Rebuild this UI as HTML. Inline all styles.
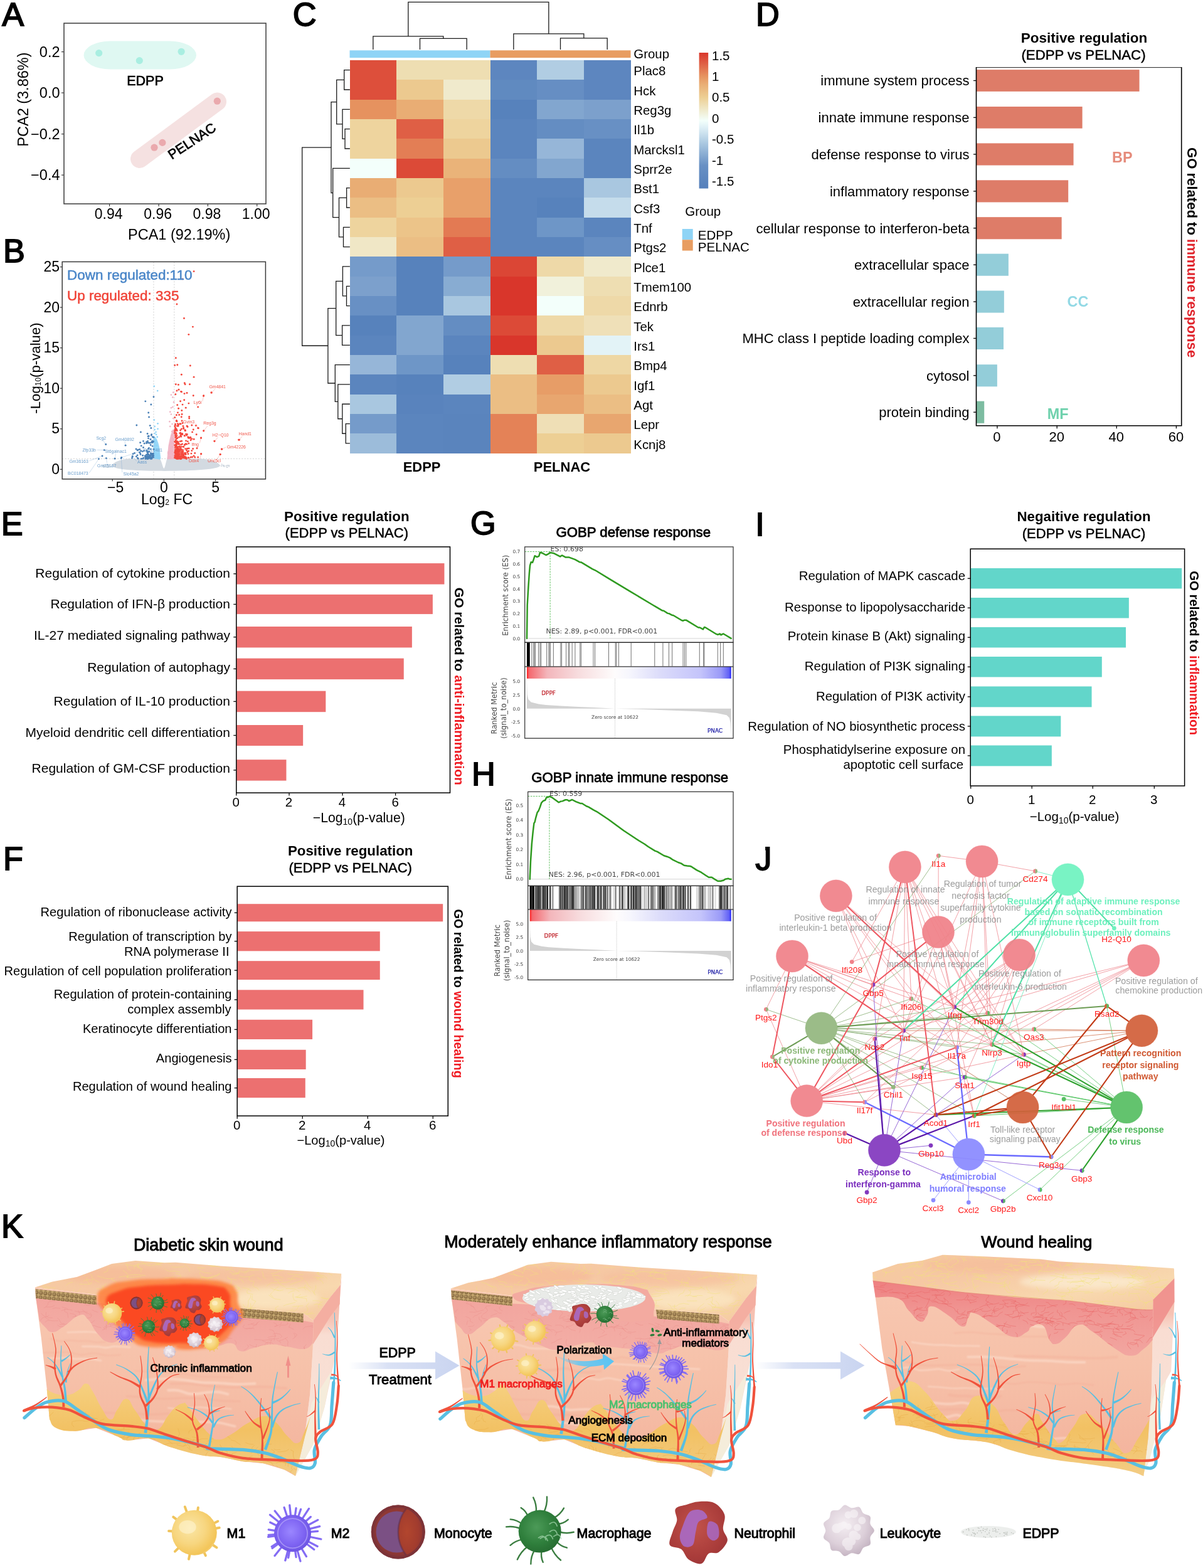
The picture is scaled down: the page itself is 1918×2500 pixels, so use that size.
<!DOCTYPE html>
<html lang="en"><head><meta charset="utf-8"><title>Figure</title>
<style>
html,body{margin:0;padding:0;background:#fff;}
body{width:1918px;height:2500px;overflow:hidden;}
svg{display:block;font-family:"Liberation Sans",Arial,Helvetica,sans-serif;}
.dj{font-family:"DejaVu Sans","Liberation Sans",sans-serif;}
</style></head><body>
<svg width="1918" height="2500" viewBox="0 0 1918 2500">
<defs>
<linearGradient id="hmleg" x1="0" y1="0" x2="0" y2="1"><stop offset="0" stop-color="#d9362b"/><stop offset="0.08" stop-color="#df5f45"/><stop offset="0.17" stop-color="#e6925f"/><stop offset="0.23" stop-color="#e9ad74"/><stop offset="0.33" stop-color="#edcf94"/><stop offset="0.43" stop-color="#f0ecd0"/><stop offset="0.5" stop-color="#f3fffb"/><stop offset="0.55" stop-color="#dff0f6"/><stop offset="0.67" stop-color="#a9c7e0"/><stop offset="0.83" stop-color="#6890c4"/><stop offset="1" stop-color="#5580bb"/></linearGradient>
<linearGradient id="gseabar" x1="0" y1="0" x2="1" y2="0"><stop offset="0" stop-color="#ff2020"/><stop offset="0.012" stop-color="#f46a70"/><stop offset="0.1" stop-color="#f3b6bb"/><stop offset="0.25" stop-color="#f7dcde"/><stop offset="0.43" stop-color="#fefcfc"/><stop offset="0.5" stop-color="#f6f6fd"/><stop offset="0.65" stop-color="#dcdcfa"/><stop offset="0.85" stop-color="#c4c4fb"/><stop offset="0.95" stop-color="#9a9af8"/><stop offset="0.99" stop-color="#6060f6"/><stop offset="1" stop-color="#2020ff"/></linearGradient>
<radialGradient id="gM1" cx="0.4" cy="0.4" r="0.7"><stop offset="0" stop-color="#fae6a6"/><stop offset="0.5" stop-color="#f7d680"/><stop offset="0.85" stop-color="#f3c558"/><stop offset="1" stop-color="#f6dc9c"/></radialGradient>
<radialGradient id="gM2" cx="0.45" cy="0.45" r="0.6"><stop offset="0" stop-color="#9a86ff"/><stop offset="0.6" stop-color="#7e64f2"/><stop offset="1" stop-color="#6a52e0"/></radialGradient>
<radialGradient id="gMono" cx="0.55" cy="0.45" r="0.62"><stop offset="0" stop-color="#a03c30"/><stop offset="0.7" stop-color="#8e3834"/><stop offset="1" stop-color="#7c3238"/></radialGradient>
<radialGradient id="gMonoIn" cx="0.35" cy="0.5" r="0.75"><stop offset="0" stop-color="#b2462e"/><stop offset="0.6" stop-color="#a23c2e"/><stop offset="1" stop-color="#863436"/></radialGradient>
<radialGradient id="gMac" cx="0.42" cy="0.4" r="0.65"><stop offset="0" stop-color="#4c9a58"/><stop offset="0.6" stop-color="#2f7f3c"/><stop offset="1" stop-color="#256a30"/></radialGradient>
<radialGradient id="gNeu" cx="0.45" cy="0.4" r="0.7"><stop offset="0" stop-color="#c2524a"/><stop offset="0.7" stop-color="#a93c3a"/><stop offset="1" stop-color="#983438"/></radialGradient>
<radialGradient id="gLeu" cx="0.42" cy="0.38" r="0.68"><stop offset="0" stop-color="#f4eef2"/><stop offset="0.6" stop-color="#ddd0da"/><stop offset="1" stop-color="#bfaebd"/></radialGradient>
<filter id="soft1" x="-20%" y="-20%" width="140%" height="140%"><feGaussianBlur stdDeviation="0.6"/></filter>
<linearGradient id="kTop" x1="0" y1="0" x2="1" y2="1"><stop offset="0" stop-color="#f6cb9e"/><stop offset="0.35" stop-color="#f6c8a4"/><stop offset="0.7" stop-color="#f8d8ae"/><stop offset="1" stop-color="#f5c9a0"/></linearGradient>
<linearGradient id="kDerm" x1="0" y1="0" x2="0" y2="1"><stop offset="0" stop-color="#f8c9b2"/><stop offset="0.5" stop-color="#f6c0a8"/><stop offset="1" stop-color="#f3b29c"/></linearGradient>
<linearGradient id="kPink" x1="0" y1="0" x2="0" y2="1"><stop offset="0" stop-color="#f2a59e"/><stop offset="1" stop-color="#f3aea6"/></linearGradient>
<linearGradient id="kPink3" x1="0" y1="0" x2="0" y2="1"><stop offset="0" stop-color="#ee7f80"/><stop offset="0.4" stop-color="#f09592"/><stop offset="1" stop-color="#f2a6a0"/></linearGradient>
<linearGradient id="kFat" x1="0" y1="0" x2="0" y2="1"><stop offset="0" stop-color="#f6d080"/><stop offset="0.5" stop-color="#f2c163"/><stop offset="1" stop-color="#f3cc84"/></linearGradient>
<linearGradient id="kSide" x1="0" y1="0" x2="0" y2="1"><stop offset="0" stop-color="#f4b2a4"/><stop offset="0.22" stop-color="#f6c3b4"/><stop offset="0.3" stop-color="#f9ddd2"/><stop offset="0.7" stop-color="#f8e1d6"/><stop offset="1" stop-color="#f5ecd9"/></linearGradient>
<radialGradient id="kWound" cx="0.5" cy="0.5" r="0.5"><stop offset="0" stop-color="#ff3c14"/><stop offset="0.6" stop-color="#ff461c"/><stop offset="0.85" stop-color="#ff6a2c" stop-opacity="0.95"/><stop offset="1" stop-color="#ff9a48" stop-opacity="0"/></radialGradient>
<linearGradient id="kArrow" x1="0" y1="0" x2="1" y2="0"><stop offset="0" stop-color="#d5def3" stop-opacity="0"/><stop offset="0.35" stop-color="#d3dcf3" stop-opacity="0.85"/><stop offset="1" stop-color="#c9d4f0"/></linearGradient>
<linearGradient id="kCyan" x1="0" y1="0" x2="1" y2="0"><stop offset="0" stop-color="#6cc8f0" stop-opacity="0"/><stop offset="0.4" stop-color="#62c6f2" stop-opacity="0.85"/><stop offset="1" stop-color="#58c4f4"/></linearGradient>
<filter id="blur2" x="-10%" y="-10%" width="120%" height="120%"><feGaussianBlur stdDeviation="2"/></filter>
<filter id="blur4" x="-20%" y="-20%" width="140%" height="140%"><feGaussianBlur stdDeviation="4"/></filter>
<filter id="blur1" x="-10%" y="-10%" width="120%" height="120%"><feGaussianBlur stdDeviation="0.9"/></filter>
<pattern id="kDots" width="7.1" height="7.2" patternUnits="userSpaceOnUse" patternTransform="rotate(6) translate(0 2.2)"><rect width="7.1" height="7.2" fill="#c6a870"/><circle cx="3.55" cy="3.6" r="3.1" fill="#8a6c42"/><circle cx="3.2" cy="3.2" r="1.8" fill="#ae9060"/></pattern><clipPath id="cf101"><path d="M74.64 2204.29L495.18 2240L485.36 2293.57L473.75 2348.04L405 2333.75L351.43 2329.29L280 2311.43L262.14 2301.61L226.43 2297.14L190.71 2290L155 2275.71L128.21 2283.75L101.43 2282.86L78.21 2268.57Z"/></clipPath><clipPath id="ct101"><path d="M55.89 2052.5L83.57 2043.57L122.86 2036.07L155 2023.93L178.21 2015L215.71 2010L262.14 2013.21L280 2012.86L351.43 2018.57L440.71 2023.93L512.14 2028.39L544.29 2030.71L542.5 2048.93L526.43 2068.57L499.64 2105.18L483.57 2093.57L380 2085.54L155 2064.11Z"/></clipPath><clipPath id="cf202"><path d="M737.54 2206.09L1158.08 2241.8L1148.26 2295.37L1136.65 2349.84L1067.9 2335.55L1014.33 2331.09L942.9 2313.23L925.04 2303.41L889.33 2298.94L853.61 2291.8L817.9 2277.51L791.11 2285.55L764.33 2284.66L741.11 2270.37Z"/></clipPath><clipPath id="ct202"><path d="M718.79 2054.3L746.47 2045.37L785.76 2037.87L817.9 2025.73L841.11 2016.8L878.61 2011.8L925.04 2015.01L942.9 2014.66L1014.33 2020.37L1103.61 2025.73L1175.04 2030.19L1207.19 2032.51L1205.4 2050.73L1189.33 2070.37L1162.54 2106.98L1146.47 2095.37L1042.9 2087.34L817.9 2065.91Z"/></clipPath>
</defs>
<rect x="0" y="0" width="1918" height="2500" fill="#ffffff"/>
<g id="panel-a">
<text transform="translate(3.2 40.5) scale(1 1)" font-size="52.3" stroke="#000" stroke-width="1.8" stroke-linejoin="miter">A</text>
<rect x="133.5" y="65.5" width="179.5" height="45" rx="42" ry="22.5" fill="#dff8f2"/>
<circle cx="157.7" cy="84.6" r="5.6" fill="#a9eee1"/>
<circle cx="222.3" cy="96.6" r="5.6" fill="#a9eee1"/>
<circle cx="289.1" cy="82.3" r="5.6" fill="#a9eee1"/>
<line x1="222.5" y1="253.5" x2="346.5" y2="162" stroke="#f5e1e1" stroke-width="29" stroke-linecap="round"/>
<circle cx="246" cy="235.2" r="5.6" fill="#eaa9ad"/>
<circle cx="258.9" cy="227.4" r="5.6" fill="#eaa9ad"/>
<circle cx="346.3" cy="161.2" r="5.6" fill="#eaa9ad"/>
<rect x="102" y="37" width="322" height="288" fill="none" stroke="#3a3a3a" stroke-width="1.5"/>
<line x1="98" y1="82.6" x2="102" y2="82.6" stroke="#3c3c3c" stroke-width="1.2"/>
<text x="95.5" y="90.9" font-size="23.5" text-anchor="end">0.2</text>
<line x1="98" y1="148" x2="102" y2="148" stroke="#3c3c3c" stroke-width="1.2"/>
<text x="95.5" y="156.3" font-size="23.5" text-anchor="end">0.0</text>
<line x1="98" y1="213.7" x2="102" y2="213.7" stroke="#3c3c3c" stroke-width="1.2"/>
<text x="95.5" y="222" font-size="23.5" text-anchor="end">−0.2</text>
<line x1="98" y1="279.1" x2="102" y2="279.1" stroke="#3c3c3c" stroke-width="1.2"/>
<text x="95.5" y="287.4" font-size="23.5" text-anchor="end">−0.4</text>
<line x1="174.6" y1="325" x2="174.6" y2="329" stroke="#3c3c3c" stroke-width="1.2"/>
<text x="173.1" y="348.5" font-size="23" text-anchor="middle">0.94</text>
<line x1="253.1" y1="325" x2="253.1" y2="329" stroke="#3c3c3c" stroke-width="1.2"/>
<text x="251.6" y="348.5" font-size="23" text-anchor="middle">0.96</text>
<line x1="331.4" y1="325" x2="331.4" y2="329" stroke="#3c3c3c" stroke-width="1.2"/>
<text x="329.9" y="348.5" font-size="23" text-anchor="middle">0.98</text>
<line x1="409.7" y1="325" x2="409.7" y2="329" stroke="#3c3c3c" stroke-width="1.2"/>
<text x="408.2" y="348.5" font-size="23" text-anchor="middle">1.00</text>
<text x="285.7" y="381.5" font-size="23.5" text-anchor="middle">PCA1 (92.19%)</text>
<text x="45.5" y="158.6" font-size="23.5" text-anchor="middle" transform="rotate(-90 45.5 158.6)">PCA2 (3.86%)</text>
<text x="231.5" y="136" font-size="21.5" text-anchor="middle" stroke="#000" stroke-width="0.7">EDPP</text>
<text x="310" y="231" font-size="21.5" text-anchor="middle" transform="rotate(-33.5 310 231)" stroke="#000" stroke-width="0.7">PELNAC</text>
</g>
<g id="panel-b">
<text transform="translate(5.1 417.7) scale(1 1)" font-size="52.3" stroke="#000" stroke-width="1.8" stroke-linejoin="miter">B</text>
<line x1="244.96" y1="417.4" x2="244.96" y2="763.8" stroke="#c9c9c9" stroke-width="0.8" stroke-dasharray="2.2 2.2"/>
<line x1="277.84" y1="417.4" x2="277.84" y2="763.8" stroke="#c9c9c9" stroke-width="0.8" stroke-dasharray="2.2 2.2"/>
<line x1="99.2" y1="731.39" x2="423.4" y2="731.39" stroke="#c9c9c9" stroke-width="0.8" stroke-dasharray="2.2 2.2"/>
<path d="M 179.2 742.49 C 180.84 736.68 190.71 732.81 205.5 731.52 L 255.15 731.52 C 258.11 736.68 259.76 746.36 261.4 747.01 C 263.04 746.36 264.36 736.68 266.33 731.52 L 320.58 731.52 C 337.02 732.81 348.53 736.68 351 742.49 C 348.53 748.3 310.72 750.88 261.4 750.88 C 212.08 750.88 180.84 748.3 179.2 742.49 Z" fill="#d3dae1"/>
<g fill="#d3dae1"><circle cx="190.72" cy="738.6" r="1.15"/><circle cx="174.48" cy="741.79" r="1.15"/><circle cx="171.49" cy="742.33" r="1.15"/><circle cx="167.24" cy="743.2" r="1.15"/><circle cx="173.94" cy="744.43" r="1.15"/><circle cx="330.75" cy="743.32" r="1.15"/><circle cx="205.71" cy="736.57" r="1.15"/><circle cx="355.78" cy="742.59" r="1.15"/><circle cx="361.7" cy="745.06" r="1.15"/><circle cx="337.3" cy="742.32" r="1.15"/><circle cx="189.35" cy="743.51" r="1.15"/><circle cx="328.53" cy="742.65" r="1.15"/><circle cx="172.48" cy="744.66" r="1.15"/><circle cx="202.14" cy="736.5" r="1.15"/><circle cx="324.02" cy="736.84" r="1.15"/><circle cx="210.04" cy="736.6" r="1.15"/><circle cx="340.75" cy="739.36" r="1.15"/><circle cx="362.51" cy="744.8" r="1.15"/><circle cx="316.31" cy="742.25" r="1.15"/><circle cx="167.59" cy="742.1" r="1.15"/><circle cx="317.85" cy="737.33" r="1.15"/><circle cx="340.82" cy="742.43" r="1.15"/><circle cx="333.47" cy="736.23" r="1.15"/><circle cx="172.04" cy="741.22" r="1.15"/><circle cx="365.19" cy="742.24" r="1.15"/><circle cx="218.42" cy="738.18" r="1.15"/><circle cx="164.15" cy="743.44" r="1.15"/><circle cx="194.28" cy="743.27" r="1.15"/><circle cx="171.68" cy="740.92" r="1.15"/><circle cx="186.26" cy="742.6" r="1.15"/><circle cx="339.98" cy="744.11" r="1.15"/><circle cx="342.46" cy="739.02" r="1.15"/><circle cx="338.44" cy="742.5" r="1.15"/><circle cx="342.63" cy="738.09" r="1.15"/><circle cx="190.73" cy="742.91" r="1.15"/><circle cx="207.52" cy="741.18" r="1.15"/><circle cx="213.9" cy="743.85" r="1.15"/><circle cx="356.9" cy="742.27" r="1.15"/><circle cx="170.66" cy="740.43" r="1.15"/><circle cx="321.04" cy="734.38" r="1.15"/><circle cx="324.75" cy="740.19" r="1.15"/><circle cx="180.92" cy="740.24" r="1.15"/><circle cx="172.37" cy="744.63" r="1.15"/><circle cx="202.72" cy="742.34" r="1.15"/><circle cx="170.36" cy="745.04" r="1.15"/><circle cx="190.81" cy="743.59" r="1.15"/><circle cx="164.75" cy="741.73" r="1.15"/><circle cx="190.24" cy="742.26" r="1.15"/><circle cx="184.92" cy="737.93" r="1.15"/><circle cx="365.19" cy="743.53" r="1.15"/><circle cx="177.26" cy="744.21" r="1.15"/><circle cx="214.31" cy="732.51" r="1.15"/><circle cx="192.91" cy="744.24" r="1.15"/><circle cx="356.46" cy="742.89" r="1.15"/><circle cx="189.84" cy="739.7" r="1.15"/><circle cx="165.07" cy="743.06" r="1.15"/><circle cx="362.16" cy="742.09" r="1.15"/><circle cx="213.56" cy="738.93" r="1.15"/><circle cx="194.07" cy="736.91" r="1.15"/><circle cx="320.85" cy="740.5" r="1.15"/><circle cx="205.67" cy="734.36" r="1.15"/><circle cx="363.49" cy="742.12" r="1.15"/><circle cx="326.45" cy="736.03" r="1.15"/><circle cx="312.73" cy="741.08" r="1.15"/><circle cx="165.48" cy="745.06" r="1.15"/><circle cx="217.35" cy="740.1" r="1.15"/><circle cx="357.61" cy="743.37" r="1.15"/><circle cx="353.57" cy="740.29" r="1.15"/><circle cx="357.29" cy="743.68" r="1.15"/><circle cx="205.14" cy="741.43" r="1.15"/><circle cx="200.22" cy="742.03" r="1.15"/><circle cx="345.97" cy="739.55" r="1.15"/><circle cx="325.11" cy="743.44" r="1.15"/><circle cx="347.93" cy="740.27" r="1.15"/><circle cx="314.86" cy="738.1" r="1.15"/><circle cx="196.45" cy="736.31" r="1.15"/><circle cx="325.36" cy="734.23" r="1.15"/><circle cx="355.6" cy="741.91" r="1.15"/><circle cx="194.69" cy="743.16" r="1.15"/><circle cx="190.78" cy="736.28" r="1.15"/><circle cx="326.53" cy="742.88" r="1.15"/><circle cx="330.68" cy="735.3" r="1.15"/><circle cx="186.6" cy="744.5" r="1.15"/><circle cx="360.59" cy="742.86" r="1.15"/><circle cx="352.87" cy="742.9" r="1.15"/><circle cx="340.05" cy="738.52" r="1.15"/><circle cx="203.19" cy="741.28" r="1.15"/><circle cx="209.3" cy="736.55" r="1.15"/><circle cx="213.2" cy="738.26" r="1.15"/><circle cx="186.62" cy="737.09" r="1.15"/><circle cx="346.79" cy="742.3" r="1.15"/><circle cx="349.57" cy="742.15" r="1.15"/></g>
<path d="M 244.96 731.52 L 256.47 731.52 L 254.5 714.73 C 251.54 700.53 247.43 695.37 244.96 695.37 Z" fill="#8fd4f7" opacity="0.9"/>
<g fill="#8fd4f7"><circle cx="249.69" cy="718.51" r="1.25"/><circle cx="246.62" cy="729.28" r="1.25"/><circle cx="245" cy="727.67" r="1.25"/><circle cx="249.24" cy="723.92" r="1.25"/><circle cx="251.52" cy="724.12" r="1.25"/><circle cx="249.65" cy="727.74" r="1.25"/><circle cx="249.98" cy="730.34" r="1.25"/><circle cx="250.03" cy="726.17" r="1.25"/><circle cx="247.21" cy="726.7" r="1.25"/><circle cx="249.55" cy="710.46" r="1.25"/><circle cx="250.04" cy="729.92" r="1.25"/><circle cx="248.97" cy="701.86" r="1.25"/><circle cx="250.5" cy="718.69" r="1.25"/><circle cx="251.22" cy="731.12" r="1.25"/><circle cx="249.05" cy="716.67" r="1.25"/><circle cx="253.47" cy="730.24" r="1.25"/><circle cx="251.28" cy="715.65" r="1.25"/><circle cx="247.31" cy="704.03" r="1.25"/><circle cx="250.02" cy="710.75" r="1.25"/><circle cx="246.2" cy="719.2" r="1.25"/><circle cx="246.06" cy="724.74" r="1.25"/><circle cx="247.14" cy="729.2" r="1.25"/><circle cx="245.62" cy="715" r="1.25"/><circle cx="253.07" cy="722.18" r="1.25"/><circle cx="246.36" cy="725.88" r="1.25"/><circle cx="246.25" cy="705.18" r="1.25"/><circle cx="252.94" cy="727.15" r="1.25"/><circle cx="253.57" cy="730.78" r="1.25"/><circle cx="248.56" cy="688.64" r="1.25"/><circle cx="252.49" cy="729.79" r="1.25"/><circle cx="246.42" cy="711.78" r="1.25"/><circle cx="248.03" cy="723.91" r="1.25"/><circle cx="246.73" cy="719.84" r="1.25"/><circle cx="245.14" cy="701.94" r="1.25"/><circle cx="249.97" cy="729.44" r="1.25"/><circle cx="247.96" cy="730.45" r="1.25"/><circle cx="250.6" cy="727.69" r="1.25"/><circle cx="253.87" cy="731.39" r="1.25"/><circle cx="252.09" cy="727.88" r="1.25"/><circle cx="247.36" cy="730.16" r="1.25"/><circle cx="245.32" cy="728.64" r="1.25"/><circle cx="246.13" cy="717.03" r="1.25"/><circle cx="248.78" cy="709.85" r="1.25"/><circle cx="247.3" cy="715.44" r="1.25"/><circle cx="246.31" cy="710.8" r="1.25"/><circle cx="251.29" cy="725.64" r="1.25"/><circle cx="245.77" cy="704.09" r="1.25"/><circle cx="248.81" cy="724.09" r="1.25"/><circle cx="245.61" cy="705.93" r="1.25"/><circle cx="252.21" cy="727.42" r="1.25"/><circle cx="245.72" cy="727.08" r="1.25"/><circle cx="252.76" cy="729.58" r="1.25"/><circle cx="249.06" cy="722.55" r="1.25"/><circle cx="253.34" cy="725.48" r="1.25"/><circle cx="247.38" cy="717.79" r="1.25"/><circle cx="247.12" cy="716.61" r="1.25"/><circle cx="245.95" cy="728.31" r="1.25"/><circle cx="246.78" cy="726.77" r="1.25"/><circle cx="247.78" cy="722.6" r="1.25"/><circle cx="247.58" cy="706.18" r="1.25"/><circle cx="249.48" cy="726.45" r="1.25"/><circle cx="245.12" cy="714.62" r="1.25"/><circle cx="247.22" cy="704.68" r="1.25"/><circle cx="249.94" cy="729.68" r="1.25"/><circle cx="246.67" cy="690.97" r="1.25"/><circle cx="245.92" cy="724.53" r="1.25"/><circle cx="252.36" cy="723.68" r="1.25"/><circle cx="252.51" cy="728.08" r="1.25"/><circle cx="248.51" cy="709.75" r="1.25"/><circle cx="253.84" cy="731.22" r="1.25"/><circle cx="245.78" cy="615.97" r="1.35"/><circle cx="251.21" cy="623.07" r="1.35"/><circle cx="245.78" cy="669.55" r="1.35"/><circle cx="251.54" cy="675.36" r="1.35"/><circle cx="246.6" cy="679.88" r="1.35"/><circle cx="251.54" cy="683.75" r="1.35"/><circle cx="246.6" cy="685.04" r="1.35"/><circle cx="249.07" cy="692.79" r="1.35"/><circle cx="250.71" cy="696.66" r="1.35"/></g>
<path d="M 277.84 731.52 L 266.33 731.52 L 268.3 712.15 C 271.26 694.08 274.55 685.04 277.84 683.75 Z" fill="#f0b6c6" opacity="0.95"/>
<g fill="#f0b6c6"><circle cx="271.36" cy="718.34" r="1.25"/><circle cx="274.25" cy="698.29" r="1.25"/><circle cx="271.97" cy="727.94" r="1.25"/><circle cx="269.26" cy="728.33" r="1.25"/><circle cx="268.67" cy="731.07" r="1.25"/><circle cx="269.59" cy="721.93" r="1.25"/><circle cx="268.81" cy="719.98" r="1.25"/><circle cx="274.59" cy="688.59" r="1.25"/><circle cx="270.76" cy="730.89" r="1.25"/><circle cx="272.51" cy="714.92" r="1.25"/><circle cx="269.53" cy="722.41" r="1.25"/><circle cx="277.46" cy="723.01" r="1.25"/><circle cx="277.57" cy="707.97" r="1.25"/><circle cx="277.5" cy="724.38" r="1.25"/><circle cx="271.03" cy="731.05" r="1.25"/><circle cx="271.74" cy="730.86" r="1.25"/><circle cx="272.66" cy="717.89" r="1.25"/><circle cx="272.95" cy="731.27" r="1.25"/><circle cx="268.02" cy="731.19" r="1.25"/><circle cx="271.92" cy="723.55" r="1.25"/><circle cx="268.39" cy="723.56" r="1.25"/><circle cx="270.27" cy="729.81" r="1.25"/><circle cx="273.75" cy="693.61" r="1.25"/><circle cx="274.46" cy="723.94" r="1.25"/><circle cx="275.04" cy="712.49" r="1.25"/><circle cx="271.19" cy="720.16" r="1.25"/><circle cx="277.69" cy="700.07" r="1.25"/><circle cx="274.32" cy="699.67" r="1.25"/><circle cx="268.41" cy="721.29" r="1.25"/><circle cx="274.16" cy="687.65" r="1.25"/><circle cx="275.21" cy="725.91" r="1.25"/><circle cx="273.14" cy="720.59" r="1.25"/><circle cx="272.95" cy="712.13" r="1.25"/><circle cx="276.13" cy="686.09" r="1.25"/><circle cx="273.74" cy="704.15" r="1.25"/><circle cx="274.81" cy="707.09" r="1.25"/><circle cx="270.24" cy="724.08" r="1.25"/><circle cx="271.53" cy="729.7" r="1.25"/><circle cx="269.01" cy="724.27" r="1.25"/><circle cx="274.17" cy="704.97" r="1.25"/><circle cx="274.15" cy="719.7" r="1.25"/><circle cx="268.01" cy="722.61" r="1.25"/><circle cx="275.84" cy="731.15" r="1.25"/><circle cx="273.26" cy="705.66" r="1.25"/><circle cx="274.48" cy="694.15" r="1.25"/><circle cx="270.46" cy="721.81" r="1.25"/><circle cx="268.71" cy="729.9" r="1.25"/><circle cx="270" cy="709.7" r="1.25"/><circle cx="275.27" cy="700.35" r="1.25"/><circle cx="271.75" cy="728.32" r="1.25"/><circle cx="272.7" cy="717.39" r="1.25"/><circle cx="274.06" cy="694.18" r="1.25"/><circle cx="274.32" cy="719.25" r="1.25"/><circle cx="270.48" cy="727.61" r="1.25"/><circle cx="275.31" cy="719.75" r="1.25"/><circle cx="268.1" cy="720.89" r="1.25"/><circle cx="268.57" cy="729.77" r="1.25"/><circle cx="274.8" cy="693.24" r="1.25"/><circle cx="274.64" cy="723.74" r="1.25"/><circle cx="272.56" cy="708.09" r="1.25"/><circle cx="276.2" cy="625.65" r="1.3"/><circle cx="272.91" cy="629.53" r="1.3"/><circle cx="275.37" cy="633.4" r="1.3"/><circle cx="277.02" cy="641.15" r="1.3"/><circle cx="272.91" cy="650.18" r="1.3"/><circle cx="275.37" cy="648.89" r="1.3"/><circle cx="271.26" cy="656.64" r="1.3"/><circle cx="272.91" cy="660.51" r="1.3"/><circle cx="276.2" cy="666.97" r="1.3"/><circle cx="270.44" cy="672.13" r="1.3"/><circle cx="274.55" cy="676" r="1.3"/><circle cx="271.26" cy="679.88" r="1.3"/></g>
<g fill="#4a80b6"><circle cx="237.69" cy="729.82" r="1.4"/><circle cx="237.22" cy="724.97" r="1.4"/><circle cx="210.57" cy="730.27" r="1.4"/><circle cx="228.66" cy="730.06" r="1.4"/><circle cx="228.45" cy="703.28" r="1.4"/><circle cx="233.84" cy="727.98" r="1.4"/><circle cx="236.05" cy="695.71" r="1.4"/><circle cx="240.19" cy="709.5" r="1.4"/><circle cx="233.62" cy="718.04" r="1.4"/><circle cx="237.41" cy="729.03" r="1.4"/><circle cx="237.43" cy="714.32" r="1.4"/><circle cx="227.48" cy="719.87" r="1.4"/><circle cx="241.27" cy="693.99" r="1.4"/><circle cx="241.65" cy="731.17" r="1.4"/><circle cx="227.75" cy="731.21" r="1.4"/><circle cx="233.01" cy="727.92" r="1.4"/><circle cx="236.35" cy="720.54" r="1.4"/><circle cx="233.53" cy="706.65" r="1.4"/><circle cx="220.3" cy="731.37" r="1.4"/><circle cx="240.99" cy="723.99" r="1.4"/><circle cx="224.04" cy="724.55" r="1.4"/><circle cx="234.99" cy="724.4" r="1.4"/><circle cx="234.69" cy="720.94" r="1.4"/><circle cx="225.22" cy="731.41" r="1.4"/><circle cx="234.94" cy="719.49" r="1.4"/><circle cx="244.23" cy="725.6" r="1.4"/><circle cx="222.43" cy="721.15" r="1.4"/><circle cx="237.27" cy="695.25" r="1.4"/><circle cx="244.91" cy="716.31" r="1.4"/><circle cx="235.38" cy="730.85" r="1.4"/><circle cx="219.07" cy="717.88" r="1.4"/><circle cx="224.75" cy="719.11" r="1.4"/><circle cx="222.69" cy="716.48" r="1.4"/><circle cx="227.56" cy="726.24" r="1.4"/><circle cx="244.06" cy="725.59" r="1.4"/><circle cx="243.17" cy="711.33" r="1.4"/><circle cx="244.6" cy="703.9" r="1.4"/><circle cx="243.9" cy="725.69" r="1.4"/><circle cx="238.04" cy="727.76" r="1.4"/><circle cx="231.59" cy="729.39" r="1.4"/><circle cx="237.79" cy="706.28" r="1.4"/><circle cx="233.6" cy="729.88" r="1.4"/><circle cx="237.99" cy="720.13" r="1.4"/><circle cx="231.09" cy="726.9" r="1.4"/><circle cx="240.6" cy="722.55" r="1.4"/><circle cx="236.54" cy="698.88" r="1.4"/><circle cx="234.53" cy="731.33" r="1.4"/><circle cx="217.33" cy="727.95" r="1.4"/><circle cx="242.45" cy="728.7" r="1.4"/><circle cx="238.93" cy="727.55" r="1.4"/><circle cx="239.54" cy="730.62" r="1.4"/><circle cx="233.55" cy="704.65" r="1.4"/><circle cx="231.86" cy="731.49" r="1.4"/><circle cx="229.69" cy="718.51" r="1.4"/><circle cx="235.67" cy="721.67" r="1.4"/><circle cx="235.57" cy="720.25" r="1.4"/><circle cx="240.43" cy="722.72" r="1.4"/><circle cx="243.41" cy="705.22" r="1.4"/><circle cx="244.52" cy="722.81" r="1.4"/><circle cx="237.13" cy="729.94" r="1.4"/><circle cx="233.87" cy="718.92" r="1.4"/><circle cx="235.49" cy="703.44" r="1.4"/><circle cx="236.75" cy="729.22" r="1.4"/><circle cx="242.73" cy="703.24" r="1.4"/><circle cx="240.28" cy="716.04" r="1.4"/><circle cx="234.75" cy="731.28" r="1.4"/><circle cx="244.81" cy="697.24" r="1.4"/><circle cx="223.64" cy="722.79" r="1.4"/><circle cx="219.08" cy="725.83" r="1.4"/><circle cx="243.02" cy="723.23" r="1.4"/><circle cx="239.54" cy="706.17" r="1.4"/><circle cx="241.82" cy="704.73" r="1.4"/><circle cx="236.45" cy="715.65" r="1.4"/><circle cx="224.84" cy="719" r="1.4"/><circle cx="233.12" cy="725.46" r="1.4"/><circle cx="235.5" cy="724.39" r="1.4"/><circle cx="240.59" cy="729.16" r="1.4"/><circle cx="234.21" cy="729.57" r="1.4"/><circle cx="240.48" cy="726.11" r="1.4"/><circle cx="234.01" cy="730.97" r="1.4"/><circle cx="239.1" cy="727" r="1.4"/><circle cx="237.42" cy="729.79" r="1.4"/><circle cx="240.04" cy="731.44" r="1.4"/><circle cx="236.35" cy="727.95" r="1.4"/><circle cx="244.45" cy="726.52" r="1.4"/><circle cx="243.53" cy="727.84" r="1.4"/><circle cx="235.52" cy="729.6" r="1.4"/><circle cx="244.47" cy="726.06" r="1.4"/><circle cx="236.42" cy="731.35" r="1.4"/><circle cx="238.77" cy="726.29" r="1.4"/><circle cx="237.81" cy="729.52" r="1.4"/><circle cx="240.86" cy="724.35" r="1.4"/><circle cx="235.43" cy="731.25" r="1.4"/><circle cx="236.8" cy="728.26" r="1.4"/><circle cx="241.05" cy="729.98" r="1.4"/><circle cx="242.46" cy="725.79" r="1.4"/><circle cx="238.86" cy="729.93" r="1.4"/><circle cx="244.59" cy="729.1" r="1.4"/><circle cx="242.74" cy="729.73" r="1.4"/><circle cx="235.36" cy="725.63" r="1.4"/><circle cx="236.27" cy="724.14" r="1.4"/><circle cx="238.74" cy="730.07" r="1.4"/><circle cx="235.38" cy="728.29" r="1.4"/><circle cx="240.83" cy="724.17" r="1.4"/><circle cx="234.43" cy="728.47" r="1.4"/><circle cx="235.26" cy="723.97" r="1.4"/><circle cx="234.38" cy="731.12" r="1.4"/><circle cx="233.37" cy="728.47" r="1.4"/><circle cx="243.7" cy="724.67" r="1.4"/><circle cx="241.66" cy="723.79" r="1.4"/><circle cx="244.12" cy="728.97" r="1.4"/><circle cx="234.92" cy="724.27" r="1.4"/><circle cx="241.83" cy="731.27" r="1.4"/><circle cx="240.82" cy="728.58" r="1.4"/><circle cx="244.96" cy="632.76" r="1.45"/><circle cx="231.81" cy="639.86" r="1.45"/><circle cx="240.85" cy="645.02" r="1.45"/><circle cx="236.74" cy="657.93" r="1.45"/><circle cx="237.56" cy="665.03" r="1.45"/><circle cx="217.83" cy="677.94" r="1.45"/><circle cx="239.21" cy="678.59" r="1.45"/><circle cx="240.85" cy="682.46" r="1.45"/><circle cx="224.41" cy="688.91" r="1.45"/><circle cx="235.1" cy="691.5" r="1.45"/><circle cx="241.67" cy="692.79" r="1.45"/><circle cx="243.32" cy="696.66" r="1.45"/><circle cx="240.03" cy="700.53" r="1.45"/><circle cx="223.59" cy="705.7" r="1.45"/><circle cx="230.16" cy="706.99" r="1.45"/><circle cx="225.23" cy="710.86" r="1.45"/><circle cx="217.01" cy="716.02" r="1.45"/><circle cx="220.3" cy="717.32" r="1.45"/><circle cx="212.08" cy="723.77" r="1.45"/><circle cx="214.55" cy="722.48" r="1.45"/><circle cx="211.26" cy="727.64" r="1.45"/><circle cx="219.48" cy="730.23" r="1.45"/><circle cx="235.92" cy="705.7" r="1.45"/><circle cx="242.49" cy="705.7" r="1.45"/><circle cx="228.52" cy="713.44" r="1.45"/></g>
<path d="M 278.17 731.52 L 295.1 731.52 L 292.64 716.02 L 278.17 714.73 Z" fill="#f4473c" opacity="0.85"/>
<g fill="#f4473c"><circle cx="282.47" cy="719.42" r="1.45"/><circle cx="282.02" cy="731.51" r="1.45"/><circle cx="284.87" cy="723.68" r="1.45"/><circle cx="296.64" cy="729.21" r="1.45"/><circle cx="303.05" cy="698.51" r="1.45"/><circle cx="281.4" cy="692.1" r="1.45"/><circle cx="289.5" cy="692.07" r="1.45"/><circle cx="281.9" cy="714.27" r="1.45"/><circle cx="279.95" cy="719.47" r="1.45"/><circle cx="285.4" cy="719.88" r="1.45"/><circle cx="282.25" cy="686.55" r="1.45"/><circle cx="290.79" cy="692.8" r="1.45"/><circle cx="280.73" cy="695.98" r="1.45"/><circle cx="281.51" cy="730.69" r="1.45"/><circle cx="279.16" cy="684.8" r="1.45"/><circle cx="279.23" cy="686.43" r="1.45"/><circle cx="298.76" cy="721.07" r="1.45"/><circle cx="282.67" cy="705.87" r="1.45"/><circle cx="309.04" cy="726.84" r="1.45"/><circle cx="280.57" cy="723.86" r="1.45"/><circle cx="288.85" cy="731.5" r="1.45"/><circle cx="279.31" cy="704.8" r="1.45"/><circle cx="305.79" cy="699.58" r="1.45"/><circle cx="287.23" cy="714.18" r="1.45"/><circle cx="279.7" cy="681.98" r="1.45"/><circle cx="290.01" cy="724.86" r="1.45"/><circle cx="281.81" cy="716.6" r="1.45"/><circle cx="306.6" cy="728.79" r="1.45"/><circle cx="279.49" cy="693.46" r="1.45"/><circle cx="279.99" cy="695.56" r="1.45"/><circle cx="301.21" cy="715.02" r="1.45"/><circle cx="283.41" cy="720" r="1.45"/><circle cx="287.89" cy="694.9" r="1.45"/><circle cx="285.52" cy="696.94" r="1.45"/><circle cx="282.23" cy="725.01" r="1.45"/><circle cx="281.31" cy="709.77" r="1.45"/><circle cx="279.61" cy="721.68" r="1.45"/><circle cx="303.7" cy="697.29" r="1.45"/><circle cx="281.5" cy="724.3" r="1.45"/><circle cx="283.13" cy="712.89" r="1.45"/><circle cx="281.13" cy="699.87" r="1.45"/><circle cx="286.84" cy="717.27" r="1.45"/><circle cx="281.28" cy="705.66" r="1.45"/><circle cx="287.73" cy="690.26" r="1.45"/><circle cx="296.52" cy="702.85" r="1.45"/><circle cx="295.45" cy="723.09" r="1.45"/><circle cx="294.64" cy="708.93" r="1.45"/><circle cx="292.42" cy="726.81" r="1.45"/><circle cx="292.79" cy="725" r="1.45"/><circle cx="278.54" cy="687.51" r="1.45"/><circle cx="285.44" cy="708.24" r="1.45"/><circle cx="284.05" cy="679.18" r="1.45"/><circle cx="289.32" cy="712.39" r="1.45"/><circle cx="280.95" cy="703.57" r="1.45"/><circle cx="300.6" cy="697.13" r="1.45"/><circle cx="289.53" cy="692.28" r="1.45"/><circle cx="286.72" cy="690.73" r="1.45"/><circle cx="281.37" cy="723.09" r="1.45"/><circle cx="280.15" cy="729.34" r="1.45"/><circle cx="290.61" cy="707.94" r="1.45"/><circle cx="309.11" cy="700.25" r="1.45"/><circle cx="295.51" cy="715.59" r="1.45"/><circle cx="296.12" cy="724.5" r="1.45"/><circle cx="283.5" cy="729.7" r="1.45"/><circle cx="307.64" cy="715.47" r="1.45"/><circle cx="284.63" cy="719.67" r="1.45"/><circle cx="284.24" cy="728.7" r="1.45"/><circle cx="281.03" cy="706.95" r="1.45"/><circle cx="287.4" cy="703.67" r="1.45"/><circle cx="278.87" cy="721.61" r="1.45"/><circle cx="280.12" cy="701.95" r="1.45"/><circle cx="282.56" cy="726.66" r="1.45"/><circle cx="288.13" cy="693.98" r="1.45"/><circle cx="282.59" cy="729.81" r="1.45"/><circle cx="279.66" cy="718.36" r="1.45"/><circle cx="295.07" cy="730.06" r="1.45"/><circle cx="283.79" cy="728.01" r="1.45"/><circle cx="282.59" cy="723.54" r="1.45"/><circle cx="290.26" cy="722.49" r="1.45"/><circle cx="288.55" cy="708.95" r="1.45"/><circle cx="281.43" cy="720.22" r="1.45"/><circle cx="299.66" cy="696.84" r="1.45"/><circle cx="290.68" cy="719.9" r="1.45"/><circle cx="284.81" cy="726.65" r="1.45"/><circle cx="297.15" cy="731.49" r="1.45"/><circle cx="288.88" cy="692.19" r="1.45"/><circle cx="285.84" cy="717.81" r="1.45"/><circle cx="288.49" cy="728.05" r="1.45"/><circle cx="287.54" cy="731.42" r="1.45"/><circle cx="295.06" cy="685.58" r="1.45"/><circle cx="283.95" cy="730.11" r="1.45"/><circle cx="286.87" cy="712.55" r="1.45"/><circle cx="286.58" cy="728.57" r="1.45"/><circle cx="281.44" cy="684.39" r="1.45"/><circle cx="292.97" cy="729.62" r="1.45"/><circle cx="300.58" cy="698.38" r="1.45"/><circle cx="279.66" cy="726.88" r="1.45"/><circle cx="298.99" cy="680.52" r="1.45"/><circle cx="299.42" cy="719.83" r="1.45"/><circle cx="304.91" cy="723.1" r="1.45"/><circle cx="287.6" cy="686.01" r="1.45"/><circle cx="295.07" cy="728.12" r="1.45"/><circle cx="294.12" cy="694.64" r="1.45"/><circle cx="280.52" cy="690.3" r="1.45"/><circle cx="290.69" cy="691.55" r="1.45"/><circle cx="281.87" cy="718.14" r="1.45"/><circle cx="286.23" cy="711.79" r="1.45"/><circle cx="283.04" cy="725.02" r="1.45"/><circle cx="282.55" cy="698.85" r="1.45"/><circle cx="281.19" cy="709.2" r="1.45"/><circle cx="280.48" cy="696.62" r="1.45"/><circle cx="301.19" cy="730.11" r="1.45"/><circle cx="283.92" cy="706.95" r="1.45"/><circle cx="294.8" cy="722.55" r="1.45"/><circle cx="283.69" cy="717.11" r="1.45"/><circle cx="289.61" cy="703.21" r="1.45"/><circle cx="284.78" cy="715.71" r="1.45"/><circle cx="280.82" cy="705.75" r="1.45"/><circle cx="279.35" cy="713.39" r="1.45"/><circle cx="280.27" cy="695.06" r="1.45"/><circle cx="299.18" cy="715.1" r="1.45"/><circle cx="284.31" cy="729.66" r="1.45"/><circle cx="290.95" cy="729.08" r="1.45"/><circle cx="283.24" cy="715.96" r="1.45"/><circle cx="280.62" cy="712.23" r="1.45"/><circle cx="295.3" cy="730.27" r="1.45"/><circle cx="282.78" cy="698.27" r="1.45"/><circle cx="280.88" cy="730.85" r="1.45"/><circle cx="292.87" cy="712.58" r="1.45"/><circle cx="300.12" cy="729.77" r="1.45"/><circle cx="299.35" cy="703.86" r="1.45"/><circle cx="298.34" cy="692.57" r="1.45"/><circle cx="278.82" cy="727" r="1.45"/><circle cx="292.59" cy="681.99" r="1.45"/><circle cx="279.98" cy="685.11" r="1.45"/><circle cx="289.38" cy="684" r="1.45"/><circle cx="297.04" cy="730.63" r="1.45"/><circle cx="290.6" cy="728.17" r="1.45"/><circle cx="295.02" cy="686.58" r="1.45"/><circle cx="281.88" cy="728.64" r="1.45"/><circle cx="300.73" cy="719.11" r="1.45"/><circle cx="285.72" cy="724.38" r="1.45"/><circle cx="282.4" cy="712.46" r="1.45"/><circle cx="279.75" cy="727.4" r="1.45"/><circle cx="281.4" cy="728.09" r="1.45"/><circle cx="295.47" cy="686.67" r="1.45"/><circle cx="285.57" cy="727.85" r="1.45"/><circle cx="279.66" cy="711.05" r="1.45"/><circle cx="284.28" cy="704.65" r="1.45"/><circle cx="294.27" cy="709.62" r="1.45"/><circle cx="297.65" cy="708.13" r="1.45"/><circle cx="282.62" cy="679.14" r="1.45"/><circle cx="282.23" cy="705.06" r="1.45"/><circle cx="295.69" cy="724.31" r="1.45"/><circle cx="291.92" cy="679.34" r="1.45"/><circle cx="288.64" cy="696.13" r="1.45"/><circle cx="283.78" cy="715.95" r="1.45"/><circle cx="287.37" cy="730.96" r="1.45"/><circle cx="296.56" cy="692.23" r="1.45"/><circle cx="278.74" cy="679.85" r="1.45"/><circle cx="295.94" cy="707.78" r="1.45"/><circle cx="283.84" cy="731.51" r="1.45"/><circle cx="287.48" cy="731.19" r="1.45"/><circle cx="288.42" cy="716.48" r="1.45"/><circle cx="292.1" cy="712.09" r="1.45"/><circle cx="283.53" cy="725.78" r="1.45"/><circle cx="282.34" cy="703.58" r="1.45"/><circle cx="279.22" cy="720.32" r="1.45"/><circle cx="278.46" cy="729.68" r="1.45"/><circle cx="283.81" cy="707.92" r="1.45"/><circle cx="285.2" cy="707.58" r="1.45"/><circle cx="283.23" cy="714.19" r="1.45"/><circle cx="294.87" cy="728.9" r="1.45"/><circle cx="286.82" cy="728.46" r="1.45"/><circle cx="281.91" cy="729.95" r="1.45"/><circle cx="294.46" cy="694.9" r="1.45"/><circle cx="297.39" cy="718.03" r="1.45"/><circle cx="278.5" cy="704.1" r="1.45"/><circle cx="280.2" cy="709.2" r="1.45"/><circle cx="288.8" cy="715.87" r="1.45"/><circle cx="292.68" cy="683.5" r="1.45"/><circle cx="279.3" cy="686.06" r="1.45"/><circle cx="287.6" cy="731.03" r="1.45"/><circle cx="290.67" cy="725.38" r="1.45"/><circle cx="280.81" cy="730.77" r="1.45"/><circle cx="278.68" cy="709.87" r="1.45"/><circle cx="280.25" cy="683.21" r="1.45"/><circle cx="283.49" cy="706.42" r="1.45"/><circle cx="284.75" cy="712.41" r="1.45"/><circle cx="292.56" cy="727.65" r="1.45"/><circle cx="295.88" cy="722.41" r="1.45"/><circle cx="279.54" cy="687.12" r="1.45"/><circle cx="282.03" cy="694.85" r="1.45"/><circle cx="278.63" cy="690.44" r="1.45"/><circle cx="279.69" cy="697.47" r="1.45"/><circle cx="298.14" cy="715.41" r="1.45"/><circle cx="282.73" cy="725.83" r="1.45"/><circle cx="285.41" cy="731.11" r="1.45"/><circle cx="283.84" cy="721.23" r="1.45"/><circle cx="278.37" cy="690.38" r="1.45"/><circle cx="291" cy="674.55" r="1.45"/><circle cx="284.61" cy="651.2" r="1.45"/><circle cx="281.25" cy="671.61" r="1.45"/><circle cx="288.05" cy="675.97" r="1.45"/><circle cx="290.06" cy="660.49" r="1.45"/><circle cx="279.58" cy="676.25" r="1.45"/><circle cx="279.32" cy="678.52" r="1.45"/><circle cx="284.35" cy="677.25" r="1.45"/><circle cx="298.1" cy="679.27" r="1.45"/><circle cx="285.64" cy="661.38" r="1.45"/><circle cx="283.35" cy="675.66" r="1.45"/><circle cx="296.23" cy="650.14" r="1.45"/><circle cx="287.58" cy="639.79" r="1.45"/><circle cx="298.02" cy="626.52" r="1.45"/><circle cx="281.33" cy="661.75" r="1.45"/><circle cx="293.69" cy="637.77" r="1.45"/><circle cx="283.41" cy="657.86" r="1.45"/><circle cx="281.35" cy="670.49" r="1.45"/><circle cx="289.48" cy="624.75" r="1.45"/><circle cx="286.82" cy="675.8" r="1.45"/><circle cx="279.85" cy="628.69" r="1.45"/><circle cx="290.08" cy="671.06" r="1.45"/><circle cx="282.1" cy="671.73" r="1.45"/><circle cx="278.76" cy="665.67" r="1.45"/><circle cx="289.24" cy="664.71" r="1.45"/><circle cx="291.03" cy="645.12" r="1.45"/><circle cx="282.74" cy="645.63" r="1.45"/><circle cx="289.81" cy="654.55" r="1.45"/><circle cx="294.02" cy="627.58" r="1.45"/><circle cx="284.99" cy="621.25" r="1.45"/><circle cx="309.08" cy="432.65" r="1.45"/><circle cx="290.99" cy="444.91" r="1.45"/><circle cx="281.95" cy="484.94" r="1.45"/><circle cx="293.46" cy="507.53" r="1.45"/><circle cx="307.43" cy="521.08" r="1.45"/><circle cx="300.86" cy="533.35" r="1.45"/><circle cx="280.31" cy="570.79" r="1.45"/><circle cx="278.66" cy="582.41" r="1.45"/><circle cx="282.77" cy="581.76" r="1.45"/><circle cx="303.32" cy="583.05" r="1.45"/><circle cx="289.35" cy="597.25" r="1.45"/><circle cx="309.08" cy="601.13" r="1.45"/><circle cx="294.28" cy="610.81" r="1.45"/><circle cx="295.1" cy="612.74" r="1.45"/><circle cx="280.31" cy="612.74" r="1.45"/><circle cx="284.42" cy="613.39" r="1.45"/><circle cx="302.5" cy="612.74" r="1.45"/><circle cx="281.95" cy="623.07" r="1.45"/><circle cx="288.53" cy="624.36" r="1.45"/><circle cx="308.25" cy="630.82" r="1.45"/><circle cx="324.69" cy="630.82" r="1.45"/><circle cx="300.86" cy="643.08" r="1.45"/><circle cx="315.65" cy="648.89" r="1.45"/><circle cx="337.02" cy="625.65" r="1.45"/><circle cx="312.36" cy="678.59" r="1.45"/><circle cx="315.65" cy="682.46" r="1.45"/><circle cx="324.69" cy="686.98" r="1.45"/><circle cx="341.96" cy="703.12" r="1.45"/><circle cx="380.59" cy="701.18" r="1.45"/><circle cx="320.58" cy="697.95" r="1.45"/><circle cx="353.46" cy="716.02" r="1.45"/><circle cx="320.58" cy="723.77" r="1.45"/><circle cx="351" cy="724.42" r="1.45"/><circle cx="301.68" cy="664.38" r="1.45"/><circle cx="301.68" cy="666.97" r="1.45"/><circle cx="305.79" cy="677.94" r="1.45"/><circle cx="308.25" cy="685.04" r="1.45"/><circle cx="313.19" cy="692.79" r="1.45"/><circle cx="314.01" cy="714.73" r="1.45"/><circle cx="310.72" cy="722.48" r="1.45"/><circle cx="305.79" cy="718.61" r="1.45"/><circle cx="300.03" cy="723.77" r="1.45"/><circle cx="304.14" cy="728.93" r="1.45"/><circle cx="310.72" cy="728.93" r="1.45"/><circle cx="315.65" cy="728.93" r="1.45"/><circle cx="300.86" cy="706.99" r="1.45"/><circle cx="304.14" cy="701.82" r="1.45"/><circle cx="297.57" cy="694.08" r="1.45"/><circle cx="306.61" cy="688.91" r="1.45"/></g>
<g stroke="#f0564a" stroke-width="0.35" opacity="0.9"><line x1="342.99" y1="620.07" x2="337.12" y2="626.35"/><line x1="322.75" y1="639.91" x2="324.57" y2="631.41"/><line x1="311.62" y1="674.72" x2="316.27" y2="682.81"/><line x1="330.84" y1="679.17" x2="324.77" y2="686.86"/><line x1="347.44" y1="697.39" x2="341.97" y2="703.46"/><line x1="386.5" y1="695.36" x2="381.44" y2="701.23"/><line x1="318.29" y1="706.49" x2="320.52" y2="698.4"/><line x1="360.19" y1="712.97" x2="353.71" y2="716.21"/><line x1="318.7" y1="731.79" x2="320.72" y2="723.7"/><line x1="346.02" y1="731.79" x2="351.28" y2="724.51"/></g>
<g fill="#f4473c"><circle cx="337.12" cy="626.35" r="1.45"/><circle cx="324.57" cy="631.41" r="1.45"/><circle cx="316.27" cy="682.81" r="1.45"/><circle cx="324.77" cy="686.86" r="1.45"/><circle cx="341.97" cy="703.46" r="1.45"/><circle cx="381.44" cy="701.23" r="1.45"/><circle cx="320.52" cy="698.4" r="1.45"/><circle cx="353.71" cy="716.21" r="1.45"/><circle cx="320.72" cy="723.7" r="1.45"/><circle cx="351.28" cy="724.51" r="1.45"/></g>
<g fill="#f0564a" font-size="6.9" text-anchor="middle"><text x="346.63" y="618.83">Gm4841</text><text x="315.06" y="643.72">Ly6i</text><text x="301.09" y="675.09">Gvin3</text><text x="334.48" y="677.32">Reg3g</text><text x="351.69" y="695.74">H2−Q10</text><text x="390.75" y="693.51">Hand1</text><text x="311.21" y="711.32">Ifng</text><text x="376.78" y="714.76">Gm42226</text><text x="308.98" y="736.62">Ddx4</text><text x="341.57" y="737.43">Unc5cl</text></g>
<g stroke="#6a9dcb" stroke-width="0.35" opacity="0.9"><line x1="164.48" y1="702.65" x2="168.73" y2="708.52"/><line x1="198.88" y1="703.86" x2="200.1" y2="710.14"/><line x1="154.76" y1="717.42" x2="166.3" y2="717.62"/><line x1="184.52" y1="723.09" x2="183.1" y2="731.18"/><line x1="227.62" y1="718.43" x2="193.62" y2="729.36"/><line x1="142.22" y1="734.83" x2="163.06" y2="726.93"/><line x1="170.55" y1="737.86" x2="169.34" y2="730.58"/><line x1="217.91" y1="735.43" x2="211.03" y2="727.74"/><line x1="142.22" y1="754.05" x2="157.4" y2="731.79"/><line x1="194.84" y1="753.24" x2="193.22" y2="730.78"/></g>
<g fill="#4a80b6"><circle cx="168.73" cy="708.52" r="1.45"/><circle cx="200.1" cy="710.14" r="1.45"/><circle cx="166.3" cy="717.62" r="1.45"/><circle cx="183.1" cy="731.18" r="1.45"/><circle cx="193.62" cy="729.36" r="1.45"/><circle cx="163.06" cy="726.93" r="1.45"/><circle cx="169.34" cy="730.58" r="1.45"/><circle cx="211.03" cy="727.74" r="1.45"/><circle cx="157.4" cy="731.79" r="1.45"/><circle cx="193.22" cy="730.78" r="1.45"/></g>
<g fill="#6a9dcb" font-size="6.9" text-anchor="middle"><text x="161.24" y="701">Scg2</text><text x="198.68" y="702.62">Gm40892</text><text x="142.22" y="719.82">Zfp33b</text><text x="184.52" y="721.64">St6galnac1</text><text x="243.82" y="720.43">Gm12481</text><text x="125.62" y="738.44">Gm36163</text><text x="170.15" y="744.51">Gm35167</text><text x="226.61" y="738.85">Aass</text><text x="124.41" y="757.47">BC018473</text><text x="209" y="757.67">Slc45a2</text></g>
<rect x="99.2" y="417.4" width="324.2" height="346.4" fill="none" stroke="#3a3a3a" stroke-width="1.5"/>
<line x1="95.7" y1="425.55" x2="99.2" y2="425.55" stroke="#3c3c3c" stroke-width="1.2"/>
<text x="95" y="432.95" font-size="23" text-anchor="end">25</text>
<line x1="95.7" y1="490.1" x2="99.2" y2="490.1" stroke="#3c3c3c" stroke-width="1.2"/>
<text x="95" y="497.5" font-size="23" text-anchor="end">20</text>
<line x1="95.7" y1="554.65" x2="99.2" y2="554.65" stroke="#3c3c3c" stroke-width="1.2"/>
<text x="95" y="562.05" font-size="23" text-anchor="end">15</text>
<line x1="95.7" y1="619.2" x2="99.2" y2="619.2" stroke="#3c3c3c" stroke-width="1.2"/>
<text x="95" y="626.6" font-size="23" text-anchor="end">10</text>
<line x1="95.7" y1="683.75" x2="99.2" y2="683.75" stroke="#3c3c3c" stroke-width="1.2"/>
<text x="95" y="691.15" font-size="23" text-anchor="end">5</text>
<line x1="95.7" y1="748.3" x2="99.2" y2="748.3" stroke="#3c3c3c" stroke-width="1.2"/>
<text x="95" y="755.7" font-size="23" text-anchor="end">0</text>
<line x1="179.2" y1="763.8" x2="179.2" y2="767.3" stroke="#3c3c3c" stroke-width="1.2"/>
<text x="184.2" y="785" font-size="23" text-anchor="middle">−5</text>
<line x1="261.4" y1="763.8" x2="261.4" y2="767.3" stroke="#3c3c3c" stroke-width="1.2"/>
<text x="261.4" y="785" font-size="23" text-anchor="middle">0</text>
<line x1="343.6" y1="763.8" x2="343.6" y2="767.3" stroke="#3c3c3c" stroke-width="1.2"/>
<text x="343.6" y="785" font-size="23" text-anchor="middle">5</text>
<text x="266" y="804" font-size="23" text-anchor="middle">Log<tspan font-size="12" dy="1">2</tspan><tspan dy="-1"> FC</tspan></text>
<text x="63.5" y="587" font-size="22.2" text-anchor="middle" transform="rotate(-90 63.5 587)">-Log<tspan font-size="12" dy="1">10</tspan><tspan dy="-1">(p-value)</tspan></text>
<text x="107" y="446.3" font-size="22.47" fill="#4a86c8" stroke="#4a86c8" stroke-width="0.5">Down regulated:110</text>
<text x="107" y="479.4" font-size="22.45" fill="#f04438" stroke="#f04438" stroke-width="0.5">Up regulated: 335</text>
</g>
<g id="panel-c">
<text transform="translate(466.7 40.7) scale(1 1)" font-size="52.3" stroke="#000" stroke-width="1.8" stroke-linejoin="miter">C</text>
<rect x="557.5" y="80.3" width="224.01" height="11.8" fill="#8fd4f6"/>
<rect x="781.51" y="80.3" width="224.01" height="11.8" fill="#e89d61"/>
<g shape-rendering="crispEdges"><rect x="557.5" y="96" width="75.07" height="31.73" fill="#dd4f3b"/><rect x="632.17" y="96" width="75.07" height="31.73" fill="#eedeb2"/><rect x="706.84" y="96" width="75.07" height="31.73" fill="#eedeb2"/><rect x="781.51" y="96" width="75.07" height="31.73" fill="#5d86bf"/><rect x="856.18" y="96" width="75.07" height="31.73" fill="#b1cde3"/><rect x="930.85" y="96" width="75.07" height="31.73" fill="#5d86bf"/><rect x="557.5" y="127.33" width="75.07" height="31.73" fill="#dd4f3b"/><rect x="632.17" y="127.33" width="75.07" height="31.73" fill="#ecc98f"/><rect x="706.84" y="127.33" width="75.07" height="31.73" fill="#f0eacc"/><rect x="781.51" y="127.33" width="75.07" height="31.73" fill="#608ac0"/><rect x="856.18" y="127.33" width="75.07" height="31.73" fill="#668ec3"/><rect x="930.85" y="127.33" width="75.07" height="31.73" fill="#5d86bf"/><rect x="557.5" y="158.66" width="75.07" height="31.73" fill="#e6925f"/><rect x="632.17" y="158.66" width="75.07" height="31.73" fill="#e9ad74"/><rect x="706.84" y="158.66" width="75.07" height="31.73" fill="#eed9a8"/><rect x="781.51" y="158.66" width="75.07" height="31.73" fill="#5782bc"/><rect x="856.18" y="158.66" width="75.07" height="31.73" fill="#82a6cf"/><rect x="930.85" y="158.66" width="75.07" height="31.73" fill="#7ca0cc"/><rect x="557.5" y="189.99" width="75.07" height="31.73" fill="#eed49e"/><rect x="632.17" y="189.99" width="75.07" height="31.73" fill="#df5f45"/><rect x="706.84" y="189.99" width="75.07" height="31.73" fill="#eed49e"/><rect x="781.51" y="189.99" width="75.07" height="31.73" fill="#5b85be"/><rect x="856.18" y="189.99" width="75.07" height="31.73" fill="#648dc2"/><rect x="930.85" y="189.99" width="75.07" height="31.73" fill="#6890c4"/><rect x="557.5" y="221.32" width="75.07" height="31.73" fill="#eed49e"/><rect x="632.17" y="221.32" width="75.07" height="31.73" fill="#e37e55"/><rect x="706.84" y="221.32" width="75.07" height="31.73" fill="#ecc98f"/><rect x="781.51" y="221.32" width="75.07" height="31.73" fill="#5b85be"/><rect x="856.18" y="221.32" width="75.07" height="31.73" fill="#96b6d8"/><rect x="930.85" y="221.32" width="75.07" height="31.73" fill="#5b85be"/><rect x="557.5" y="252.65" width="75.07" height="31.73" fill="#f3fffb"/><rect x="632.17" y="252.65" width="75.07" height="31.73" fill="#dc4a37"/><rect x="706.84" y="252.65" width="75.07" height="31.73" fill="#eab379"/><rect x="781.51" y="252.65" width="75.07" height="31.73" fill="#648dc2"/><rect x="856.18" y="252.65" width="75.07" height="31.73" fill="#82a6cf"/><rect x="930.85" y="252.65" width="75.07" height="31.73" fill="#5b85be"/><rect x="557.5" y="283.98" width="75.07" height="31.73" fill="#e9ad74"/><rect x="632.17" y="283.98" width="75.07" height="31.73" fill="#ecc98f"/><rect x="706.84" y="283.98" width="75.07" height="31.73" fill="#e8a06a"/><rect x="781.51" y="283.98" width="75.07" height="31.73" fill="#5b85be"/><rect x="856.18" y="283.98" width="75.07" height="31.73" fill="#5b85be"/><rect x="930.85" y="283.98" width="75.07" height="31.73" fill="#a9c7e0"/><rect x="557.5" y="315.31" width="75.07" height="31.73" fill="#ebbe84"/><rect x="632.17" y="315.31" width="75.07" height="31.73" fill="#edcf94"/><rect x="706.84" y="315.31" width="75.07" height="31.73" fill="#e8a06a"/><rect x="781.51" y="315.31" width="75.07" height="31.73" fill="#5b85be"/><rect x="856.18" y="315.31" width="75.07" height="31.73" fill="#5782bc"/><rect x="930.85" y="315.31" width="75.07" height="31.73" fill="#c5dceb"/><rect x="557.5" y="346.64" width="75.07" height="31.73" fill="#eed49e"/><rect x="632.17" y="346.64" width="75.07" height="31.73" fill="#ecc489"/><rect x="706.84" y="346.64" width="75.07" height="31.73" fill="#e37a53"/><rect x="781.51" y="346.64" width="75.07" height="31.73" fill="#5b85be"/><rect x="856.18" y="346.64" width="75.07" height="31.73" fill="#6e96c7"/><rect x="930.85" y="346.64" width="75.07" height="31.73" fill="#5b85be"/><rect x="557.5" y="377.97" width="75.07" height="31.73" fill="#f0e7c6"/><rect x="632.17" y="377.97" width="75.07" height="31.73" fill="#ebbe84"/><rect x="706.84" y="377.97" width="75.07" height="31.73" fill="#df5f45"/><rect x="781.51" y="377.97" width="75.07" height="31.73" fill="#5b85be"/><rect x="856.18" y="377.97" width="75.07" height="31.73" fill="#5b85be"/><rect x="930.85" y="377.97" width="75.07" height="31.73" fill="#668ec3"/><rect x="557.5" y="409.3" width="75.07" height="31.73" fill="#759bca"/><rect x="632.17" y="409.3" width="75.07" height="31.73" fill="#5782bc"/><rect x="706.84" y="409.3" width="75.07" height="31.73" fill="#759bca"/><rect x="781.51" y="409.3" width="75.07" height="31.73" fill="#db4635"/><rect x="856.18" y="409.3" width="75.07" height="31.73" fill="#eed9a8"/><rect x="930.85" y="409.3" width="75.07" height="31.73" fill="#f0eacc"/><rect x="557.5" y="440.63" width="75.07" height="31.73" fill="#7ca0cc"/><rect x="632.17" y="440.63" width="75.07" height="31.73" fill="#5782bc"/><rect x="706.84" y="440.63" width="75.07" height="31.73" fill="#88acd2"/><rect x="781.51" y="440.63" width="75.07" height="31.73" fill="#d9362b"/><rect x="856.18" y="440.63" width="75.07" height="31.73" fill="#f1f1db"/><rect x="930.85" y="440.63" width="75.07" height="31.73" fill="#eedeb2"/><rect x="557.5" y="471.96" width="75.07" height="31.73" fill="#6890c4"/><rect x="632.17" y="471.96" width="75.07" height="31.73" fill="#5782bc"/><rect x="706.84" y="471.96" width="75.07" height="31.73" fill="#a9c7e0"/><rect x="781.51" y="471.96" width="75.07" height="31.73" fill="#d9362b"/><rect x="856.18" y="471.96" width="75.07" height="31.73" fill="#f3fffb"/><rect x="930.85" y="471.96" width="75.07" height="31.73" fill="#eed9a8"/><rect x="557.5" y="503.29" width="75.07" height="31.73" fill="#5782bc"/><rect x="632.17" y="503.29" width="75.07" height="31.73" fill="#82a6cf"/><rect x="706.84" y="503.29" width="75.07" height="31.73" fill="#648dc2"/><rect x="781.51" y="503.29" width="75.07" height="31.73" fill="#dc4a37"/><rect x="856.18" y="503.29" width="75.07" height="31.73" fill="#eed9a8"/><rect x="930.85" y="503.29" width="75.07" height="31.73" fill="#efe0b8"/><rect x="557.5" y="534.62" width="75.07" height="31.73" fill="#5b85be"/><rect x="632.17" y="534.62" width="75.07" height="31.73" fill="#82a6cf"/><rect x="706.84" y="534.62" width="75.07" height="31.73" fill="#5b85be"/><rect x="781.51" y="534.62" width="75.07" height="31.73" fill="#d9362b"/><rect x="856.18" y="534.62" width="75.07" height="31.73" fill="#ecc98f"/><rect x="930.85" y="534.62" width="75.07" height="31.73" fill="#e3f3f7"/><rect x="557.5" y="565.95" width="75.07" height="31.73" fill="#96b6d8"/><rect x="632.17" y="565.95" width="75.07" height="31.73" fill="#6e96c7"/><rect x="706.84" y="565.95" width="75.07" height="31.73" fill="#5782bc"/><rect x="781.51" y="565.95" width="75.07" height="31.73" fill="#eedeb2"/><rect x="856.18" y="565.95" width="75.07" height="31.73" fill="#df5f45"/><rect x="930.85" y="565.95" width="75.07" height="31.73" fill="#eed7a4"/><rect x="557.5" y="597.28" width="75.07" height="31.73" fill="#5b85be"/><rect x="632.17" y="597.28" width="75.07" height="31.73" fill="#5782bc"/><rect x="706.84" y="597.28" width="75.07" height="31.73" fill="#b1cde3"/><rect x="781.51" y="597.28" width="75.07" height="31.73" fill="#ebbe84"/><rect x="856.18" y="597.28" width="75.07" height="31.73" fill="#e79d67"/><rect x="930.85" y="597.28" width="75.07" height="31.73" fill="#ecc98f"/><rect x="557.5" y="628.61" width="75.07" height="31.73" fill="#a9c7e0"/><rect x="632.17" y="628.61" width="75.07" height="31.73" fill="#5983bd"/><rect x="706.84" y="628.61" width="75.07" height="31.73" fill="#5b85be"/><rect x="781.51" y="628.61" width="75.07" height="31.73" fill="#ebbe84"/><rect x="856.18" y="628.61" width="75.07" height="31.73" fill="#e8a66f"/><rect x="930.85" y="628.61" width="75.07" height="31.73" fill="#ebbe84"/><rect x="557.5" y="659.94" width="75.07" height="31.73" fill="#759bca"/><rect x="632.17" y="659.94" width="75.07" height="31.73" fill="#5b85be"/><rect x="706.84" y="659.94" width="75.07" height="31.73" fill="#5a84bd"/><rect x="781.51" y="659.94" width="75.07" height="31.73" fill="#e48257"/><rect x="856.18" y="659.94" width="75.07" height="31.73" fill="#efdfb6"/><rect x="930.85" y="659.94" width="75.07" height="31.73" fill="#e8a66f"/><rect x="557.5" y="691.27" width="75.07" height="31.73" fill="#9cbcda"/><rect x="632.17" y="691.27" width="75.07" height="31.73" fill="#5b85be"/><rect x="706.84" y="691.27" width="75.07" height="31.73" fill="#5a84bd"/><rect x="781.51" y="691.27" width="75.07" height="31.73" fill="#e48257"/><rect x="856.18" y="691.27" width="75.07" height="31.73" fill="#edcf94"/><rect x="930.85" y="691.27" width="75.07" height="31.73" fill="#ecc98f"/></g>
<g font-size="20.4"><text x="1010.3" y="120.46">Plac8</text><text x="1010.3" y="151.8">Hck</text><text x="1010.3" y="183.12">Reg3g</text><text x="1010.3" y="214.46">Il1b</text><text x="1010.3" y="245.78">Marcksl1</text><text x="1010.3" y="277.12">Sprr2e</text><text x="1010.3" y="308.44">Bst1</text><text x="1010.3" y="339.78">Csf3</text><text x="1010.3" y="371.11">Tnf</text><text x="1010.3" y="402.44">Ptgs2</text><text x="1010.3" y="433.76">Plce1</text><text x="1010.3" y="465.09">Tmem100</text><text x="1010.3" y="496.43">Ednrb</text><text x="1010.3" y="527.75">Tek</text><text x="1010.3" y="559.08">Irs1</text><text x="1010.3" y="590.41">Bmp4</text><text x="1010.3" y="621.74">Igf1</text><text x="1010.3" y="653.07">Agt</text><text x="1010.3" y="684.4">Lepr</text><text x="1010.3" y="715.73">Kcnj8</text></g>
<text x="1010.3" y="93" font-size="20.4">Group</text>
<path d="M669.5 61.3H744.17 M669.5 61.3V78.3 M744.17 61.3V78.3 M594.84 57.8H706.84 M594.84 57.8V78.3 M706.84 57.8V61.3 M893.51 60.8H968.18 M893.51 60.8V78.3 M968.18 60.8V78.3 M818.85 53.9H930.85 M818.85 53.9V78.3 M930.85 53.9V60.8 M650.84 3.3H874.85 M650.84 3.3V57.8 M874.85 3.3V53.9 M548.7 111.66V143 M548.7 111.66H557.2 M548.7 143H557.2 M550 205.66V236.98 M550 205.66H557.2 M550 236.98H557.2 M546 174.32V221.32 M546 174.32H557.2 M546 221.32H550 M536.7 127.33V197.82 M536.7 127.33H548.7 M536.7 197.82H546 M552.6 299.64V330.98 M552.6 299.64H557.2 M552.6 330.98H557.2 M547.5 362.31V393.63 M547.5 362.31H557.2 M547.5 393.63H557.2 M540.5 315.31V377.97 M540.5 315.31H552.6 M540.5 377.97H547.5 M530.7 268.31V346.64 M530.7 268.31H557.2 M530.7 346.64H540.5 M528 162.58V307.48 M528 162.58H536.7 M528 307.48H530.7 M552.5 456.29V487.62 M552.5 456.29H557.2 M552.5 487.62H557.2 M546.4 424.96V471.96 M546.4 424.96H557.2 M546.4 471.96H552.5 M545.6 518.95V550.28 M545.6 518.95H557.2 M545.6 550.28H557.2 M535.7 448.46V534.62 M535.7 448.46H546.4 M535.7 534.62H545.6 M551.3 675.61V706.93 M551.3 675.61H557.2 M551.3 706.93H557.2 M545.8 644.27V691.27 M545.8 644.27H557.2 M545.8 691.27H551.3 M538.8 612.94V667.77 M538.8 612.94H557.2 M538.8 667.77H545.8 M534.3 581.62V640.36 M534.3 581.62H557.2 M534.3 640.36H538.8 M522.9 491.54V610.99 M522.9 491.54H535.7 M522.9 610.99H534.3 M481.7 235.03V551.26 M481.7 235.03H528 M481.7 551.26H522.9" fill="none" stroke="#1a1a1a" stroke-width="1.3" stroke-linecap="square"/>
<rect x="1114.6" y="84" width="14.6" height="216.5" fill="url(#hmleg)"/>
<text x="1135" y="95.5" font-size="20.5">1.5</text>
<text x="1135" y="128.9" font-size="20.5">1</text>
<text x="1135" y="162.3" font-size="20.5">0.5</text>
<text x="1135" y="195.8" font-size="20.5">0</text>
<text x="1135" y="229.3" font-size="20.5">-0.5</text>
<text x="1135" y="262.7" font-size="20.5">-1</text>
<text x="1135" y="295.6" font-size="20.5">-1.5</text>
<text x="1092.3" y="344" font-size="20.5">Group</text>
<rect x="1087.7" y="365" width="17" height="17.3" fill="#8fd4f6"/>
<rect x="1087.7" y="382.3" width="17" height="17.3" fill="#e89d61"/>
<text x="1112.8" y="382" font-size="20.5">EDPP</text>
<text x="1112.8" y="400.5" font-size="20.5">PELNAC</text>
<text x="672.6" y="752.3" font-size="22" text-anchor="middle" font-weight="bold">EDPP</text>
<text x="896" y="752.3" font-size="22" text-anchor="middle" font-weight="bold">PELNAC</text>
</g>
<g id="panel-d">
<text transform="translate(1204.9 41.1) scale(1 1)" font-size="52.3" stroke="#000" stroke-width="1.8" stroke-linejoin="miter">D</text>
<text x="1728.5" y="67.5" font-size="22.5" text-anchor="middle" font-weight="bold">Positive regulation</text>
<text x="1727.5" y="95.3" font-size="22.2" text-anchor="middle" stroke="#000" stroke-width="0.5">(EDPP vs PELNAC)</text>
<rect x="1557" y="111.14" width="259.53" height="34.7" fill="#de7c68"/>
<line x1="1552" y1="128.49" x2="1556.5" y2="128.49" stroke="#000" stroke-width="1.3"/>
<rect x="1557" y="170.01" width="168.6" height="34.7" fill="#de7c68"/>
<line x1="1552" y1="187.36" x2="1556.5" y2="187.36" stroke="#000" stroke-width="1.3"/>
<rect x="1557" y="228.43" width="154.54" height="35.14" fill="#de7c68"/>
<line x1="1552" y1="246" x2="1556.5" y2="246" stroke="#000" stroke-width="1.3"/>
<rect x="1557" y="287.3" width="146.19" height="35.14" fill="#de7c68"/>
<line x1="1552" y1="304.87" x2="1556.5" y2="304.87" stroke="#000" stroke-width="1.3"/>
<rect x="1557" y="346.16" width="135.65" height="35.14" fill="#de7c68"/>
<line x1="1552" y1="363.73" x2="1556.5" y2="363.73" stroke="#000" stroke-width="1.3"/>
<rect x="1557" y="404.6" width="50.87" height="35.14" fill="#93cdd9"/>
<line x1="1552" y1="422.17" x2="1556.5" y2="422.17" stroke="#000" stroke-width="1.3"/>
<rect x="1557" y="463.47" width="43.84" height="35.14" fill="#93cdd9"/>
<line x1="1552" y1="481.04" x2="1556.5" y2="481.04" stroke="#000" stroke-width="1.3"/>
<rect x="1557" y="521.89" width="42.96" height="35.14" fill="#93cdd9"/>
<line x1="1552" y1="539.46" x2="1556.5" y2="539.46" stroke="#000" stroke-width="1.3"/>
<rect x="1557" y="581.19" width="32.86" height="35.14" fill="#93cdd9"/>
<line x1="1552" y1="598.77" x2="1556.5" y2="598.77" stroke="#000" stroke-width="1.3"/>
<rect x="1557" y="639.62" width="12.21" height="35.14" fill="#7dbca1"/>
<line x1="1552" y1="657.19" x2="1556.5" y2="657.19" stroke="#000" stroke-width="1.3"/>
<g font-size="22" text-anchor="end"><text x="1545.5" y="136.29">immune system process</text><text x="1545.5" y="195.16">innate immune response</text><text x="1545.5" y="253.8">defense response to virus</text><text x="1545.5" y="312.67">inflammatory response</text><text x="1545.5" y="371.53">cellular response to interferon-beta</text><text x="1545.5" y="429.97">extracellular space</text><text x="1545.5" y="488.84">extracellular region</text><text x="1545.5" y="547.26">MHC class I peptide loading complex</text><text x="1545.5" y="606.57">cytosol</text><text x="1545.5" y="664.99">protein binding</text></g>
<line x1="1556.5" y1="107.6" x2="1883.7" y2="107.6" stroke="#222" stroke-width="1"/>
<path d="M1556.5 107.1V678.7H1883.7V107.1" fill="none" stroke="#000" stroke-width="1.6"/>
<line x1="1589.9" y1="678.7" x2="1589.9" y2="683.2" stroke="#000" stroke-width="1.3"/>
<text x="1589.4" y="704.3" font-size="22" text-anchor="middle">0</text>
<line x1="1685.2" y1="678.7" x2="1685.2" y2="683.2" stroke="#000" stroke-width="1.3"/>
<text x="1684.7" y="704.3" font-size="22" text-anchor="middle">20</text>
<line x1="1780.2" y1="678.7" x2="1780.2" y2="683.2" stroke="#000" stroke-width="1.3"/>
<text x="1779.7" y="704.3" font-size="22" text-anchor="middle">40</text>
<line x1="1875.4" y1="678.7" x2="1875.4" y2="683.2" stroke="#000" stroke-width="1.3"/>
<text x="1874.9" y="704.3" font-size="22" text-anchor="middle">60</text>
<text x="1773" y="259.2" font-size="23.4" font-weight="bold" fill="#e58b7b">BP</text>
<text x="1701.5" y="488.5" font-size="23.4" font-weight="bold" fill="#93d9e5">CC</text>
<text x="1669.8" y="667.8" font-size="23.4" font-weight="bold" fill="#6fd1ad">MF</text>
<text x="1892.65" y="235" font-size="22.1" font-weight="bold" transform="rotate(90 1892.65 235)" xml:space="preserve"><tspan fill="#000">GO related to </tspan><tspan fill="#e0242c">immune response</tspan></text>
</g>
<g id="panel-e">
<text transform="translate(1.7 853.3) scale(1 1)" font-size="52.3" stroke="#000" stroke-width="1.8" stroke-linejoin="miter">E</text>
<text x="552.8" y="830.5" font-size="22.3" text-anchor="middle" font-weight="bold">Positive regulation</text>
<text x="552.8" y="857" font-size="22" text-anchor="middle" stroke="#000" stroke-width="0.5">(EDPP vs PELNAC)</text>
<rect x="377.3" y="898.12" width="331.14" height="33.48" fill="#ec7070"/>
<line x1="372.3" y1="914.86" x2="376.8" y2="914.86" stroke="#000" stroke-width="1.3"/>
<rect x="377.3" y="947.88" width="312.59" height="31.21" fill="#ec7070"/>
<line x1="372.3" y1="963.49" x2="376.8" y2="963.49" stroke="#000" stroke-width="1.3"/>
<rect x="377.3" y="999" width="279.56" height="33.48" fill="#ec7070"/>
<line x1="372.3" y1="1015.74" x2="376.8" y2="1015.74" stroke="#000" stroke-width="1.3"/>
<rect x="377.3" y="1049.67" width="266.45" height="33.48" fill="#ec7070"/>
<line x1="372.3" y1="1066.41" x2="376.8" y2="1066.41" stroke="#000" stroke-width="1.3"/>
<rect x="377.3" y="1101.69" width="142.04" height="33.48" fill="#ec7070"/>
<line x1="372.3" y1="1118.43" x2="376.8" y2="1118.43" stroke="#000" stroke-width="1.3"/>
<rect x="377.3" y="1155.98" width="105.85" height="33.02" fill="#ec7070"/>
<line x1="372.3" y1="1172.49" x2="376.8" y2="1172.49" stroke="#000" stroke-width="1.3"/>
<rect x="377.3" y="1211.17" width="79.16" height="33.48" fill="#ec7070"/>
<line x1="372.3" y1="1227.91" x2="376.8" y2="1227.91" stroke="#000" stroke-width="1.3"/>
<g font-size="21" text-anchor="end"><text x="366.9" y="920.96">Regulation of cytokine production</text><text x="366.9" y="969.59">Regulation of IFN-β production</text><text x="366.9" y="1019.84">IL-27 mediated signaling pathway</text><text x="366.9" y="1070.51">Regulation of autophagy</text><text x="366.9" y="1124.53">Regulation of IL-10 production</text><text x="366.9" y="1175.19">Myeloid dendritic cell differentiation</text><text x="366.9" y="1231.51">Regulation of GM-CSF production</text></g>
<rect x="376.8" y="871.9" width="340.7" height="392.2" fill="none" stroke="#000" stroke-width="1.5"/>
<line x1="376.8" y1="1264.1" x2="376.8" y2="1268.6" stroke="#000" stroke-width="1.3"/>
<text x="376.3" y="1285.5" font-size="20.5" text-anchor="middle">0</text>
<line x1="461" y1="1264.1" x2="461" y2="1268.6" stroke="#000" stroke-width="1.3"/>
<text x="460.5" y="1285.5" font-size="20.5" text-anchor="middle">2</text>
<line x1="546" y1="1264.1" x2="546" y2="1268.6" stroke="#000" stroke-width="1.3"/>
<text x="545.5" y="1285.5" font-size="20.5" text-anchor="middle">4</text>
<line x1="630.6" y1="1264.1" x2="630.6" y2="1268.6" stroke="#000" stroke-width="1.3"/>
<text x="630.1" y="1285.5" font-size="20.5" text-anchor="middle">6</text>
<text x="572.3" y="1311.2" font-size="21.2" text-anchor="middle">−Log<tspan font-size="14" dy="3.5">10</tspan><tspan dy="-3.5">(p-value)</tspan></text>
<text x="724.51" y="936.7" font-size="21.1" font-weight="bold" transform="rotate(90 724.51 936.7)" xml:space="preserve"><tspan fill="#000">GO related to </tspan><tspan fill="#f01c24">anti-inflammation</tspan></text>
</g>
<g id="panel-f">
<text transform="translate(5.1 1387) scale(1 1)" font-size="52.3" stroke="#000" stroke-width="1.8" stroke-linejoin="miter">F</text>
<text x="558.7" y="1364.2" font-size="22.3" text-anchor="middle" font-weight="bold">Positive regulation</text>
<text x="558.7" y="1390.6" font-size="22" text-anchor="middle" stroke="#000" stroke-width="0.5">(EDPP vs PELNAC)</text>
<rect x="378.7" y="1441.24" width="327.48" height="28.05" fill="#ec7070"/>
<line x1="373.7" y1="1455.26" x2="378.2" y2="1455.26" stroke="#000" stroke-width="1.3"/>
<rect x="378.7" y="1485.12" width="227.05" height="31.21" fill="#ec7070"/>
<line x1="373.7" y1="1500.73" x2="378.2" y2="1500.73" stroke="#000" stroke-width="1.3"/>
<rect x="378.7" y="1532.17" width="227.05" height="29.86" fill="#ec7070"/>
<line x1="373.7" y1="1547.1" x2="378.2" y2="1547.1" stroke="#000" stroke-width="1.3"/>
<rect x="378.7" y="1578.31" width="200.81" height="31.21" fill="#ec7070"/>
<line x1="373.7" y1="1593.92" x2="378.2" y2="1593.92" stroke="#000" stroke-width="1.3"/>
<rect x="378.7" y="1625.81" width="119.38" height="31.21" fill="#ec7070"/>
<line x1="373.7" y1="1641.42" x2="378.2" y2="1641.42" stroke="#000" stroke-width="1.3"/>
<rect x="378.7" y="1673.77" width="108.97" height="31.21" fill="#ec7070"/>
<line x1="373.7" y1="1689.37" x2="378.2" y2="1689.37" stroke="#000" stroke-width="1.3"/>
<rect x="378.7" y="1719" width="108.07" height="31.21" fill="#ec7070"/>
<line x1="373.7" y1="1734.61" x2="378.2" y2="1734.61" stroke="#000" stroke-width="1.3"/>
<g font-size="20.1" text-anchor="end"><text x="369.5" y="1461.36">Regulation of ribonuclease activity</text><text x="369.5" y="1499.53">Regulation of transcription by</text><text x="365.5" y="1523.53">RNA polymerase II</text><text x="369.5" y="1555">Regulation of cell population proliferation</text><text x="369.5" y="1592.32">Regulation of protein-containing</text><text x="368.5" y="1616.32">complex assembly</text><text x="369.5" y="1646.62">Keratinocyte differentiation</text><text x="369.5" y="1693.67">Angiogenesis</text><text x="369.5" y="1738.51">Regulation of wound healing</text></g>
<rect x="378.2" y="1413.2" width="336.1" height="366" fill="none" stroke="#000" stroke-width="1.5"/>
<line x1="378.2" y1="1779.2" x2="378.2" y2="1783.7" stroke="#000" stroke-width="1.3"/>
<text x="377.7" y="1800.5" font-size="20.5" text-anchor="middle">0</text>
<line x1="482.2" y1="1779.2" x2="482.2" y2="1783.7" stroke="#000" stroke-width="1.3"/>
<text x="481.7" y="1800.5" font-size="20.5" text-anchor="middle">2</text>
<line x1="586.3" y1="1779.2" x2="586.3" y2="1783.7" stroke="#000" stroke-width="1.3"/>
<text x="585.8" y="1800.5" font-size="20.5" text-anchor="middle">4</text>
<line x1="690.3" y1="1779.2" x2="690.3" y2="1783.7" stroke="#000" stroke-width="1.3"/>
<text x="689.8" y="1800.5" font-size="20.5" text-anchor="middle">6</text>
<text x="543.5" y="1824.5" font-size="20.1" text-anchor="middle">−Log<tspan font-size="14" dy="3.5">10</tspan><tspan dy="-3.5">(p-value)</tspan></text>
<text x="723.97" y="1449.5" font-size="19.8" font-weight="bold" transform="rotate(90 723.97 1449.5)" xml:space="preserve"><tspan fill="#000">GO related to </tspan><tspan fill="#f01c24">wound healing</tspan></text>
</g>
<g id="panel-i">
<text transform="translate(1204.3 854.1) scale(1 1)" font-size="52.3" stroke="#000" stroke-width="1.8" stroke-linejoin="miter">I</text>
<text x="1728" y="831" font-size="22.3" text-anchor="middle" font-weight="bold">Negaitive regulation</text>
<text x="1728" y="857.5" font-size="22" text-anchor="middle" stroke="#000" stroke-width="0.5">(EDPP vs PELNAC)</text>
<rect x="1547.7" y="905.97" width="336.48" height="32.51" fill="#62d6ca"/>
<line x1="1542.7" y1="922.23" x2="1547.2" y2="922.23" stroke="#000" stroke-width="1.3"/>
<rect x="1547.7" y="952.98" width="252.14" height="32.51" fill="#62d6ca"/>
<line x1="1542.7" y1="969.23" x2="1547.2" y2="969.23" stroke="#000" stroke-width="1.3"/>
<rect x="1547.7" y="999.98" width="247.31" height="32.51" fill="#62d6ca"/>
<line x1="1542.7" y1="1016.23" x2="1547.2" y2="1016.23" stroke="#000" stroke-width="1.3"/>
<rect x="1547.7" y="1046.98" width="209.09" height="32.51" fill="#62d6ca"/>
<line x1="1542.7" y1="1063.24" x2="1547.2" y2="1063.24" stroke="#000" stroke-width="1.3"/>
<rect x="1547.7" y="1094.43" width="192.83" height="32.95" fill="#62d6ca"/>
<line x1="1542.7" y1="1110.9" x2="1547.2" y2="1110.9" stroke="#000" stroke-width="1.3"/>
<rect x="1547.7" y="1141.43" width="143.63" height="32.95" fill="#62d6ca"/>
<line x1="1542.7" y1="1157.91" x2="1547.2" y2="1157.91" stroke="#000" stroke-width="1.3"/>
<rect x="1547.7" y="1188.44" width="129.14" height="32.95" fill="#62d6ca"/>
<line x1="1542.7" y1="1204.91" x2="1547.2" y2="1204.91" stroke="#000" stroke-width="1.3"/>
<g font-size="20.4" text-anchor="end"><text x="1539" y="925.03">Regulation of MAPK cascade</text><text x="1539" y="974.83">Response to lipopolysaccharide</text><text x="1539" y="1020.53">Protein kinase B (Akt) signaling</text><text x="1539" y="1069.34">Regulation of PI3K signaling</text><text x="1539" y="1116.6">Regulation of PI3K activity</text><text x="1539" y="1164.81">Regulation of NO biosynthetic process</text><text x="1539" y="1202.31">Phosphatidylserine exposure on</text><text x="1536" y="1226.31">apoptotic cell surface</text></g>
<rect x="1547.2" y="875.2" width="341.4" height="377.8" fill="none" stroke="#000" stroke-width="1.5"/>
<line x1="1547.7" y1="1253" x2="1547.7" y2="1257.5" stroke="#000" stroke-width="1.3"/>
<text x="1547.2" y="1281.5" font-size="20.5" text-anchor="middle">0</text>
<line x1="1645.2" y1="1253" x2="1645.2" y2="1257.5" stroke="#000" stroke-width="1.3"/>
<text x="1644.7" y="1281.5" font-size="20.5" text-anchor="middle">1</text>
<line x1="1742.3" y1="1253" x2="1742.3" y2="1257.5" stroke="#000" stroke-width="1.3"/>
<text x="1741.8" y="1281.5" font-size="20.5" text-anchor="middle">2</text>
<line x1="1840.3" y1="1253" x2="1840.3" y2="1257.5" stroke="#000" stroke-width="1.3"/>
<text x="1839.8" y="1281.5" font-size="20.5" text-anchor="middle">3</text>
<text x="1713" y="1309" font-size="20.5" text-anchor="middle">−Log<tspan font-size="14" dy="3.5">10</tspan><tspan dy="-3.5">(p-value)</tspan></text>
<text x="1897.26" y="910.2" font-size="20.4" font-weight="bold" transform="rotate(90 1897.26 910.2)" xml:space="preserve"><tspan fill="#000">GO related to </tspan><tspan fill="#f01c24">inflammation</tspan></text>
</g>
<g id="panel-g">
<text transform="translate(749.9 852.1) scale(1 1)" font-size="52.3" stroke="#000" stroke-width="1.8" stroke-linejoin="miter">G</text>
<text x="1009.7" y="855.7" font-size="22.23" text-anchor="middle" stroke="#000" stroke-width="0.8">GOBP defense response</text>
<rect x="840" y="1024.7" width="4.76" height="37.8" fill="#000"/><path d="M847.86 1024.8V1062.4M850.71 1024.8V1062.4M852.14 1024.8V1062.4M853.33 1024.8V1062.4M858.57 1024.8V1062.4M860.95 1024.8V1062.4M862.62 1024.8V1062.4M871.67 1024.8V1062.4M874.76 1024.8V1062.4M882.38 1024.8V1062.4M893.81 1024.8V1062.4M895.48 1024.8V1062.4M902.62 1024.8V1062.4M906.19 1024.8V1062.4M907.86 1024.8V1062.4M912.14 1024.8V1062.4M916.9 1024.8V1062.4M924.76 1024.8V1062.4M926.43 1024.8V1062.4M945.95 1024.8V1062.4M948.57 1024.8V1062.4M970.48 1024.8V1062.4M981.19 1024.8V1062.4M982.86 1024.8V1062.4M986.43 1024.8V1062.4M1006.19 1024.8V1062.4M1043.81 1024.8V1062.4M1056.9 1024.8V1062.4M1066.43 1024.8V1062.4M1071.67 1024.8V1062.4M1089.05 1024.8V1062.4M1091.43 1024.8V1062.4M1093.81 1024.8V1062.4M1115.24 1024.8V1062.4M1121.67 1024.8V1062.4M1122.86 1024.8V1062.4M1144.29 1024.8V1062.4M1148.57 1024.8V1062.4M1153.33 1024.8V1062.4" fill="none" stroke="#444" stroke-width="0.75"/><path d="M876.9 1024.8V1062.4" fill="none" stroke="#000" stroke-width="0.9"/>
<rect x="840" y="1062.9" width="325.7" height="19" fill="url(#gseabar)"/>
<path d="M840 1129.8 L840 1087.46 L840.71 1107.34 L842.38 1115.11 L846.67 1119.43 L858.57 1122.46 L870.48 1123.92 L894.29 1125.48 L922.86 1127.04 L946.67 1128.07 L980.48 1129.8 L1018.1 1130.66 L1065.71 1132.39 L1113.33 1134.29 L1141.9 1136.71 L1158.57 1140.17 L1162.86 1144.49 L1164.52 1152.26 L1165.71 1172.14 L1165.7 1129.8Z" fill="#d2d2d2"/>
<line x1="980.48" y1="1081.9" x2="980.48" y2="1177.1" stroke="#999" stroke-width="0.6" stroke-dasharray="0.8 0.9"/>
<line x1="840" y1="1017.9" x2="1165.7" y2="1017.9" stroke="#d4d4d4" stroke-width="1"/>
<path d="M836.7 879.52H877.14V1017.9" fill="none" stroke="#3bb33b" stroke-width="0.8" stroke-dasharray="2.6 1.6"/>
<path d="M840 1017.86 L840.71 964.76 L842.38 936.19 L843.81 914.76 L845 901.67 L846.67 896.19 L849.05 896.9 L850.71 892.14 L852.62 886.19 L856.19 888.1 L859.29 886.67 L860.95 880.95 L863.81 881.43 L870.48 885 L874.05 883.33 L877.14 880.95 L882.38 881.9 L893.1 887.38 L895.95 885.48 L901.9 888.57 L907.38 888.57 L916.9 892.14 L924.05 896.19 L926.43 896.43 L944.29 907.14 L949.05 909.29 L970.48 922.38 L1006.19 943.81 L1041.9 965.24 L1044.29 966.67 L1056.19 973.57 L1058.1 973.81 L1064.52 977.86 L1066.9 978.33 L1071.67 980.95 L1073.33 980.95 L1087.14 989.29 L1089.05 989.76 L1090.71 988.81 L1094.29 988.81 L1113.33 1000.48 L1115.71 1000.48 L1120.95 1003.33 L1122.86 1000 L1124.76 1000.48 L1141.9 1010.95 L1144.29 1011.9 L1147.86 1010.48 L1149.52 1012.38 L1153.33 1010.48 L1165.71 1017.86" fill="none" stroke="#2e9a1f" stroke-width="2.5" stroke-linejoin="round" stroke-linecap="round"/>
<g fill="none" stroke="#2c2c2c" stroke-width="1.2">
<rect x="836.7" y="871.9" width="332.3" height="152.4"/>
<rect x="836.7" y="1024.3" width="332.3" height="38.6"/>
<path d="M836.7 1062.9V1177.1H1169V1062.9"/>
</g>
<g class="dj" font-size="7.4" fill="#444" text-anchor="end"><text x="829.3" y="1020.6">0.0</text><text x="829.3" y="1000.83">0.1</text><text x="829.3" y="981.06">0.2</text><text x="829.3" y="961.29">0.3</text><text x="829.3" y="941.52">0.4</text><text x="829.3" y="921.75">0.5</text><text x="829.3" y="901.98">0.6</text><text x="829.3" y="882.21">0.7</text><text x="829.3" y="1089.3">5.0</text><text x="829.3" y="1110.9">2.5</text><text x="829.3" y="1132.5">0.0</text><text x="829.3" y="1154.1">-2.5</text><text x="829.3" y="1175.7">-5.0</text></g>
<text x="877.6" y="879.3" font-size="10.95" fill="#444" class="dj">ES: 0.698</text>
<text x="870.5" y="1010.2" font-size="10.95" fill="#444" class="dj">NES: 2.89, p&lt;0.001, FDR&lt;0.001</text>
<text x="809.8" y="949.3" font-size="11.6" text-anchor="middle" fill="#444" transform="rotate(-90 809.8 949.3)" class="dj">Enrichment score (ES)</text>
<text x="791.9" y="1129" font-size="11.6" text-anchor="middle" fill="#444" transform="rotate(-90 791.9 1129)" class="dj">Ranked Metric</text>
<text x="806.7" y="1129" font-size="11.6" text-anchor="middle" fill="#444" transform="rotate(-90 806.7 1129)" class="dj">(signal_to_noise)</text>
<text x="863.3" y="1108.3" font-size="8.8" fill="#c0242c" stroke="#c0242c" stroke-width="0.25" class="dj">DPPF</text>
<text x="1128" y="1168" font-size="8.8" fill="#1c1ca6" stroke="#1c1ca6" stroke-width="0.25" class="dj">PNAC</text>
<text x="980.5" y="1145.8" font-size="7.4" text-anchor="middle" fill="#444" class="dj">Zero score at 10622</text>
</g>
<g id="panel-h">
<text transform="translate(752.1 1251.5) scale(1 1)" font-size="52.3" stroke="#000" stroke-width="1.8" stroke-linejoin="miter">H</text>
<text x="1004.2" y="1246.7" font-size="22.27" text-anchor="middle" stroke="#000" stroke-width="0.8">GOBP innate immune response</text>
<rect x="844.76" y="1412.8" width="6.67" height="36.8" fill="#000"/><path d="M848.32 1412.9V1449.5M855.55 1412.9V1449.5M856.57 1412.9V1449.5M863.01 1412.9V1449.5M863.83 1412.9V1449.5M864.24 1412.9V1449.5M870.75 1412.9V1449.5M871.68 1412.9V1449.5M876 1412.9V1449.5M892.25 1412.9V1449.5M892.94 1412.9V1449.5M898.36 1412.9V1449.5M917.39 1412.9V1449.5M932.14 1412.9V1449.5M936.56 1412.9V1449.5M938.2 1412.9V1449.5M942.97 1412.9V1449.5M949.21 1412.9V1449.5M952.61 1412.9V1449.5M969.29 1412.9V1449.5M969.88 1412.9V1449.5M971.8 1412.9V1449.5M978.4 1412.9V1449.5M982.69 1412.9V1449.5M987.46 1412.9V1449.5M989.44 1412.9V1449.5M995.88 1412.9V1449.5M996.25 1412.9V1449.5M996.78 1412.9V1449.5M999.53 1412.9V1449.5M1008.48 1412.9V1449.5M1042.46 1412.9V1449.5M1062.88 1412.9V1449.5M1066.67 1412.9V1449.5M1074.71 1412.9V1449.5M1083.09 1412.9V1449.5M1086.08 1412.9V1449.5M1090.97 1412.9V1449.5M1110.64 1412.9V1449.5M1112.71 1412.9V1449.5M1123.67 1412.9V1449.5M1131.58 1412.9V1449.5M1140.89 1412.9V1449.5M1157.6 1412.9V1449.5" fill="none" stroke="#999" stroke-width="0.6"/><path d="M847.57 1412.9V1449.5M848.55 1412.9V1449.5M851.19 1412.9V1449.5M853.44 1412.9V1449.5M857.37 1412.9V1449.5M860.02 1412.9V1449.5M860.49 1412.9V1449.5M864.92 1412.9V1449.5M867.65 1412.9V1449.5M878.81 1412.9V1449.5M895.33 1412.9V1449.5M895.97 1412.9V1449.5M897.23 1412.9V1449.5M897.86 1412.9V1449.5M900.81 1412.9V1449.5M901.77 1412.9V1449.5M903.53 1412.9V1449.5M905.82 1412.9V1449.5M909.03 1412.9V1449.5M909.39 1412.9V1449.5M912.93 1412.9V1449.5M915.48 1412.9V1449.5M916.86 1412.9V1449.5M917.96 1412.9V1449.5M919.32 1412.9V1449.5M920.86 1412.9V1449.5M922.72 1412.9V1449.5M925.25 1412.9V1449.5M927.8 1412.9V1449.5M928.22 1412.9V1449.5M933.92 1412.9V1449.5M934.5 1412.9V1449.5M936.81 1412.9V1449.5M937.62 1412.9V1449.5M938.84 1412.9V1449.5M939.22 1412.9V1449.5M941.11 1412.9V1449.5M942.1 1412.9V1449.5M946.12 1412.9V1449.5M946.83 1412.9V1449.5M948.88 1412.9V1449.5M954.11 1412.9V1449.5M954.68 1412.9V1449.5M955.72 1412.9V1449.5M956.88 1412.9V1449.5M957.23 1412.9V1449.5M958.65 1412.9V1449.5M962.25 1412.9V1449.5M962.92 1412.9V1449.5M964.92 1412.9V1449.5M972.36 1412.9V1449.5M972.65 1412.9V1449.5M973.24 1412.9V1449.5M974.15 1412.9V1449.5M980.92 1412.9V1449.5M981.21 1412.9V1449.5M981.86 1412.9V1449.5M987.12 1412.9V1449.5M992.47 1412.9V1449.5M993.76 1412.9V1449.5M1000.6 1412.9V1449.5M1001.94 1412.9V1449.5M1003.11 1412.9V1449.5M1007.09 1412.9V1449.5M1007.52 1412.9V1449.5M1009.95 1412.9V1449.5M1011.44 1412.9V1449.5M1011.86 1412.9V1449.5M1012.78 1412.9V1449.5M1013.72 1412.9V1449.5M1015.33 1412.9V1449.5M1015.83 1412.9V1449.5M1018.71 1412.9V1449.5M1023.22 1412.9V1449.5M1026.86 1412.9V1449.5M1028.7 1412.9V1449.5M1031.38 1412.9V1449.5M1033.9 1412.9V1449.5M1037.57 1412.9V1449.5M1039.12 1412.9V1449.5M1041.71 1412.9V1449.5M1043.11 1412.9V1449.5M1044.94 1412.9V1449.5M1048.67 1412.9V1449.5M1053.37 1412.9V1449.5M1054.18 1412.9V1449.5M1058.01 1412.9V1449.5M1059.93 1412.9V1449.5M1062.2 1412.9V1449.5M1068.36 1412.9V1449.5M1069.93 1412.9V1449.5M1071.1 1412.9V1449.5M1071.6 1412.9V1449.5M1076.16 1412.9V1449.5M1076.67 1412.9V1449.5M1077.93 1412.9V1449.5M1082.31 1412.9V1449.5M1083.47 1412.9V1449.5M1084.09 1412.9V1449.5M1087.09 1412.9V1449.5M1089.3 1412.9V1449.5M1091.75 1412.9V1449.5M1093.57 1412.9V1449.5M1100.48 1412.9V1449.5M1101.33 1412.9V1449.5M1101.87 1412.9V1449.5M1114.23 1412.9V1449.5M1115.73 1412.9V1449.5M1115.99 1412.9V1449.5M1118.78 1412.9V1449.5M1119.43 1412.9V1449.5M1120.56 1412.9V1449.5M1121.03 1412.9V1449.5M1122.16 1412.9V1449.5M1124.95 1412.9V1449.5M1129.22 1412.9V1449.5M1132.48 1412.9V1449.5M1137.58 1412.9V1449.5M1146.06 1412.9V1449.5M1150.83 1412.9V1449.5M1153.64 1412.9V1449.5M1155.42 1412.9V1449.5M1158.88 1412.9V1449.5M1159.76 1412.9V1449.5M1163.87 1412.9V1449.5M1164.71 1412.9V1449.5" fill="none" stroke="#555" stroke-width="0.65"/><path d="M845.2 1412.9V1449.5M845.66 1412.9V1449.5M846.3 1412.9V1449.5M846.76 1412.9V1449.5M849.12 1412.9V1449.5M849.73 1412.9V1449.5M850.73 1412.9V1449.5M851.56 1412.9V1449.5M853.94 1412.9V1449.5M854.93 1412.9V1449.5M856.2 1412.9V1449.5M857.78 1412.9V1449.5M858.69 1412.9V1449.5M859.57 1412.9V1449.5M861.25 1412.9V1449.5M862.13 1412.9V1449.5M865.42 1412.9V1449.5M866.29 1412.9V1449.5M867.08 1412.9V1449.5M868.29 1412.9V1449.5M869.45 1412.9V1449.5M871 1412.9V1449.5M872.58 1412.9V1449.5M872.89 1412.9V1449.5M873.54 1412.9V1449.5M876.74 1412.9V1449.5M877.32 1412.9V1449.5M881.48 1412.9V1449.5M891.75 1412.9V1449.5M893.56 1412.9V1449.5M894.21 1412.9V1449.5M896.74 1412.9V1449.5M899.18 1412.9V1449.5M899.91 1412.9V1449.5M900.52 1412.9V1449.5M902.23 1412.9V1449.5M902.81 1412.9V1449.5M904.64 1412.9V1449.5M905.24 1412.9V1449.5M907.54 1412.9V1449.5M910.01 1412.9V1449.5M911.26 1412.9V1449.5M912.16 1412.9V1449.5M913.32 1412.9V1449.5M913.56 1412.9V1449.5M914.74 1412.9V1449.5M927.16 1412.9V1449.5M929.8 1412.9V1449.5M930.29 1412.9V1449.5M933.25 1412.9V1449.5M935.26 1412.9V1449.5M940.27 1412.9V1449.5M942.38 1412.9V1449.5M944.25 1412.9V1449.5M944.93 1412.9V1449.5M945.73 1412.9V1449.5M947.49 1412.9V1449.5M948.16 1412.9V1449.5M952.01 1412.9V1449.5M953.16 1412.9V1449.5M953.82 1412.9V1449.5M957.78 1412.9V1449.5M959.1 1412.9V1449.5M961.93 1412.9V1449.5M963.67 1412.9V1449.5M965.27 1412.9V1449.5M966.23 1412.9V1449.5M968.57 1412.9V1449.5M988.24 1412.9V1449.5M991.41 1412.9V1449.5M992.97 1412.9V1449.5M1001.25 1412.9V1449.5M1002.52 1412.9V1449.5M1005.76 1412.9V1449.5M1006.32 1412.9V1449.5M1009.41 1412.9V1449.5M1010.56 1412.9V1449.5M1013.39 1412.9V1449.5M1014.62 1412.9V1449.5M1016.76 1412.9V1449.5M1018.22 1412.9V1449.5M1020.12 1412.9V1449.5M1020.77 1412.9V1449.5M1021.27 1412.9V1449.5M1034.34 1412.9V1449.5M1038.16 1412.9V1449.5M1040.39 1412.9V1449.5M1049.64 1412.9V1449.5M1051.53 1412.9V1449.5M1052.51 1412.9V1449.5M1052.72 1412.9V1449.5M1055.23 1412.9V1449.5M1056.1 1412.9V1449.5M1056.47 1412.9V1449.5M1057.36 1412.9V1449.5M1058.66 1412.9V1449.5M1060.12 1412.9V1449.5M1063.42 1412.9V1449.5M1065.96 1412.9V1449.5M1077.29 1412.9V1449.5M1079.22 1412.9V1449.5M1081.81 1412.9V1449.5M1084.89 1412.9V1449.5M1085.54 1412.9V1449.5M1087.99 1412.9V1449.5M1089.63 1412.9V1449.5M1090.34 1412.9V1449.5M1092.82 1412.9V1449.5M1096.5 1412.9V1449.5M1097.81 1412.9V1449.5M1100.48 1412.9V1449.5M1117.04 1412.9V1449.5M1119.89 1412.9V1449.5M1135.69 1412.9V1449.5M1147.43 1412.9V1449.5M1148.33 1412.9V1449.5M1149.42 1412.9V1449.5M1150.19 1412.9V1449.5M1151.76 1412.9V1449.5M1154.51 1412.9V1449.5M1156.92 1412.9V1449.5M1159.15 1412.9V1449.5M1160.6 1412.9V1449.5" fill="none" stroke="#080808" stroke-width="0.85"/>
<rect x="844.8" y="1450" width="320.9" height="18.8" fill="url(#gseabar)"/>
<path d="M844.8 1516 L844.76 1474.2 L845.48 1493.82 L847.14 1501.5 L851.43 1505.76 L863.33 1508.75 L875.24 1510.2 L899.05 1511.73 L927.62 1513.27 L951.43 1514.29 L983.1 1516 L1018.1 1516.85 L1065.71 1518.56 L1113.33 1520.44 L1141.9 1522.82 L1158.57 1526.24 L1162.86 1530.5 L1164.52 1538.18 L1165.71 1557.8 L1165.7 1516Z" fill="#d2d2d2"/>
<line x1="983.1" y1="1468.8" x2="983.1" y2="1562.4" stroke="#999" stroke-width="0.6" stroke-dasharray="0.8 0.9"/>
<line x1="844.8" y1="1401.7" x2="1165.7" y2="1401.7" stroke="#d4d4d4" stroke-width="1"/>
<path d="M841.7 1269.52H875.95V1401.7" fill="none" stroke="#3bb33b" stroke-width="0.8" stroke-dasharray="2.6 1.6"/>
<path d="M844.76 1401.67 L845.95 1373.81 L847.86 1345.24 L849.76 1326.19 L851.43 1312.38 L852.62 1310.71 L854.29 1303.57 L856.67 1295.24 L858.57 1292.86 L860.95 1286.9 L863.33 1279.76 L866.19 1276.9 L869.29 1275.71 L871.19 1271.43 L874.05 1270.95 L875.95 1269.76 L880 1271.43 L885.95 1275.71 L890.71 1279.29 L894.29 1277.62 L896.67 1277.38 L901.43 1275.24 L904.29 1275.24 L907.38 1277.14 L912.14 1275 L918.1 1278.1 L925.24 1280.95 L928.1 1280.95 L934.76 1285.24 L938.33 1286.67 L946.67 1291.67 L951.43 1294.05 L970.48 1306.67 L994.29 1324.29 L1018.1 1340 L1027.62 1345.71 L1033.57 1350 L1044.29 1356.67 L1047.86 1357.86 L1058.57 1364.29 L1063.33 1365.71 L1068.1 1367.62 L1072.86 1370.95 L1081.19 1375 L1085.95 1376.67 L1090.71 1379.76 L1095.48 1380.48 L1100.24 1380.95 L1101.9 1381.43 L1110.95 1387.38 L1118.1 1390.95 L1125.24 1395.71 L1130 1398.81 L1134.76 1398.81 L1139.52 1401.9 L1144.29 1404.76 L1149.05 1404.76 L1153.81 1403.57 L1156.19 1401.67 L1160.95 1400.71 L1163.33 1401.67 L1165.71 1401.67" fill="none" stroke="#2e9a1f" stroke-width="2.5" stroke-linejoin="round" stroke-linecap="round"/>
<g fill="none" stroke="#2c2c2c" stroke-width="1.2">
<rect x="841.7" y="1262.4" width="327.3" height="150"/>
<rect x="841.7" y="1412.4" width="327.3" height="37.6"/>
<path d="M841.7 1450V1562.4H1169V1450"/>
</g>
<g class="dj" font-size="7.4" fill="#444" text-anchor="end"><text x="834.3" y="1404.4">0.0</text><text x="834.3" y="1380.88">0.1</text><text x="834.3" y="1357.36">0.2</text><text x="834.3" y="1333.84">0.3</text><text x="834.3" y="1310.32">0.4</text><text x="834.3" y="1286.8">0.5</text><text x="834.3" y="1476.05">5.0</text><text x="834.3" y="1497.38">2.5</text><text x="834.3" y="1518.7">0.0</text><text x="834.3" y="1540.03">-2.5</text><text x="834.3" y="1561.35">-5.0</text></g>
<text x="876" y="1269.3" font-size="10.95" fill="#444" class="dj">ES: 0.559</text>
<text x="874.8" y="1398.2" font-size="10.95" fill="#444" class="dj">NES: 2.96, p&lt;0.001, FDR&lt;0.001</text>
<text x="814.6" y="1338" font-size="11.6" text-anchor="middle" fill="#444" transform="rotate(-90 814.6 1338)" class="dj">Enrichment score (ES)</text>
<text x="797.2" y="1515.5" font-size="11.6" text-anchor="middle" fill="#444" transform="rotate(-90 797.2 1515.5)" class="dj">Ranked Metric</text>
<text x="811.7" y="1515.5" font-size="11.6" text-anchor="middle" fill="#444" transform="rotate(-90 811.7 1515.5)" class="dj">(signal_to_noise)</text>
<text x="867.6" y="1494.7" font-size="8.8" fill="#c0242c" stroke="#c0242c" stroke-width="0.25" class="dj">DPPF</text>
<text x="1128.3" y="1553.2" font-size="8.8" fill="#1c1ca6" stroke="#1c1ca6" stroke-width="0.25" class="dj">PNAC</text>
<text x="983.1" y="1531.8" font-size="7.4" text-anchor="middle" fill="#444" class="dj">Zero score at 10622</text>
</g>
<g id="panel-j">
<text transform="translate(1204.2 1387.2) scale(1 1)" font-size="52.3" stroke="#000" stroke-width="1.8" stroke-linejoin="miter">J</text>
<rect x="1210.5" y="1347.5" width="9.6" height="8.9" fill="#fff"/>
<path d="M1430.69 1404.11L1358.2 1533.6M1444.09 1407.27L1452.9 1592.4M1451.22 1405.88L1521.7 1605.6M1455.2 1404.07L1574.5 1615.2M1442.67 1407.3L1440.5 1643.2M1453.9 1404.75L1581.6 1665.5M1456.27 1403.42L1632.3 1681.4M1449.59 1406.39L1553 1779M1438.56 1406.92L1394.6 1656.3M1540.82 1370.21L1496.2 1364.3M1590.19 1377.98L1650.6 1389M1560.95 1398.06L1521.7 1605.6M1562.25 1398.27L1525.5 1669.9M1566.97 1398.46L1581.6 1665.5M1570.89 1397.93L1632.3 1681.4M1555.08 1396.18L1440.5 1643.2M1566.52 1398.48L1574.5 1615.2M1342.51 1451.38L1391.9 1570M1344.09 1450.65L1440.5 1643.2M1348.48 1447.85L1525.5 1669.9M1350.99 1445.55L1581.6 1665.5M1351.99 1444.44L1632.3 1681.4M1347.66 1448.48L1452.9 1592.4M1472.37 1494.16L1358.2 1533.6M1501.25 1510.44L1521.7 1605.6M1508.98 1507.37L1574.5 1615.2M1487.68 1509.57L1440.5 1643.2M1506.76 1508.57L1581.6 1665.5M1510.3 1506.5L1632.3 1681.4M1500.77 1510.54L1553 1779M1496.04 1461L1496.2 1364.3M1251.99 1546.94L1221.4 1609.3M1286.57 1532.82L1391.9 1570M1286.54 1532.92L1452.9 1592.4M1286.86 1531.98L1521.7 1605.6M1284.87 1536.61L1525.5 1669.9M1285.86 1534.62L1581.6 1665.5M1605.52 1538.17L1521.7 1605.6M1604.08 1536.19L1440.5 1643.2M1611.01 1543.22L1525.5 1669.9M1617.74 1546.42L1581.6 1665.5M1606.9 1539.74L1378.6 1757.2M1603.38 1535.05L1394.6 1656.3M1608.65 1541.41L1469.4 1702.4M1614.82 1545.33L1538.1 1717.4M1799.02 1537.37L1521.7 1605.6M1799.3 1538.41L1440.5 1643.2M1800.63 1541.94L1525.5 1669.9M1801.44 1543.53L1581.6 1665.5M1801.01 1542.72L1378.6 1757.2M1802.12 1544.68L1648.5 1641M1276.05 1732.35L1221.4 1609.3M1304.67 1738.35L1394.6 1656.3M1304.09 1737.73L1452.9 1592.4M1307.3 1741.79L1521.7 1605.6M1308.69 1744.28L1574.5 1615.2M1310.12 1747.94L1581.6 1665.5M1310.65 1749.99L1632.3 1681.4M1310.22 1748.28L1469.4 1702.4M1310.92 1751.49L1538.1 1717.4M1311.05 1757.89L1492.1 1777.5M1310.89 1751.27L1424.3 1733.2" fill="none" stroke="#ee8088" stroke-width="0.75"/>
<path d="M1285.83 1631.24L1221.4 1609.3M1323.54 1618.62L1496.2 1364.3M1329.66 1624.51L1650.6 1389M1333.26 1631.53L1452.9 1592.4M1334.19 1635.38L1521.7 1605.6M1334.49 1640.04L1440.5 1643.2M1334.4 1637.04L1574.5 1615.2M1334.5 1639.43L1648.5 1641M1334.38 1641.7L1581.6 1665.5M1334.25 1642.81L1525.5 1669.9M1334.29 1642.53L1632.3 1681.4M1332.75 1648.48L1469.4 1702.4M1333.16 1647.38L1538.1 1717.4M1322.14 1660.87L1378.6 1757.2M1331.18 1651.74L1553 1779M1329.43 1654.39L1492.1 1777.5" fill="none" stroke="#86ad72" stroke-width="0.8"/>
<path d="M1795.4 1642.97L1648.5 1641M1795.4 1643.29L1440.5 1643.2M1795.51 1645.61L1581.6 1665.5M1795.9 1648.26L1632.3 1681.4" fill="none" stroke="#d5805e" stroke-width="0.85"/>
<path d="M1609.58 1751.97L1440.5 1643.2" fill="none" stroke="#c2704e" stroke-width="0.85"/>
<path d="M1771.55 1760.76L1469.4 1702.4M1771.31 1762.25L1696.1 1752.4M1776.99 1749.38L1648.5 1641M1775.41 1751.47L1574.5 1615.2M1773.86 1754.08L1632.3 1681.4M1791.3 1740.97L1764.5 1604M1777.99 1782.73L1658 1896.9M1776.18 1780.61L1599.3 1914.8M1773.78 1754.24L1452.9 1592.4" fill="none" stroke="#62c870" stroke-width="0.85"/>
<path d="M1693.28 1425.54L1553 1779M1678.28 1396.09L1650.6 1389" fill="none" stroke="#6eeabc" stroke-width="0.85"/>
<path d="M1413.95 1809.11L1440.5 1643.2M1420.99 1811.35L1521.7 1605.6M1408.29 1808.86L1391.9 1570M1428.5 1816.99L1538.1 1717.4M1430.62 1819.66L1632.3 1681.4M1434.87 1831.28L1484 1826.3M1400.41 1856.89L1382.1 1901M1432.98 1843.63L1599.3 1914.8M1434.87 1836.37L1725 1866.3" fill="none" stroke="#9060d4" stroke-width="0.95"/>
<path d="M1529.13 1860.29L1488 1913.6M1544.37 1865.5L1544.3 1917.1M1566.79 1851.62L1658 1896.9M1528.43 1821.26L1492.1 1777.5" fill="none" stroke="#9494ff" stroke-width="0.9"/>
<path d="M1709.85 1426.2L1764.5 1604" fill="none" stroke="#55e3ac" stroke-width="1.3"/>
<path d="M1771.14 1766.89L1553 1779M1771.52 1760.92L1538.1 1717.4" fill="none" stroke="#5cc86a" stroke-width="1.2"/>
<path d="M1436.34 1406.43L1391.9 1570M1445.99 1407.11L1492.1 1777.5M1351.12 1445.41L1521.7 1605.6M1476.54 1501.7L1391.9 1570M1258.17 1549.03L1231.4 1685M1283.78 1538.4L1440.5 1643.2M1270.82 1735.49L1231.4 1685M1298.59 1733.49L1391.9 1570M1306.43 1740.51L1440.5 1643.2M1309.75 1746.81L1525.5 1669.9M1311.19 1755.74L1378.6 1757.2" fill="none" stroke="#ee5660" stroke-width="2"/>
<path d="M1287.92 1651.93L1231.4 1685M1328.85 1655.13L1424.3 1733.2M1334.43 1637.37L1764.5 1604" fill="none" stroke="#6c9c54" stroke-width="2"/>
<path d="M1685.89 1420.98L1521.7 1605.6M1684.1 1419.22L1440.5 1643.2M1692.06 1425.02L1581.6 1665.5M1719.73 1420.42L1776.4 1480" fill="none" stroke="#4fe0a6" stroke-width="2"/>
<path d="M1774.5 1752.91L1521.7 1605.6M1773.44 1754.94L1581.6 1665.5M1771.12 1766.49L1492.1 1777.5M1781.69 1785.93L1725 1866.3" fill="none" stroke="#2fa12f" stroke-width="2.1"/>
<path d="M1799.95 1628.92L1764.5 1604M1797.26 1652.76L1492.1 1777.5M1798.11 1654.61L1553 1779M1805.82 1663.61L1675.9 1844.5" fill="none" stroke="#c23c18" stroke-width="2.1"/>
<path d="M1646.56 1746.25L1764.5 1604M1605.69 1767.66L1492.1 1777.5M1605.97 1769.78L1553 1779M1643.04 1787.19L1675.9 1844.5" fill="none" stroke="#c23c18" stroke-width="2.1"/>
<path d="M1522.06 1829.28L1378.6 1757.2M1541.65 1815.65L1525.5 1669.9M1569.39 1841.26L1675.9 1844.5" fill="none" stroke="#6a6aff" stroke-width="2.3"/>
<path d="M1387.04 1823.92L1346.8 1806.6M1407.84 1808.89L1394.6 1656.3M1430.62 1819.66L1492.1 1777.5M1433.34 1824.85L1553 1779" fill="none" stroke="#5a17a8" stroke-width="2.2"/>
<circle cx="1442.9" cy="1382.3" r="25.6" fill="#f08189" fill-opacity="0.93" stroke="#f08189" stroke-opacity="0.5" stroke-width="0.6"/>
<circle cx="1565.6" cy="1373.5" r="25.6" fill="#f08189" fill-opacity="0.93" stroke="#f08189" stroke-opacity="0.5" stroke-width="0.6"/>
<circle cx="1332.9" cy="1428.3" r="25.6" fill="#f08189" fill-opacity="0.93" stroke="#f08189" stroke-opacity="0.5" stroke-width="0.6"/>
<circle cx="1496" cy="1486" r="25.6" fill="#f08189" fill-opacity="0.93" stroke="#f08189" stroke-opacity="0.5" stroke-width="0.6"/>
<circle cx="1263" cy="1524.5" r="25.6" fill="#f08189" fill-opacity="0.93" stroke="#f08189" stroke-opacity="0.5" stroke-width="0.6"/>
<circle cx="1625" cy="1522.5" r="25.6" fill="#f08189" fill-opacity="0.93" stroke="#f08189" stroke-opacity="0.5" stroke-width="0.6"/>
<circle cx="1823.3" cy="1531.4" r="25.6" fill="#f08189" fill-opacity="0.93" stroke="#f08189" stroke-opacity="0.5" stroke-width="0.6"/>
<circle cx="1286.2" cy="1755.2" r="25.6" fill="#f08189" fill-opacity="0.93" stroke="#f08189" stroke-opacity="0.5" stroke-width="0.6"/>
<circle cx="1702.5" cy="1402.3" r="25.6" fill="#6ff2bf" fill-opacity="0.93" stroke="#6ff2bf" stroke-opacity="0.5" stroke-width="0.6"/>
<circle cx="1309.5" cy="1639.3" r="25.6" fill="#93b77f" fill-opacity="0.93" stroke="#93b77f" stroke-opacity="0.5" stroke-width="0.6"/>
<circle cx="1820.4" cy="1643.3" r="25.6" fill="#d2603a" fill-opacity="0.93" stroke="#d2603a" stroke-opacity="0.5" stroke-width="0.6"/>
<circle cx="1630.6" cy="1765.5" r="25.6" fill="#d2603a" fill-opacity="0.93" stroke="#d2603a" stroke-opacity="0.5" stroke-width="0.6"/>
<circle cx="1796.1" cy="1765.5" r="25.6" fill="#57be63" fill-opacity="0.93" stroke="#57be63" stroke-opacity="0.5" stroke-width="0.6"/>
<circle cx="1410" cy="1833.8" r="25.6" fill="#8238be" fill-opacity="0.93" stroke="#8238be" stroke-opacity="0.5" stroke-width="0.6"/>
<circle cx="1544.4" cy="1840.5" r="25.6" fill="#8a8aff" fill-opacity="0.93" stroke="#8a8aff" stroke-opacity="0.5" stroke-width="0.6"/>
<circle cx="1496.2" cy="1364.3" r="3.4" fill="#f08189"/>
<path d="M1496.2 1360.9A3.4 3.4 0 0 1 1496.2 1367.7Z" fill="#93b77f"/>
<circle cx="1650.6" cy="1389" r="3.4" fill="#f08189"/>
<path d="M1650.6 1385.6A3.4 3.4 0 0 1 1650.6 1392.4Z" fill="#93b77f"/>
<circle cx="1776.4" cy="1480" r="3.4" fill="#6ff2bf"/>
<circle cx="1358.2" cy="1533.6" r="3.4" fill="#f08189"/>
<circle cx="1391.9" cy="1570" r="3.4" fill="#f08189"/>
<path d="M1391.9 1566.6A3.4 3.4 0 0 1 1391.9 1573.4Z" fill="#8238be"/>
<circle cx="1452.9" cy="1592.4" r="3.4" fill="#f08189"/>
<path d="M1452.9 1589A3.4 3.4 0 0 1 1452.9 1595.8Z" fill="#93b77f"/>
<circle cx="1521.7" cy="1605.6" r="3.4" fill="#f08189"/>
<path d="M1521.7 1602.2A3.4 3.4 0 0 1 1521.7 1609Z" fill="#8238be"/>
<circle cx="1574.5" cy="1615.2" r="3.4" fill="#f08189"/>
<path d="M1574.5 1611.8A3.4 3.4 0 0 1 1574.5 1618.6Z" fill="#57be63"/>
<circle cx="1764.5" cy="1604" r="3.4" fill="#d2603a"/>
<path d="M1764.5 1600.6A3.4 3.4 0 0 1 1764.5 1607.4Z" fill="#57be63"/>
<circle cx="1221.4" cy="1609.3" r="3.4" fill="#f08189"/>
<path d="M1221.4 1605.9A3.4 3.4 0 0 1 1221.4 1612.7Z" fill="#93b77f"/>
<circle cx="1440.5" cy="1643.2" r="3.4" fill="#f08189"/>
<path d="M1440.5 1639.8A3.4 3.4 0 0 1 1440.5 1646.6Z" fill="#8238be"/>
<circle cx="1648.5" cy="1641" r="3.4" fill="#f08189"/>
<path d="M1648.5 1637.6A3.4 3.4 0 0 1 1648.5 1644.4Z" fill="#57be63"/>
<circle cx="1394.6" cy="1656.3" r="3.4" fill="#f08189"/>
<path d="M1394.6 1652.9A3.4 3.4 0 0 1 1394.6 1659.7Z" fill="#8238be"/>
<circle cx="1525.5" cy="1669.9" r="3.4" fill="#f08189"/>
<path d="M1525.5 1666.5A3.4 3.4 0 0 1 1525.5 1673.3Z" fill="#8a8aff"/>
<circle cx="1581.6" cy="1665.5" r="3.4" fill="#f08189"/>
<path d="M1581.6 1662.1A3.4 3.4 0 0 1 1581.6 1668.9Z" fill="#57be63"/>
<circle cx="1632.3" cy="1681.4" r="3.4" fill="#f08189"/>
<path d="M1632.3 1678A3.4 3.4 0 0 1 1632.3 1684.8Z" fill="#8238be"/>
<circle cx="1231.4" cy="1685" r="3.4" fill="#f08189"/>
<path d="M1231.4 1681.6A3.4 3.4 0 0 1 1231.4 1688.4Z" fill="#93b77f"/>
<circle cx="1469.4" cy="1702.4" r="3.4" fill="#f08189"/>
<path d="M1469.4 1699A3.4 3.4 0 0 1 1469.4 1705.8Z" fill="#57be63"/>
<circle cx="1538.1" cy="1717.4" r="3.4" fill="#8238be"/>
<path d="M1538.1 1714A3.4 3.4 0 0 1 1538.1 1720.8Z" fill="#57be63"/>
<circle cx="1424.3" cy="1733.2" r="3.4" fill="#93b77f"/>
<circle cx="1378.6" cy="1757.2" r="3.4" fill="#f08189"/>
<path d="M1378.6 1753.8A3.4 3.4 0 0 1 1378.6 1760.6Z" fill="#8a8aff"/>
<circle cx="1696.1" cy="1752.4" r="3.4" fill="#57be63"/>
<circle cx="1492.1" cy="1777.5" r="3.4" fill="#d2603a"/>
<path d="M1492.1 1774.1A3.4 3.4 0 0 1 1492.1 1780.9Z" fill="#8238be"/>
<circle cx="1553" cy="1779" r="3.4" fill="#d2603a"/>
<path d="M1553 1775.6A3.4 3.4 0 0 1 1553 1782.4Z" fill="#57be63"/>
<circle cx="1346.8" cy="1806.6" r="3.4" fill="#8238be"/>
<path d="M1346.8 1803.2A3.4 3.4 0 0 1 1346.8 1810Z" fill="#f08189"/>
<circle cx="1484" cy="1826.3" r="3.4" fill="#8238be"/>
<circle cx="1675.9" cy="1844.5" r="3.4" fill="#d2603a"/>
<path d="M1675.9 1841.1A3.4 3.4 0 0 1 1675.9 1847.9Z" fill="#8a8aff"/>
<circle cx="1725" cy="1866.3" r="3.4" fill="#8238be"/>
<path d="M1725 1862.9A3.4 3.4 0 0 1 1725 1869.7Z" fill="#57be63"/>
<circle cx="1658" cy="1896.9" r="3.4" fill="#8a8aff"/>
<path d="M1658 1893.5A3.4 3.4 0 0 1 1658 1900.3Z" fill="#57be63"/>
<circle cx="1382.1" cy="1901" r="3.4" fill="#8238be"/>
<circle cx="1488" cy="1913.6" r="3.4" fill="#8a8aff"/>
<circle cx="1544.3" cy="1917.1" r="3.4" fill="#8a8aff"/>
<circle cx="1599.3" cy="1914.8" r="3.4" fill="#8238be"/>
<path d="M1599.3 1911.4A3.4 3.4 0 0 1 1599.3 1918.2Z" fill="#57be63"/>
<g font-size="14.2" fill="#8c8c8c" fill-opacity="0.85" text-anchor="middle"><text x="1443.57" y="1423">Regulation of innate</text><text x="1440.94" y="1441.89">immune response</text><text x="1566.58" y="1413.78">Regulation of tumor</text><text x="1563.5" y="1432.67">necrosis factor</text><text x="1563.5" y="1451.99">superfamily cytokine</text><text x="1563.5" y="1470.88">production</text><text x="1331.99" y="1468.25">Positive regulation of</text><text x="1331.99" y="1483.62">interleukin-1 beta production</text><text x="1494.53" y="1526.23">Positive regulation of</text><text x="1491.9" y="1541.61">innate immune response</text><text x="1261.71" y="1564.89">Positive regulation of</text><text x="1260.83" y="1580.71">inflammatory response</text><text x="1625.88" y="1557.42">Positive regulation of</text><text x="1627.2" y="1577.63">interleukin-6 production</text><text x="1843.77" y="1568.85">Positive regulation of</text><text x="1847.72" y="1583.78">chemokine production</text><text x="1630.71" y="1805.62">Toll-like receptor</text><text x="1634.23" y="1820.56">signaling pathway</text></g>
<g font-size="14.1" font-weight="bold" fill="#6ef0be" text-anchor="middle"><text x="1743.61" y="1442.09">Regulation of adaptive immune response</text><text x="1743.61" y="1458.78">based on somatic recombination</text><text x="1743.61" y="1475.48">of immune receptors built from</text><text x="1739.22" y="1492.17">immunoglobulin superfamily domains</text></g>
<g font-size="14.1" font-weight="bold" fill="#8db97a" text-anchor="middle"><text x="1308.27" y="1679.75">Positive regulation</text><text x="1308.27" y="1695.56">of cytokine production</text></g>
<g font-size="14.1" font-weight="bold" fill="#d05a33" text-anchor="middle"><text x="1818.73" y="1683.7">Pattern recognition</text><text x="1818.29" y="1702.59">receptor signaling</text><text x="1818.29" y="1721.48">pathway</text></g>
<g font-size="14.1" font-weight="bold" fill="#4db85a" text-anchor="middle"><text x="1795.01" y="1805.82">Defense response</text><text x="1793.69" y="1824.71">to virus</text></g>
<g font-size="14.1" font-weight="bold" fill="#f0737d" text-anchor="middle"><text x="1284.55" y="1795.72">Positive regulation</text><text x="1281.92" y="1811.09">of defense response</text></g>
<g font-size="14.1" font-weight="bold" fill="#7b2fbe" text-anchor="middle"><text x="1409.75" y="1874.35">Response to</text><text x="1407.99" y="1893.24">interferon-gamma</text></g>
<g font-size="14.1" font-weight="bold" fill="#8080ff" text-anchor="middle"><text x="1543.73" y="1880.94">Antimicrobial</text><text x="1542.85" y="1899.83">humoral response</text></g>
<g font-size="13.6" fill="#ff1a1a" text-anchor="middle"><text x="1496.29" y="1381.99">Il1a</text><text x="1650.48" y="1406.15">Cd274</text><text x="1780.07" y="1501.91">H2-Q10</text><text x="1358.35" y="1551.11">Ifi208</text><text x="1392.18" y="1587.57">Gbp5</text><text x="1452.8" y="1609.98">Ifi206</text><text x="1522.21" y="1623.16">Ifng</text><text x="1574.92" y="1632.82">Trim30d</text><text x="1764.7" y="1621.4">Rsad2</text><text x="1221.29" y="1626.67">Ptgs2</text><text x="1441.38" y="1660.06">Tnf</text><text x="1648.28" y="1657.86">Oas3</text><text x="1394.37" y="1673.67">Nos2</text><text x="1525.28" y="1687.73">Il17a</text><text x="1581.51" y="1682.9">Nlrp3</text><text x="1632.03" y="1699.59">Igtp</text><text x="1227" y="1702.23">Ido1</text><text x="1469.93" y="1719.8">Isg15</text><text x="1538.02" y="1735.18">Stat1</text><text x="1424.25" y="1750.11">Chil1</text><text x="1378.56" y="1775.15">Il17f</text><text x="1696.17" y="1769.88">Ifit1bl1</text><text x="1491.9" y="1795.36">Acod1</text><text x="1552.96" y="1796.68">Irf1</text><text x="1346.49" y="1823.47">Ubd</text><text x="1484.43" y="1843.68">Gbp10</text><text x="1675.96" y="1862.13">Reg3g</text><text x="1724.72" y="1884.09">Gbp3</text><text x="1657.51" y="1913.97">Cxcl10</text><text x="1382.07" y="1917.92">Gbp2</text><text x="1487.5" y="1930.66">Cxcl3</text><text x="1544.17" y="1934.17">Cxcl2</text><text x="1599.08" y="1932.42">Gbp2b</text></g>
</g>
<g id="panel-k">
<text transform="translate(1.9 1973.3) scale(1 1)" font-size="52.3" stroke="#000" stroke-width="1.8" stroke-linejoin="miter">K</text>
<text x="332.3" y="1994.2" font-size="26.83" text-anchor="middle" stroke="#000" stroke-width="1">Diabetic skin wound</text>
<text x="969.4" y="1988.8" font-size="26.87" text-anchor="middle" stroke="#000" stroke-width="1">Moderately enhance inflammatory response</text>
<text x="1652.8" y="1988.8" font-size="26.6" text-anchor="middle" stroke="#000" stroke-width="1">Wound healing</text>
<path d="M556 2172.3H694V2154.6L732.5 2177.3L694 2199.5V2182.7H556Z" fill="url(#kArrow)"/>
<path d="M1204 2172H1340V2154.6L1378.5 2177L1340 2199.5V2182.4H1204Z" fill="url(#kArrow)"/>
<text x="633.7" y="2163.8" font-size="21.4" text-anchor="middle" stroke="#000" stroke-width="0.9">EDPP</text>
<text x="638" y="2206.7" font-size="22.1" text-anchor="middle" stroke="#000" stroke-width="0.9">Treatment</text>
<path d="M499.64 2105.18L526.43 2068.57L542.5 2048.93L544.64 2031.96L541.07 2082.86L537.14 2150.71L530 2184.64L517.5 2243.57L499.64 2302.5L471 2353.3L485.36 2293.57L494.29 2222.14L498.75 2150.71Z" fill="url(#kSide)"/>
<path d="M471 2353.3L485.36 2293.57L496.96 2236.43L528.21 2186.43L517.5 2243.57L499.64 2302.5Z" fill="#f4eddc" opacity="0.9"/>
<path d="M55.89 2052.5L155 2064.11L380 2085.54L483.57 2093.57L499.64 2105.18L498.75 2150.71L494.29 2222.14L485.36 2293.57L471 2353.3L453.3 2343.3L420 2333.3L386.7 2330L353.3 2323.3L320 2320L270 2306.7L236.7 2293.3L203.3 2296.7L186.7 2290L153.3 2276.7L120 2281.7L90 2277L79 2263L74.64 2213.21L65.71 2132.86L56.79 2066.79Z" fill="url(#kDerm)"/>
<clipPath id="cfr101"><path d="M55.89 2052.5L155 2064.11L380 2085.54L483.57 2093.57L499.64 2105.18L498.75 2150.71L494.29 2222.14L485.36 2293.57L471 2353.3L453.3 2343.3L420 2333.3L386.7 2330L353.3 2323.3L320 2320L270 2306.7L236.7 2293.3L203.3 2296.7L186.7 2290L153.3 2276.7L120 2281.7L90 2277L79 2263L74.64 2213.21L65.71 2132.86L56.79 2066.79Z"/></clipPath>
<g clip-path="url(#cfr101)" filter="url(#blur1)"><path d="M107.8 2124.34C113.22 2124.18 129.48 2123.18 140.32 2123.42C151.16 2123.66 162 2125.52 172.84 2125.76C183.68 2126.01 194.52 2124.8 205.36 2124.89C216.2 2124.97 227.04 2125.77 237.89 2126.29C248.73 2126.8 259.57 2127.14 270.41 2127.99C281.25 2128.84 297.51 2130.81 302.93 2131.37" fill="none" stroke="#fde3d4" stroke-width="2.53" opacity="0.5" stroke-linecap="round"/><path d="M80.92 2134.41C83.33 2135.07 90.59 2137.99 95.43 2138.42C100.26 2138.85 105.1 2137.06 109.94 2137.01C114.77 2136.97 119.61 2137.98 124.45 2138.15C129.28 2138.32 134.12 2137.69 138.96 2138.03C143.79 2138.37 148.63 2139.93 153.47 2140.2C158.3 2140.46 165.56 2139.73 167.98 2139.64" fill="none" stroke="#f0a48e" stroke-width="2.52" opacity="0.28" stroke-linecap="round"/><path d="M131.46 2146.85C133.56 2146.82 139.85 2146.62 144.05 2146.66C148.24 2146.7 152.44 2146.77 156.63 2147.11C160.83 2147.46 165.02 2148.78 169.22 2148.73C173.41 2148.68 177.61 2147.06 181.8 2146.82C186 2146.58 190.19 2147.07 194.39 2147.27C198.58 2147.47 204.88 2147.89 206.97 2148.02" fill="none" stroke="#fde3d4" stroke-width="3.01" opacity="0.5" stroke-linecap="round"/><path d="M67.12 2156.66C70.59 2156.65 81.01 2156.73 87.95 2156.59C94.89 2156.45 101.84 2155.25 108.78 2155.85C115.72 2156.44 122.67 2159.85 129.61 2160.13C136.55 2160.42 143.5 2157.36 150.44 2157.53C157.38 2157.71 164.33 2160.77 171.27 2161.18C178.21 2161.59 188.63 2160.2 192.1 2160" fill="none" stroke="#f0a48e" stroke-width="2.09" opacity="0.28" stroke-linecap="round"/><path d="M79.92 2165.09C82.17 2165.22 88.93 2165.96 93.44 2165.88C97.94 2165.8 102.45 2164.49 106.95 2164.62C111.46 2164.74 115.97 2166.35 120.47 2166.63C124.98 2166.92 129.48 2166.25 133.99 2166.31C138.5 2166.37 143 2166.47 147.51 2167C152.01 2167.52 158.77 2169.04 161.02 2169.45" fill="none" stroke="#fde3d4" stroke-width="2.78" opacity="0.5" stroke-linecap="round"/><path d="M215.04 2185.55C219.36 2185.8 232.34 2186.65 240.98 2187.03C249.63 2187.42 258.28 2187.28 266.93 2187.86C275.58 2188.44 284.23 2189.39 292.88 2190.52C301.53 2191.64 310.18 2193.81 318.83 2194.61C327.48 2195.42 336.12 2195.08 344.77 2195.35C353.42 2195.62 366.4 2196.1 370.72 2196.25" fill="none" stroke="#f0a48e" stroke-width="2.3" opacity="0.28" stroke-linecap="round"/><path d="M233.06 2200.42C237.87 2200.08 252.31 2198.48 261.94 2198.37C271.57 2198.26 281.19 2198.83 290.82 2199.78C300.45 2200.73 310.08 2203.19 319.71 2204.06C329.33 2204.93 338.96 2204.51 348.59 2205C358.22 2205.49 367.84 2206.82 377.47 2206.98C387.1 2207.15 401.54 2206.14 406.35 2205.97" fill="none" stroke="#fde3d4" stroke-width="4.22" opacity="0.5" stroke-linecap="round"/><path d="M272.52 2206.21C277.63 2206.2 292.95 2205.54 303.16 2206.15C313.37 2206.75 323.58 2208.89 333.8 2209.84C344.01 2210.79 354.22 2211.57 364.43 2211.83C374.65 2212.09 384.86 2211.52 395.07 2211.42C405.28 2211.33 415.5 2210.88 425.71 2211.25C435.92 2211.61 451.24 2213.24 456.35 2213.64" fill="none" stroke="#f0a48e" stroke-width="4.06" opacity="0.28" stroke-linecap="round"/><path d="M268.23 2216.63C270.87 2216.66 278.79 2215.96 284.06 2216.83C289.34 2217.7 294.62 2220.96 299.9 2221.84C305.17 2222.72 310.45 2222.44 315.73 2222.11C321.01 2221.78 326.29 2220.31 331.56 2219.86C336.84 2219.41 342.12 2218.91 347.4 2219.41C352.68 2219.91 360.59 2222.29 363.23 2222.86" fill="none" stroke="#fde3d4" stroke-width="4.22" opacity="0.5" stroke-linecap="round"/><path d="M202.5 2226.12C207.5 2226.42 222.49 2227.23 232.49 2227.93C242.48 2228.64 252.48 2230.22 262.48 2230.37C272.47 2230.51 282.47 2228.82 292.47 2228.8C302.46 2228.78 312.46 2229.46 322.46 2230.23C332.45 2231 342.45 2232.77 352.45 2233.43C362.44 2234.08 377.44 2234.03 382.44 2234.15" fill="none" stroke="#f0a48e" stroke-width="3.34" opacity="0.28" stroke-linecap="round"/><path d="M268.17 2244.72C270.95 2245.02 279.32 2246.5 284.89 2246.5C290.47 2246.5 296.04 2245.2 301.61 2244.73C307.19 2244.27 312.76 2243.62 318.34 2243.7C323.91 2243.79 329.49 2244.99 335.06 2245.24C340.64 2245.48 346.21 2244.99 351.79 2245.17C357.36 2245.34 365.72 2246.09 368.51 2246.28" fill="none" stroke="#fde3d4" stroke-width="2.3" opacity="0.5" stroke-linecap="round"/><path d="M145.65 2251.3C149.05 2251.45 159.27 2251.91 166.09 2252.22C172.9 2252.52 179.71 2253.1 186.52 2253.13C193.34 2253.15 200.15 2252.11 206.96 2252.37C213.78 2252.64 220.59 2254.28 227.4 2254.72C234.22 2255.16 241.03 2255.18 247.84 2255.02C254.65 2254.86 264.87 2253.97 268.28 2253.76" fill="none" stroke="#f0a48e" stroke-width="3.36" opacity="0.28" stroke-linecap="round"/><path d="M211.76 2263.45C216.28 2263.8 229.85 2265 238.9 2265.56C247.95 2266.12 257 2266.53 266.05 2266.8C275.1 2267.06 284.14 2267.11 293.19 2267.15C302.24 2267.18 311.29 2266.83 320.34 2267.01C329.38 2267.18 338.43 2267.02 347.48 2268.19C356.53 2269.37 370.1 2273.07 374.63 2274.05" fill="none" stroke="#fde3d4" stroke-width="3.85" opacity="0.5" stroke-linecap="round"/><path d="M209.76 2278.56C212.47 2278.87 220.61 2280.16 226.04 2280.44C231.46 2280.73 236.89 2280.42 242.31 2280.24C247.74 2280.06 253.17 2278.98 258.59 2279.38C264.02 2279.79 269.44 2282.05 274.87 2282.66C280.29 2283.27 285.72 2283.58 291.14 2283.04C296.57 2282.49 304.71 2280.01 307.42 2279.4" fill="none" stroke="#f0a48e" stroke-width="3.03" opacity="0.28" stroke-linecap="round"/><path d="M124.95 2284.01C129.01 2284.68 141.2 2287.11 149.33 2288.05C157.46 2288.98 165.59 2289.86 173.71 2289.63C181.84 2289.4 189.97 2286.47 198.1 2286.67C206.23 2286.87 214.35 2290.33 222.48 2290.85C230.61 2291.36 238.74 2289.44 246.87 2289.74C254.99 2290.04 267.19 2292.14 271.25 2292.62" fill="none" stroke="#fde3d4" stroke-width="3.73" opacity="0.5" stroke-linecap="round"/><path d="M238.15 2308.33C241.14 2307.97 250.09 2305.93 256.06 2306.17C262.03 2306.4 268 2309.28 273.97 2309.75C279.94 2310.23 285.91 2309.15 291.88 2309.02C297.85 2308.9 303.82 2308.91 309.79 2309.01C315.76 2309.12 321.73 2309.42 327.7 2309.63C333.67 2309.84 342.62 2310.17 345.61 2310.28" fill="none" stroke="#f0a48e" stroke-width="3.99" opacity="0.28" stroke-linecap="round"/></g>
<path d="M56.79 2066.79L153.21 2076.61L190.71 2082.86L190.71 2136.43C186.25 2137.32 181.79 2142.68 172.86 2140C163.93 2137.32 163.04 2134.64 155 2125.71C146.96 2116.79 147.86 2111.43 140.71 2104.29C133.57 2097.14 136.25 2094.46 126.43 2097.14C116.61 2099.82 112.14 2108.3 101.43 2115C90.71 2121.7 91.16 2123.93 83.57 2123.93C75.98 2123.93 76.21 2119.46 71.07 2115C65.94 2110.54 65.04 2108.3 63.04 2106.07L56.79 2066.79Z" fill="url(#kPink)"/>
<path d="M351.43 2097.14L385.36 2097.68L483.57 2105.71L499.64 2108.75L498.57 2141.79C495.27 2144.02 495.36 2149.38 485.36 2150.71C475.36 2152.05 471.96 2148.93 458.57 2147.14C445.18 2145.36 445.18 2143.12 431.79 2143.57C418.39 2144.02 417.05 2146.25 405 2148.93C392.95 2151.61 392.5 2156.07 383.57 2154.29C374.64 2152.5 379.55 2143.57 369.29 2141.79C359.02 2140 358.12 2144.91 342.5 2147.14C326.88 2149.38 322.41 2150.71 306.79 2150.71C291.16 2150.71 286.7 2148.04 280 2147.14L351.43 2097.14Z" fill="url(#kPink)"/>
<clipPath id="cpk101"><path d="M56.79 2066.79L153.21 2076.61L190.71 2082.86L190.71 2136.43C186.25 2137.32 181.79 2142.68 172.86 2140C163.93 2137.32 163.04 2134.64 155 2125.71C146.96 2116.79 147.86 2111.43 140.71 2104.29C133.57 2097.14 136.25 2094.46 126.43 2097.14C116.61 2099.82 112.14 2108.3 101.43 2115C90.71 2121.7 91.16 2123.93 83.57 2123.93C75.98 2123.93 76.21 2119.46 71.07 2115C65.94 2110.54 65.04 2108.3 63.04 2106.07L56.79 2066.79Z M351.43 2097.14L385.36 2097.68L483.57 2105.71L499.64 2108.75L498.57 2141.79C495.27 2144.02 495.36 2149.38 485.36 2150.71C475.36 2152.05 471.96 2148.93 458.57 2147.14C445.18 2145.36 445.18 2143.12 431.79 2143.57C418.39 2144.02 417.05 2146.25 405 2148.93C392.95 2151.61 392.5 2156.07 383.57 2154.29C374.64 2152.5 379.55 2143.57 369.29 2141.79C359.02 2140 358.12 2144.91 342.5 2147.14C326.88 2149.38 322.41 2150.71 306.79 2150.71C291.16 2150.71 286.7 2148.04 280 2147.14L351.43 2097.14Z"/></clipPath>
<g clip-path="url(#cpk101)"><path d="M99.26 2083.96L106.06 2085.89L108.35 2087.67M492.4 2152.1L496.74 2151.02L501.18 2153.03L502.68 2155.88L506.04 2156.91M326.99 2128.22L330.15 2125.49L333.79 2123.97L334.71 2121.58L331.52 2118.53M224.3 2123.3L232.11 2122.64L233.94 2118.97L235.33 2116.95L233.35 2113.18M447.44 2141.18L446.33 2138.79L441.27 2136.88M169.24 2119.68L169.68 2115.73L169.49 2113.33L174.1 2111.86L175.13 2109.05M485.74 2149.31L485.89 2151.36L479.81 2153.76L477.77 2157.29M378.06 2110.61L382.73 2107.97L383.11 2104.61L381.68 2100.9L380.69 2098.96M369.7 2133.99L363.26 2133.61L361.02 2131.78L358.83 2130.14M393.35 2103.37L385.96 2102.74L382.57 2104.52L375.09 2103.73L367.15 2102.86M393.97 2144.12L396.09 2145.96L395.74 2148.01L392.69 2150.76L389.06 2152.76M361.7 2105.32L363.99 2107.07L366.8 2108.8M126.86 2096.03L126.73 2092.89L124.57 2089.6M73.34 2083.39L76.58 2079.86L76.34 2077.32L79.47 2075.05L86.11 2074.34M310.19 2105.82L306.25 2107.36L302.69 2107.29L294.88 2107.67M167.65 2100.7L168.98 2096.98L173.42 2094.87M190.79 2111.39L182.9 2111.98L176.04 2111.87L170.88 2109.07L170.15 2107.22M218.09 2118.76L215.37 2121.45L217.54 2123.53L219.69 2126.69L225.45 2128.4M242.52 2107L242.95 2105.16L239.32 2103.34M87.35 2075.38L87.48 2073.1L90.42 2070L93.74 2067.3M313.67 2135.63L317.06 2138.57L317.66 2141.23L319.38 2144.33L322.33 2146.94M83.93 2086.41L88.26 2085.26L95.48 2085.99M294.85 2097.34L298.23 2096.65L303.63 2096.25M392.08 2118.42L397.09 2117.79L401.85 2117.55L405.3 2118.56M65.78 2093.8L68.1 2096.87L72.36 2099.29L73.22 2101.38L77.95 2104.09M458.29 2108.56L458.89 2110.98L455.01 2112.82L447.93 2112.92L445.55 2115.74M376.09 2143.52L376.65 2139.99L374.18 2136.85M289.4 2105.78L284.21 2104.39L279.47 2102.47M433.4 2135.85L432.52 2138.03L430.55 2140.03L431.07 2143.72L429.72 2145.75M146.85 2088.45L151.48 2090.79L155.96 2092.19M422.22 2144.46L422.81 2142.6L427.71 2139.48M322.2 2132.11L325.49 2131.02L332.16 2129.94M459.05 2145.92L458.6 2142.44L459.32 2139.66L457.3 2136.15L454.83 2134.03M251.09 2116.13L255.4 2115.58L259.03 2116.76L261.68 2119.8M73.54 2092.35L73.07 2096.47L74.14 2098.76L77.47 2100.97L83.53 2101.13M102.42 2110.39L98.1 2109.85L95.95 2107.73L94.6 2104.2L91.84 2101.8M104.87 2121.78L103.09 2118.63L100.88 2115.36L102.98 2113.51M103.57 2087.15L102.79 2090.97L107.64 2093.13L108.2 2097.25L108.62 2100.91M468.25 2125.74L470.32 2128.95L470.11 2132.25L466.82 2134.78M272.31 2093.41L278.3 2093.47L281.68 2091.38L286.97 2091.75M313.07 2127.26L316.99 2124.3L318.46 2120.33M303.85 2123.15L310.92 2122.28L315.92 2121.13L316.15 2118.46L318.4 2115.03M482.79 2119.19L486.47 2115.7L493.56 2114.68L498.69 2113.54M243.72 2103.54L238.88 2102.66L234.35 2100.11L227.76 2098.94L223.91 2099.65M200.31 2091.26L204.72 2088.2L206.22 2084.4M250.53 2131.77L254.11 2132.36L257.35 2133.83L264.1 2134.58L270.62 2136.32M131.99 2110.39L123.9 2109.44L120.1 2107.75L115.52 2107.9M325.87 2100L319.99 2101.84L318.11 2105.68L318.39 2108.69M278.74 2098.18L276.72 2095.41L274.5 2093.34L273.97 2090.77M481.09 2155.38L486.92 2153.77L494.85 2154.33M319.99 2128.99L327.27 2128.28L333.02 2127.63M428.66 2134.53L437.01 2134.83L444.47 2134.36M216.61 2111.94L218.34 2113.63L216.24 2116.13L218.22 2118.52L221.93 2121.78M327.66 2115.19L335.41 2114.41L338.7 2111.98L346.79 2111.48M139.38 2092.15L132.24 2091.12L126.07 2092.02L119.64 2090.43M436.23 2143.32L433.44 2140.9L426 2140.87L422.51 2139.35L418.38 2137.56M163.34 2120.46L166.99 2118.72L168.73 2116.04L174.87 2114.93L180.65 2112.48M400.25 2110.61L405 2112.28L408.77 2111.25L410.41 2108.28M356.64 2108.07L357.52 2105.57L357.16 2102.37L358.96 2099.9L360.82 2097.22M437.07 2124.07L435.46 2121.17L429.69 2119.76M298.23 2095.65L301.52 2099.12L299.76 2102.68L299.83 2105.17L302.51 2108.2M462.97 2111.55L461.59 2113.97L460.4 2115.97L464.21 2117.36L468.04 2119.49M138.26 2102.06L143.84 2100.69L145.64 2099.04L146.22 2096.73L144.04 2093.68M167.8 2098.81L168.96 2095L171.1 2091.42M427.25 2142.38L423.99 2144.93L415.97 2145.19L411.41 2146.77L412.43 2149.5M435.41 2127.13L440.34 2125.89L446.67 2127.3L449.59 2130.79L447.14 2133.06M160.74 2116.71L154.3 2115.27L150.68 2113.44L145.46 2114.11M437.33 2137.27L437.09 2133.51L438.87 2131.5L438.44 2127.98L437.64 2124.89M204.52 2099.74L199.88 2097.99L194.74 2096.32L193.08 2092.5M137.54 2081.17L141.96 2081.31L145.32 2078.97L153.31 2078.8L159.83 2080.4M63.45 2107.36L62.34 2104.87L61.93 2101.88M285.04 2128.88L279.21 2128.94L275.49 2131.88L271.75 2132.22M397.79 2143.77L402.89 2146.23L409.26 2148.03L415.39 2149.64M460.71 2154.33L460.55 2156.98L457.38 2159.82L453.87 2162.98M394.81 2118.76L390.2 2118.25L387.25 2115.49L389.68 2112.18M144.39 2097.01L141.72 2094.47L137.84 2093.78L135.24 2091.63L131.66 2088.03M356.95 2114.41L352.75 2115.78L345.71 2115.09L340.36 2113.21M202.79 2095.62L205.56 2092.5L206.25 2089.46L212.67 2087.34M398.89 2104.71L394.11 2103.31L389.37 2103.19L386.53 2104.67M108.2 2110.8L103.62 2111.55L95.35 2111.61M177.03 2088.06L173.97 2089.48L172.74 2091.46L171.57 2094.57M172.83 2109.09L169.06 2110.54L169.69 2113.78L165.28 2116.56L167.27 2119.53M301.34 2102.2L305.18 2103.27L311.81 2102.25M209.29 2129.61L212.43 2127.96L218.91 2125.92L225.92 2125.96L229.68 2125.69M264.52 2112.25L268.53 2114.34L273.66 2114.85L277.36 2116.46M435.76 2149.95L436.39 2154.06L438.37 2156.32M133.43 2114.5L138.42 2115.21L143.64 2115.71M139.1 2120.33L132.75 2121.93L128.17 2124.41M485.02 2150.44L484.65 2148.26L485.8 2146.38L488.2 2143.69M244.36 2132.15L238.67 2133.1L237.26 2136.18L236.83 2139.56L238.92 2142.18M469.85 2125.49L473.62 2128.05L471.26 2131.44M295.68 2091.6L292.79 2089.69L286.74 2089.76L283.06 2092.38L280.57 2094.47M247.74 2102.28L252.97 2104.23L259.41 2104.74L261.08 2108.16L263.19 2111.32M91.95 2112.78L94.59 2114.91L98.79 2115.41L102.54 2115.59M440.63 2103.74L437.16 2102.21L434.51 2098.76L431.5 2096.7L425.8 2094.62M266.61 2093.05L267.48 2096.53L273.11 2099.41L278.66 2100.78M355.2 2111.3L353.77 2115.21L351.93 2118.94L351.64 2123.06L354.16 2125.54M238.86 2088.69L243.33 2086.87L247.93 2083.84M436.45 2109L441.07 2111.55L441.81 2113.29L438.24 2114.76M413.43 2106.68L409.72 2110.12L408.85 2112.23L403.54 2114.26M412.36 2149.99L408.44 2148.43L408.33 2146.6L409.23 2143.5M98.27 2089.58L104.54 2087.63L108.12 2087.71L115 2088.89M225.75 2102.35L230.11 2100.83L234.71 2100.11M320.72 2119.04L314.31 2118.92L306.94 2117.36M164.71 2081.52L160.86 2084.2L160.18 2085.98M212.32 2086.37L207.46 2085.06L206.21 2081.38L198.84 2080.27M444.1 2144.61L447.83 2146.36L455.55 2146.44L459.81 2149.44M275.85 2090.74L277.29 2088.42L279.74 2086.95L283.13 2085.12M349.21 2119.06L343.68 2116.73L342.75 2114.08L340.51 2110.28M319.1 2136.75L315.83 2138.79L317.62 2141.52L319.72 2143.25M185.35 2116.94L181.61 2116.56L176.32 2115.09L176.13 2111.37L179.87 2108.9M251.4 2086.9L250.21 2084.12L252.03 2081.67M498.26 2153.06L490.22 2153.63L485.42 2151.23L484.76 2147.45M439.73 2130.03L432.5 2131.03L427.05 2132.37M121.03 2110L118.32 2113.5L118.17 2116.96L122.66 2118.93M458.7 2149.96L460.87 2151.86L465.22 2152.16M161.38 2086.59L159.64 2082.98L157.06 2079.41L156.27 2077.62M432.64 2137.24L428 2136.24L420.01 2136.9L412.13 2135.94L405.38 2135.78M134.68 2080.69L138.14 2078.39L144.4 2077.83M266.97 2102.58L262.56 2099.76L257.14 2098.14L253.45 2098.98M111.74 2094.23L117.06 2095.06L120.65 2096.7L120.92 2099.01L118.35 2101.54M241.15 2130.16L244.58 2129.39L251.45 2129.13L256.47 2128.28M296.92 2124.76L298.23 2121.01L302.39 2118.46M396.07 2118.22L400.95 2118.37L404.09 2116.5M70.02 2085.38L73.04 2083.83L79.19 2083.97L83.26 2083.22L86.72 2081.49M338.61 2094.31L336.46 2097.82L332.06 2099.36M194.45 2094.11L190.5 2091.96L188.2 2088.81L181.91 2088.27M445.58 2137.4L450.92 2136.14L454.31 2134.33L458.63 2131.92M310.44 2131.19L312.36 2134.41L310.63 2137.25M448.9 2144.75L454.74 2146.71L459.36 2149.84L464.44 2152.07M237.49 2087.38L234.16 2088.05L228.12 2089.17M448.8 2108.5L447.42 2111.69L443.53 2113.16L438.09 2115.05M110.24 2122.79L114.73 2119.65L122.5 2119.59M364.51 2099.24L363.5 2101.2L361.12 2104.53L357.6 2105.5M72.1 2107.92L75.51 2105.32L79.67 2105.18L84.03 2106L92.33 2105.69M185.93 2096.62L178.36 2097.02L174.46 2094.59L170.93 2093.86L164.46 2095.44M134.52 2105.89L139.49 2108.89L146.91 2108.63L150.7 2105.2M103.26 2117.3L106.5 2116.5L111.75 2115.49M322.64 2095.53L323.03 2097.52L326.91 2099.43L329.59 2101.01L334.78 2103.74M286.43 2132.12L292.15 2132.87L295.47 2131.88M497.21 2115.9L501.18 2116.21L505.63 2118.27L512.11 2120.04M185.57 2128.8L190.35 2128.39L194.66 2127.57M221.19 2122.11L220.68 2120.35L225.01 2118.37L223.71 2116.23M99.19 2118.85L100.45 2116.96L105.07 2115.84M404.94 2109.34L401.91 2110.65L395.48 2112.25M115.83 2099.91L119.82 2098.39L125.43 2098.82L128.74 2097.37M350.2 2119.78L356.2 2119.38L363.43 2119.52L368.31 2121.13M187.12 2082.74L182.76 2081.77L177.08 2082.87M78.25 2097.21L74.9 2099.23L71.18 2100L67.45 2101.42L64.96 2104.9M305.64 2097L300.67 2096.43L296.76 2096.22L293.74 2094.38L288.53 2093.04" fill="none" stroke="#e98884" stroke-width="0.6" opacity="0.55" stroke-linecap="round" stroke-linejoin="round"/></g>
<path d="M74.64 2215C78.21 2216.79 80.45 2219.91 88.93 2222.14C97.41 2224.38 99.64 2225.27 108.57 2223.93C117.5 2222.59 117.5 2221.25 124.64 2216.79C131.79 2212.32 131.34 2205.62 137.14 2206.07C142.95 2206.52 141.61 2208.75 147.86 2218.57C154.11 2228.39 155 2234.2 162.14 2245.36C169.29 2256.52 170.18 2262.77 176.43 2263.21C182.68 2263.66 180.89 2255.4 187.14 2247.14C193.39 2238.88 194.29 2229.73 201.43 2230.18C208.57 2230.62 207.68 2238.44 215.71 2248.93C223.75 2259.42 224.64 2264.55 233.57 2272.14C242.5 2279.73 242.95 2282.86 251.43 2279.29C259.91 2275.71 260.36 2266.79 267.5 2257.86C274.64 2248.93 273.75 2248.71 280 2243.57C286.25 2238.44 288.04 2238.21 292.5 2237.32C296.96 2236.43 292.05 2233.08 297.86 2240C303.66 2246.92 306.79 2253.39 315.71 2265C324.64 2276.61 325.54 2278.84 333.57 2286.43C341.61 2294.02 338.93 2295.36 347.86 2295.36C356.79 2295.36 357.23 2293.12 369.29 2286.43C381.34 2279.73 382.68 2275.71 396.07 2268.57C409.46 2261.43 411.7 2257.86 422.86 2257.86C434.02 2257.86 431.79 2260.54 440.71 2268.57C449.64 2276.61 450.09 2281.96 458.57 2290C467.05 2298.04 467.95 2302.5 474.64 2300.71C481.34 2298.93 480.22 2293.57 485.36 2282.86C490.49 2272.14 492.72 2264.11 495.18 2257.86L485.36 2293.57L471 2353.3C466.57 2350.8 466.05 2348.3 453.3 2343.3C440.55 2338.3 436.65 2336.62 420 2333.3C403.35 2329.98 403.38 2332.5 386.7 2330C370.02 2327.5 369.98 2325.8 353.3 2323.3C336.62 2320.8 340.82 2324.15 320 2320C299.18 2315.85 290.82 2313.38 270 2306.7C249.18 2300.02 253.38 2295.8 236.7 2293.3C220.02 2290.8 215.8 2297.52 203.3 2296.7C190.8 2295.88 199.2 2295 186.7 2290C174.2 2285 169.98 2278.77 153.3 2276.7C136.62 2274.62 135.82 2281.62 120 2281.7C104.17 2281.77 100.25 2281.68 90 2277C79.75 2272.32 81.75 2266.5 79 2263L74.64 2215Z" fill="url(#kFat)"/>
<clipPath id="cfx101"><path d="M74.64 2215C78.21 2216.79 80.45 2219.91 88.93 2222.14C97.41 2224.38 99.64 2225.27 108.57 2223.93C117.5 2222.59 117.5 2221.25 124.64 2216.79C131.79 2212.32 131.34 2205.62 137.14 2206.07C142.95 2206.52 141.61 2208.75 147.86 2218.57C154.11 2228.39 155 2234.2 162.14 2245.36C169.29 2256.52 170.18 2262.77 176.43 2263.21C182.68 2263.66 180.89 2255.4 187.14 2247.14C193.39 2238.88 194.29 2229.73 201.43 2230.18C208.57 2230.62 207.68 2238.44 215.71 2248.93C223.75 2259.42 224.64 2264.55 233.57 2272.14C242.5 2279.73 242.95 2282.86 251.43 2279.29C259.91 2275.71 260.36 2266.79 267.5 2257.86C274.64 2248.93 273.75 2248.71 280 2243.57C286.25 2238.44 288.04 2238.21 292.5 2237.32C296.96 2236.43 292.05 2233.08 297.86 2240C303.66 2246.92 306.79 2253.39 315.71 2265C324.64 2276.61 325.54 2278.84 333.57 2286.43C341.61 2294.02 338.93 2295.36 347.86 2295.36C356.79 2295.36 357.23 2293.12 369.29 2286.43C381.34 2279.73 382.68 2275.71 396.07 2268.57C409.46 2261.43 411.7 2257.86 422.86 2257.86C434.02 2257.86 431.79 2260.54 440.71 2268.57C449.64 2276.61 450.09 2281.96 458.57 2290C467.05 2298.04 467.95 2302.5 474.64 2300.71C481.34 2298.93 480.22 2293.57 485.36 2282.86C490.49 2272.14 492.72 2264.11 495.18 2257.86L485.36 2293.57L471 2353.3C466.57 2350.8 466.05 2348.3 453.3 2343.3C440.55 2338.3 436.65 2336.62 420 2333.3C403.35 2329.98 403.38 2332.5 386.7 2330C370.02 2327.5 369.98 2325.8 353.3 2323.3C336.62 2320.8 340.82 2324.15 320 2320C299.18 2315.85 290.82 2313.38 270 2306.7C249.18 2300.02 253.38 2295.8 236.7 2293.3C220.02 2290.8 215.8 2297.52 203.3 2296.7C190.8 2295.88 199.2 2295 186.7 2290C174.2 2285 169.98 2278.77 153.3 2276.7C136.62 2274.62 135.82 2281.62 120 2281.7C104.17 2281.77 100.25 2281.68 90 2277C79.75 2272.32 81.75 2266.5 79 2263L74.64 2215Z"/></clipPath>
<g clip-path="url(#cfx101)">
<path d="M308.66 2297.47L303.75 2295.15L299.73 2293.23L292.98 2293.15M201.63 2295.26L203.7 2291.25L208.35 2288.22L206.2 2285.5L204.29 2282.44M165.85 2273.98L158.06 2273.12L151.32 2272.1M372.2 2325.24L376.58 2326.94L383.42 2328.93L391.36 2330.06L397.43 2327.87M455.02 2336.6L455.26 2333.67L453.55 2330.55M366.87 2293.43L363.28 2290.71L358.6 2287.86M445.84 2331.27L454.51 2331.74L463.88 2331.22M154.41 2275.62L156.31 2279.85L157.72 2283.97L163.83 2285.93M181.85 2287.36L184.64 2289.01L188.19 2292.14L189.54 2294.29L187.75 2296.86M377.71 2310.64L372.9 2309.28L368.95 2306.01M337.58 2297.95L335.82 2300.37L332.46 2302.53M231.82 2293.43L228.62 2289.24L230.92 2286.28M196.87 2297.64L197.91 2300.18L200.62 2303.77L205.25 2305.72M256.07 2274.49L253.83 2271.07L257.91 2268.05L259.86 2265.49L259.84 2261.96M314.96 2305.61L320.7 2306.18L324.5 2304.76L329.99 2301.36M453.62 2330.73L459.9 2333.03L459.25 2335.51L459.37 2338.21M157.5 2271.34L156.33 2267.63L159.52 2264.92L166 2262.53M198.14 2291.67L192.63 2291.3L186.86 2291.71L181.38 2293.3M437.06 2325.13L440.38 2321.95L449.57 2321.57M417.01 2332.33L410.86 2334.45L408.88 2336.77M158.92 2284.14L155 2287.75L155.14 2292.36L155.49 2296.26M220.31 2293.39L222.57 2296.32L221.98 2298.46M465.52 2337.85L464.42 2340.96L466.57 2343.2L463.32 2346.27L462.27 2350.85M343.74 2290.01L341.5 2293.42L335.29 2294.74L331.04 2298.04M212.9 2296.9L213.18 2292.16L219.44 2289.54L224.99 2289.31L231.87 2287.09M220.33 2288.64L214.71 2289.75L206.55 2290.26L202.95 2291.93L196.16 2293.71M460.44 2310.73L456.28 2313.43L448.39 2314.67L442.7 2314.81M432.54 2310.89L436.63 2312.96L437.55 2315.7L431.92 2318.03L433.39 2320.88M269.8 2296.57L270.45 2294.08L275.7 2292.61M290.85 2298.31L285.08 2296.2L284.47 2293.83L288.84 2292.43M198.66 2286.5L199.26 2289.28L195.92 2291.51L187.43 2293.15M468.4 2341.42L472.6 2343.7L480.84 2344.77L486.17 2343.93M421.1 2306.64L419.84 2302.01L422.45 2298.98L426.17 2296.11M466.11 2335.24L458 2333.14L450.94 2331.63M140.98 2259.4L142.81 2256.35L137.3 2254.09L136.17 2251.77M116.36 2266.24L123.57 2265.07L129.91 2264.89L135 2265.91L141.33 2265.96M256.59 2302.82L262.79 2303.34L269.63 2300.95L278.01 2301.09L287.05 2301.02M422.8 2308.26L424.63 2305.7L427.94 2302.61L432.8 2302.47M440.8 2337.21L443.87 2340.04L447.02 2341.56L448.85 2345.04M203.64 2272.17L197.97 2273.96L197.39 2278.19M281.85 2303.43L290.23 2305.72L297.81 2304.33M147.02 2277.83L140.9 2279.34L135.91 2279.13L131.89 2280.57L130.14 2284.09M250.92 2300.66L247.92 2297.51L246.6 2294.46L240.16 2293.76L234.07 2294.24M463.62 2311.74L467.69 2313.77L467.41 2317.55L467.7 2322.21L469.2 2326.05M221.3 2301.93L225.65 2299.88L234.64 2299.62L242.76 2300.65L250.6 2298.37M414.33 2321.09L417.67 2317.13L419.51 2312.5M414.28 2310.64L409.34 2313.02L403.65 2313.71L400.1 2317.08M223.02 2296.22L226.83 2295.03L233.71 2294.02M423.77 2307.55L421.49 2305.63L423.36 2302.08L426.62 2299.82M391.73 2300.15L397.46 2302.42L403.65 2302.9M437.18 2310.53L440.45 2311.77L446.67 2311.32M368.64 2296.06L374.6 2297.47L377.91 2300.03L383.09 2303.29M300.97 2285.14L301.43 2281.87L305.94 2279.19M327.72 2321.32L328.24 2319.27L331.3 2314.9M181.69 2287.89L186.04 2290.32L187.94 2292.52L190.56 2294.82M223.81 2283.97L221.23 2286.7L212.95 2288.18L207.53 2290.33L203.45 2292.3M221.12 2292.58L222.22 2289.5L221.8 2285.09M369.43 2320.63L370.02 2317.53L377.04 2315.32M395.57 2325.27L398.62 2322.77L402.29 2321.5M292.51 2306.39L295.88 2302.93L293.29 2299.29M215.86 2289.77L209.8 2290.29L202.47 2289.19M361.85 2318.79L362.4 2314.22L355.47 2311.51M405.65 2304.25L402.98 2306.88L401.26 2309.01L403.88 2312.6L407.55 2315.33M412.51 2320.35L411.11 2318.36L410.77 2313.87M419.21 2331.17L427.58 2330.46L435.13 2332.4L440.65 2331.73L448.95 2330.77M307.3 2295.97L316.38 2296.14L321.81 2293.93L331.05 2293.97M441.97 2319.44L435.17 2321.81L430.95 2321.45L426.78 2318.45M423.53 2307.87L416.51 2309.29L414.67 2311.24L420.3 2313.45M309.22 2294.33L307.66 2297.71L304.61 2299.69M346.89 2310.06L342.97 2312.58L337.58 2313.26L328.5 2312.65L323.9 2309.73M117.72 2274.76L114.67 2271.35L115.1 2266.72M251.91 2306.85L251.96 2304.28L251.72 2300.5L247.83 2298.09M164.93 2294.59L166.66 2292.32L170.94 2290.06M85.03 2251.76L81.36 2254.99L79.14 2257.55L75.84 2258.76M173.99 2277.44L180.7 2279.04L184.6 2280.69L192.81 2279.5L198.46 2277.63M239.74 2282.55L237.84 2286.41L237.74 2288.44L234.42 2291.38L232.81 2295.6M238.37 2302.76L242.66 2302.63L249.45 2304.89M453.95 2330.21L447.86 2330.07L440.66 2332.66M155.35 2261.93L148.04 2261.2L140.95 2262.4L132.53 2262.13M289.51 2315.64L287.19 2312.94L282.5 2310.6M206.55 2278.84L198.24 2279.46L193.8 2280.55L189.58 2279.46L184.43 2280.02M306.42 2312.64L301.47 2310.41L298.86 2307.48M274.92 2301.98L270.62 2298.62L266.6 2296.01L264.11 2292.6L260.27 2291.03M437.21 2338.76L434.33 2334.62L432.6 2331.75L426.24 2329.51M284.31 2289.92L286.45 2286.15L285.19 2282.29L283.93 2277.89M350.69 2303.14L352.57 2306.63L355.14 2309.61L354.8 2314.28L350.03 2317.04M302.98 2309.49L301.79 2305.42L298.65 2302.71M411.25 2307.09L407.41 2311.04L405.21 2314.56M304.04 2316.55L298.68 2319.87L299.02 2324.38L296.49 2328L293.5 2332.23M317.29 2295.89L315 2293.68L311.04 2291.61L306.79 2291.08" fill="none" stroke="#e9ae48" stroke-width="0.7" opacity="0.75" stroke-linecap="round" stroke-linejoin="round"/>
</g>
<path d="M55.89 2052.5L83.57 2043.57L122.86 2036.07L155 2023.93L178.21 2015L215.71 2010L262.14 2013.21L280 2012.86L351.43 2018.57L440.71 2023.93L512.14 2028.39L544.29 2030.71L542.5 2048.93L526.43 2068.57L499.64 2105.18L483.57 2093.57L380 2085.54L155 2064.11Z" fill="url(#kTop)"/>
<g clip-path="url(#ct101)">
<ellipse cx="190.71" cy="2032.86" rx="90" ry="14" fill="#f6b694" opacity="0.55" filter="url(#blur4)"/>
<ellipse cx="405" cy="2036.43" rx="110" ry="12" fill="#f5b898" opacity="0.5" filter="url(#blur4)"/>
<ellipse cx="440.71" cy="2070.36" rx="70" ry="16" fill="#fbe7c4" opacity="0.7" filter="url(#blur4)"/>
<path d="M513.25 2080.68L505.01 2078.97L500.82 2080.34M200.72 2099.08L210.42 2100.86L218.15 2102.47M429.03 2065.17L432.73 2068.03L438.89 2071.05L447.36 2072M75.16 2024.94L66.39 2023.26L59.22 2022.81L49.54 2023.62L41.31 2024.35M399.59 2065.35L399.35 2068.87L395.87 2073.76L396.02 2077.94L395.03 2083.25M423.05 2096.38L423.36 2101.07L428.68 2104.24M248.36 2015.55L253.25 2014.98L259.56 2011.87M133.91 2013.59L143.26 2013.19L147.28 2015.43M470.37 2068.11L475.15 2066.98L479.31 2063.7M358.58 2064.9L349.83 2063.57L341.47 2061.51M216.84 2096.08L225.08 2095.35L233.95 2094.11L241.22 2091.64L245.27 2087.49M301.49 2043.16L304.82 2046.43L312.43 2048.85L317.44 2049.66L326.45 2050.38M63.11 2076.74L65.96 2080.23L65.83 2083.55L66.05 2088.03M311.96 2093.31L311.7 2096.66L306.07 2100.62L307.58 2103.49L311.75 2107.76M210.48 2057.17L209.55 2052.7L213.79 2050.54L215.95 2045.52M245.97 2056.05L242.4 2059.55L239.97 2063.41M225.35 2074.21L223.22 2071.43L216.3 2069.47M377.48 2014.99L383.61 2015.91L387.67 2018.54L394.42 2019.93M370.84 2098.7L372.34 2093.74L369.26 2089.42L368.56 2084.73M504.68 2035.29L507.37 2039.49L513.4 2042.62L515.32 2046.41M228.43 2088.34L234.22 2090.33L235.66 2093.9M362.96 2085.63L364.1 2083.16L361 2079.9L359.36 2077.53L361.07 2074.05M495.96 2017.46L499.74 2021.3L508.58 2023.36M155.35 2034.52L162.61 2036.64L167.19 2038.13L176.41 2038.78L182.84 2037.8M97.78 2081.87L100.26 2078.93L98.73 2074.45L97.63 2071.47L100.26 2066.94M341.65 2098.79L335.61 2095.24L333.3 2092.03L333.75 2087.7M453.37 2024.76L445.28 2026.48L441.1 2029.1L432.46 2030.78M90.92 2064.86L91.97 2068.02L87.85 2070.2M235.85 2075.22L239.1 2079.37L236.56 2082.35M415.19 2101.81L422.05 2101.71L430.37 2098.39L439.78 2096.16L444.55 2096.88M172.33 2022.05L171.33 2026.62L164.84 2029.21M502.46 2064.76L500.83 2061.81L497.72 2057.33M406.28 2020.38L402.89 2016.94L394.96 2015.01L390.33 2012.47M366.16 2059.26L370.03 2055.37L370.8 2051.35L375.73 2049.65M227.35 2075.19L236.78 2075.61L243.65 2073.35L247.78 2068.79L245.69 2063.75M126.67 2047.49L131.61 2047.6L138.22 2048.01L144.98 2046.8L146.19 2044.14M69.52 2046.42L73.28 2050.85L79.5 2052.88L88.22 2053.37M108.67 2081.8L113.52 2081.45L119.86 2078.6M443.69 2082.33L439.17 2085.29L439.25 2088.88M101.66 2033.13L108.07 2030.68L116.64 2031.02L123.03 2032.82M277.15 2035.19L272.58 2037.09L263.25 2037.29L260.51 2039.77M380.84 2051.53L381.04 2054.83L374.96 2058.2L368.75 2060.36L365.42 2063.37M179.48 2055.39L169.81 2054.69L163.96 2052.92L162.32 2049.59M73.09 2014.73L67.47 2012.67L69.08 2009.31L77.07 2008.34L83.67 2006.76M320.52 2047.08L320.34 2042.13L321.96 2037.53L322.42 2034.71M352.84 2097.34L354.69 2093.89L360.65 2091.71L365.5 2091.82L369.77 2096.08M504.48 2040.31L509.41 2036.94L513.91 2034.7M243.42 2096.8L239.22 2094.65L233.33 2095.87L230.11 2098.61M405.5 2043.93L403.14 2048.76L405.22 2051.89L410.35 2053.91L412.9 2057.23M462.55 2048.2L469.89 2045.53L478.01 2042.85L482.29 2038.99M336.18 2019.24L346.07 2019.03L350.93 2020.37L357.54 2022.01L364.85 2022.08M214.08 2065.86L207.76 2062.88L206.67 2059.45M452.06 2082.11L456.62 2080.04L465.63 2078.06L470.72 2076.38M513.42 2069.38L520.7 2070.88L528.76 2069.14L533.92 2070.04L536.61 2072.84M344.67 2071.84L351.24 2071.7L355.46 2074.28L360.81 2074.36L366.76 2073.16M350.77 2030.06L345.07 2033.29L340.18 2034.3L336.34 2036.12L330.65 2037.48M523.38 2102.57L515.72 2103.98L512.33 2106.12L509.04 2110.46M196.29 2025.77L201.09 2029.07L204.24 2032.95L203.03 2037.28M424.09 2038.92L419.92 2036.29L419.44 2031.15L417.73 2027.08M514.21 2075.53L509.27 2078.26L507.41 2082.36L508.69 2085.36M451.47 2056.57L446.43 2057.84L441.51 2056.94M206.16 2090.65L211.81 2090.48L215.95 2088.77L217.76 2084.19L221.92 2081.96M231.2 2058.82L230.64 2054.04L225.49 2049.94M444.08 2051.67L439.22 2054.71L435.42 2059.06M99.91 2032.78L108.32 2036.02L113.68 2037.31M154.11 2054.53L164.21 2055.76L173.85 2055.98M475.1 2054.18L481.68 2052.94L487.18 2052.63L490.82 2055.59L494.49 2059.2M249.84 2096.09L257.58 2096.26L265.87 2099.61M503.48 2031.9L506.87 2028.63L511.71 2024.59L509.71 2022.12L512.26 2018.87M147.99 2103.5L138.07 2103.52L132.26 2100.45M498.9 2073.79L508.71 2073.99L511.75 2076.18M485.83 2041.67L489.31 2045.07L491.71 2049.92L496.33 2053.45M433.79 2060.66L431.03 2063.76L435.21 2067.55M82.76 2059.2L80.89 2056.25L73.7 2055.06L70.6 2051.28L67.55 2048.43M360.9 2102.8L364.12 2099.99L367.2 2096.49M121.14 2094.07L116.31 2090.68L107.45 2088.44M104.72 2022.79L108.25 2018.64L113.64 2015.72L117.77 2011.58M203.93 2080.91L198.57 2083.82L195.77 2085.81M73.07 2072.38L77.15 2069.8L80.24 2065.76L88.94 2064.49M64.72 2059.06L57.01 2060.63L49.28 2062.35L42.42 2062.68M197.67 2087.96L191.62 2084.54L186.46 2083.15L178.59 2086.23M489.02 2075.01L488.48 2070.52L480.62 2069.23L472.55 2068.34M80.76 2043.86L76.03 2041.88L73.52 2038.56L74.08 2033.38M463.45 2041.51L466.12 2036.56L471.08 2034.65L478.06 2036.46L483 2037.81M435.17 2034.97L438.16 2038.15L441.98 2040.55L450.1 2041.16M372.96 2052.8L367.08 2050.25L358.77 2048.18L348.14 2048.39L342.39 2046.4M128.61 2054.58L125.54 2057.61L122.88 2060.78L117.89 2062.51L109.36 2063.84M329.31 2077.66L331.38 2073.35L328.28 2069.45M334.47 2053.25L342.1 2052.45L351.39 2054.68L357.8 2053M322.74 2063.93L318.67 2060.71L319.04 2055.6M377.29 2040.61L369.7 2039.48L363.41 2038.24L362.96 2035.55M369.68 2070.58L366.02 2073.06L369.69 2077.7M487.03 2048.45L484.94 2053.61L487.85 2056.73M244.6 2013.45L253.86 2014.26L261 2012.83L268.58 2012.9L272.88 2015.73M239.77 2075.24L232.22 2077.78L227.57 2077.95L220.71 2076.3M349.91 2031.47L345.67 2034.41L338.49 2036.52L329.55 2037.76M459.78 2061.73L464.29 2059.05L469.73 2057.83M105.33 2049.6L108.9 2046.26L115.66 2044.2M517.95 2103.84L512.66 2107.13L507.22 2108.91L504.03 2112.22L510.14 2115.5M227.54 2086.81L228.12 2091.06L226.22 2095.24L218.27 2097.27L212.76 2100.9M444.01 2057.89L437.7 2056.05L431.87 2053.57M370.42 2055.58L368.19 2060.16L369.6 2063.86L369.45 2066.64L374.21 2069.05M124.45 2088.41L131.11 2085.27L133.94 2083.18L135.49 2078.27L132.59 2074.3M202.35 2035.61L206.96 2033.07L212.49 2032.35L221.51 2032.54L231.2 2033.72M84.18 2037.53L80.17 2040.32L81.07 2043.06L80.31 2046.06M529.47 2033.07L525.1 2031.03L524.44 2028.66L529.36 2025.66L527.94 2023.41M57.62 2031.54L61.88 2028.46L72 2027.63L79.27 2024.31L80.82 2019.56M158.11 2044.36L151.47 2040.98L146.99 2037.71L146.46 2033.82L143.33 2030.99M141.5 2061.23L147.79 2064.85L156.62 2064.67L163.63 2067.58M318.17 2028.78L319 2032.1L322.51 2036.62L330.86 2038.32L338.76 2036.93M462.04 2042.69L456.65 2044.71L448.97 2044.69L445.6 2046.67M78.85 2075.12L87.82 2076.92L94.12 2078.91M189.75 2068.47L182.57 2070.5L180.58 2073.39L171.97 2075.15M359.9 2024.84L365.55 2024.17L371.39 2025.37L375.43 2029.21L382.24 2031.26M280.69 2030.54L287.86 2032.47L288.74 2035.83L283.55 2037.85M403.15 2063.76L394.17 2061.77L393.66 2058.35L397.46 2053.82M224.15 2084.43L224.76 2088.74L223.39 2092.84M405.09 2032.56L397.95 2035.45L396.67 2039.55L399.05 2042.27L405.13 2042.98M454.63 2051.93L449.44 2049.09L444.47 2046.16L443.28 2042.28L437.02 2040.79M330.49 2016.65L335.09 2017.3L339.42 2018.97L343.78 2017.26L346.85 2012.72M106.16 2074.7L109.81 2070.96L113.49 2068.49L119.64 2068.06M232.13 2072.93L227.5 2075.28L226.61 2079.59M362.72 2011.83L362.2 2008.51L369.02 2005.95M387.15 2053.14L395.03 2054.74L400 2058.29M202.67 2034.3L196.4 2035L189.95 2036.33M78.44 2036.34L79.64 2040.67L79.29 2043.81M413.24 2101.67L406.64 2102.77L402.73 2105.94L402.08 2110.48M458.83 2038.2L463.69 2039.1L471.92 2039.85M220.32 2094.92L225.86 2092.91L228.35 2089.67M201.17 2014.43L203.12 2018.01L203.4 2022.84L208.8 2025.8M161.07 2096.29L166.39 2095.13L171 2091.85M334.22 2075.5L330.22 2078.87L324.08 2081.41L318.74 2081.22M350.94 2092.82L341.85 2093.29L332.2 2093.39L326.14 2096.18M373.64 2082.33L364.15 2081.03L356.46 2080.45M481.91 2093.75L489.7 2091.44L490.78 2086.27L488.27 2082.56L492.13 2077.94M414.83 2103.62L423.95 2102.4L432.98 2101.59L441.32 2102.9L449.09 2103.81M336.95 2030.17L326.71 2029.21L320.4 2027.06L317.33 2023.74L314.48 2020.89M407.64 2085.34L398.72 2086.21L393.23 2087.11L389.06 2090.64M107.45 2067.26L112.3 2065.27L113.57 2062.77L116.96 2059.8L117.98 2055.82M213.96 2023L214.3 2017.92L223.28 2015.15L233.21 2014.43L242.93 2013.22M159.59 2087.38L158.4 2091.77L154.14 2093.41L150.39 2096.23L144.7 2098.09M134.93 2015.97L131.75 2018.68L132.54 2021.63L129.36 2024.92L125.81 2027.99M316.08 2020.49L321.76 2021.71L326.64 2021.17M278.55 2090.24L272.99 2091.11L263.36 2090.11L258.16 2091.86M489.42 2066.61L481.92 2067.76L473.54 2068.7M224.37 2062.21L221.15 2060.18L212.17 2058.97M220.73 2014.33L221.28 2017.28L219.05 2021.12M139.56 2035.96L136.89 2039.98L140.03 2042.9L142.42 2047.09M417.24 2103.2L423.14 2101.42L427.67 2101.4M467.3 2062.2L467.05 2067.49L468.83 2072.65L473.21 2074.51M473.24 2101.01L480.08 2098.59L483.65 2096.17L492.97 2095.3L501.26 2094M200.59 2016.29L209.45 2017.42L219.07 2019.2L221.89 2022.13L227.6 2023.65M240.98 2018.25L232.66 2016.58L230.75 2014.37L224.67 2010.88M415.92 2041.59L414.33 2039.41L410.11 2036.61M302.26 2027.39L300.95 2022.16L297.59 2019.42L294.7 2015.47M257.53 2017.22L250.36 2016.23L243.04 2017.47M515.78 2029.51L512.79 2026.36L504.7 2023.94M66.87 2037.36L69.36 2040.94L65.31 2045.02L59.68 2045.71L54.04 2046.66M511.28 2033.82L506.99 2032.27L506.2 2028.74M177.62 2065.93L185.22 2064.89L192.42 2061.97L196.47 2060.05L202.56 2055.88M511.7 2068.67L521.11 2070.78L527.06 2072.05M207.31 2043.06L200.7 2043.55L194.44 2047.01M303.82 2066.98L309.04 2068.88L315.92 2068.89L323.77 2070.22M288.76 2067.11L281.76 2067.16L275.89 2065.99L272.73 2063.63M324.3 2100.86L327.09 2103.6L333.21 2106.57L333.2 2109.49M433.82 2018.44L444.41 2018.12L451.71 2016.21M346.91 2058.67L349.2 2061.1L347.87 2064.52L351.99 2067.27M534.41 2093.13L536.7 2095.72L538.93 2099.15L536.05 2103.55M286.35 2028.06L278.45 2026.59L269.2 2026.92L262.78 2023.43M360.87 2097.56L370 2097.12L378.86 2098.8L389.29 2098.39M349.71 2018L339.59 2017.87L334.43 2017.86M177.81 2038.11L178.64 2040.71L183.91 2042.83L186.53 2046.21L187.2 2050.31M162.58 2099.94L154.86 2099.05L147.89 2102.7L140.22 2103.59M451.31 2037.47L446.78 2035.68L443.91 2033.54L434.4 2033.39M432.26 2094.47L436.1 2092.2L440.06 2090.1L440.64 2087.19M513.11 2015.35L519.95 2013.39L524.09 2008.86L524.12 2006.37L520.01 2003.04M298.06 2057.51L304.47 2055.2L307.68 2050.72L314.82 2049.77L319.29 2047.54M402.2 2065.81L401.93 2069.61L401.87 2072.36L407.77 2074.58L404.66 2078.97M92.77 2060.23L97.14 2064.67L99.75 2068.55L97.56 2073.32M387.61 2079.9L389.72 2083.78L399.1 2086.31L405.7 2088.85M68.09 2085.73L62.88 2083.45L66.2 2078.9L67.23 2076.14L71.72 2073.69M519.01 2012.46L524.18 2010.8L529.26 2010.41L536.66 2012.83L544.34 2012.9M499.85 2035.84L505.9 2037.06L516.31 2036.8M377.33 2049.62L377.7 2052.23L383.46 2056.05M323.05 2035.33L328.2 2039.49L333.03 2041.01L338.72 2044.25L340.35 2048.78M196.82 2056.51L189.2 2059.11L189 2061.75L190.69 2066.54L191.21 2071.78M495.35 2099.66L488.79 2101.04L480.14 2103.6L474.9 2104.88L469.29 2106.41M257.21 2092.85L257.89 2089.85L251.94 2087.93L241.88 2088.09L234.74 2088.06M412.81 2025.02L406.77 2025.11L398.68 2025.54L393.92 2028.25L389.55 2030.07M366.27 2028.42L371.56 2030.17L378.68 2030L385.72 2026.37M65.23 2078.76L62.74 2082.03L65.24 2086.13L66.97 2089.32L68.53 2091.84M163.98 2011.94L161.32 2009.55L156.73 2007.26L156.03 2004.49M464.98 2089.9L469.68 2090.61L473.47 2087.43L476.14 2082.55M505.77 2099.03L506.04 2103.39L502.29 2106.04M173.29 2064.71L165.58 2067.76L166.03 2070.36M107.45 2088.98L106.79 2084.37L101.84 2080.96L98.69 2077.84M235.36 2060.34L229.04 2062.61L227.67 2064.9L219.76 2067.32L211.26 2068.51M446.81 2012.76L446.23 2007.94L443.08 2005.27M411.22 2095.61L414.79 2097.59L421.7 2101.22L423.84 2105.78L419.03 2107.89M61.75 2067.87L66.86 2065.39L74.02 2063.06L80.8 2061L84.62 2057.43M329.61 2036.93L324.84 2036.26L318.94 2036.89M67.54 2050.77L69.84 2053.55L78.15 2054.4M398.13 2022.61L393.87 2026.79L385.38 2028.74M274.29 2019.51L279.76 2020.56L287.89 2019.91L293.15 2019.63M180.5 2094.05L186.93 2092.07L196.48 2091.26L199.79 2088.4M459.9 2020.83L451.06 2020.73L447.46 2018.55L442.07 2019.22L434.15 2016.44M225.02 2035.08L217.86 2035.78L210.41 2036.49L201.75 2036.22M75.18 2019.96L76.25 2016.45L76.08 2012.97L83.84 2011.23L89.73 2011M152.31 2068.46L158.6 2066.2L163.88 2066.2L169.64 2064.26M456.04 2054.55L461.28 2054.48L469.97 2055.17L476.83 2059.15M503.32 2049.64L503.66 2054.02L501.51 2057.42L500.6 2062.01M382.86 2023.38L380.74 2028.13L378.04 2031.78L369.55 2032.01M403.92 2080.56L400.38 2085.06L394.38 2088.13L389.67 2091.87M399.76 2087.3L399.87 2082.53L399.46 2078.16M58.67 2082.54L51.01 2083.69L43.96 2085.58L36.7 2087.98M132.78 2042.64L138.45 2040.62L143.02 2040.18L148.09 2040.74M120.38 2093.49L111.12 2093.96L104.46 2094.77M334.73 2072.59L344.52 2073.6L347.14 2077.3L352.48 2080.27L351.03 2085.45M498.5 2091.89L491.82 2094.1L484.44 2095.02L479.34 2092.59M162.29 2056.12L161.98 2060.92L156.36 2063.59L151.02 2064.08L145.06 2066.13M365.45 2038.14L369.61 2042.1L368.03 2047.18M382.24 2034.39L387.51 2036.11L397.35 2035.46M428.59 2099.54L424.07 2099.44L419.46 2102.79M358.96 2016.65L368.2 2017.94L369.22 2022.69M91.92 2103.92L93.56 2099.91L99.02 2096.78L102.3 2093.81L109.06 2091.2M275.09 2083.6L281.93 2084.52L289.84 2085.39M377.88 2061.18L369.38 2060.66L364.92 2063.83M160.07 2099.17L165.63 2100L170.91 2102.89L180.41 2103.36L188.22 2105.36M425.17 2050.42L429.09 2047.55L433.07 2045.17L441.18 2045.9L445.32 2044.15M367.48 2058.62L374.31 2059.97L379.93 2060.58M486.77 2022.45L481.43 2019.87L479.31 2016.61L475.68 2013.91M465.7 2016.6L470.85 2018.55L473.89 2022.08L471.98 2026.97M243.37 2072.4L249.79 2075.6L259.17 2074.89L268.47 2075.84L275.5 2073.7M210.94 2069.97L218.77 2070.68L227.94 2070.65L233.54 2071.41L241.9 2069.56M158.29 2087.06L148.31 2086.83L143.9 2083.6M313.38 2064.9L309.25 2067.79L304.29 2070.7M295.79 2074.16L303.74 2074.09L309.32 2070.81M459.55 2011.58L451.19 2010.64L442.84 2008.41L434.85 2005.68L428.91 2002.87M169.19 2046.62L165.36 2049.74L163.28 2053.9L168.52 2058.03M380.68 2038.2L386.55 2041.82L388.36 2044.86M98.9 2019.28L102.62 2017L102.07 2012.8M207.39 2090.13L205.55 2093.46L207.06 2096.1L212.67 2098.27L216.23 2101.32M215.52 2053.51L224.62 2052.36L228.6 2049.82L232.24 2046.31M123.5 2029.82L130.45 2031.91L135.81 2033.79M466.84 2083.22L473.01 2082.58L483 2081.79M219.02 2015.39L220.53 2019.76L224.59 2021.98L225.23 2025.04L224.55 2028.18M507.82 2027.81L507.88 2031.94L516.26 2033.9L519.89 2036.16L521.19 2038.85M441.77 2092.72L451.34 2091.78L461.06 2090.94L466.77 2087.23M169.98 2102.72L168.44 2106.71L170.18 2111.32M120.78 2065.95L125.35 2068.56L123.35 2071.97L118.78 2075.7L110.03 2076.32M123.86 2066.04L124.58 2068.84L128.37 2070.59L132.02 2074.28L133.93 2076.45M133.96 2103.87L130.44 2106.69L123.07 2109.28M369.05 2093.79L377.8 2094.01L381.34 2091.06M226.55 2076.01L233.07 2078.58L238.67 2079.96L244.7 2082.12M195.57 2066.73L191.68 2063.03L188.92 2060.84L181.67 2059.46L178.51 2056.14M483.42 2032.1L474.66 2032.41L464.29 2031.83L458.67 2030.46M126.48 2025.02L131.9 2026.66L137.03 2023.95L144.32 2022.39M100.39 2080.12L104.57 2078.01L107.01 2073.81M110.59 2068.99L108 2071.9L107.19 2075.37L103.32 2077.43M510.6 2028.53L508.37 2026.12L504.1 2022.32L501.17 2018.45" fill="none" stroke="#f3e27c" stroke-width="0.7" opacity="0.7" stroke-linecap="round" stroke-linejoin="round"/>
</g>
<path d="M56.43 2055.36L154.11 2065.71L154.11 2080.36L57.14 2070Z" fill="url(#kDots)"/>
<path d="M382.68 2086.07L483.57 2094.11L483.57 2108.75L385.36 2100.71Z" fill="url(#kDots)"/>
<path d="M499.64 2105.18L526.43 2068.57L542.5 2048.93L541.79 2079.29L525.54 2100.71L498.93 2143.57Z" fill="#f3ada0" opacity="0.95"/>
<path d="M155 2068.57C156.43 2058.1 156.79 2057.86 171.07 2050.71C185.36 2043.57 184.29 2044.88 208.57 2041.79C232.86 2038.69 243.1 2040.06 262.14 2039.11C281.19 2038.15 263.33 2037.98 280 2038.21C296.67 2038.45 303.21 2038.1 324.64 2040C346.07 2041.9 346.55 2040.6 360.36 2045.36C374.17 2050.12 371.19 2048.81 376.43 2057.86C381.67 2066.9 377.14 2068.81 380 2079.29C382.86 2089.76 389.05 2086.67 387.14 2097.14C385.24 2107.62 382.38 2106.67 372.86 2118.57C363.33 2130.48 366.67 2133.21 351.43 2141.79C336.19 2150.36 334.76 2148.33 315.71 2150.71C296.67 2153.1 289.52 2151.67 280 2150.71C270.48 2149.76 291.9 2148.1 280 2147.14C268.1 2146.19 254.4 2150 235.36 2147.14C216.31 2144.29 221.43 2145 208.57 2136.43C195.71 2127.86 198.57 2127.38 187.14 2115C175.71 2102.62 174.29 2102.38 165.71 2090C157.14 2077.62 153.57 2079.05 155 2068.57Z" fill="#ff7a34" opacity="0.8" filter="url(#blur2)"/>
<path d="M169.29 2072.14C171.67 2063.57 175.48 2063.57 190.71 2057.86C205.95 2052.14 202.62 2053.33 226.43 2050.71C250.24 2048.1 260.95 2048.99 280 2048.04C299.05 2047.08 281.19 2046.67 297.86 2047.14C314.52 2047.62 324.88 2046.49 342.5 2049.82C360.12 2053.15 357.26 2050.83 363.93 2059.64C370.6 2068.45 365.12 2071.9 367.5 2082.86C369.88 2093.81 375.24 2090.24 372.86 2100.71C370.48 2111.19 369.05 2112.14 358.57 2122.14C348.1 2132.14 349.76 2132.5 333.57 2138.21C317.38 2143.93 307.38 2142.62 297.86 2143.57C288.33 2144.52 312.14 2142.74 297.86 2141.79C283.57 2140.83 265.71 2143.33 244.29 2140C222.86 2136.67 229.4 2136.9 217.5 2129.29C205.6 2121.67 209.17 2121.9 199.64 2111.43C190.12 2100.95 189.88 2100.48 181.79 2090C173.69 2079.52 166.9 2080.71 169.29 2072.14Z" fill="#fb4a20" filter="url(#blur2)"/>
<path d="M107 2234.5L106.6 2230.6L106.1 2224.9L105.5 2218.7L104.7 2213L103.8 2208.3L102.8 2204.1L101.8 2199.9L100.8 2195.2L99.9 2189.8L99.1 2184.2L98.3 2178.2L97.8 2172.1L97.7 2165.1L97.9 2157.3L98.2 2150.3L98.3 2145.4L97.4 2145.3L97.1 2150.2L96.6 2157.3L96.2 2165.1L96.1 2172.2L96.4 2178.4L97 2184.4L97.7 2190.2L98.4 2195.6L99.2 2200.4L100.1 2204.7L101 2208.9L101.7 2213.4L102.2 2219L102.6 2225.2L102.8 2230.8L103 2234.8Z" fill="#58bfe2"/>
<path d="M101.1 2194.6L99.3 2191.6L96.7 2187.3L94 2182.6L91.5 2178.8L89.5 2176L87.7 2173.7L85.9 2171.8L84 2169.9L81.8 2168L79.4 2166.3L77.3 2164.8L75.8 2163.8L75.3 2164.4L76.8 2165.5L78.8 2167.1L81.1 2168.9L83.1 2170.8L84.9 2172.7L86.5 2174.7L88.1 2177L89.9 2179.8L92.1 2183.7L94.5 2188.5L96.7 2193L98.2 2196.1Z" fill="#58bfe2"/>
<path d="M98.7 2171.8L99.9 2170.8L101.6 2169.6L103.6 2168.2L105.6 2166.6L107.5 2164.9L109.4 2163L111.2 2161.2L112.4 2159.9L111.9 2159.4L110.5 2160.5L108.6 2162L106.4 2163.7L104.4 2165.1L102.4 2166.3L100.3 2167.4L98.4 2168.3L97 2169Z" fill="#58bfe2"/>
<path d="M106.5 2204.5L106.7 2201.1L107.1 2196.3L107.7 2191.1L108.4 2186.6L109.4 2182.8L110.6 2179.2L111.7 2176.2L112.5 2174.1L111.8 2173.8L110.9 2175.9L109.6 2178.9L108.2 2182.4L106.9 2186.3L105.9 2190.8L105 2196L104.2 2200.8L103.5 2204.1Z" fill="#58bfe2"/>
<path d="M234.2 2285L234.7 2280.2L235.6 2273.2L236.5 2265.4L237.3 2258.1L237.8 2251.8L238.3 2245.7L238.6 2239.1L238.7 2231.1L238.3 2221L237.5 2209.5L236.8 2197.6L236.4 2186.4L236.5 2175.3L236.9 2164L237.4 2154.1L237.7 2147.2L236.6 2147.1L236.1 2154L235.4 2164L234.7 2175.3L234.3 2186.4L234.5 2197.7L235 2209.6L235.4 2221.1L235.6 2231.1L235.3 2239L234.8 2245.4L234.2 2251.4L233.4 2257.6L232.5 2264.9L231.3 2272.6L230.2 2279.5L229.4 2284.3Z" fill="#58bfe2"/>
<path d="M237.3 2235.7L235.5 2231.5L233.1 2225.3L230.3 2218.6L227.8 2212.7L225.6 2207.7L223.5 2203.1L221.2 2198.7L218.3 2194.7L214.7 2191L210.5 2187.7L206.1 2184.8L201.8 2182.2L197.3 2179.9L192.6 2178L188.4 2176.4L185.5 2175.3L185.2 2176.2L188.1 2177.4L192.2 2179.1L196.7 2181.1L201.1 2183.5L205.2 2186.2L209.4 2189.2L213.3 2192.5L216.7 2196L219.2 2199.9L221.3 2204.1L223.1 2208.8L225.1 2213.8L227.4 2219.8L229.8 2226.5L232 2232.8L233.5 2237.1Z" fill="#58bfe2"/>
<path d="M238.9 2230L240.4 2226L242.5 2220.2L245 2213.9L247.3 2208.4L249.3 2203.9L251.3 2199.7L253.4 2195.9L255.8 2192.4L258.5 2189.3L261.4 2186.5L264.6 2183.9L267.9 2181.7L271.7 2179.6L276.1 2177.8L280.1 2176.3L282.8 2175.2L282.5 2174.4L279.7 2175.4L275.7 2176.8L271.2 2178.5L267.1 2180.5L263.7 2182.7L260.3 2185.2L257.2 2188L254.2 2191.2L251.6 2194.7L249.3 2198.6L247.1 2202.8L244.9 2207.3L242.3 2212.8L239.6 2219L237.1 2224.7L235.4 2228.6Z" fill="#58bfe2"/>
<path d="M335.4 2306.4L336 2302.5L336.8 2296.9L337.8 2290.6L338.6 2284.9L339.4 2280L340.2 2275.3L340.8 2270.4L341 2265L340.4 2259.2L339.3 2253.1L338.3 2246.8L338 2240L338.8 2231.8L340.3 2222.5L341.9 2213.9L342.9 2207.9L342.1 2207.8L340.8 2213.7L339 2222.3L337.3 2231.6L336.3 2240L336.4 2247L337.3 2253.4L338.3 2259.4L338.6 2265L338.3 2270.1L337.6 2274.8L336.6 2279.5L335.7 2284.4L334.7 2290.1L333.5 2296.3L332.5 2301.9L331.7 2305.8Z" fill="#58bfe2"/>
<path d="M340.2 2267.6L338.7 2265.7L336.5 2262.9L333.8 2259.8L330.8 2257L327.5 2254.6L323.9 2252.2L320 2250.1L316 2248.2L311.5 2246.6L306.5 2245.2L302 2244L298.9 2243.2L298.6 2243.9L301.7 2244.9L306.2 2246.2L311 2247.8L315.4 2249.6L319.2 2251.6L322.8 2253.9L326.2 2256.3L329.2 2258.7L331.9 2261.5L334.3 2264.6L336.2 2267.5L337.6 2269.5Z" fill="#58bfe2"/>
<path d="M341.2 2276.5L342.5 2274L344.2 2270.5L346.3 2266.8L348.6 2264L351.1 2262.1L354.1 2260.7L357.4 2259.5L360.5 2258.5L363.9 2257.7L367.4 2257.1L370.7 2256.7L372.9 2256.5L372.8 2255.7L370.6 2255.9L367.3 2256.1L363.7 2256.5L360.2 2257.2L356.9 2258L353.5 2259L350.2 2260.4L347.1 2262.4L344.4 2265.4L341.9 2269.1L339.9 2272.6L338.4 2274.9Z" fill="#58bfe2"/>
<path d="M337.6 2253.8L338.5 2253.3L339.7 2252.8L341.1 2252.1L342.7 2251.5L344.7 2250.9L347 2250.2L349.1 2249.7L350.6 2249.2L350.5 2248.6L348.9 2248.8L346.7 2249.2L344.4 2249.5L342.3 2249.9L340.6 2250.3L339 2250.7L337.6 2251L336.7 2251.2Z" fill="#58bfe2"/>
<path d="M425 2312.2L426.7 2307.4L429.1 2300.4L431.6 2292.5L433.5 2285L434.4 2278.1L434.8 2271.3L434.8 2264.6L435 2257.9L435.1 2251.2L435.1 2244.5L435.1 2237.8L435.5 2231.2L436.3 2224.3L437.4 2217.2L438.6 2210.4L439.7 2204.4L440.6 2199.1L441.6 2194.3L442.4 2190.3L443 2187.4L442 2187.2L441.3 2190L440.4 2194L439.3 2198.8L438.2 2204.1L437 2210.1L435.7 2216.9L434.4 2224L433.4 2231L432.9 2237.7L432.6 2244.4L432.5 2251.1L432.2 2257.8L431.9 2264.5L431.6 2271.2L431.1 2277.8L430.1 2284.3L428 2291.4L425.3 2299L422.6 2305.9L420.7 2310.6Z" fill="#58bfe2"/>
<path d="M433.3 2260.3L431.8 2258.3L429.6 2255.3L426.9 2251.8L424 2248L420.7 2243.9L416.9 2239.2L413 2234.6L409.3 2230.4L406 2226.8L402.7 2223.6L399.6 2220.7L396.5 2218L393.2 2215.6L389.8 2213.3L386.8 2211.5L384.7 2210.2L384.2 2210.9L386.3 2212.3L389.2 2214.2L392.5 2216.6L395.6 2219.1L398.6 2221.8L401.6 2224.8L404.6 2228.1L407.8 2231.7L411.3 2236L415 2240.8L418.6 2245.5L421.7 2249.8L424.4 2253.6L426.8 2257.3L428.8 2260.3L430.2 2262.5Z" fill="#58bfe2"/>
<path d="M435.2 2238.2L437.2 2237.2L440.2 2235.7L443.6 2234L446.7 2232.1L449.6 2229.9L452.4 2227.5L455 2225L457.3 2222.7L459.3 2220.5L461 2218.4L462.4 2216.6L463.4 2215.3L462.7 2214.7L461.6 2215.9L460.1 2217.6L458.3 2219.6L456.3 2221.6L453.9 2223.7L451.1 2226L448.2 2228.2L445.4 2230L442.3 2231.5L439 2232.9L435.9 2233.9L433.7 2234.7Z" fill="#58bfe2"/>
<path d="M435.4 2276.3L436.4 2272.9L438 2268L439.8 2262.8L441.9 2258.5L444 2255.4L446.4 2252.6L449.1 2250.2L452 2248L455.2 2246L458.7 2244.4L462.4 2242.9L465.9 2241.6L469.6 2240.3L473.4 2239.3L476.8 2238.4L479.2 2237.8L479 2236.9L476.6 2237.4L473.2 2238.2L469.3 2239.1L465.5 2240.2L461.9 2241.4L458.1 2242.8L454.3 2244.4L450.9 2246.3L447.7 2248.5L444.8 2250.9L442.1 2253.8L439.6 2257.2L437.2 2261.7L435 2266.9L433.1 2271.8L431.8 2275.1Z" fill="#58bfe2"/>
<path d="M531.1 2240.2L531.8 2230.5L532.9 2216.7L534.1 2201.2L534.9 2186.5L535.3 2172.8L535.4 2158.8L535.4 2145.3L535.3 2132.9L535 2120.9L534.5 2109.4L534 2099.6L533.7 2092.7L532.7 2092.7L533 2099.6L533.3 2109.4L533.6 2120.9L533.6 2132.9L533.5 2145.3L533.3 2158.8L532.9 2172.7L532.2 2186.4L531.1 2201L529.6 2216.4L528.2 2230.2L527.1 2239.8Z" fill="#58bfe2"/>
<path d="M532.8 2154.8L531.3 2155.9L529.2 2157.4L526.8 2158.8L524.5 2159.7L521.9 2159.8L518.8 2159.4L516 2158.8L514 2158.4L513.8 2159.1L515.8 2159.6L518.6 2160.5L521.8 2161.2L524.8 2161.4L527.6 2160.7L530.3 2159.4L532.7 2158.1L534.3 2157.3Z" fill="#58bfe2"/>
<path d="M534.8 2132.3L533.7 2130.3L532.1 2127.5L530.4 2124.4L528.8 2121.8L527.2 2119.8L525.5 2118L524.1 2116.7L523.1 2115.7L522.6 2116.1L523.5 2117.2L524.9 2118.7L526.3 2120.5L527.6 2122.5L529 2125.1L530.3 2128.3L531.5 2131.3L532.4 2133.4Z" fill="#58bfe2"/>
<path d="M510.3 2279.2L510 2272.1L509.5 2261.8L509.1 2250.5L508.8 2240L508.8 2230.7L509 2221.6L509.2 2212.8L509.3 2204.3L509.3 2195.6L509.4 2186.9L509.3 2179.3L509.3 2173.9L508.5 2173.9L508.4 2179.3L508.3 2186.9L508.1 2195.6L507.8 2204.3L507.5 2212.7L507.1 2221.6L506.8 2230.7L506.5 2240L506.5 2250.5L506.6 2261.9L506.8 2272.2L506.8 2279.3Z" fill="#58bfe2"/>
<path d="M509.8 2235.9L508.9 2234.5L507.8 2232.6L506.5 2230.5L505.5 2229L504.5 2228.1L503.6 2227.6L502.9 2227.4L502.4 2227.2L502.2 2227.8L502.6 2228L503.3 2228.3L503.9 2228.8L504.5 2229.6L505.3 2231.2L506.1 2233.4L506.9 2235.5L507.3 2237Z" fill="#58bfe2"/>
<path d="M526.3 2199.6L528.4 2199.3L531.3 2199.1L534.4 2199L536.8 2199.2L538.7 2199.7L540.5 2200.6L542 2201.5L543.1 2202.1L543.7 2201.1L542.8 2200.3L541.4 2199.2L539.6 2197.9L537.4 2196.9L534.7 2196.2L531.5 2195.6L528.6 2195.1L526.5 2194.7Z" fill="#58bfe2"/>
<path d="M39 2251.4L42.3 2249.5L47.1 2247L52.4 2244.1L57.5 2241.1L62.3 2237.7L67.4 2233.9L71.9 2230.4L75 2227.9L74.3 2227.1L71.1 2229.3L66.4 2232.5L61.1 2235.9L56.1 2238.9L51 2241.4L45.5 2243.8L40.6 2245.8L37.1 2247.2Z" fill="#f0523c"/>
<path d="M103.5 2243.5L103.3 2240.7L103.1 2236.6L102.8 2231.9L102.2 2227.3L101.3 2222.8L100.2 2218.3L98.9 2213.7L97.4 2209.2L95.6 2204.7L93.6 2200.3L91.6 2195.9L90.1 2191.5L89.2 2186.9L88.6 2182.1L88.3 2177.2L88.1 2172.2L88.4 2167.1L89.1 2161.9L89.7 2156.4L89.7 2150.7L88.6 2144L86.9 2136.7L85.2 2130.2L84 2125.6L83.1 2125.8L84.2 2130.4L85.8 2137L87.3 2144.3L88.2 2150.8L88.1 2156.3L87.4 2161.7L86.6 2166.9L86.2 2172.1L86.2 2177.3L86.4 2182.3L86.9 2187.2L87.8 2192.1L89.2 2196.8L91.1 2201.4L93.1 2205.8L94.7 2210.1L96 2214.6L97.2 2219.1L98.1 2223.5L98.8 2227.7L99.2 2232.2L99.4 2236.7L99.4 2240.8L99.4 2243.6Z" fill="#f0523c"/>
<path d="M97.5 2210.7L99 2208.4L101.4 2205.2L103.9 2201.5L106.2 2197.9L108.2 2194.5L110.1 2190.9L111.9 2187.2L113.2 2183.2L114.1 2178.7L114.7 2174L114.9 2169.3L114.8 2165L114.3 2161L113.5 2157.3L112.3 2153.9L110.9 2150.5L109 2146.9L106.5 2143.3L104.2 2140.2L102.7 2138L102 2138.5L103.5 2140.7L105.7 2143.9L108 2147.5L109.8 2151L111.1 2154.3L112.1 2157.7L112.7 2161.3L113.1 2165L113.1 2169.3L112.7 2173.8L112.1 2178.4L111.1 2182.6L109.7 2186.3L107.9 2189.7L105.9 2193.1L103.8 2196.4L101.5 2199.9L98.8 2203.4L96.4 2206.4L94.7 2208.6Z" fill="#f0523c"/>
<path d="M89.9 2181.1L88.5 2180.6L86.7 2179.8L84.5 2178.9L82.2 2178.2L79.8 2177.5L77.1 2177L74.7 2176.5L73 2176.1L72.7 2177.1L74.3 2177.6L76.7 2178.5L79.2 2179.4L81.4 2180.4L83.3 2181.5L85.2 2182.7L86.8 2183.8L88 2184.6Z" fill="#f0523c"/>
<path d="M109.8 2189.3L111.5 2187.2L113.8 2184.4L116.7 2181.2L120 2178.5L123.8 2175.9L128.2 2173.4L132.8 2171.2L137.4 2169.3L142.2 2167.8L147.3 2166.8L151.9 2166L155.1 2165.4L154.9 2164.6L151.7 2165.1L147.1 2165.7L141.9 2166.6L136.9 2167.9L132.2 2169.6L127.3 2171.7L122.7 2174.1L118.6 2176.5L115 2179.4L111.8 2182.5L109.2 2185.2L107.4 2187.1Z" fill="#f0523c"/>
<path d="M236.5 2263L236 2259.4L235.4 2254.2L234.5 2248.4L233.3 2243.1L231.6 2238.6L229.5 2234.5L227.4 2230.7L225.9 2227.1L225 2223.8L224.3 2220.9L224 2217.6L224 2213.3L224.6 2207.5L225.7 2200.6L226.7 2193.4L227.2 2186.4L226.8 2179.4L225.9 2172.2L224.9 2165.8L224.2 2161.4L223.3 2161.5L223.8 2166L224.7 2172.3L225.4 2179.5L225.6 2186.4L225 2193.2L223.7 2200.3L222.5 2207.2L221.7 2213.1L221.6 2217.7L221.8 2221.2L222.4 2224.4L223.4 2227.9L224.9 2231.9L226.8 2235.9L228.8 2239.9L230.2 2244L231.2 2249L231.8 2254.6L232.2 2259.8L232.5 2263.4Z" fill="#f0523c"/>
<path d="M224.8 2209.7L222.1 2208.2L218.2 2206L213.7 2203.5L209.2 2201.2L204.7 2199.4L200 2197.8L195.4 2196.2L191.1 2194.5L186.7 2192.5L182.3 2190.3L178.5 2188.3L175.8 2186.9L175.3 2187.7L177.9 2189.3L181.7 2191.5L186 2193.9L190.3 2196.2L194.7 2198.1L199.2 2199.9L203.8 2201.8L208 2203.8L212.2 2206.2L216.4 2208.9L220.1 2211.4L222.7 2213.2Z" fill="#f0523c"/>
<path d="M233.1 2243.2L235.4 2240.9L238.7 2237.8L242.4 2234L245.5 2230.2L247.8 2226.5L249.9 2222.7L251.6 2218.4L252.6 2213.4L252.8 2207.2L252.3 2200.1L251.5 2193L250.4 2186.3L248.9 2179.8L247 2173.4L245.1 2167.9L243.8 2164L243 2164.2L244.1 2168.2L245.8 2173.8L247.6 2180.2L248.9 2186.6L249.8 2193.2L250.4 2200.3L250.6 2207.2L250.3 2213.1L249.2 2217.7L247.6 2221.6L245.5 2225L243.1 2228.4L240.1 2231.9L236.4 2235.3L233 2238.3L230.5 2240.4Z" fill="#f0523c"/>
<path d="M251.8 2216.2L253.8 2213.7L256.6 2210.3L259.8 2206.5L262.9 2203.3L265.9 2200.7L268.9 2198.2L272 2196L274.9 2194.2L278.1 2193L281.3 2192.2L284.3 2191.7L286.3 2191.3L286.2 2190.5L284.1 2190.8L281.1 2191.1L277.7 2191.8L274.3 2192.9L271.1 2194.6L267.9 2196.7L264.6 2199.1L261.4 2201.7L258 2204.8L254.5 2208.4L251.4 2211.6L249.2 2213.8Z" fill="#f0523c"/>
<path d="M317.6 2307.8L317.3 2303.5L316.9 2297.4L316.3 2290.6L315.3 2284.3L313.5 2279.1L311.1 2274.4L309 2269.9L307.8 2264.9L308 2259.1L309 2252.6L310.3 2246.1L311.1 2240.1L311.1 2234.4L310.7 2229L310.2 2224.4L309.9 2221.2L309 2221.3L309.2 2224.5L309.6 2229.1L309.8 2234.4L309.7 2239.9L308.8 2245.8L307.3 2252.3L306.1 2258.9L305.7 2265.1L306.9 2270.6L308.9 2275.4L311.1 2280.1L312.6 2285L313.3 2290.9L313.6 2297.6L313.8 2303.7L313.8 2307.9Z" fill="#f0523c"/>
<path d="M308.8 2263.7L306.3 2261.8L302.7 2259.1L298.7 2256.1L294.8 2253.5L290.8 2251.4L286.6 2249.5L282.8 2247.9L280.2 2246.8L279.8 2247.5L282.4 2248.8L286 2250.6L290.1 2252.8L293.8 2255.1L297.3 2257.9L301 2261.1L304.3 2264.2L306.5 2266.3Z" fill="#f0523c"/>
<path d="M315 2280.7L317.3 2278.7L320.7 2276L324.3 2272.8L327.4 2269.4L329.8 2266L331.9 2262.4L333.5 2258.5L334.5 2254.4L334.8 2250L334.3 2245.2L333.5 2240.5L332.4 2236.2L330.9 2232.2L329 2228.4L327.2 2225.1L325.9 2222.8L325.2 2223.2L326.4 2225.6L328.1 2228.9L329.8 2232.7L331.1 2236.6L332 2240.8L332.7 2245.4L332.9 2250L332.6 2254.1L331.5 2257.8L329.9 2261.3L327.8 2264.7L325.4 2267.7L322.4 2270.7L318.8 2273.6L315.3 2276.1L312.9 2277.9Z" fill="#f0523c"/>
<path d="M334.3 2255.6L336.5 2254.1L339.6 2252L343.1 2249.8L346.4 2247.9L349.7 2246.4L353.3 2245L356.5 2243.8L358.7 2243L358.5 2242.3L356.2 2243L352.9 2243.9L349.2 2245.1L345.7 2246.4L342.2 2248.1L338.5 2250L335.1 2251.8L332.8 2253Z" fill="#f0523c"/>
<path d="M419.5 2325.8L419.6 2319.8L419.8 2311L419.9 2301.6L419.8 2293.5L419.2 2287.4L418.4 2282.1L417.5 2277.2L416.8 2272L416.3 2266.3L415.9 2260.4L415.6 2254.5L415.6 2248.9L415.8 2243.4L416.2 2237.7L416.7 2232.8L417.1 2229.3L416.1 2229.2L415.7 2232.7L415.1 2237.6L414.5 2243.3L414.1 2248.9L414 2254.5L414.1 2260.5L414.3 2266.4L414.7 2272.2L415.2 2277.5L416 2282.5L416.7 2287.6L417 2293.6L416.9 2301.6L416.4 2310.9L415.9 2319.6L415.5 2325.6Z" fill="#f0523c"/>
<path d="M416.6 2274.2L414.6 2273.1L411.7 2271.6L408.6 2269.7L405.8 2267.7L403.3 2265.4L400.9 2262.7L398.7 2259.9L396.6 2257.4L394.9 2255.1L393.3 2252.9L392 2251L391.1 2249.6L390.4 2250L391.2 2251.5L392.4 2253.5L393.8 2255.8L395.5 2258.3L397.4 2260.9L399.5 2263.9L401.8 2266.8L404.2 2269.4L407 2271.8L410.1 2274L412.9 2275.9L414.8 2277.2Z" fill="#f0523c"/>
<path d="M420.8 2294.2L422 2290.8L423.8 2286L425.8 2280.8L427.4 2276.1L428.6 2272.2L429.6 2268.6L430.3 2265.1L430.7 2261.5L430.5 2257.5L429.8 2253.3L429.1 2249.6L428.6 2247.1L427.8 2247.2L428.2 2249.8L428.8 2253.5L429.3 2257.6L429.3 2261.4L428.8 2264.8L428 2268.1L426.8 2271.6L425.5 2275.4L423.6 2279.9L421.4 2285L419.3 2289.7L417.8 2293Z" fill="#f0523c"/>
<path d="M416 2250.5L417.6 2250.1L419.9 2249.5L422.6 2248.8L424.9 2248L427 2247L429 2245.8L430.8 2244.7L432 2243.9L431.6 2243.2L430.3 2243.8L428.5 2244.7L426.4 2245.6L424.4 2246.3L422.1 2246.7L419.5 2247.1L417.1 2247.2L415.4 2247.3Z" fill="#f0523c"/>
<path d="M541.3 2209.5L540.6 2202L539.6 2191.3L538.7 2179.4L538.1 2168.6L538 2159.1L538.3 2149.9L538.6 2141.1L538.6 2132.9L538.3 2124.9L537.6 2117.2L537 2110.6L536.6 2106L535.9 2106.1L536.2 2110.7L536.7 2117.3L537.2 2124.9L537.4 2132.9L537.2 2141L536.8 2149.8L536.3 2159L536.2 2168.6L536.6 2179.5L537.2 2191.4L537.9 2202.2L538.3 2209.8Z" fill="#f0523c"/>
<path d="M505 2293.5L504.6 2287L504.1 2277.6L503.7 2267.2L503.4 2257.9L503.5 2249.7L503.7 2241.8L503.9 2234.3L503.9 2227.5L503.5 2221.2L502.9 2215.3L502.3 2210.4L501.8 2206.9L501 2207L501.4 2210.5L501.9 2215.4L502.3 2221.2L502.5 2227.5L502.4 2234.3L502 2241.7L501.5 2249.6L501.2 2257.9L501.2 2267.3L501.3 2277.7L501.4 2287.1L501.5 2293.6Z" fill="#f0523c"/>
<path d="M502 2247.9L500.5 2249.4L498.3 2251.6L495.9 2253.8L493.9 2255.6L492.3 2256.7L490.9 2257.5L489.7 2258L488.8 2258.5L489.1 2259L490 2258.7L491.2 2258.3L492.8 2257.6L494.6 2256.6L496.9 2255L499.5 2253.1L502 2251.2L503.7 2250Z" fill="#f0523c"/>
<path d="M528.1 2193.4L529.5 2193.3L531.4 2193.2L533.4 2193.2L535 2193.5L536.3 2194.2L537.6 2195.4L538.7 2196.6L539.5 2197.4L540.1 2196.9L539.4 2196L538.5 2194.6L537.2 2193.1L535.7 2191.9L533.8 2191.2L531.6 2190.7L529.6 2190.4L528.3 2190.2Z" fill="#f0523c"/>
<path d="M38.93 2260.54C41.9 2258.01 50.83 2249.52 56.79 2245.36C62.74 2241.19 67.2 2237.47 74.64 2235.54C82.08 2233.6 93.39 2231.82 101.43 2233.75C109.46 2235.68 115.42 2242.23 122.86 2247.14C130.3 2252.05 137.74 2257.86 146.07 2263.21C154.4 2268.57 162.44 2275.27 172.86 2279.29C183.27 2283.3 196.67 2285.54 208.57 2287.32C220.48 2289.11 232.38 2288.81 244.29 2290C256.19 2291.19 265.71 2291.64 280 2294.46C294.29 2297.29 321.07 2304.43 330 2306.96C338.93 2309.49 324.05 2308.9 333.57 2309.64C343.1 2310.39 372.26 2310.24 387.14 2311.43C402.02 2312.62 412.44 2314.4 422.86 2316.79C433.27 2319.17 440.71 2322.29 449.64 2325.71C458.57 2329.14 468.99 2334.79 476.43 2337.32C483.87 2339.85 489.97 2341.64 494.29 2340.89C498.6 2340.15 501.13 2337.77 502.32 2332.86C503.51 2327.95 499.79 2318.57 501.43 2311.43C503.07 2304.29 507.98 2296.55 512.14 2290C516.31 2283.45 523.6 2280.48 526.43 2272.14C529.26 2263.81 528.21 2251.31 529.11 2240C530 2228.69 531.34 2210.24 531.79 2204.29" fill="none" stroke="#58bfe2" stroke-width="5.2" stroke-linecap="round" stroke-linejoin="round" />
<path d="M38.04 2249.29C41.16 2248.48 49.2 2245.42 56.79 2244.46C64.38 2243.51 74.64 2242.98 83.57 2243.57C92.5 2244.17 101.43 2245.21 110.36 2248.04C119.29 2250.86 128.21 2256.82 137.14 2260.54C146.07 2264.26 152.02 2268.12 163.93 2270.36C175.83 2272.59 196.67 2272.74 208.57 2273.93C220.48 2275.12 226.43 2275.42 235.36 2277.5C244.29 2279.58 251.73 2283.01 262.14 2286.43C272.56 2289.85 286.55 2294.46 297.86 2298.04C309.17 2301.61 321.07 2304.73 330 2307.86C338.93 2310.98 341.9 2313.96 351.43 2316.79C360.95 2319.61 372.26 2322.98 387.14 2324.82C402.02 2326.67 424.35 2327.17 440.71 2327.86C457.08 2328.54 474.94 2329.29 485.36 2328.93C495.77 2328.57 499.64 2328.04 503.21 2325.71C506.79 2323.39 506.79 2320.36 506.79 2315C506.79 2309.64 502.62 2298.93 503.21 2293.57C503.81 2288.21 505.89 2286.73 510.36 2282.86C514.82 2278.99 525.54 2277.5 530 2270.36C534.46 2263.21 535.51 2250.12 537.14 2240C538.78 2229.88 539.38 2214.7 539.82 2209.64" fill="none" stroke="#f0523c" stroke-width="4.2" stroke-linecap="round" stroke-linejoin="round" />
<g><path d="M192.86 2091.49L197.22 2090.85M189.34 2103.12L191.94 2105.46M183.18 2107.13L184.36 2110.73M173.53 2106.84L171.95 2110.86M168.72 2103.71L166.51 2105.94M164.62 2091.66L160.88 2091.16M168.15 2084.03L165.85 2081.95M174.05 2080.11L172.66 2076.13M181.66 2079.61L182.59 2075.14M191.48 2087.14L194.29 2085.72" fill="none" stroke="#f0c45c" stroke-width="1.71" stroke-linecap="round"/><circle cx="178.75" cy="2093.57" r="15.5" fill="url(#gM1)"/><ellipse cx="174.1" cy="2089.7" rx="5.89" ry="4.65" fill="#fff6d6" opacity="0.55"/></g>
<g><circle cx="217.5" cy="2077.5" r="10" fill="url(#gMono)"/><circle cx="217" cy="2077.5" r="7.7" fill="#7b5084"/><path d="M220.6 2068.73A9.3 9.3 0 0 1 220.6 2086.27A13.96 13.96 0 0 1 220.6 2068.73Z" fill="url(#gMonoIn)"/><path d="M220.6 2086.27A13.96 13.96 0 0 1 220.6 2068.73" fill="none" stroke="#5a2c48" stroke-width="0.7" opacity="0.5"/><circle cx="217.5" cy="2077.5" r="9.5" fill="none" stroke="#7a3238" stroke-width="1" opacity="0.85"/></g>
<g><path d="M260.85 2076.76Q264.36 2077.52 267.79 2076.21M260.1 2081.26Q262.92 2083.63 266.66 2084.11M257.04 2085.11Q257.85 2087.85 260.28 2089.5M254.85 2086.31Q255.26 2090.33 257.71 2093.66M250 2086.84Q248.56 2089.61 249.09 2092.76M244.51 2083.93Q241.37 2085.45 239.58 2088.52M242.54 2080.72Q239.06 2080.89 236.2 2083.02M241.99 2077.11Q239.21 2076.01 236.27 2076.87M243.09 2073.06Q240.11 2070.25 236.04 2069.31M245.59 2070.07Q244.1 2066.47 240.9 2064.11M249.8 2068.19Q250.3 2065.38 248.86 2062.82M254.24 2068.48Q256.28 2065.43 256.35 2061.69M256.87 2069.77Q259.18 2068.18 259.95 2065.4M260.34 2074.36Q263.82 2074.21 266.7 2072.11" fill="none" stroke="#3a7d40" stroke-width="0.9" stroke-linecap="round"/><circle cx="251.43" cy="2077.5" r="10.5" fill="url(#gMac)"/><path d="M250.11 2070.92q2.62 -2.1 3.67 1.05M249.86 2070.74q2.62 -2.1 3.67 1.05M246.45 2081.37q2.62 -2.1 3.67 1.05M244.84 2079.9q2.62 -2.1 3.67 1.05M253.31 2075.69q2.62 -2.1 3.67 1.05M253.56 2079.94q2.62 -2.1 3.67 1.05" fill="none" stroke="#a8d8b0" stroke-width="0.53" opacity="0.7" stroke-linecap="round"/></g>
<g><path d="M280.89 2071.62C282.32 2071.55 284.49 2071.4 285.84 2072.07C287.19 2072.75 288.54 2074.32 288.99 2075.67C289.44 2077.02 288.39 2078.82 288.54 2080.17C288.69 2081.52 290.12 2082.57 289.89 2083.77C289.67 2084.97 288.17 2086.7 287.19 2087.37C286.22 2088.05 284.94 2087.22 284.04 2087.82C283.14 2088.42 282.84 2090.67 281.79 2090.97C280.74 2091.27 278.79 2090.37 277.74 2089.62C276.69 2088.87 276.47 2087.22 275.49 2086.47C274.52 2085.72 272.34 2086.02 271.89 2085.12C271.44 2084.22 272.42 2082.35 272.79 2081.07C273.17 2079.8 273.99 2078.67 274.14 2077.47C274.29 2076.27 273.17 2074.7 273.69 2073.87C274.22 2073.05 276.09 2072.9 277.29 2072.52C278.49 2072.15 279.47 2071.7 280.89 2071.62Z" fill="url(#gNeu)"/><path d="M275.94 2079.27C276.47 2077.92 277.22 2075.6 278.19 2074.77C279.17 2073.95 280.89 2074.02 281.79 2074.32C282.69 2074.62 283.74 2075.97 283.59 2076.57C283.44 2077.17 281.49 2077.17 280.89 2077.92C280.29 2078.67 280.29 2079.87 279.99 2081.07C279.69 2082.27 279.69 2084.37 279.09 2085.12C278.49 2085.87 277.07 2085.95 276.39 2085.57C275.72 2085.2 275.12 2083.92 275.04 2082.87C274.97 2081.82 275.42 2080.62 275.94 2079.27Z" fill="#a86ac6" opacity="0.9"/><path d="M284.04 2077.92C284.57 2077.4 286.22 2078.07 286.74 2078.82C287.27 2079.57 287.42 2081.6 287.19 2082.42C286.97 2083.25 285.99 2083.85 285.39 2083.77C284.79 2083.7 283.82 2082.95 283.59 2081.97C283.37 2081 283.52 2078.45 284.04 2077.92Z" fill="#a86ac6" opacity="0.85"/></g>
<g><path d="M308.57 2065.64C310.63 2065.53 313.77 2065.31 315.72 2066.29C317.67 2067.26 319.62 2069.54 320.27 2071.49C320.92 2073.44 319.4 2076.04 319.62 2077.99C319.84 2079.94 321.9 2081.45 321.57 2083.19C321.25 2084.92 319.08 2087.41 317.67 2088.39C316.26 2089.36 314.42 2088.17 313.12 2089.04C311.82 2089.9 311.39 2093.15 309.87 2093.59C308.35 2094.02 305.54 2092.72 304.02 2091.64C302.5 2090.55 302.18 2088.17 300.77 2087.09C299.36 2086 296.22 2086.44 295.57 2085.14C294.92 2083.84 296.33 2081.13 296.87 2079.29C297.41 2077.44 298.6 2075.82 298.82 2074.09C299.04 2072.35 297.41 2070.08 298.17 2068.89C298.93 2067.69 301.64 2067.48 303.37 2066.94C305.1 2066.39 306.51 2065.74 308.57 2065.64Z" fill="url(#gNeu)"/><path d="M301.42 2076.69C302.18 2074.74 303.26 2071.38 304.67 2070.19C306.08 2068.99 308.57 2069.1 309.87 2069.54C311.17 2069.97 312.69 2071.92 312.47 2072.79C312.25 2073.65 309.44 2073.65 308.57 2074.74C307.7 2075.82 307.7 2077.55 307.27 2079.29C306.84 2081.02 306.84 2084.05 305.97 2085.14C305.1 2086.22 303.05 2086.33 302.07 2085.79C301.1 2085.24 300.23 2083.4 300.12 2081.89C300.01 2080.37 300.66 2078.64 301.42 2076.69Z" fill="#a86ac6" opacity="0.9"/><path d="M313.12 2074.74C313.88 2073.98 316.26 2074.95 317.02 2076.04C317.78 2077.12 318 2080.04 317.67 2081.24C317.35 2082.43 315.94 2083.29 315.07 2083.19C314.2 2083.08 312.8 2081.99 312.47 2080.59C312.15 2079.18 312.36 2075.49 313.12 2074.74Z" fill="#a86ac6" opacity="0.85"/></g>
<g><path d="M357.05 2079.55L359.56 2079.28M355.26 2086.83L357.42 2088.26M351.24 2090.47L352.59 2093.01M340.96 2090.5L339.4 2093.48M336.5 2086.22L334.19 2087.55M335.03 2080.55L332.3 2080.51M336.37 2075.45L334.15 2074.24M341.49 2070.67L340.03 2067.48M350.83 2070.75L352.28 2067.71M355.72 2075.34L358.02 2074.06" fill="none" stroke="#f0c45c" stroke-width="1.32" stroke-linecap="round"/><circle cx="346.07" cy="2080.71" r="12" fill="url(#gM1)"/><ellipse cx="342.47" cy="2077.71" rx="4.56" ry="3.6" fill="#fff6d6" opacity="0.55"/></g>
<g><path d="M246.23 2115.35Q249.94 2116.54 253.81 2115.63M244.9 2119.84Q247.84 2122.85 251.96 2124.04M242.13 2122.79Q243.52 2126.73 246.74 2129.52M240.17 2123.83Q240.4 2127.29 242.57 2130.1M233.48 2123.85Q231.24 2126.86 230.93 2130.69M230.05 2121.63Q227.39 2122.87 226.05 2125.56M228.31 2119.18Q225.2 2119.6 222.9 2121.84M227.34 2114.88Q223.86 2113.79 220.28 2114.78M227.77 2112.18Q225.27 2110.36 222.1 2110.41M230.42 2108.02Q228.5 2104.32 224.94 2102.01M235.42 2105.65Q235.99 2102.7 234.59 2099.96M239.7 2106.01Q241.5 2103.65 241.45 2100.6M242.93 2107.82Q245.49 2106.35 246.61 2103.53M244.59 2109.68Q248.47 2108.34 251.2 2105.17" fill="none" stroke="#3a7d40" stroke-width="0.9" stroke-linecap="round"/><circle cx="236.79" cy="2115" r="10.5" fill="url(#gMac)"/><path d="M237.6 2118.13q2.62 -2.1 3.67 1.05M243.42 2114.24q2.62 -2.1 3.67 1.05M235.04 2121.93q2.62 -2.1 3.67 1.05M231.3 2113.63q2.62 -2.1 3.67 1.05M238.76 2121.76q2.62 -2.1 3.67 1.05M234.16 2108.32q2.62 -2.1 3.67 1.05" fill="none" stroke="#a8d8b0" stroke-width="0.53" opacity="0.7" stroke-linecap="round"/></g>
<g><path d="M268.39 2100.3C270.61 2100.18 273.99 2099.95 276.09 2101C278.19 2102.05 280.29 2104.5 280.99 2106.6C281.69 2108.7 280.06 2111.5 280.29 2113.6C280.53 2115.7 282.74 2117.33 282.39 2119.2C282.04 2121.07 279.71 2123.75 278.19 2124.8C276.68 2125.85 274.69 2124.57 273.29 2125.5C271.89 2126.43 271.43 2129.93 269.79 2130.4C268.16 2130.87 265.13 2129.47 263.49 2128.3C261.86 2127.13 261.51 2124.57 259.99 2123.4C258.48 2122.23 255.09 2122.7 254.39 2121.3C253.69 2119.9 255.21 2116.98 255.79 2115C256.38 2113.02 257.66 2111.27 257.89 2109.4C258.13 2107.53 256.38 2105.08 257.19 2103.8C258.01 2102.52 260.93 2102.28 262.79 2101.7C264.66 2101.12 266.18 2100.42 268.39 2100.3Z" fill="url(#gNeu)"/><path d="M260.69 2112.2C261.51 2110.1 262.68 2106.48 264.19 2105.2C265.71 2103.92 268.39 2104.03 269.79 2104.5C271.19 2104.97 272.83 2107.07 272.59 2108C272.36 2108.93 269.33 2108.93 268.39 2110.1C267.46 2111.27 267.46 2113.13 266.99 2115C266.53 2116.87 266.53 2120.13 265.59 2121.3C264.66 2122.47 262.44 2122.58 261.39 2122C260.34 2121.42 259.41 2119.43 259.29 2117.8C259.18 2116.17 259.88 2114.3 260.69 2112.2Z" fill="#a86ac6" opacity="0.9"/><path d="M273.29 2110.1C274.11 2109.28 276.68 2110.33 277.49 2111.5C278.31 2112.67 278.54 2115.82 278.19 2117.1C277.84 2118.38 276.33 2119.32 275.39 2119.2C274.46 2119.08 272.94 2117.92 272.59 2116.4C272.24 2114.88 272.48 2110.92 273.29 2110.1Z" fill="#a86ac6" opacity="0.85"/></g>
<g><path d="M301.01 2110.24Q303.7 2111.24 306.59 2110.73M300.38 2112.54Q302.01 2114.11 304.3 2114.41M299.24 2114.23Q300.63 2116.54 303.08 2117.8M295.85 2116.21Q295.73 2119.01 297.11 2121.52M293.04 2116.28Q291.79 2118.8 292.02 2121.66M290.45 2115.19Q288.26 2117.02 287.29 2119.76M288.02 2112.15Q285.6 2112.33 283.67 2113.88M287.54 2109.57Q284.93 2108.78 282.25 2109.5M287.96 2107.29Q285.91 2105.73 283.28 2105.54M290.58 2104Q289.99 2101.82 288.19 2100.37M293.39 2102.95Q293.78 2100.26 292.68 2097.71M296.46 2103.25Q297.86 2101.38 297.91 2098.99M297.82 2103.89Q299.91 2101.95 300.73 2099.16M300.61 2107.28Q303.06 2107.14 305.06 2105.62" fill="none" stroke="#3a7d40" stroke-width="0.9" stroke-linecap="round"/><circle cx="294.29" cy="2109.64" r="7.5" fill="url(#gMac)"/><path d="M296.15 2110.89q1.88 -1.5 2.62 0.75M292.57 2107.7q1.88 -1.5 2.62 0.75M297.82 2108.52q1.88 -1.5 2.62 0.75M295.49 2113.41q1.88 -1.5 2.62 0.75M291.1 2113.49q1.88 -1.5 2.62 0.75M297.17 2107.79q1.88 -1.5 2.62 0.75" fill="none" stroke="#a8d8b0" stroke-width="0.5" opacity="0.7" stroke-linecap="round"/></g>
<g><circle cx="318.39" cy="2104.29" r="9.5" fill="url(#gMono)"/><circle cx="317.92" cy="2104.29" r="7.32" fill="#7b5084"/><path d="M321.34 2095.96A8.84 8.84 0 0 1 321.34 2112.62A13.26 13.26 0 0 1 321.34 2095.96Z" fill="url(#gMonoIn)"/><path d="M321.34 2112.62A13.26 13.26 0 0 1 321.34 2095.96" fill="none" stroke="#5a2c48" stroke-width="0.7" opacity="0.5"/><circle cx="318.39" cy="2104.29" r="9.03" fill="none" stroke="#7a3238" stroke-width="0.95" opacity="0.85"/></g>
<g><path d="M209.41 2126.26L215.1 2126.06M209.06 2129.23L214.28 2130.69M208.27 2131.21L213.94 2134.24M207.5 2132.42L213.07 2136.53M205.92 2134.1L210.2 2139.22M203.88 2135.42L206.26 2140.36M200.97 2136.29L202.06 2144.25M199.2 2136.37L198.93 2142.31M195.94 2135.66L192.75 2143.47M193.97 2134.57L190.17 2139.89M191.74 2132.36L187.43 2135.51M190.68 2130.52L185.03 2132.99M190.34 2129.62L185.03 2131.33M189.88 2126.98L181.89 2127.29M190.02 2124.88L182.95 2123.61M191.12 2121.83L185.48 2118.67M192.39 2120.06L188.39 2116.44M193.4 2119.08L189.65 2114.55M196.51 2117.35L194.38 2111.05M198.1 2116.95L196.97 2109.85M200.73 2116.89L201.42 2110.72M203.64 2117.69L206.74 2110.76M204.78 2118.29L208.54 2112.2M206.99 2120.16L213.15 2114.76M208.5 2122.47L214.09 2119.85M209.31 2125.19L214.84 2124.38" fill="none" stroke="#846cf4" stroke-width="1.26" stroke-linecap="round"/><circle cx="199.64" cy="2126.61" r="11.5" fill="url(#gM2)"/><circle cx="199.64" cy="2126.61" r="9.2" fill="none" stroke="#b6a8fa" stroke-width="0.69" opacity="0.7"/></g>
<g><path d="M355.75 2111.43C355.75 2112.45 354.2 2113.39 353.87 2114.51C353.54 2115.62 354.35 2117.25 353.79 2118.11C353.24 2118.97 351.42 2118.92 350.54 2119.68C349.67 2120.44 349.46 2122.25 348.53 2122.67C347.59 2123.1 346.1 2122.07 344.95 2122.24C343.8 2122.4 342.65 2123.81 341.63 2123.66C340.62 2123.52 339.91 2121.84 338.86 2121.36C337.8 2120.88 336.07 2121.44 335.3 2120.77C334.52 2120.1 334.83 2118.31 334.21 2117.33C333.58 2116.36 331.82 2115.89 331.53 2114.91C331.24 2113.93 332.47 2112.59 332.47 2111.43C332.47 2110.27 331.24 2108.93 331.53 2107.95C331.82 2106.96 333.58 2106.5 334.21 2105.52C334.83 2104.55 334.52 2102.76 335.3 2102.09C336.07 2101.42 337.8 2101.98 338.86 2101.5C339.91 2101.01 340.62 2099.34 341.63 2099.19C342.65 2099.05 343.8 2100.45 344.95 2100.62C346.1 2100.78 347.59 2099.76 348.53 2100.19C349.46 2100.61 349.67 2102.42 350.54 2103.18C351.42 2103.94 353.24 2103.88 353.79 2104.75C354.35 2105.61 353.54 2107.24 353.87 2108.35C354.2 2109.47 355.75 2110.4 355.75 2111.43Z" fill="url(#gLeu)"/><g fill="#fbf8fa" opacity="0.55"><circle cx="344.67" cy="2120.04" r="1.56"/><circle cx="342.87" cy="2109.64" r="1.68"/><circle cx="346.23" cy="2111.4" r="2.06"/><circle cx="338.82" cy="2112.64" r="1.92"/><circle cx="346.12" cy="2118.6" r="1.53"/><circle cx="343.53" cy="2112.78" r="1.7"/><circle cx="336.51" cy="2115.95" r="1.8"/><circle cx="345.82" cy="2113.53" r="2.39"/><circle cx="348.96" cy="2113.76" r="1.8"/><circle cx="341.35" cy="2108.18" r="2.1"/><circle cx="337.13" cy="2111.53" r="2.31"/><circle cx="341.38" cy="2110.3" r="1.5"/><circle cx="348.11" cy="2109.75" r="1.63"/><circle cx="348.78" cy="2109.51" r="2.14"/></g></g>
<g><path d="M378.21 2099.76L384.11 2099.71M378.08 2101.33L385.43 2102.58M377.56 2103.17L383.41 2105.54M375.47 2106.25L378.93 2109.84M374.28 2107.22L378 2112.75M373.2 2107.84L375.8 2113.16M370 2108.72L370.49 2114.85M367.81 2108.62L366.95 2113.77M366.56 2108.32L365.01 2113.15M364.21 2107.16L359.86 2113.44M362.5 2105.62L357.05 2110.27M361.48 2104.15L355.3 2107.58M360.82 2102.64L355.46 2104.42M360.37 2099.51L353.36 2099.27M360.59 2097.82L355.71 2096.7M361.2 2096.05L356.32 2093.77M362.35 2094.2L356.7 2089.62M363.78 2092.79L359.15 2086.88M366.76 2091.26L365.38 2086.56M368 2090.99L367.09 2084.78M369.51 2090.9L369.67 2084.84M373.12 2091.76L375.3 2087.17M374.5 2092.58L377.48 2088.43M376.06 2094.01L381.78 2089.1M376.93 2095.21L381 2092.76M377.74 2096.97L383.83 2094.92" fill="none" stroke="#846cf4" stroke-width="1.16" stroke-linecap="round"/><circle cx="369.29" cy="2099.82" r="10.5" fill="url(#gM2)"/><circle cx="369.29" cy="2099.82" r="8.4" fill="none" stroke="#b6a8fa" stroke-width="0.63" opacity="0.7"/></g>
<g><path d="M322.72 2136.43C322.72 2137.45 321.16 2138.39 320.83 2139.51C320.51 2140.62 321.31 2142.25 320.76 2143.11C320.2 2143.97 318.39 2143.92 317.51 2144.68C316.63 2145.44 316.42 2147.25 315.49 2147.67C314.56 2148.1 313.06 2147.07 311.91 2147.24C310.76 2147.4 309.61 2148.81 308.6 2148.66C307.58 2148.52 306.88 2146.84 305.82 2146.36C304.76 2145.88 303.04 2146.44 302.26 2145.77C301.49 2145.1 301.8 2143.31 301.17 2142.33C300.54 2141.36 298.79 2140.89 298.5 2139.91C298.21 2138.93 299.44 2137.59 299.44 2136.43C299.44 2135.27 298.21 2133.93 298.5 2132.95C298.79 2131.96 300.54 2131.5 301.17 2130.52C301.8 2129.55 301.49 2127.76 302.26 2127.09C303.04 2126.42 304.76 2126.98 305.82 2126.5C306.88 2126.01 307.58 2124.34 308.6 2124.19C309.61 2124.05 310.76 2125.45 311.91 2125.62C313.06 2125.78 314.56 2124.76 315.49 2125.19C316.42 2125.61 316.63 2127.42 317.51 2128.18C318.39 2128.94 320.2 2128.88 320.76 2129.75C321.31 2130.61 320.51 2132.24 320.83 2133.35C321.16 2134.47 322.72 2135.4 322.72 2136.43Z" fill="url(#gLeu)"/><g fill="#fbf8fa" opacity="0.55"><circle cx="306.26" cy="2134.46" r="1.99"/><circle cx="312.42" cy="2143.69" r="2.23"/><circle cx="308.96" cy="2134.42" r="1.94"/><circle cx="308.88" cy="2139.21" r="2.35"/><circle cx="311.9" cy="2136.39" r="2.27"/><circle cx="307.02" cy="2133.91" r="1.71"/><circle cx="308.18" cy="2132.19" r="2.1"/><circle cx="309.18" cy="2134.53" r="2.18"/><circle cx="319.06" cy="2135.44" r="2.03"/><circle cx="311.54" cy="2136.77" r="1.57"/><circle cx="313.67" cy="2135.13" r="1.79"/><circle cx="313.28" cy="2134.24" r="1.97"/><circle cx="308.79" cy="2137.1" r="2"/><circle cx="311.7" cy="2134.42" r="1.66"/></g></g>
<g><path d="M348.18 2140.68L351.25 2140.62M344.85 2148.8L346.92 2150.92M340.52 2151.4L341.47 2154.36M335.08 2151.74L334.52 2154.7M327.89 2146.91L325.08 2148.74M326.25 2142.68L323.52 2143.12M327.27 2135.95L324.26 2134.44M334.55 2130.16L333.98 2127.78M342.5 2131.24L344.23 2128.13M346.46 2134.97L349.1 2133.28" fill="none" stroke="#f0c45c" stroke-width="1.32" stroke-linecap="round"/><circle cx="337.14" cy="2140.89" r="12" fill="url(#gM1)"/><ellipse cx="333.54" cy="2137.89" rx="4.56" ry="3.6" fill="#fff6d6" opacity="0.55"/></g>
<g><path d="M280.48 2155.18C280.48 2156.03 279.18 2156.81 278.91 2157.74C278.64 2158.67 279.31 2160.03 278.84 2160.75C278.38 2161.47 276.87 2161.42 276.14 2162.06C275.41 2162.69 275.23 2164.19 274.46 2164.55C273.68 2164.9 272.43 2164.05 271.47 2164.19C270.52 2164.32 269.56 2165.5 268.71 2165.37C267.87 2165.25 267.28 2163.86 266.4 2163.46C265.52 2163.05 264.08 2163.52 263.43 2162.96C262.79 2162.4 263.05 2160.91 262.52 2160.1C262 2159.28 260.54 2158.9 260.3 2158.08C260.06 2157.26 261.08 2156.15 261.08 2155.18C261.08 2154.21 260.06 2153.1 260.3 2152.28C260.54 2151.46 262 2151.07 262.52 2150.26C263.05 2149.45 262.79 2147.95 263.43 2147.39C264.08 2146.83 265.52 2147.3 266.4 2146.9C267.28 2146.5 267.87 2145.11 268.71 2144.98C269.56 2144.86 270.52 2146.03 271.47 2146.17C272.43 2146.31 273.68 2145.45 274.46 2145.81C275.23 2146.16 275.41 2147.67 276.14 2148.3C276.87 2148.93 278.38 2148.89 278.84 2149.61C279.31 2150.33 278.64 2151.69 278.91 2152.61C279.18 2153.54 280.48 2154.32 280.48 2155.18Z" fill="url(#gLeu)"/><g fill="#fbf8fa" opacity="0.55"><circle cx="264.97" cy="2156.03" r="1.73"/><circle cx="270.85" cy="2156.01" r="1.5"/><circle cx="269.24" cy="2161.38" r="1.75"/><circle cx="266.45" cy="2152.43" r="1.73"/><circle cx="272.54" cy="2158.23" r="1.33"/><circle cx="271.32" cy="2154.41" r="1.86"/><circle cx="275.05" cy="2157.65" r="1.47"/><circle cx="264.84" cy="2158.84" r="1.21"/><circle cx="276.63" cy="2157.77" r="1.61"/><circle cx="276.42" cy="2159.19" r="1.96"/><circle cx="273.03" cy="2157.61" r="1.31"/><circle cx="268.25" cy="2159.84" r="1.33"/><circle cx="269.74" cy="2153.92" r="1.34"/><circle cx="271.62" cy="2151.87" r="1.54"/></g></g>
<text x="320.6" y="2187.3" font-size="17.3" text-anchor="middle" stroke="#000" stroke-width="0.9">Chronic inflammation</text>
<path d="M459.46 2161.43L463.46 2177.43L460.86 2177.43L460.86 2196.43L458.06 2196.43L458.06 2177.43L455.46 2177.43Z" fill="#f0908a"/>
<path d="M1162.54 2106.98L1189.33 2070.37L1205.4 2050.73L1207.54 2033.76L1203.97 2084.66L1200.04 2152.51L1192.9 2186.44L1180.4 2245.37L1162.54 2304.3L1133.9 2355.1L1148.26 2295.37L1157.19 2223.94L1161.65 2152.51Z" fill="url(#kSide)"/>
<path d="M1133.9 2355.1L1148.26 2295.37L1159.86 2238.23L1191.11 2188.23L1180.4 2245.37L1162.54 2304.3Z" fill="#f4eddc" opacity="0.9"/>
<path d="M718.79 2054.3L817.9 2065.91L1042.9 2087.34L1146.47 2095.37L1162.54 2106.98L1161.65 2152.51L1157.19 2223.94L1148.26 2295.37L1133.9 2355.1L1116.2 2345.1L1082.9 2335.1L1049.6 2331.8L1016.2 2325.1L982.9 2321.8L932.9 2308.5L899.6 2295.1L866.2 2298.5L849.6 2291.8L816.2 2278.5L782.9 2283.5L752.9 2278.8L741.9 2264.8L737.54 2215.01L728.61 2134.66L719.69 2068.59Z" fill="url(#kDerm)"/>
<clipPath id="cfr202"><path d="M718.79 2054.3L817.9 2065.91L1042.9 2087.34L1146.47 2095.37L1162.54 2106.98L1161.65 2152.51L1157.19 2223.94L1148.26 2295.37L1133.9 2355.1L1116.2 2345.1L1082.9 2335.1L1049.6 2331.8L1016.2 2325.1L982.9 2321.8L932.9 2308.5L899.6 2295.1L866.2 2298.5L849.6 2291.8L816.2 2278.5L782.9 2283.5L752.9 2278.8L741.9 2264.8L737.54 2215.01L728.61 2134.66L719.69 2068.59Z"/></clipPath>
<g clip-path="url(#cfr202)" filter="url(#blur1)"><path d="M867.93 2128.3C871.19 2128.84 880.97 2130.6 887.49 2131.52C894 2132.43 900.52 2133.74 907.04 2133.8C913.56 2133.87 920.08 2131.74 926.59 2131.92C933.11 2132.09 939.63 2134.9 946.15 2134.85C952.67 2134.8 959.18 2131.59 965.7 2131.6C972.22 2131.6 982 2134.33 985.25 2134.88" fill="none" stroke="#fde3d4" stroke-width="2.5" opacity="0.5" stroke-linecap="round"/><path d="M860.69 2138.81C865.68 2139.31 880.67 2141.55 890.66 2141.8C900.65 2142.06 910.64 2140.55 920.63 2140.35C930.62 2140.15 940.61 2140.08 950.6 2140.62C960.59 2141.15 970.58 2142.65 980.57 2143.56C990.56 2144.47 1000.55 2145.45 1010.54 2146.07C1020.53 2146.69 1035.52 2147.09 1040.52 2147.29" fill="none" stroke="#f0a48e" stroke-width="2.09" opacity="0.28" stroke-linecap="round"/><path d="M783.57 2146.68C787.07 2146.34 797.57 2145 804.57 2144.61C811.58 2144.23 818.58 2143.55 825.58 2144.37C832.58 2145.19 839.58 2148.53 846.58 2149.51C853.58 2150.49 860.58 2150.06 867.59 2150.25C874.59 2150.44 881.59 2151.04 888.59 2150.64C895.59 2150.24 906.09 2148.33 909.59 2147.86" fill="none" stroke="#fde3d4" stroke-width="2.65" opacity="0.5" stroke-linecap="round"/><path d="M926.32 2160.05C928.47 2160.22 934.92 2160.33 939.23 2161.06C943.53 2161.8 947.84 2164.29 952.14 2164.46C956.44 2164.62 960.75 2161.69 965.05 2162.03C969.35 2162.38 973.66 2166.23 977.96 2166.5C982.27 2166.78 986.57 2163.77 990.87 2163.67C995.18 2163.57 1001.63 2165.55 1003.78 2165.92" fill="none" stroke="#f0a48e" stroke-width="2.48" opacity="0.28" stroke-linecap="round"/><path d="M915.6 2172.98C921.15 2173.3 937.79 2174.6 948.88 2174.91C959.97 2175.22 971.06 2174.51 982.16 2174.85C993.25 2175.19 1004.34 2176.19 1015.43 2176.93C1026.53 2177.67 1037.62 2178.54 1048.71 2179.28C1059.8 2180.01 1070.89 2180.74 1081.99 2181.36C1093.08 2181.98 1109.72 2182.74 1115.26 2183.02" fill="none" stroke="#fde3d4" stroke-width="2.87" opacity="0.5" stroke-linecap="round"/><path d="M848.69 2181.14C851.71 2181.79 860.78 2184.59 866.83 2185.05C872.87 2185.5 878.92 2184.42 884.97 2183.88C891.02 2183.33 897.06 2181.22 903.11 2181.78C909.16 2182.34 915.2 2186.2 921.25 2187.25C927.3 2188.3 933.35 2188.3 939.39 2188.08C945.44 2187.86 954.51 2186.3 957.53 2185.94" fill="none" stroke="#f0a48e" stroke-width="4.45" opacity="0.28" stroke-linecap="round"/><path d="M927.11 2198.25C929.43 2198.2 936.41 2197.63 941.05 2197.91C945.7 2198.18 950.35 2200.01 954.99 2199.9C959.64 2199.78 964.29 2197.26 968.93 2197.2C973.58 2197.14 978.23 2198.82 982.87 2199.55C987.52 2200.27 992.17 2201.81 996.81 2201.56C1001.46 2201.32 1008.43 2198.67 1010.75 2198.09" fill="none" stroke="#fde3d4" stroke-width="2.46" opacity="0.5" stroke-linecap="round"/><path d="M757.5 2202.84C759.38 2203.2 765.02 2204.29 768.77 2204.98C772.53 2205.66 776.29 2206.71 780.05 2206.96C783.8 2207.22 787.56 2206.4 791.32 2206.52C795.08 2206.64 798.83 2207.89 802.59 2207.68C806.35 2207.47 810.11 2205.53 813.86 2205.27C817.62 2205 823.26 2205.97 825.14 2206.11" fill="none" stroke="#f0a48e" stroke-width="3.41" opacity="0.28" stroke-linecap="round"/><path d="M731.39 2212.9C733.29 2213.23 739.01 2214.89 742.82 2214.92C746.64 2214.95 750.45 2213.71 754.26 2213.08C758.07 2212.44 761.89 2211.2 765.7 2211.11C769.51 2211.02 773.32 2211.81 777.14 2212.53C780.95 2213.25 784.76 2214.79 788.57 2215.44C792.39 2216.1 798.11 2216.31 800.01 2216.48" fill="none" stroke="#fde3d4" stroke-width="2.52" opacity="0.5" stroke-linecap="round"/><path d="M736.46 2228.26C740.23 2228.21 751.53 2227.59 759.07 2227.93C766.6 2228.27 774.14 2230.21 781.67 2230.31C789.21 2230.4 796.74 2228.28 804.28 2228.5C811.81 2228.72 819.35 2231.1 826.88 2231.61C834.42 2232.12 841.95 2231.32 849.49 2231.58C857.02 2231.85 868.33 2232.93 872.09 2233.2" fill="none" stroke="#f0a48e" stroke-width="2.18" opacity="0.28" stroke-linecap="round"/><path d="M862.58 2244.14C865.16 2243.8 872.89 2242.01 878.05 2242.12C883.2 2242.22 888.36 2243.77 893.51 2244.76C898.67 2245.74 903.82 2247.62 908.97 2248.02C914.13 2248.43 919.28 2247.35 924.44 2247.2C929.59 2247.06 934.75 2246.74 939.9 2247.15C945.06 2247.55 952.79 2249.21 955.37 2249.62" fill="none" stroke="#fde3d4" stroke-width="3.73" opacity="0.5" stroke-linecap="round"/><path d="M809.68 2254.2C814.75 2254.35 829.94 2254.83 840.07 2255.1C850.2 2255.36 860.33 2255.65 870.46 2255.79C880.59 2255.94 890.72 2255.7 900.85 2255.97C910.97 2256.25 921.1 2256.64 931.23 2257.44C941.36 2258.24 951.49 2260.06 961.62 2260.78C971.75 2261.49 986.94 2261.57 992.01 2261.73" fill="none" stroke="#f0a48e" stroke-width="3.94" opacity="0.28" stroke-linecap="round"/><path d="M811.7 2263.88C815.52 2264.63 827 2267.76 834.65 2268.4C842.31 2269.04 849.96 2267.96 857.61 2267.73C865.26 2267.5 872.92 2266.82 880.57 2267.02C888.22 2267.22 895.87 2268.17 903.52 2268.94C911.18 2269.71 918.83 2270.95 926.48 2271.65C934.13 2272.35 945.61 2272.91 949.44 2273.16" fill="none" stroke="#fde3d4" stroke-width="3.75" opacity="0.5" stroke-linecap="round"/><path d="M902.91 2284.28C906 2284.45 915.29 2285.34 921.48 2285.3C927.67 2285.25 933.86 2283.64 940.05 2284.01C946.24 2284.38 952.43 2286.81 958.62 2287.49C964.81 2288.16 971 2287.65 977.19 2288.07C983.38 2288.49 989.57 2289.94 995.76 2290.03C1001.96 2290.11 1011.24 2288.81 1014.34 2288.57" fill="none" stroke="#f0a48e" stroke-width="4.44" opacity="0.28" stroke-linecap="round"/><path d="M853.69 2295.21C856.24 2295.11 863.9 2294.64 869 2294.6C874.1 2294.57 879.21 2295.19 884.31 2295C889.41 2294.8 894.52 2293.59 899.62 2293.44C904.73 2293.29 909.83 2293.89 914.93 2294.1C920.04 2294.32 925.14 2293.92 930.24 2294.74C935.35 2295.55 943 2298.28 945.55 2298.99" fill="none" stroke="#fde3d4" stroke-width="3.11" opacity="0.5" stroke-linecap="round"/><path d="M878.08 2304.38C882.91 2304.51 897.38 2304.19 907.03 2305.16C916.68 2306.12 926.33 2309.83 935.98 2310.18C945.64 2310.53 955.29 2306.85 964.94 2307.28C974.59 2307.72 984.24 2312.18 993.89 2312.8C1003.54 2313.41 1013.19 2311.4 1022.84 2310.99C1032.49 2310.58 1046.97 2310.45 1051.79 2310.34" fill="none" stroke="#f0a48e" stroke-width="2.75" opacity="0.28" stroke-linecap="round"/></g>
<path d="M719.69 2068.59L816.11 2078.41L871.47 2081.09L942.9 2084.66L1048.26 2099.48L1146.47 2107.51L1162.54 2110.55L1161.47 2143.59C1158.17 2145.82 1158.26 2151.18 1148.26 2152.51C1138.26 2153.85 1134.86 2150.73 1121.47 2148.94C1108.08 2147.16 1108.08 2144.48 1094.69 2145.37C1081.29 2146.26 1079.06 2149.39 1067.9 2152.51C1056.74 2155.64 1061.2 2157.87 1050.04 2157.87C1038.88 2157.87 1038.88 2154.75 1023.26 2152.51C1007.63 2150.28 1004.95 2150.73 987.54 2148.94C970.13 2147.16 964.77 2147.6 953.61 2145.37C942.45 2143.14 952.27 2140.01 942.9 2140.01C933.52 2140.01 929.51 2142.25 916.11 2145.37C902.72 2148.5 902.72 2152.51 889.33 2152.51C875.94 2152.51 875.94 2150.73 862.54 2145.37C849.15 2140.01 846.92 2137.34 835.76 2131.09C824.6 2124.84 825.94 2126.18 817.9 2120.37C809.86 2114.57 811.65 2112.78 803.61 2107.87C795.58 2102.96 795.58 2098.5 785.76 2100.73C775.94 2102.96 774.15 2110.1 764.33 2116.8C754.51 2123.5 754.06 2127.51 746.47 2127.51C738.88 2127.51 739.11 2121.71 733.97 2116.8C728.84 2111.89 727.94 2110.1 725.94 2107.87L719.69 2068.59Z" fill="url(#kPink)"/>
<clipPath id="cpk202"><path d="M719.69 2068.59L816.11 2078.41L871.47 2081.09L942.9 2084.66L1048.26 2099.48L1146.47 2107.51L1162.54 2110.55L1161.47 2143.59C1158.17 2145.82 1158.26 2151.18 1148.26 2152.51C1138.26 2153.85 1134.86 2150.73 1121.47 2148.94C1108.08 2147.16 1108.08 2144.48 1094.69 2145.37C1081.29 2146.26 1079.06 2149.39 1067.9 2152.51C1056.74 2155.64 1061.2 2157.87 1050.04 2157.87C1038.88 2157.87 1038.88 2154.75 1023.26 2152.51C1007.63 2150.28 1004.95 2150.73 987.54 2148.94C970.13 2147.16 964.77 2147.6 953.61 2145.37C942.45 2143.14 952.27 2140.01 942.9 2140.01C933.52 2140.01 929.51 2142.25 916.11 2145.37C902.72 2148.5 902.72 2152.51 889.33 2152.51C875.94 2152.51 875.94 2150.73 862.54 2145.37C849.15 2140.01 846.92 2137.34 835.76 2131.09C824.6 2124.84 825.94 2126.18 817.9 2120.37C809.86 2114.57 811.65 2112.78 803.61 2107.87C795.58 2102.96 795.58 2098.5 785.76 2100.73C775.94 2102.96 774.15 2110.1 764.33 2116.8C754.51 2123.5 754.06 2127.51 746.47 2127.51C738.88 2127.51 739.11 2121.71 733.97 2116.8C728.84 2111.89 727.94 2110.1 725.94 2107.87L719.69 2068.59Z"/></clipPath>
<g clip-path="url(#cpk202)"><path d="M1058.41 2120.75L1063.77 2122.47L1063.85 2126.53M836.47 2102.08L842.36 2104L848.67 2105.09M1126.5 2143.6L1122.94 2146.7L1116.99 2147.38M1044.64 2145.58L1041.92 2143.54L1038.09 2141.23L1033.33 2139.22L1033.06 2136.81M955.84 2095.27L960.37 2098.42L967.7 2099.82M797.15 2079.44L799.38 2082.99L795.79 2084.77L797.26 2088.08L800.87 2089.84M1115.5 2145.05L1116.63 2142.58L1117.7 2139.62L1121.05 2137.44L1124.31 2136.56M771.93 2105.84L777.97 2105.15L782.9 2105.47L787.08 2103.94M1142.6 2118.44L1134.55 2119.22L1130.04 2117.49M788.01 2088.46L791.67 2090.29L795.57 2093.56L799.46 2093.83M748.57 2118.49L751.41 2120.23L748.65 2121.92M754.17 2100.76L756.72 2097.91L760.43 2096.96L763.3 2094.73L766.99 2093.31M982.21 2093.99L984.21 2096.88L980.08 2099.11M856.72 2101.13L861.08 2101.8L864 2105.55L866.11 2108.46M1077.21 2148.87L1070.77 2150.42L1063.98 2149.32L1058.34 2150.34L1053.32 2151.12M929.1 2104.49L923.1 2104.64L920.33 2107.67L919.96 2110.35L918.76 2114.07M1055.8 2136.66L1053.5 2134.01L1046.68 2133.52L1043.01 2132.34L1039.26 2132.92M1052.14 2132.26L1045.48 2132.19L1041.21 2132.72L1035.14 2134.13M991.23 2118.2L997.11 2118.2L1000.42 2119.95M1014.06 2146.44L1017.9 2143.65L1017.65 2139.87L1019.97 2136.85L1022.68 2134.28M969.3 2093.71L968.75 2090.3L964.16 2087.8L963.25 2085.52L961.27 2083.12M862.69 2094.39L857.41 2094.18L850.75 2094.63L846.93 2097.52M880.38 2123.23L875.69 2120.28L870.7 2118.24M789.81 2125.29L788.59 2122.22L788.3 2118.58L793.67 2116.34L801.14 2115.04M905.03 2102.33L911.54 2104.22L916.46 2103.01L920.66 2102.52M871.05 2086.61L872.53 2083.3L870.71 2081.23L868.24 2078.29L864.53 2077.3M990.42 2123.96L987.82 2127.29L990.03 2129.5M1040.06 2130.71L1037.83 2134.62L1034.35 2136.92L1033.75 2140.7M887.76 2124.15L886.68 2126.7L885.14 2129.22M1069.71 2120.32L1063.92 2119.77L1058.86 2119.25L1054.54 2121.63M1048.98 2115.06L1043.72 2113.52L1041.47 2111.81L1034.33 2110.26M1118.25 2110.85L1118 2114.42L1118.79 2117.2L1120 2121.11M903.43 2135.72L902.38 2139.44L902.77 2142.96L904.51 2145.31L909.07 2146.81M1137.58 2136L1139.71 2140.02L1139.73 2143.89L1138.02 2146.92M720.31 2103.8L714.47 2101.98L708.18 2101.76L702.05 2101.71L696.37 2100.13M1058.95 2114.43L1053.94 2113.85L1051.95 2111.71L1048 2110.81L1044.89 2109.2M1138.26 2108.65L1138.06 2112.07L1139.7 2114.45L1143.33 2117.48M1000.02 2131.02L997.01 2133.61L992.62 2134.77M974.26 2114.15L978.66 2116.33L986.12 2117.51L992.46 2118.38L995.27 2120M903.52 2107L910.3 2106.67L916.14 2107.77L922 2108.33L926.45 2108.98M1135.93 2110.25L1136.32 2113.6L1136.09 2117.31M963.2 2118.45L969.55 2118.06L972.62 2115.6L980.87 2115.29L986.01 2114.42M1105.16 2116.19L1097.29 2115.42L1089.47 2115.31M860.95 2130.23L856.2 2128.22L850.06 2128.04M1135.26 2146.79L1131.61 2149.2L1131.07 2152.66M1161.1 2118.93L1153.72 2119.73L1148.5 2117.19M882.56 2090.05L886.94 2089.34L890.32 2087.76M831.39 2125.89L836.93 2126.62L840.37 2130.36L841.17 2132.83M1013.21 2109.57L1017.46 2111.18L1021.25 2112.79L1024.92 2112.69M891.95 2100.66L894.01 2097.57L897.05 2093.92L896.1 2092.03L893.32 2090.2M1058.3 2109.15L1059.29 2106.56L1060.52 2102.86M922.65 2101.41L927.62 2099.55L932.11 2096.25L937.12 2094.67M860.18 2108.1L864.88 2110.2L868.44 2112.1L874.31 2112.66L879.55 2114.17M940.79 2093.85L934.28 2093.37L927.87 2095.07L922.75 2096.41L923.27 2099.04M954.43 2099.89L947.63 2098.55L944.66 2096.75L945.42 2093.73M744.23 2111.77L744.87 2107.71L746.05 2105.92M1152.26 2112.55L1160.19 2112.8L1164.83 2112.33L1170.81 2112.76M755.53 2084.07L751.15 2082.27L748.25 2079.64L743.49 2078.22L745.46 2075.68M1065.33 2101.1L1059.8 2099.7L1053.6 2099.29L1046.83 2100.95M720.63 2113.87L727.21 2115.51L730.49 2118.78M1130.55 2145.09L1129.67 2143.18L1127.59 2140.36L1126.78 2137.15M766.97 2107.79L767.56 2105.52L763.94 2103.9L763.71 2100M1068.62 2117.78L1062.65 2118.47L1058.58 2120.3L1053.84 2122.5M1013.46 2123.32L1007.68 2124.34L1001.66 2123.01M923.99 2124.14L924.81 2121.95L925.28 2119.03M1127.61 2139.41L1122.85 2139.35L1119.85 2137.96L1112.5 2138.04L1109.73 2141.61M859.38 2090.86L855.9 2092.56L853.33 2094.96L851.21 2096.88L847.53 2097.88M995.94 2120.88L997.82 2122.93L1001.35 2124.94L1006.08 2126.17M842.33 2090.5L843.18 2092.73L845.88 2094.87L849.3 2096.81M1002.41 2108.2L1000.56 2111.52L996.11 2113.7M1068.49 2132.35L1068.89 2129.34L1073.95 2127.01L1072.89 2124.64L1072.82 2120.51M997.22 2122.76L993.51 2119.22L992.18 2115.6L986.65 2114.24L982.41 2112.52M859.32 2132.01L865.84 2134.02L869.63 2136.05M841.65 2126.82L835.36 2127L831.1 2130.29M1111.02 2108.16L1115.29 2108.13L1118.99 2108.13M1122.96 2118.72L1128.34 2121.1L1133.03 2122.75L1137.66 2125.2M820.78 2116.05L814.5 2116.11L810.3 2113.81L805.85 2111.58M897.46 2104.52L903.12 2107.03L907.21 2106.73L914.51 2106.93L921.39 2107.74M953.61 2133.11L959.61 2130.62L964.35 2128.53L967.55 2127.5M860.54 2117.93L857.53 2120.71L856.3 2123.9M873.74 2115.94L870.03 2117.46L866.04 2119.07M1038 2122.28L1041.9 2125.11L1041.49 2129.03M1000.05 2106.04L1004.34 2103.02L1006.57 2101.04L1007.63 2098.99M756.14 2112.24L753.96 2114.38L746.77 2115.11M1095.32 2103.78L1100.89 2106.46L1102.21 2110.35L1103.71 2113.41M857.54 2091.83L853.44 2092.58L848.92 2094.81L849.85 2096.61L855.24 2098.56M1071.7 2143.67L1064.25 2142.96L1062.74 2140.75L1065.67 2138.83M884.76 2123.86L890.05 2123.81L896.04 2122.19M1095.82 2153.05L1096.4 2156.99L1099.6 2158.68L1102.12 2161.71M871.39 2117.89L875.88 2119.63L882.54 2120.39L885.74 2122.15M999.52 2141.66L994.57 2144.32L994.73 2147.64L988.89 2150.52M895.38 2134.63L890.72 2135.61L887.62 2137.06L884.14 2139.64L879.04 2141.31M902.97 2115.04L908.13 2117.68L910.41 2120.06L917.6 2121.76M1144.6 2122.21L1149.69 2121.9L1155.69 2119.99L1156.98 2116.18M1037.63 2133.01L1032.07 2134.38L1026.99 2134.97L1020.7 2133.96L1012.85 2134M1065.35 2142.83L1069.25 2145.55L1068.8 2149.6L1070.26 2153.01L1073.58 2154.31M925.4 2103.13L928.74 2105.45L927.39 2108.61M904.83 2097.58L910.06 2098.77L915.64 2097.95L920.45 2098.79L924.58 2102.07M867.04 2132.63L861.66 2131.22L860.4 2127.53M729.81 2087.96L726.57 2089.97L726.68 2092.43M772.86 2086.19L775.57 2082.45L782.04 2081.8M770.9 2088.62L764.04 2090.47L756.91 2092.26L748.88 2091.72M1148.19 2118.69L1149.97 2115.91L1154.94 2114.55L1158.1 2116.69L1164.85 2117.06M960.58 2112.6L957.48 2115.7L953.25 2117.19L947.48 2118.44L945.39 2121.41M959.63 2115.61L965.02 2114.59L970.66 2115.93L975.45 2116.3L978.51 2117.96M842.28 2120.93L846.54 2120.76L851.9 2120.76M980.29 2122.37L979.36 2119.1L979.42 2115.53L983.93 2113.76L987.39 2110.94M804.74 2111.95L799.42 2110.23L792.11 2109.36M844.92 2107.56L852.26 2106.93L858.05 2106.58L860.97 2108.94L864.24 2110.97M1073.16 2146.61L1078.48 2147.68L1081.97 2146.06M911.31 2088.79L907.73 2085.93L902.13 2085.44L896.89 2083.89M886.27 2085.25L878.55 2086.09L871.43 2085.97M1121.41 2121.05L1124.23 2118.39L1122.64 2114.52M1044.55 2115.66L1048.99 2116.73L1052.39 2119.31L1054.75 2121.14M782.48 2098.38L786.87 2096.12L792.43 2094.33M1126.37 2114.38L1125.58 2117.1L1129.14 2119.77M768.64 2097.13L767.44 2099.66L769.65 2102.11L773.12 2102.65L778.04 2104.63M841.88 2124.37L847.55 2125.15L855.59 2125.11L858.48 2123.02M891.49 2102.52L896.67 2100.73L901.01 2098.94M1044.67 2144.78L1042.49 2142.26L1039.75 2140.4L1036.28 2139.54M1051.88 2145.37L1045.16 2145.7L1038.28 2145.7L1034.14 2144.25M924.66 2103.84L929.49 2102.51L929.37 2099.02M817.53 2106.31L810.15 2106.4L804.99 2107L798.46 2108.8L795 2108.33M885.49 2085.49L881.83 2083.58L881.23 2081.82L876.12 2079.48M754.18 2109.18L749.57 2106.5L749.96 2102.9L747.69 2101.14L742.89 2099.21M1014.9 2137.65L1020.17 2139.34L1024.06 2141.29M819.22 2118.5L818.29 2114.96L813.28 2113.26L811.06 2111.24M946.59 2137.44L945.75 2140.87L940.91 2141.82L937.45 2142.4L933.28 2143.48M885.81 2112.83L893.17 2112.72L897.75 2114.57L899.57 2118.27M835.13 2125.21L835.36 2122.19L836.86 2119.74L834.2 2117.04L833.93 2113.31M1133.54 2152.91L1126.05 2151.52L1125.29 2147.69M726.18 2106.64L725.95 2104.38L727.73 2101.87L727.2 2099.96L722.74 2098.29M759.5 2089.87L756.85 2087.05L755 2083.4L751.77 2082.06L750.38 2078.67M902.16 2117.8L903.74 2114.96L910.24 2113.97L914.19 2111.76M956.95 2118.36L961.89 2120.86L964.14 2122.75L960.62 2125.9M1127.67 2147.25L1128.48 2144.59L1125.94 2142.67M1081.77 2113.37L1078.02 2113.35L1074.93 2114.87L1072.95 2117.55L1070.34 2120.33M773.26 2077.89L771.34 2075.61L769.03 2072.92L761.07 2072.7M776.35 2115.18L779.77 2116.32L783.37 2114.52L784.11 2110.67L787.85 2108.31M816.28 2125L817.61 2128.22L813.07 2131.49L810.87 2134.73M1058.05 2139.11L1058.27 2142.92L1054.24 2144.62L1050.05 2147.72M1037.53 2145.97L1044.99 2146.83L1046.79 2148.81L1045.83 2151.46M1071.51 2130.65L1066.04 2132.32L1065.62 2134.77L1062.61 2137.04M1045.3 2125.23L1048.15 2121.79L1048.58 2119.22L1042.52 2116.62M970.32 2097.67L974.61 2099.34L979.52 2099.73L983.9 2100.75L988.29 2098.92M1107.11 2132.7L1108.98 2130.69L1107.73 2126.71L1109.82 2123.42M913.11 2104.87L906.62 2103.77L900.8 2103.57L896.8 2101.97M1054.28 2117.98L1049.9 2114.81L1049.65 2112.14M774.7 2084.73L776.5 2087.77L777.46 2089.86L774.69 2092.47L769.79 2095.39M1022.51 2142.41L1026.75 2143.49L1030.56 2144.96L1036.41 2146.46" fill="none" stroke="#e98884" stroke-width="0.6" opacity="0.55" stroke-linecap="round" stroke-linejoin="round"/></g>
<path d="M737.54 2216.8C741.11 2218.59 743.35 2221.71 751.83 2223.94C760.31 2226.18 762.54 2227.07 771.47 2225.73C780.4 2224.39 780.4 2223.05 787.54 2218.59C794.69 2214.12 794.24 2207.43 800.04 2207.87C805.85 2208.32 804.51 2210.55 810.76 2220.37C817.01 2230.19 817.9 2236 825.04 2247.16C832.19 2258.32 833.08 2264.57 839.33 2265.01C845.58 2265.46 843.79 2257.2 850.04 2248.94C856.29 2240.68 857.19 2231.53 864.33 2231.98C871.47 2232.43 870.58 2240.24 878.61 2250.73C886.65 2261.22 887.54 2266.35 896.47 2273.94C905.4 2281.53 905.85 2284.66 914.33 2281.09C922.81 2277.51 923.26 2268.59 930.4 2259.66C937.54 2250.73 936.65 2250.51 942.9 2245.37C949.15 2240.24 950.94 2240.01 955.4 2239.12C959.86 2238.23 954.95 2234.88 960.76 2241.8C966.56 2248.72 969.69 2255.19 978.61 2266.8C987.54 2278.41 988.44 2280.64 996.47 2288.23C1004.51 2295.82 1001.83 2297.16 1010.76 2297.16C1019.69 2297.16 1020.13 2294.93 1032.19 2288.23C1044.24 2281.53 1045.58 2277.51 1058.97 2270.37C1072.36 2263.23 1074.6 2259.66 1085.76 2259.66C1096.92 2259.66 1094.69 2262.34 1103.61 2270.37C1112.54 2278.41 1112.99 2283.76 1121.47 2291.8C1129.95 2299.84 1130.85 2304.3 1137.54 2302.51C1144.24 2300.73 1143.12 2295.37 1148.26 2284.66C1153.39 2273.94 1155.62 2265.91 1158.08 2259.66L1148.26 2295.37L1133.9 2355.1C1129.48 2352.6 1128.95 2350.1 1116.2 2345.1C1103.45 2340.1 1099.55 2338.43 1082.9 2335.1C1066.25 2331.78 1066.27 2334.3 1049.6 2331.8C1032.92 2329.3 1032.88 2327.6 1016.2 2325.1C999.53 2322.6 1003.73 2325.95 982.9 2321.8C962.07 2317.65 953.73 2315.18 932.9 2308.5C912.07 2301.82 916.27 2297.6 899.6 2295.1C882.92 2292.6 878.7 2299.32 866.2 2298.5C853.7 2297.68 862.1 2296.8 849.6 2291.8C837.1 2286.8 832.88 2280.57 816.2 2278.5C799.53 2276.43 798.73 2283.43 782.9 2283.5C767.07 2283.57 763.15 2283.48 752.9 2278.8C742.65 2274.12 744.65 2268.3 741.9 2264.8L737.54 2216.8Z" fill="url(#kFat)"/>
<clipPath id="cfx202"><path d="M737.54 2216.8C741.11 2218.59 743.35 2221.71 751.83 2223.94C760.31 2226.18 762.54 2227.07 771.47 2225.73C780.4 2224.39 780.4 2223.05 787.54 2218.59C794.69 2214.12 794.24 2207.43 800.04 2207.87C805.85 2208.32 804.51 2210.55 810.76 2220.37C817.01 2230.19 817.9 2236 825.04 2247.16C832.19 2258.32 833.08 2264.57 839.33 2265.01C845.58 2265.46 843.79 2257.2 850.04 2248.94C856.29 2240.68 857.19 2231.53 864.33 2231.98C871.47 2232.43 870.58 2240.24 878.61 2250.73C886.65 2261.22 887.54 2266.35 896.47 2273.94C905.4 2281.53 905.85 2284.66 914.33 2281.09C922.81 2277.51 923.26 2268.59 930.4 2259.66C937.54 2250.73 936.65 2250.51 942.9 2245.37C949.15 2240.24 950.94 2240.01 955.4 2239.12C959.86 2238.23 954.95 2234.88 960.76 2241.8C966.56 2248.72 969.69 2255.19 978.61 2266.8C987.54 2278.41 988.44 2280.64 996.47 2288.23C1004.51 2295.82 1001.83 2297.16 1010.76 2297.16C1019.69 2297.16 1020.13 2294.93 1032.19 2288.23C1044.24 2281.53 1045.58 2277.51 1058.97 2270.37C1072.36 2263.23 1074.6 2259.66 1085.76 2259.66C1096.92 2259.66 1094.69 2262.34 1103.61 2270.37C1112.54 2278.41 1112.99 2283.76 1121.47 2291.8C1129.95 2299.84 1130.85 2304.3 1137.54 2302.51C1144.24 2300.73 1143.12 2295.37 1148.26 2284.66C1153.39 2273.94 1155.62 2265.91 1158.08 2259.66L1148.26 2295.37L1133.9 2355.1C1129.48 2352.6 1128.95 2350.1 1116.2 2345.1C1103.45 2340.1 1099.55 2338.43 1082.9 2335.1C1066.25 2331.78 1066.27 2334.3 1049.6 2331.8C1032.92 2329.3 1032.88 2327.6 1016.2 2325.1C999.53 2322.6 1003.73 2325.95 982.9 2321.8C962.07 2317.65 953.73 2315.18 932.9 2308.5C912.07 2301.82 916.27 2297.6 899.6 2295.1C882.92 2292.6 878.7 2299.32 866.2 2298.5C853.7 2297.68 862.1 2296.8 849.6 2291.8C837.1 2286.8 832.88 2280.57 816.2 2278.5C799.53 2276.43 798.73 2283.43 782.9 2283.5C767.07 2283.57 763.15 2283.48 752.9 2278.8C742.65 2274.12 744.65 2268.3 741.9 2264.8L737.54 2216.8Z"/></clipPath>
<g clip-path="url(#cfx202)">
<path d="M834.61 2291.93L830.47 2294.52L824.27 2296.46L824.49 2298.87L822.42 2301.38M1023.02 2305.28L1024.96 2303.48L1028.88 2300.06L1035.88 2298.61M1041.12 2303.3L1036.96 2300.81L1037.95 2298.82L1037.37 2294.73M823.64 2281.67L824.05 2279.18L826.69 2275.07M1108.94 2317.24L1117.71 2317.19L1125.84 2318.24M981.53 2296.36L987.77 2297.22L994.53 2294.91M923.14 2304.01L919.53 2308.19L914.45 2310.37L907.02 2309.83L903.6 2312.53M1056.92 2330.55L1049.99 2330.82L1041.96 2332.03L1036 2333.4L1031.62 2336.57M1135.5 2331.3L1135.2 2328.39L1138.03 2325.1M956.8 2313.01L955.9 2317.06L947.97 2318.93L942.62 2322M1040.64 2313.56L1049.16 2314.06L1056.05 2311.94M812.71 2286.62L806.29 2284.67L805.25 2280.62M783.38 2262.05L790.68 2263.04L794.97 2263.21M766.08 2252.79L769.15 2255.55L769.08 2259.25L767.33 2262.13M822.91 2293.02L823.37 2296.59L825.65 2299.04L829.3 2300.89L831.54 2305.08M985.49 2298.56L979.97 2298.1L973.72 2298.59M1134.07 2324L1132.51 2326.93L1126.73 2329.44L1121.42 2331.16L1115.58 2330.38M888.97 2299.57L882.24 2297.65L881.87 2294.69M820.55 2286.08L818.34 2283.88L820.21 2279.65L822.49 2277.13L827.79 2275.86M962.53 2295.86L958.54 2298.48L954.34 2298.13L947.31 2296.87M970.27 2307.82L970.61 2304.37L970.51 2299.92L974.17 2296.43L978 2294.39M1091.82 2318.28L1096.03 2318.78L1099.92 2315.6L1099.5 2311.89L1102.23 2309.19M1034.66 2310.12L1040.44 2308.13L1046.26 2306.57M1113.43 2318.37L1114.37 2314.33L1114.88 2311.46L1120.12 2309.19L1121.04 2306M1118.3 2343.15L1111.06 2342.21L1103.22 2341.57L1101.23 2339.28L1097.25 2336.23M1041.57 2299.9L1042.81 2297.25L1041.8 2292.73L1041.83 2288.3L1038.98 2285.91M1056.99 2321.28L1064.44 2319.55L1072.91 2320.46L1077.95 2323.2L1083.98 2326.68M930.43 2297.64L936.98 2298.35L942.89 2301.12M847.15 2279.07L841.35 2277.06L836.7 2276.2L832.38 2272.79L828.03 2269.61M876.25 2281.23L874.06 2278.84L874.6 2276.78M1032.68 2319.68L1028.93 2321.86L1026.2 2324.31L1024.32 2328.38L1025.37 2331.97M778.51 2276.64L772.42 2279.12L764.89 2279.33L758.26 2279.9L754.11 2282.8M928.69 2282.64L922.86 2279.93L914.34 2279.49M1068.42 2331.43L1071.94 2328.93L1077.77 2326.8L1081.1 2324.1L1084.87 2320.36M1123.55 2337.53L1119.37 2336.91L1113.73 2336.14M1130.07 2337.64L1135.25 2339.61L1137.51 2342.69M1113.21 2330.57L1120.87 2329.04L1126.87 2329.22L1135.59 2330.26L1140.65 2332.61M949.86 2308.46L950.24 2312.53L951.7 2315.22M825.82 2295.65L834.62 2295.3L838 2293.84L844.42 2292.68M869.75 2287.92L868.98 2292.55L874.55 2294.98M968.41 2294.65L973.63 2293.5L974.36 2291.22M863.43 2293.48L862.42 2296.76L858.28 2297.93L855.86 2300.06L859.61 2304.41M1009.69 2307.54L1014.92 2310.38L1014.26 2313.92M1138.52 2328.51L1141.99 2326.07L1144.22 2324.04L1142.65 2321.97L1138.64 2318.56M992.6 2311L991.01 2315.15L984.72 2316.91L981.27 2319.32L975.05 2322.15M934.34 2307.97L930.29 2310.46L927.44 2313.54M755.97 2270.82L757.8 2266.69L765.1 2265.17M1065.93 2315.75L1058.51 2314.12L1054 2310.35L1057.6 2307.75M835.83 2293.81L841.91 2295.99L844.15 2299.18L846.54 2301.4L846.92 2305.18M1081.16 2309.49L1084.49 2312.1L1087.5 2314.33M936.74 2311.8L939.61 2309.76L938.82 2305.45M1102.52 2334.3L1102.96 2331.33L1109.98 2329.37M940.82 2303.95L945.28 2307.31L946.42 2311.82L944.22 2315.08M1050.89 2319.75L1047.83 2321.45L1048.85 2325.56L1056.68 2326.91L1062 2324.75M769.85 2261.75L770.55 2265.34L774.58 2267.28M883.93 2296.73L882.3 2294.76L884.05 2290.92L887.62 2287.81L890.87 2284.9M846 2299.44L851.32 2302.55L854.76 2304.98L854.85 2309.55L856.89 2312.36M759.7 2264.43L759.3 2260.55L764.57 2257.43L766.42 2255M1080.17 2321.34L1080.26 2323.41L1082.84 2325.33L1083.35 2328.94M889.51 2281.78L883.89 2282.85L875 2284.59M857.43 2291.4L863.54 2290.89L867.6 2291.77M984.82 2299.59L986.35 2296.03L986.24 2292.13M1053.41 2332.71L1052.51 2328.83L1048.72 2327.13L1047.83 2323.13M1067.39 2325.32L1073.19 2326.34L1080.03 2328.27M1082.24 2312.17L1076.82 2309.77L1072.56 2308.82L1065.84 2311.29M1137.76 2332.55L1138.89 2336.03L1133.21 2337.92M860.8 2271.36L855.98 2274.36L852.05 2274.93M930.04 2277.77L935.91 2277.74L940.04 2280.44L943.58 2283.12L941.98 2287.26M879.05 2272.94L873.52 2272.72L869.76 2275.65M954.04 2292.25L959.08 2289.64L962.21 2286.75L964.63 2283.84M894.12 2288.03L887.65 2286.86L882.93 2288.57L880.41 2292.01M849.29 2287.8L855.1 2287.71L861.53 2287.53L864.85 2291.1L870.99 2294.74M1055.14 2308.05L1047.55 2308.26L1043.46 2310.22L1038.54 2311.5M1078.26 2323.1L1079.66 2318.42L1081.82 2314.8L1087.31 2313.46L1095.56 2314.34M1102.85 2332.71L1110.95 2331.75L1116.34 2333.63M1074.77 2320.91L1079.8 2322.16L1083.38 2324.37L1091.88 2325.31L1095.37 2327.24M1071.53 2333.34L1075.92 2335.71L1084.74 2336.62M1033.99 2298.65L1030.91 2300.17L1025.15 2299.88M1133.66 2341.15L1142.59 2339.87L1145.3 2338.11L1144.81 2334.58M871.76 2270.51L874.33 2273.33L873.15 2275.33L876.22 2277.23L877.04 2279.67M808.69 2281.59L813.37 2283.6L819.33 2283.34M902.61 2278.05L904.49 2275.03L908.34 2273.17M957.66 2318.53L960.53 2320.94L959.1 2324.65L953.15 2325.6M905.9 2300.47L899.27 2297.85L899.69 2293.37L896.03 2291.17M987.89 2296.46L990.42 2299.58L994.24 2302.69L1000.32 2303.95M865.5 2300.76L861.58 2297.88L857.11 2297.58L852.4 2298.81M901.35 2301.05L898.33 2298.72L894.21 2295.93M974.56 2284.17L970.61 2281.14L969.26 2277.17M1123.77 2320.24L1121.77 2323.47L1119.83 2326.62L1120.51 2330.53M990.55 2295.91L987.48 2292.73L987.32 2290.08" fill="none" stroke="#e9ae48" stroke-width="0.7" opacity="0.75" stroke-linecap="round" stroke-linejoin="round"/>
</g>
<path d="M718.79 2054.3L746.47 2045.37L785.76 2037.87L817.9 2025.73L841.11 2016.8L878.61 2011.8L925.04 2015.01L942.9 2014.66L1014.33 2020.37L1103.61 2025.73L1175.04 2030.19L1207.19 2032.51L1205.4 2050.73L1189.33 2070.37L1162.54 2106.98L1146.47 2095.37L1042.9 2087.34L817.9 2065.91Z" fill="url(#kTop)"/>
<g clip-path="url(#ct202)">
<ellipse cx="853.61" cy="2034.66" rx="90" ry="14" fill="#f6b694" opacity="0.55" filter="url(#blur4)"/>
<ellipse cx="1067.9" cy="2038.23" rx="110" ry="12" fill="#f5b898" opacity="0.5" filter="url(#blur4)"/>
<ellipse cx="1103.61" cy="2072.16" rx="70" ry="16" fill="#fbe7c4" opacity="0.7" filter="url(#blur4)"/>
<path d="M791.45 2078.76L789.81 2084.01L794.35 2085.91L799.53 2088.21L806.29 2090.22M1175.31 2024.07L1170.97 2028.47L1172.25 2032.31L1168.43 2035.8L1169.64 2040.12M984.88 2041.61L993.01 2040.45L997.27 2038.71L1002.49 2038.59M797.92 2036.64L795.64 2033.83L788.23 2030.47L782.59 2027.19M1003.77 2090.4L995.79 2088.49L987.86 2086.23M1001.86 2065.84L996.26 2066.77L989.24 2068.89L979 2069.77L973.08 2069.54M1167.71 2013.47L1169.05 2017.2L1167.53 2020.38L1162.25 2023.04L1157.69 2025.82M1113.96 2092.34L1116.55 2088.61L1121.99 2087.05L1125.23 2084.5M943.31 2015.04L937.69 2014.5L932.87 2011.87M876.21 2044.84L883.35 2043.49L885.98 2041.28L893.73 2041.09L902.66 2043.04M789.17 2059.08L791.14 2054.74L789.71 2052.1L782.94 2050.69L777.29 2047.74M935.52 2050.49L929.02 2047.49L922.15 2046.61M1011.5 2030.46L1016.4 2028.46L1026 2027.35L1035.38 2028.15L1041.01 2027.33M761.28 2035.33L759.81 2032.26L756 2029.22L746.18 2027.63M832.48 2029.62L835.68 2026L837.78 2022.17L836.61 2019.52M1146.34 2037.81L1140.75 2034.15L1133.89 2033.81L1128.02 2036.02L1120.22 2036.49M789.08 2101.09L791.28 2097.53L786.67 2094.16L780.59 2092.68L773.29 2091.21M1004.94 2030.49L1007.4 2026.87L1013.87 2024.78L1019.32 2021.53M770.53 2023.08L764.48 2023.83L762.12 2025.8L765.59 2029.05L763.82 2031.94M724.1 2057.19L731.8 2059.52L735.46 2061.52L740.87 2063.63M894.29 2025.25L899.15 2023.55L901.92 2020.99M1030.21 2047.4L1026.72 2051.07L1019 2052.68L1012.9 2051.54M793.63 2072.93L793.44 2075.75L799.74 2077.46L804.23 2078.66M787.03 2033.04L794.09 2031.08L794.81 2026.71L796.41 2023.32L795.96 2020.1M955.36 2049.54L950.97 2046.11L946.19 2044.89L939.62 2045.8M1083.1 2087.95L1086.61 2085.73L1092.79 2085.71M951.29 2078.49L955.89 2079.56L964.32 2079.91L971.75 2081.83L980.41 2081.95M937.85 2027.84L941.95 2023.62L942.22 2021.17M1136.99 2067.57L1130.94 2069.7L1125.65 2072.32M1119.47 2051.92L1114.47 2055.49L1109.15 2055.79L1099.87 2056.53M937.01 2082.43L939.2 2080.14L947.77 2077.94L953.34 2078.81M1180.95 2066.4L1176.61 2062.45L1176.31 2059.75M768.23 2074.9L770.62 2071.47L769.96 2069.12L768.78 2066.41M923.86 2047.37L933.6 2048.61L935.05 2051.83L936.09 2054.12M976.99 2101.33L968.21 2103.19L963.51 2101.87L958.1 2100.63L954.24 2098.23M816.66 2065.66L806.88 2066.45L802.57 2064.55M1200.4 2095.45L1198.05 2099.03L1198.67 2101.82M1135.05 2027.69L1129.58 2026.86L1125.97 2028.33M975 2093.69L979.11 2091.6L979.87 2087.15M1098.28 2079.54L1089.57 2078.19L1082.36 2079.49L1078.19 2082.62L1072.04 2082.74M809.25 2097.2L812.15 2100.28L810.43 2102.82L808.93 2106.11M896.33 2096.41L888.98 2095.04L885.93 2091.53L884.57 2087.25M745.47 2077.95L745.35 2075.02L743.2 2070.53L745.82 2066.92M785.42 2021.55L776.9 2020.61L773.15 2017.61L767.64 2018.06L759.81 2016.17M1032.21 2053.41L1024.32 2054.78L1015.73 2056L1013.69 2058.57L1015.6 2063.44M1104.69 2067.42L1112.82 2065.34L1119.73 2065.75M931.01 2017.16L931.69 2021.97L928.47 2024.49L924.81 2028.13L922.19 2030.75M1135.92 2083.6L1140.55 2083.86L1150.53 2084.25L1154.86 2088.2L1161.28 2089.42M1066.31 2022.57L1070.11 2019.26L1073.79 2015.4L1078.17 2012.83L1084.42 2012.41M877.11 2023.19L884.58 2021.92L886.39 2019.28L887.2 2016.45M1134.78 2097.1L1129.12 2100.58L1128.88 2105.24L1124.62 2108.52M922.82 2081.5L919.81 2077.16L921.81 2072.21L926.35 2070.11M726.33 2043L727.73 2037.85L723.19 2035.89L720.1 2033.74M1198.85 2088.36L1202.13 2084.8L1199.44 2081.32M1171.08 2043.02L1177.64 2040.13L1177.26 2035.74L1177.3 2030.93L1174.12 2026.02M762.96 2017.98L758.36 2016.01L752.76 2016.62L744.09 2019.36M868.65 2100.4L871.57 2104.16L880.88 2104.85L886.28 2106.35L888.26 2108.98M842.26 2048.24L837.13 2049.53L831.07 2048.65L826.12 2048.77L819.2 2047.59M792.13 2085.26L795.37 2081.59L802.26 2080.72M732.72 2048.73L729.28 2044.17L730.64 2040.53M1084.59 2022.48L1086.51 2019.35L1092.74 2016.83L1090.88 2013.16M887.37 2031.14L883.27 2027.66L877.23 2024.64M1126.4 2051.63L1128 2056.56L1131.41 2059.22M1011.51 2027.25L1006.64 2027.72L998 2025.83L994.38 2023.17M877.14 2017.5L869.22 2017.33L866.5 2014.6M859.78 2081.43L851.39 2080.28L846.79 2078.47L838.18 2076.45M1171.82 2050.48L1166.42 2054.26L1165.17 2059.26L1164.88 2062.8M1046.17 2073.76L1046.3 2077.77L1043.58 2081.15M1174.61 2103.31L1179.65 2105.1L1185.04 2106.43L1193.12 2105.34L1200.91 2103.28M734.37 2028.07L735.81 2025.27L738.73 2020.31L740.32 2016.94L737.69 2013.4M1095.87 2066.74L1100.13 2063.63L1101.44 2059.58L1097.31 2056.09M1012.23 2021.27L1017.81 2021.23L1023 2020L1032.78 2021.01L1039.15 2019.26M1191.16 2083.07L1195.73 2083.66L1197.83 2086.52M721.65 2085.43L715.88 2083.12L710.4 2084.12M815.76 2051.54L806.03 2051.64L802.49 2048.11L795.67 2047.46M856.54 2029.32L851.1 2029.15L846.47 2024.86L837.48 2023.04M971.9 2083.9L968.66 2088L966.18 2090.69L960.46 2091.16M1009.42 2023.61L1010.91 2027.78L1014.36 2032.46M1189.7 2069.49L1193.02 2066.61L1200.9 2066.88L1206.4 2069.13L1209.08 2071.24M951.54 2032.07L956.61 2028.76L954.85 2025.6L953.05 2023.14M850.12 2082.48L847.98 2077.84L841.05 2074.7M1095.66 2074.1L1104.96 2074.23L1110.93 2074M930.88 2102.27L926.14 2102.5L919.24 2100.46L915.17 2101.64M1149.76 2086.39L1144.45 2085.15L1136.35 2083.95M1027.71 2090.39L1022.21 2092.85L1022.24 2095.16M1079.58 2092.17L1078.3 2089.86L1071.08 2086.53L1068.97 2081.69L1064.95 2078.88M1153.99 2033.1L1146.97 2032.51L1144.43 2030.1L1143.09 2027.11M724.45 2073.07L722.36 2070.61L726.63 2066.78L732.97 2063.38L738.39 2062.7M834.05 2035.74L826.38 2034.31L818.87 2031.42L818.65 2027.69L821.06 2022.69M1085.25 2094.24L1083.44 2096.82L1086.29 2101.88L1094.46 2103.87L1104.6 2103.99M731.36 2031.51L728.26 2029.33L722.69 2026.64M1062.16 2042.89L1058.07 2040.62L1049.07 2038.69L1041.26 2037.37M983.89 2034.63L976.8 2037.47L972.89 2039.2L972.32 2043.66L976.16 2046.47M1131.67 2029.74L1132.79 2033.81L1137.14 2037.74M1048.51 2021.11L1041.04 2018.73L1035.37 2019.09L1027.05 2017.97L1022.7 2014.06M1007.12 2052.27L1011.1 2049.45L1021.78 2049.64M775.94 2101.83L780.31 2102.89L784.77 2105.95M1081.73 2014.09L1078.93 2010.34L1080.33 2007.83M773.67 2077.85L778.14 2075.11L784.91 2071.77M958.04 2041.72L962.92 2044.37L969.38 2045.1L974.33 2043.6L978.07 2039.46M987.73 2101.63L988.27 2105.88L983.86 2109.42L985.9 2114.42L991.53 2115.95M823.61 2075.39L827.64 2079.56L834.71 2081.89L843.23 2080.49M1053.62 2065.28L1047.13 2067.03L1037.01 2066.52L1031.89 2069.41M1007.97 2030.43L1009.2 2027.56L1008.03 2022.79L999.97 2021.42L992 2020.21M761.65 2079.51L760.83 2077.02L754.95 2074.71L746.54 2075.25M1038.91 2063.76L1048.26 2062.91L1057.41 2062.93L1064.88 2061.93M750.1 2083.18L744.62 2082.95L739.12 2081.87L733.54 2079.08L730.53 2075.88M1118.43 2053.3L1113.53 2053.48L1104.9 2052.44L1095.13 2050.8L1088.03 2048.06M923.02 2038.95L929.35 2041.64L937.85 2041.77M1032.47 2047.48L1032.27 2050.76L1029.01 2053.75L1029.66 2056.22M943.14 2088.2L944.65 2085.75L944.97 2080.78L942.14 2078.23M898.51 2060.88L900.36 2066.01L897.25 2069.2M956.07 2059.67L963.17 2061.97L968.24 2064.65M808.28 2046.34L802.38 2043.35L794.91 2043.42M859.01 2081.66L865.97 2079.42L868.26 2076.85L866.11 2074.39L867.86 2072.11M748.3 2033.86L751.66 2038.92L749.29 2041.83L752.17 2045.73M863.37 2029.38L862.43 2024.18L856.83 2020.86L856.4 2017.94L849.39 2016.38M781.3 2016L776.23 2015.34L766.78 2016.3M832.57 2098.94L839.41 2100.59L848.58 2100.61L856.77 2101.3L863.42 2100.7M1171.51 2015.41L1177.47 2018.44L1184.55 2020.65L1186.11 2023.92L1184.65 2026.59M1176.86 2102.52L1187.26 2102.7L1193.52 2105.23L1203.4 2105.12L1210.49 2105.92M1045.24 2029.94L1041.94 2034.18L1033.55 2034.43M1170.61 2044.94L1166 2042.77L1165.6 2038.26L1166.02 2034.08L1162.4 2032.07M1097.47 2050.37L1096.62 2045.26L1090.6 2043.92M1055.21 2054.16L1063.19 2056.86L1065.97 2060.02L1066.84 2063.43M1147.9 2061.45L1140.77 2062.75L1135.87 2062.15L1128.2 2060.64M995.72 2044.69L991.05 2048.62L992.36 2052.02L992.41 2056.03L994.61 2060.84M1183.73 2021.65L1189.68 2023.54L1194.25 2025.2L1204.11 2025.78L1211.17 2024.73M950.74 2073.71L953.84 2076.23L949.28 2078.5M1172.49 2029.64L1176.29 2033.18L1184.26 2033.55L1194.28 2032.19M826.76 2074.23L822.66 2072.37L822.03 2068.16L826.93 2066.56L835.18 2065.62M798.65 2027.85L803.03 2024.77L810.21 2024.21M877.32 2069.82L883.22 2067.2L884.69 2062.43L891 2058.36M809.25 2027.26L812.25 2031.03L817.3 2031.56L825.56 2033.98M1062.08 2088.62L1069.5 2088.08L1075.77 2089.14M758.6 2106.07L753.83 2103.66L752.04 2100.03L745.78 2098.8L737.71 2097.55M1110.85 2067.58L1105.51 2066.87L1097.87 2064.57L1092.13 2066.24M860.31 2097.88L852.01 2096.07L848.9 2092.1L851.16 2089.28M728.34 2026.36L725.97 2023.53L728.86 2020.3M818.69 2022.67L822.61 2025.4L830.48 2027.29L834.57 2030.72M1035.19 2029.49L1040.95 2028.46L1051.12 2029.3L1059.97 2031.63L1064.97 2032.64M1041.97 2022.8L1041.23 2025.87L1048.29 2028.61M857.91 2073.08L850.66 2070.74L843.36 2067.6L838.67 2065.4L830.3 2064.12M754.31 2020.69L759.93 2021.27L765.66 2023.37M762.81 2058.75L759.67 2055.25L759.81 2051.38M730.15 2074.15L725.44 2070.82L719.35 2070.2M1001.71 2096.96L999.6 2099.23L997.43 2103.24L999.7 2105.52M833.2 2040.31L826.91 2043.99L825.49 2046.38M771.03 2084.19L766.1 2084.41L760 2083.2L753.52 2084.6M1042.52 2029.36L1051.71 2029.16L1060.78 2027.01L1067.66 2025.5M1084.79 2092.25L1079.34 2090.36L1079.12 2087.78L1075.06 2085.4L1075.56 2080.54M881.31 2059.4L880.6 2055.19L884.33 2051.19L888.47 2048.59M1192.26 2023.27L1197.92 2025.43L1202.86 2025.09L1209.35 2022.57M999.71 2016.53L1007.21 2014.89L1015.56 2012.98M881.44 2073.94L876 2074.96L869.69 2074.68L861.91 2077.53L856.89 2077.39M737.88 2088.42L732.73 2086.76L722.02 2086.65L716.48 2089.34M919.31 2018.71L918.67 2021.38L916.74 2025.27L913.05 2027.82L914.36 2032.78M822.71 2090.61L814.84 2093.31L807.26 2094.38L801.91 2098.07M929.83 2054.74L931.32 2057.58L930.2 2059.95L927.18 2064.69M858.73 2031.06L851.12 2031.92L845.56 2033.8M920.74 2023.77L923.43 2020.25L923.11 2017.99L925.27 2013.74M854.43 2014.68L849.38 2016.75L839.1 2017.34L834.75 2020.75L836.18 2023.45M1000.24 2033.15L1009.73 2033.64L1013.02 2036.55L1018.57 2039.74M931.28 2099.87L933.67 2096.57L936.27 2093.13M1009.88 2047.99L1019.16 2047.02L1028.2 2045.93M855.54 2083.72L850.29 2084.07L839.63 2083.77L831.29 2081.07M1181.56 2072.94L1172.68 2074.03L1171.6 2076.53L1165.12 2079.06L1161.84 2082.78M928.84 2032.04L934.54 2029.81L936.45 2025.01L931.25 2021.1M1141.37 2074.23L1145.28 2077.93L1146.37 2081.08M935.31 2093.07L930.17 2093.15L925.81 2091.35L920.7 2087.9M1168.85 2091.28L1169.42 2087.06L1170.71 2082.18L1175.34 2079.79L1178.18 2076.01M837.86 2063.89L837.92 2059.68L836.61 2056.31L839.5 2054.17M1096.27 2043.24L1099.95 2038.78L1096.18 2036.41M869.64 2076.35L864.99 2078.7L854.66 2079.04M911.6 2095.6L905.52 2095.83L897.81 2096.81L892.46 2098.42L882.57 2098.74M1166.57 2035.71L1161.94 2037.97L1151.47 2038.11M1097.22 2044.77L1092.43 2047.2L1093.13 2050.26M795.07 2041.22L789.37 2037.79L780.56 2036.15M1198.42 2071.54L1205.76 2071.47L1213.12 2073.3M1019.61 2090.02L1015.1 2092.33L1007.3 2093.57L1002.41 2096.98L1001.11 2100.99M934.71 2044.22L924.99 2043.49L918.36 2042.32L913.21 2041.82M1044.26 2056.59L1048.79 2058.46L1053.84 2058.74L1060.18 2058.54M1020.49 2091.58L1024.66 2090.34L1028.15 2086.42L1035.9 2083.51L1040.27 2085.15M844.79 2104.12L849.29 2103.72L859.22 2101.77M866.24 2064.36L863.35 2067.8L858.53 2071.2M753.03 2076.81L759.7 2074.19L758.55 2071.27L759.07 2065.94M1022.63 2074.87L1013.45 2074.07L1008.72 2077.19M1102.04 2032.63L1106.19 2030.07L1108.92 2026.57L1115.08 2024.43M761.46 2085.2L756.72 2087.65L755.38 2092.82L750.75 2094.21L743.79 2095.74M1084.01 2050.78L1087.48 2046.89L1085.97 2043.3L1088.96 2039.19M1010.79 2087.75L1005.17 2088.41L998.46 2088.82M1018.96 2091.3L1015.05 2089.47L1010.35 2087.59L1003.24 2085.37L997.73 2083.27M816.77 2061.49L815.6 2057.97L815.9 2054.74L817.39 2051.76L814.21 2049.97M1184.99 2077.51L1181.58 2080.42L1173.17 2082.17L1163.09 2081.75M882.35 2099.52L884.71 2102.55L891.73 2104.58L899.64 2107.14L909.93 2107.23M851.48 2077.16L859.9 2074.99L868.6 2076.36L876.45 2077.7M1157.3 2034.41L1163.11 2036.91L1160.32 2042.11L1156.92 2044.01M1098.03 2045.85L1092.32 2045.28L1083.88 2043.96L1081.26 2041.82L1075.28 2040.67M868.73 2041.01L874.2 2043.36L875.79 2047.13L880.66 2048.56L890.35 2048.3M1011.4 2068.88L1003.44 2067.66L998.16 2065.33M975.16 2047.04L983.26 2047.29L990.1 2045.58L997.12 2043.02M1062.86 2100.57L1062.68 2104.72L1062.73 2109.41M1184.48 2031.73L1183.7 2034.53L1183.55 2037.3L1183.97 2041.09L1187.23 2045.3M935.78 2083.4L938.55 2079.64L940.99 2075.89L943.5 2073.3M820.85 2084.44L816.89 2082.86L810.29 2083.75L807.27 2086.23M1170.47 2027.28L1177.18 2026.84L1184.89 2028.3M888.6 2103.66L878.63 2103.26L872.21 2100.33M841.41 2077.97L851.4 2078.48L860.4 2077.58L869.7 2078.64M1122.17 2078.4L1116.92 2082.35L1113.41 2085.78L1112.4 2090.72M945.89 2074.46L944.74 2070.18L949.02 2066.94L944.16 2062.99L938.83 2059.64M1136.86 2088.52L1136.17 2085.47L1133.43 2081.23L1128.78 2078.72M1034.85 2065.25L1031.62 2062.19L1023.39 2061.02L1020.97 2058.83M1032.89 2056.29L1038.7 2052.98L1043.22 2051.28L1051.43 2052.11M738.86 2103.17L738.09 2106.17L729.39 2107.71L721.38 2109.35M837.19 2050.38L840.08 2046.32L843.84 2043.7L842.72 2040.49L839.54 2037.25M1113.27 2039.06L1119.52 2038.58L1127.78 2037.08M974.05 2067.28L968.47 2065.45L964.3 2063.1L961.33 2061.03M950.09 2079.14L941.49 2079.26L933.28 2077.53L923.65 2078.14M879.02 2051.01L883.91 2051.59L889.02 2051.68L895.87 2052.75M1145.73 2096.64L1151.43 2094.63L1160.84 2094.78L1166.09 2091.36M1121.33 2099.45L1115.44 2098.29L1106.74 2099.8L1105.65 2102.82L1103.44 2106.05M811.99 2076.59L821.98 2077.11L827.88 2078.8L836.96 2079.39M1047.85 2039.71L1052.39 2038.07L1061.03 2038.41M876.13 2074.7L872.06 2073.01L867.45 2071.97L859.38 2074.52L855.1 2073.07M946.94 2030.6L938.41 2030.97L933.12 2028.81L926.71 2024.66L922.43 2022.64M843.4 2043.87L849.49 2045.46L854.61 2047.64L860.92 2048.3L866.84 2047.43M962.42 2020.33L972.03 2021.12L980.24 2020.94M925.95 2081.23L929.28 2077.33L936.11 2075.9L940.89 2073.83L940.49 2069.75M813.01 2078.02L816.14 2075.71L823.75 2074.18M947.34 2081.88L939.73 2081.4L931.81 2080.45L922.62 2079.37M994.1 2040.52L994.68 2037.71L998.58 2034.61L999.78 2031.38M770.21 2083.73L761.48 2084.66L755.9 2084.18L746.75 2084.36L743.21 2088.11M968.52 2080.72L961.04 2078.64L959.03 2074.26L954.4 2071.54M1130.5 2093.51L1128.22 2097.64L1124.86 2100.03L1115.29 2100.52M1055.97 2071.59L1050.1 2073.02L1040.11 2073.2L1032.48 2070.49L1030.56 2067.3M890.5 2015.06L900.72 2014.64L909.64 2014.62L917.34 2012.24M1187.97 2088.95L1189.2 2085.57L1195.3 2083.32M767.97 2044.2L775.84 2046.74L779.59 2049.42L784.51 2051.72L786.07 2054.83M865.73 2062.86L872.36 2064.66L880.57 2067.13L885.03 2067.93L889.64 2066.1M803.48 2081.58L802.94 2078.29L803.85 2074.28L801.63 2072.09L807.66 2068.66M1119.73 2088.29L1115.37 2091.95L1118.97 2095.96L1121.53 2098.43M1134.86 2067.97L1136.08 2071.63L1134.78 2076.72L1136.27 2080.08M1050.73 2082.18L1044.08 2081.77L1036.84 2083.37M993.39 2047.74L998.09 2050.82L1004.6 2050.48L1010 2052.69L1015 2052.47M875.82 2056.06L879 2058.23L886.05 2060.03M869.52 2078.97L869.03 2075.58L866.38 2071.69L868.18 2068.38L869.82 2065.65M1081.69 2066.58L1084.28 2063.25L1089.28 2061.42L1091.32 2056.51M1040.16 2026.85L1036.55 2030.43L1038.49 2034.81M981.11 2057.72L985.4 2054.18L987.69 2049.97M1154.26 2091.24L1144.52 2089.59L1135.16 2089.9L1127.29 2091.88L1124.92 2094.34M1133.19 2074.97L1135.32 2078.3L1141.43 2081.6L1138.48 2086.04M1059.99 2029.38L1059.15 2033.25L1061.19 2036.03L1062.73 2041.3L1066.11 2045.55M772.99 2103.03L775.21 2106.44L772.68 2109.96L765.68 2112.13M1067.74 2099.33L1070.5 2103.29L1073.12 2105.57M783.67 2016.06L785.51 2018.56L785.75 2023.75M1123.32 2055.56L1118.7 2053.11L1115.97 2050.33M1154.92 2043.32L1150.98 2041.41L1149.62 2037.81L1146.19 2034.88L1146.73 2030.31M903.26 2061.1L910.72 2062.79L918.99 2063.75L924.75 2065.84L927.3 2068.86M1171.13 2047.39L1164.22 2048.36L1155.39 2048.89M1017.39 2031.2L1010.29 2032.98L1001.58 2032.64L992.26 2032.18" fill="none" stroke="#f3e27c" stroke-width="0.7" opacity="0.7" stroke-linecap="round" stroke-linejoin="round"/>
</g>
<path d="M719.33 2057.16L817.01 2067.51L817.01 2082.16L720.04 2071.8Z" fill="url(#kDots)"/>
<path d="M1045.58 2087.87L1146.47 2095.91L1146.47 2110.55L1048.26 2102.51Z" fill="url(#kDots)"/>
<path d="M1162.54 2106.98L1189.33 2070.37L1205.4 2050.73L1204.69 2081.09L1188.44 2102.51L1161.83 2145.37Z" fill="#f3ada0" opacity="0.95"/>
<path d="M817.9 2068.59C813.14 2062.4 821.47 2062.63 835.76 2057.87C850.04 2053.11 847.66 2053.11 871.47 2050.73C895.28 2048.35 906 2049.9 925.04 2048.94C944.09 2047.99 926.23 2047.16 942.9 2047.16C959.57 2047.16 966.11 2047.04 987.54 2048.94C1008.97 2050.85 1010.4 2050.49 1023.26 2054.3C1036.11 2058.11 1030.52 2054.18 1035.76 2063.23C1041 2072.28 1046.23 2076.8 1042.9 2088.23C1039.57 2099.66 1049.92 2103.23 1023.26 2106.09C996.59 2108.94 969.09 2102.75 942.9 2098.94C916.71 2095.13 948.85 2096.56 925.04 2091.8C901.23 2087.04 882.19 2087.28 853.61 2081.09C825.04 2074.9 822.66 2074.78 817.9 2068.59Z" fill="#f3aaa0"/>
<path d="M769.9 2236.3L769.5 2232.4L769 2226.7L768.4 2220.5L767.6 2214.8L766.7 2210.1L765.7 2205.9L764.7 2201.7L763.7 2197L762.8 2191.6L762 2186L761.2 2180L760.7 2173.9L760.6 2166.9L760.8 2159.1L761.1 2152.1L761.2 2147.2L760.3 2147.1L760 2152L759.5 2159.1L759.1 2166.9L759 2174L759.3 2180.2L759.9 2186.2L760.6 2192L761.3 2197.4L762.1 2202.2L763 2206.5L763.9 2210.7L764.6 2215.2L765.1 2220.8L765.5 2227L765.7 2232.6L765.9 2236.6Z" fill="#58bfe2"/>
<path d="M764 2196.4L762.2 2193.4L759.6 2189.1L756.9 2184.4L754.4 2180.6L752.4 2177.8L750.6 2175.5L748.8 2173.6L746.9 2171.7L744.7 2169.8L742.3 2168.1L740.2 2166.6L738.7 2165.6L738.2 2166.2L739.7 2167.3L741.7 2168.9L744 2170.7L746 2172.6L747.8 2174.5L749.4 2176.5L751 2178.8L752.8 2181.6L755 2185.5L757.4 2190.3L759.6 2194.8L761.1 2197.9Z" fill="#58bfe2"/>
<path d="M761.6 2173.6L762.8 2172.6L764.5 2171.4L766.5 2170L768.5 2168.4L770.4 2166.7L772.3 2164.8L774.1 2163L775.3 2161.7L774.8 2161.2L773.4 2162.3L771.5 2163.8L769.3 2165.5L767.3 2166.9L765.3 2168.1L763.2 2169.2L761.3 2170.1L759.9 2170.8Z" fill="#58bfe2"/>
<path d="M769.4 2206.3L769.6 2202.9L770 2198.1L770.6 2192.9L771.3 2188.4L772.3 2184.6L773.5 2181L774.6 2178L775.4 2175.9L774.7 2175.6L773.8 2177.7L772.5 2180.7L771.1 2184.2L769.8 2188.1L768.8 2192.6L767.9 2197.8L767.1 2202.6L766.4 2205.9Z" fill="#58bfe2"/>
<path d="M897.1 2286.8L897.6 2282L898.5 2275L899.4 2267.2L900.2 2259.9L900.7 2253.6L901.2 2247.5L901.5 2240.9L901.6 2232.9L901.2 2222.8L900.4 2211.3L899.7 2199.4L899.3 2188.2L899.4 2177.1L899.8 2165.8L900.3 2155.9L900.6 2149L899.5 2148.9L899 2155.8L898.3 2165.8L897.6 2177.1L897.2 2188.2L897.4 2199.5L897.9 2211.4L898.3 2222.9L898.5 2232.9L898.2 2240.8L897.7 2247.2L897.1 2253.2L896.3 2259.4L895.4 2266.7L894.2 2274.4L893.1 2281.3L892.3 2286.1Z" fill="#58bfe2"/>
<path d="M900.2 2237.5L898.4 2233.3L896 2227.1L893.2 2220.4L890.7 2214.5L888.5 2209.5L886.4 2204.9L884.1 2200.5L881.2 2196.5L877.6 2192.8L873.4 2189.5L869 2186.6L864.7 2184L860.2 2181.7L855.5 2179.8L851.3 2178.2L848.4 2177.1L848.1 2178L851 2179.2L855.1 2180.9L859.6 2182.9L864 2185.3L868.1 2188L872.3 2191L876.2 2194.3L879.6 2197.8L882.1 2201.7L884.2 2205.9L886 2210.6L888 2215.6L890.3 2221.6L892.7 2228.3L894.9 2234.6L896.4 2238.9Z" fill="#58bfe2"/>
<path d="M901.8 2231.8L903.3 2227.8L905.4 2222L907.9 2215.7L910.2 2210.2L912.2 2205.7L914.2 2201.5L916.3 2197.7L918.7 2194.2L921.4 2191.1L924.3 2188.3L927.5 2185.7L930.8 2183.5L934.6 2181.4L939 2179.6L943 2178.1L945.7 2177L945.4 2176.2L942.6 2177.2L938.6 2178.6L934.1 2180.3L930 2182.3L926.6 2184.5L923.2 2187L920.1 2189.8L917.1 2193L914.5 2196.5L912.2 2200.4L910 2204.6L907.8 2209.1L905.2 2214.6L902.5 2220.8L900 2226.5L898.3 2230.4Z" fill="#58bfe2"/>
<path d="M998.3 2308.2L998.9 2304.3L999.7 2298.7L1000.7 2292.4L1001.5 2286.7L1002.3 2281.8L1003.1 2277.1L1003.7 2272.2L1003.9 2266.8L1003.3 2261L1002.2 2254.9L1001.2 2248.6L1000.9 2241.8L1001.7 2233.6L1003.2 2224.3L1004.8 2215.7L1005.8 2209.7L1005 2209.6L1003.7 2215.5L1001.9 2224.1L1000.2 2233.4L999.2 2241.8L999.3 2248.8L1000.2 2255.2L1001.2 2261.2L1001.5 2266.8L1001.2 2271.9L1000.5 2276.6L999.5 2281.3L998.6 2286.2L997.6 2291.9L996.4 2298.1L995.4 2303.7L994.6 2307.6Z" fill="#58bfe2"/>
<path d="M1003.1 2269.4L1001.6 2267.5L999.4 2264.7L996.7 2261.6L993.7 2258.8L990.4 2256.4L986.8 2254L982.9 2251.9L978.9 2250L974.4 2248.4L969.4 2247L964.9 2245.8L961.8 2245L961.5 2245.7L964.6 2246.7L969.1 2248L973.9 2249.6L978.3 2251.4L982.1 2253.4L985.7 2255.7L989.1 2258.1L992.1 2260.5L994.8 2263.3L997.2 2266.4L999.1 2269.3L1000.5 2271.3Z" fill="#58bfe2"/>
<path d="M1004.1 2278.3L1005.4 2275.8L1007.1 2272.3L1009.2 2268.6L1011.5 2265.8L1014 2263.9L1017 2262.5L1020.3 2261.3L1023.4 2260.3L1026.8 2259.5L1030.3 2258.9L1033.6 2258.5L1035.8 2258.3L1035.7 2257.5L1033.5 2257.7L1030.2 2257.9L1026.6 2258.3L1023.1 2259L1019.8 2259.8L1016.4 2260.8L1013.1 2262.2L1010 2264.2L1007.3 2267.2L1004.8 2270.9L1002.8 2274.4L1001.3 2276.7Z" fill="#58bfe2"/>
<path d="M1000.5 2255.6L1001.4 2255.1L1002.6 2254.6L1004 2253.9L1005.6 2253.3L1007.6 2252.7L1009.9 2252L1012 2251.5L1013.5 2251L1013.4 2250.4L1011.8 2250.6L1009.6 2251L1007.3 2251.3L1005.2 2251.7L1003.5 2252.1L1001.9 2252.5L1000.5 2252.8L999.6 2253Z" fill="#58bfe2"/>
<path d="M1087.9 2314L1089.6 2309.2L1092 2302.2L1094.5 2294.3L1096.4 2286.8L1097.3 2279.9L1097.7 2273.1L1097.7 2266.4L1097.9 2259.7L1098 2253L1098 2246.3L1098 2239.6L1098.4 2233L1099.2 2226.1L1100.3 2219L1101.5 2212.2L1102.6 2206.2L1103.5 2200.9L1104.5 2196.1L1105.3 2192.1L1105.9 2189.2L1104.9 2189L1104.2 2191.8L1103.3 2195.8L1102.2 2200.6L1101.1 2205.9L1099.9 2211.9L1098.6 2218.7L1097.3 2225.8L1096.3 2232.8L1095.8 2239.5L1095.5 2246.2L1095.4 2252.9L1095.1 2259.6L1094.8 2266.3L1094.5 2273L1094 2279.6L1093 2286.1L1090.9 2293.2L1088.2 2300.8L1085.5 2307.7L1083.6 2312.4Z" fill="#58bfe2"/>
<path d="M1096.2 2262.1L1094.7 2260.1L1092.5 2257.1L1089.8 2253.6L1086.9 2249.8L1083.6 2245.7L1079.8 2241L1075.9 2236.4L1072.2 2232.2L1068.9 2228.6L1065.6 2225.4L1062.5 2222.5L1059.4 2219.8L1056.1 2217.4L1052.7 2215.1L1049.7 2213.3L1047.6 2212L1047.1 2212.7L1049.2 2214.1L1052.1 2216L1055.4 2218.4L1058.5 2220.9L1061.5 2223.6L1064.5 2226.6L1067.5 2229.9L1070.7 2233.5L1074.2 2237.8L1077.9 2242.6L1081.5 2247.3L1084.6 2251.6L1087.3 2255.4L1089.7 2259.1L1091.7 2262.1L1093.1 2264.3Z" fill="#58bfe2"/>
<path d="M1098.1 2240L1100.1 2239L1103.1 2237.5L1106.5 2235.8L1109.6 2233.9L1112.5 2231.7L1115.3 2229.3L1117.9 2226.8L1120.2 2224.5L1122.2 2222.3L1123.9 2220.2L1125.3 2218.4L1126.3 2217.1L1125.6 2216.5L1124.5 2217.7L1123 2219.4L1121.2 2221.4L1119.2 2223.4L1116.8 2225.5L1114 2227.8L1111.1 2230L1108.3 2231.8L1105.2 2233.3L1101.9 2234.7L1098.8 2235.7L1096.6 2236.5Z" fill="#58bfe2"/>
<path d="M1098.3 2278.1L1099.3 2274.7L1100.9 2269.8L1102.7 2264.6L1104.8 2260.3L1106.9 2257.2L1109.3 2254.4L1112 2252L1114.9 2249.8L1118.1 2247.8L1121.6 2246.2L1125.3 2244.7L1128.8 2243.4L1132.5 2242.1L1136.3 2241.1L1139.7 2240.2L1142.1 2239.6L1141.9 2238.7L1139.5 2239.2L1136.1 2240L1132.2 2240.9L1128.4 2242L1124.8 2243.2L1121 2244.6L1117.2 2246.2L1113.8 2248.1L1110.6 2250.3L1107.7 2252.7L1105 2255.6L1102.5 2259L1100.1 2263.5L1097.9 2268.7L1096 2273.6L1094.7 2276.9Z" fill="#58bfe2"/>
<path d="M1194 2242L1194.7 2232.3L1195.8 2218.5L1197 2203L1197.8 2188.3L1198.2 2174.6L1198.3 2160.6L1198.3 2147.1L1198.2 2134.7L1197.9 2122.7L1197.4 2111.2L1196.9 2101.4L1196.6 2094.5L1195.6 2094.5L1195.9 2101.4L1196.2 2111.2L1196.5 2122.7L1196.5 2134.7L1196.4 2147.1L1196.2 2160.6L1195.8 2174.5L1195.1 2188.2L1194 2202.8L1192.5 2218.2L1191.1 2232L1190 2241.6Z" fill="#58bfe2"/>
<path d="M1195.7 2156.6L1194.2 2157.7L1192.1 2159.2L1189.7 2160.6L1187.4 2161.5L1184.8 2161.6L1181.7 2161.2L1178.9 2160.6L1176.9 2160.2L1176.7 2160.9L1178.7 2161.4L1181.5 2162.3L1184.7 2163L1187.7 2163.2L1190.5 2162.5L1193.2 2161.2L1195.6 2159.9L1197.2 2159.1Z" fill="#58bfe2"/>
<path d="M1197.7 2134.1L1196.6 2132.1L1195 2129.3L1193.3 2126.2L1191.7 2123.6L1190.1 2121.6L1188.4 2119.8L1187 2118.5L1186 2117.5L1185.5 2117.9L1186.4 2119L1187.8 2120.5L1189.2 2122.3L1190.5 2124.3L1191.9 2126.9L1193.2 2130.1L1194.4 2133.1L1195.3 2135.2Z" fill="#58bfe2"/>
<path d="M1173.2 2281L1172.9 2273.9L1172.4 2263.6L1172 2252.3L1171.7 2241.8L1171.7 2232.5L1171.9 2223.4L1172.1 2214.6L1172.2 2206.1L1172.2 2197.4L1172.3 2188.7L1172.2 2181.1L1172.2 2175.7L1171.4 2175.7L1171.3 2181.1L1171.2 2188.7L1171 2197.4L1170.7 2206.1L1170.4 2214.5L1170 2223.4L1169.7 2232.5L1169.4 2241.8L1169.4 2252.3L1169.5 2263.7L1169.7 2274L1169.7 2281.1Z" fill="#58bfe2"/>
<path d="M1172.7 2237.7L1171.8 2236.3L1170.7 2234.4L1169.4 2232.3L1168.4 2230.8L1167.4 2229.9L1166.5 2229.4L1165.8 2229.2L1165.3 2229L1165.1 2229.6L1165.5 2229.8L1166.2 2230.1L1166.8 2230.6L1167.4 2231.4L1168.2 2233L1169 2235.2L1169.8 2237.3L1170.2 2238.8Z" fill="#58bfe2"/>
<path d="M1189.2 2201.4L1191.3 2201.1L1194.2 2200.9L1197.3 2200.8L1199.7 2201L1201.6 2201.5L1203.4 2202.4L1204.9 2203.3L1206 2203.9L1206.6 2202.9L1205.7 2202.1L1204.3 2201L1202.5 2199.7L1200.3 2198.7L1197.6 2198L1194.4 2197.4L1191.5 2196.9L1189.4 2196.5Z" fill="#58bfe2"/>
<path d="M701.9 2253.2L705.2 2251.3L710 2248.8L715.3 2245.9L720.4 2242.9L725.2 2239.5L730.3 2235.7L734.8 2232.2L737.9 2229.7L737.2 2228.9L734 2231.1L729.3 2234.3L724 2237.7L719 2240.7L713.9 2243.2L708.4 2245.6L703.5 2247.6L700 2249Z" fill="#f0523c"/>
<path d="M766.4 2245.3L766.2 2242.5L766 2238.4L765.7 2233.7L765.1 2229.1L764.2 2224.6L763.1 2220.1L761.8 2215.5L760.3 2211L758.5 2206.5L756.5 2202.1L754.5 2197.7L753 2193.3L752.1 2188.7L751.5 2183.9L751.2 2179L751 2174L751.3 2168.9L752 2163.7L752.6 2158.2L752.6 2152.5L751.5 2145.8L749.8 2138.5L748.1 2132L746.9 2127.4L746 2127.6L747.1 2132.2L748.7 2138.8L750.2 2146.1L751.1 2152.6L751 2158.1L750.3 2163.5L749.5 2168.7L749.1 2173.9L749.1 2179.1L749.3 2184.1L749.8 2189L750.7 2193.9L752.1 2198.6L754 2203.2L756 2207.6L757.6 2211.9L758.9 2216.4L760.1 2220.9L761 2225.3L761.7 2229.5L762.1 2234L762.3 2238.5L762.3 2242.6L762.3 2245.4Z" fill="#f0523c"/>
<path d="M760.4 2212.5L761.9 2210.2L764.3 2207L766.8 2203.3L769.1 2199.7L771.1 2196.3L773 2192.7L774.8 2189L776.1 2185L777 2180.5L777.6 2175.8L777.8 2171.1L777.7 2166.8L777.2 2162.8L776.4 2159.1L775.2 2155.7L773.8 2152.3L771.9 2148.7L769.4 2145.1L767.1 2142L765.6 2139.8L764.9 2140.3L766.4 2142.5L768.6 2145.7L770.9 2149.3L772.7 2152.8L774 2156.1L775 2159.5L775.6 2163.1L776 2166.8L776 2171.1L775.6 2175.6L775 2180.2L774 2184.4L772.6 2188.1L770.8 2191.5L768.8 2194.9L766.7 2198.2L764.4 2201.7L761.7 2205.2L759.3 2208.2L757.6 2210.4Z" fill="#f0523c"/>
<path d="M752.8 2182.9L751.4 2182.4L749.6 2181.6L747.4 2180.7L745.1 2180L742.7 2179.3L740 2178.8L737.6 2178.3L735.9 2177.9L735.6 2178.9L737.2 2179.4L739.6 2180.3L742.1 2181.2L744.3 2182.2L746.2 2183.3L748.1 2184.5L749.7 2185.6L750.9 2186.4Z" fill="#f0523c"/>
<path d="M772.7 2191.1L774.4 2189L776.7 2186.2L779.6 2183L782.9 2180.3L786.7 2177.7L791.1 2175.2L795.7 2173L800.3 2171.1L805.1 2169.6L810.2 2168.6L814.8 2167.8L818 2167.2L817.8 2166.4L814.6 2166.9L810 2167.5L804.8 2168.4L799.8 2169.7L795.1 2171.4L790.2 2173.5L785.6 2175.9L781.5 2178.3L777.9 2181.2L774.7 2184.3L772.1 2187L770.3 2188.9Z" fill="#f0523c"/>
<path d="M899.4 2264.8L898.9 2261.2L898.3 2256L897.4 2250.2L896.2 2244.9L894.5 2240.4L892.4 2236.3L890.3 2232.5L888.8 2228.9L887.9 2225.6L887.2 2222.7L886.9 2219.4L886.9 2215.1L887.5 2209.3L888.6 2202.4L889.6 2195.2L890.1 2188.2L889.7 2181.2L888.8 2174L887.8 2167.6L887.1 2163.2L886.2 2163.3L886.7 2167.8L887.6 2174.1L888.3 2181.3L888.5 2188.2L887.9 2195L886.6 2202.1L885.4 2209L884.6 2214.9L884.5 2219.5L884.7 2223L885.3 2226.2L886.3 2229.7L887.8 2233.7L889.7 2237.7L891.7 2241.7L893.1 2245.8L894.1 2250.8L894.7 2256.4L895.1 2261.6L895.4 2265.2Z" fill="#f0523c"/>
<path d="M887.7 2211.5L885 2210L881.1 2207.8L876.6 2205.3L872.1 2203L867.6 2201.2L862.9 2199.6L858.3 2198L854 2196.3L849.6 2194.3L845.2 2192.1L841.4 2190.1L838.7 2188.7L838.2 2189.5L840.8 2191.1L844.6 2193.3L848.9 2195.7L853.2 2198L857.6 2199.9L862.1 2201.7L866.7 2203.6L870.9 2205.6L875.1 2208L879.3 2210.7L883 2213.2L885.6 2215Z" fill="#f0523c"/>
<path d="M896 2245L898.3 2242.7L901.6 2239.6L905.3 2235.8L908.4 2232L910.7 2228.3L912.8 2224.5L914.5 2220.2L915.5 2215.2L915.7 2209L915.2 2201.9L914.4 2194.8L913.3 2188.1L911.8 2181.6L909.9 2175.2L908 2169.7L906.7 2165.8L905.9 2166L907 2170L908.7 2175.6L910.5 2182L911.8 2188.4L912.7 2195L913.3 2202.1L913.5 2209L913.2 2214.9L912.1 2219.5L910.5 2223.4L908.4 2226.8L906 2230.2L903 2233.7L899.3 2237.1L895.9 2240.1L893.4 2242.2Z" fill="#f0523c"/>
<path d="M914.7 2218L916.7 2215.5L919.5 2212.1L922.7 2208.3L925.8 2205.1L928.8 2202.5L931.8 2200L934.9 2197.8L937.8 2196L941 2194.8L944.2 2194L947.2 2193.5L949.2 2193.1L949.1 2192.3L947 2192.6L944 2192.9L940.6 2193.6L937.2 2194.7L934 2196.4L930.8 2198.5L927.5 2200.9L924.3 2203.5L920.9 2206.6L917.4 2210.2L914.3 2213.4L912.1 2215.6Z" fill="#f0523c"/>
<path d="M980.5 2309.6L980.2 2305.3L979.8 2299.2L979.2 2292.4L978.2 2286.1L976.4 2280.9L974 2276.2L971.9 2271.7L970.7 2266.7L970.9 2260.9L971.9 2254.4L973.2 2247.9L974 2241.9L974 2236.2L973.6 2230.8L973.1 2226.2L972.8 2223L971.9 2223.1L972.1 2226.3L972.5 2230.9L972.7 2236.2L972.6 2241.7L971.7 2247.6L970.2 2254.1L969 2260.7L968.6 2266.9L969.8 2272.4L971.8 2277.2L974 2281.9L975.5 2286.8L976.2 2292.7L976.5 2299.4L976.7 2305.5L976.7 2309.7Z" fill="#f0523c"/>
<path d="M971.7 2265.5L969.2 2263.6L965.6 2260.9L961.6 2257.9L957.7 2255.3L953.7 2253.2L949.5 2251.3L945.7 2249.7L943.1 2248.6L942.7 2249.3L945.3 2250.6L948.9 2252.4L953 2254.6L956.7 2256.9L960.2 2259.7L963.9 2262.9L967.2 2266L969.4 2268.1Z" fill="#f0523c"/>
<path d="M977.9 2282.5L980.2 2280.5L983.6 2277.8L987.2 2274.6L990.3 2271.2L992.7 2267.8L994.8 2264.2L996.4 2260.3L997.4 2256.2L997.7 2251.8L997.2 2247L996.4 2242.3L995.3 2238L993.8 2234L991.9 2230.2L990.1 2226.9L988.8 2224.6L988.1 2225L989.3 2227.4L991 2230.7L992.7 2234.5L994 2238.4L994.9 2242.6L995.6 2247.2L995.8 2251.8L995.5 2255.9L994.4 2259.6L992.8 2263.1L990.7 2266.5L988.3 2269.5L985.3 2272.5L981.7 2275.4L978.2 2277.9L975.8 2279.7Z" fill="#f0523c"/>
<path d="M997.2 2257.4L999.4 2255.9L1002.5 2253.8L1006 2251.6L1009.3 2249.7L1012.6 2248.2L1016.2 2246.8L1019.4 2245.6L1021.6 2244.8L1021.4 2244.1L1019.1 2244.8L1015.8 2245.7L1012.1 2246.9L1008.6 2248.2L1005.1 2249.9L1001.4 2251.8L998 2253.6L995.7 2254.8Z" fill="#f0523c"/>
<path d="M1082.4 2327.6L1082.5 2321.6L1082.7 2312.8L1082.8 2303.4L1082.7 2295.3L1082.1 2289.2L1081.3 2283.9L1080.4 2279L1079.7 2273.8L1079.2 2268.1L1078.8 2262.2L1078.5 2256.3L1078.5 2250.7L1078.7 2245.2L1079.1 2239.5L1079.6 2234.6L1080 2231.1L1079 2231L1078.6 2234.5L1078 2239.4L1077.4 2245.1L1077 2250.7L1076.9 2256.3L1077 2262.3L1077.2 2268.2L1077.6 2274L1078.1 2279.3L1078.9 2284.3L1079.6 2289.4L1079.9 2295.4L1079.8 2303.4L1079.3 2312.7L1078.8 2321.4L1078.4 2327.4Z" fill="#f0523c"/>
<path d="M1079.5 2276L1077.5 2274.9L1074.6 2273.4L1071.5 2271.5L1068.7 2269.5L1066.2 2267.2L1063.8 2264.5L1061.6 2261.7L1059.5 2259.2L1057.8 2256.9L1056.2 2254.7L1054.9 2252.8L1054 2251.4L1053.3 2251.8L1054.1 2253.3L1055.3 2255.3L1056.7 2257.6L1058.4 2260.1L1060.3 2262.7L1062.4 2265.7L1064.7 2268.6L1067.1 2271.2L1069.9 2273.6L1073 2275.8L1075.8 2277.7L1077.7 2279Z" fill="#f0523c"/>
<path d="M1083.7 2296L1084.9 2292.6L1086.7 2287.8L1088.7 2282.6L1090.3 2277.9L1091.5 2274L1092.5 2270.4L1093.2 2266.9L1093.6 2263.3L1093.4 2259.3L1092.7 2255.1L1092 2251.4L1091.5 2248.9L1090.7 2249L1091.1 2251.6L1091.7 2255.3L1092.2 2259.4L1092.2 2263.2L1091.7 2266.6L1090.9 2269.9L1089.7 2273.4L1088.4 2277.2L1086.5 2281.7L1084.3 2286.8L1082.2 2291.5L1080.7 2294.8Z" fill="#f0523c"/>
<path d="M1078.9 2252.3L1080.5 2251.9L1082.8 2251.3L1085.5 2250.6L1087.8 2249.8L1089.9 2248.8L1091.9 2247.6L1093.7 2246.5L1094.9 2245.7L1094.5 2245L1093.2 2245.6L1091.4 2246.5L1089.3 2247.4L1087.3 2248.1L1085 2248.5L1082.4 2248.9L1080 2249L1078.3 2249.1Z" fill="#f0523c"/>
<path d="M1204.2 2211.3L1203.5 2203.8L1202.5 2193.1L1201.6 2181.2L1201 2170.4L1200.9 2160.9L1201.2 2151.7L1201.5 2142.9L1201.5 2134.7L1201.2 2126.7L1200.5 2119L1199.9 2112.4L1199.5 2107.8L1198.8 2107.9L1199.1 2112.5L1199.6 2119.1L1200.1 2126.7L1200.3 2134.7L1200.1 2142.8L1199.7 2151.6L1199.2 2160.8L1199.1 2170.4L1199.5 2181.3L1200.1 2193.2L1200.8 2204L1201.2 2211.6Z" fill="#f0523c"/>
<path d="M1167.9 2295.3L1167.5 2288.8L1167 2279.4L1166.6 2269L1166.3 2259.7L1166.4 2251.5L1166.6 2243.6L1166.8 2236.1L1166.8 2229.3L1166.4 2223L1165.8 2217.1L1165.2 2212.2L1164.7 2208.7L1163.9 2208.8L1164.3 2212.3L1164.8 2217.2L1165.2 2223L1165.4 2229.3L1165.3 2236.1L1164.9 2243.5L1164.4 2251.4L1164.1 2259.7L1164.1 2269.1L1164.2 2279.5L1164.3 2288.9L1164.4 2295.4Z" fill="#f0523c"/>
<path d="M1164.9 2249.7L1163.4 2251.2L1161.2 2253.4L1158.8 2255.6L1156.8 2257.4L1155.2 2258.5L1153.8 2259.3L1152.6 2259.8L1151.7 2260.3L1152 2260.8L1152.9 2260.5L1154.1 2260.1L1155.7 2259.4L1157.5 2258.4L1159.8 2256.8L1162.4 2254.9L1164.9 2253L1166.6 2251.8Z" fill="#f0523c"/>
<path d="M1191 2195.2L1192.4 2195.1L1194.3 2195L1196.3 2195L1197.9 2195.3L1199.2 2196L1200.5 2197.2L1201.6 2198.4L1202.4 2199.2L1203 2198.7L1202.3 2197.8L1201.4 2196.4L1200.1 2194.9L1198.6 2193.7L1196.7 2193L1194.5 2192.5L1192.5 2192.2L1191.2 2192Z" fill="#f0523c"/>
<path d="M701.83 2262.34C704.8 2259.81 713.73 2251.32 719.69 2247.16C725.64 2242.99 730.1 2239.27 737.54 2237.34C744.98 2235.4 756.29 2233.62 764.33 2235.55C772.36 2237.48 778.32 2244.03 785.76 2248.94C793.2 2253.85 800.64 2259.66 808.97 2265.01C817.3 2270.37 825.34 2277.07 835.76 2281.09C846.17 2285.1 859.57 2287.34 871.47 2289.12C883.38 2290.91 895.28 2290.61 907.19 2291.8C919.09 2292.99 928.61 2293.44 942.9 2296.26C957.19 2299.09 983.97 2306.23 992.9 2308.76C1001.83 2311.29 986.95 2310.7 996.47 2311.44C1006 2312.19 1035.16 2312.04 1050.04 2313.23C1064.92 2314.42 1075.34 2316.2 1085.76 2318.59C1096.17 2320.97 1103.61 2324.09 1112.54 2327.51C1121.47 2330.94 1131.89 2336.59 1139.33 2339.12C1146.77 2341.65 1152.87 2343.44 1157.19 2342.69C1161.5 2341.95 1164.03 2339.57 1165.22 2334.66C1166.41 2329.75 1162.69 2320.37 1164.33 2313.23C1165.97 2306.09 1170.88 2298.35 1175.04 2291.8C1179.21 2285.25 1186.5 2282.28 1189.33 2273.94C1192.16 2265.61 1191.11 2253.11 1192.01 2241.8C1192.9 2230.49 1194.24 2212.04 1194.69 2206.09" fill="none" stroke="#58bfe2" stroke-width="5.2" stroke-linecap="round" stroke-linejoin="round" />
<path d="M700.94 2251.09C704.06 2250.28 712.1 2247.22 719.69 2246.26C727.27 2245.31 737.54 2244.78 746.47 2245.37C755.4 2245.97 764.33 2247.01 773.26 2249.84C782.19 2252.66 791.11 2258.62 800.04 2262.34C808.97 2266.06 814.92 2269.93 826.83 2272.16C838.73 2274.39 859.57 2274.54 871.47 2275.73C883.38 2276.92 889.33 2277.22 898.26 2279.3C907.19 2281.38 914.63 2284.81 925.04 2288.23C935.46 2291.65 949.45 2296.26 960.76 2299.84C972.07 2303.41 983.97 2306.53 992.9 2309.66C1001.83 2312.78 1004.8 2315.76 1014.33 2318.59C1023.85 2321.41 1035.16 2324.78 1050.04 2326.62C1064.92 2328.47 1087.25 2328.97 1103.61 2329.66C1119.98 2330.34 1137.84 2331.09 1148.26 2330.73C1158.67 2330.37 1162.54 2329.84 1166.11 2327.51C1169.69 2325.19 1169.69 2322.16 1169.69 2316.8C1169.69 2311.44 1165.52 2300.73 1166.11 2295.37C1166.71 2290.01 1168.79 2288.53 1173.26 2284.66C1177.72 2280.79 1188.44 2279.3 1192.9 2272.16C1197.36 2265.01 1198.41 2251.92 1200.04 2241.8C1201.68 2231.68 1202.27 2216.5 1202.72 2211.44" fill="none" stroke="#f0523c" stroke-width="4.2" stroke-linecap="round" stroke-linejoin="round" />
<ellipse cx="931" cy="2069.5" rx="98" ry="21.5" fill="#e9ebe8"/>
<g fill="#ffffff" stroke="#c9ccc6" stroke-width="0.5"><ellipse cx="871.65" cy="2057.51" rx="5.39" ry="2.14" transform="rotate(19.19 871.65 2057.51)"/><ellipse cx="945.42" cy="2067.89" rx="4.4" ry="2.14" transform="rotate(11.92 945.42 2067.89)"/><ellipse cx="957.18" cy="2065.56" rx="4.41" ry="1.45" transform="rotate(3.5 957.18 2065.56)"/><ellipse cx="921.16" cy="2068.48" rx="3.65" ry="1.48" transform="rotate(33.31 921.16 2068.48)"/><ellipse cx="934.69" cy="2061.55" rx="5.39" ry="1.34" transform="rotate(9.4 934.69 2061.55)"/><ellipse cx="933.83" cy="2070.1" rx="5.61" ry="1.41" transform="rotate(-22.76 933.83 2070.1)"/><ellipse cx="1020.09" cy="2067.38" rx="3.87" ry="2.16" transform="rotate(3.14 1020.09 2067.38)"/><ellipse cx="911.88" cy="2061.37" rx="5.82" ry="1.89" transform="rotate(37.33 911.88 2061.37)"/><ellipse cx="972.12" cy="2062.71" rx="4.08" ry="1.37" transform="rotate(-28.34 972.12 2062.71)"/><ellipse cx="979.35" cy="2073.87" rx="4.81" ry="1.2" transform="rotate(14.23 979.35 2073.87)"/><ellipse cx="903.01" cy="2078.99" rx="5.46" ry="1.68" transform="rotate(-14.74 903.01 2078.99)"/><ellipse cx="850.99" cy="2071.5" rx="3.17" ry="2.18" transform="rotate(-38.17 850.99 2071.5)"/><ellipse cx="930.68" cy="2051.12" rx="3.05" ry="1.99" transform="rotate(-10.71 930.68 2051.12)"/><ellipse cx="922.94" cy="2068.6" rx="3.14" ry="1.38" transform="rotate(36.41 922.94 2068.6)"/><ellipse cx="958.57" cy="2085.91" rx="5.79" ry="2.14" transform="rotate(-12.45 958.57 2085.91)"/><ellipse cx="888.51" cy="2080.97" rx="5.33" ry="1.31" transform="rotate(19.87 888.51 2080.97)"/><ellipse cx="956.81" cy="2051.75" rx="3.11" ry="2.15" transform="rotate(-32.71 956.81 2051.75)"/><ellipse cx="890.57" cy="2082.67" rx="5.75" ry="1.54" transform="rotate(33.94 890.57 2082.67)"/><ellipse cx="879.46" cy="2066.39" rx="3.95" ry="1.38" transform="rotate(-33.74 879.46 2066.39)"/><ellipse cx="978.33" cy="2082.86" rx="5.99" ry="1.36" transform="rotate(-36.12 978.33 2082.86)"/><ellipse cx="1000.86" cy="2068.23" rx="4.22" ry="1.44" transform="rotate(7.52 1000.86 2068.23)"/><ellipse cx="960.74" cy="2057.5" rx="4.27" ry="1.26" transform="rotate(33.29 960.74 2057.5)"/><ellipse cx="997.03" cy="2072.37" rx="5.52" ry="1.33" transform="rotate(18.53 997.03 2072.37)"/><ellipse cx="1003.39" cy="2064.53" rx="5.36" ry="1.31" transform="rotate(-5.24 1003.39 2064.53)"/><ellipse cx="983.23" cy="2084.31" rx="3.88" ry="1.65" transform="rotate(39.94 983.23 2084.31)"/><ellipse cx="987.62" cy="2053.65" rx="4.36" ry="1.69" transform="rotate(18.36 987.62 2053.65)"/><ellipse cx="879.67" cy="2070.93" rx="4.21" ry="1.35" transform="rotate(-9.84 879.67 2070.93)"/><ellipse cx="1024.78" cy="2068.01" rx="4.88" ry="1.7" transform="rotate(-12.92 1024.78 2068.01)"/><ellipse cx="973.45" cy="2075.04" rx="5.35" ry="2.07" transform="rotate(-11.09 973.45 2075.04)"/><ellipse cx="949.76" cy="2052.33" rx="5.08" ry="1.86" transform="rotate(20.77 949.76 2052.33)"/><ellipse cx="878.38" cy="2082.21" rx="3.84" ry="1.69" transform="rotate(21.58 878.38 2082.21)"/><ellipse cx="912" cy="2059.41" rx="5.84" ry="1.85" transform="rotate(6.45 912 2059.41)"/><ellipse cx="1001.81" cy="2070.57" rx="3.75" ry="1.87" transform="rotate(-2.96 1001.81 2070.57)"/><ellipse cx="962.24" cy="2054.78" rx="5.39" ry="1.55" transform="rotate(11.53 962.24 2054.78)"/><ellipse cx="924.12" cy="2051.36" rx="4.05" ry="2.04" transform="rotate(29.59 924.12 2051.36)"/><ellipse cx="894.97" cy="2051.22" rx="5.87" ry="1.72" transform="rotate(2.35 894.97 2051.22)"/><ellipse cx="975.18" cy="2085.31" rx="5.81" ry="1.68" transform="rotate(15.31 975.18 2085.31)"/><ellipse cx="915.28" cy="2052.72" rx="3.52" ry="1.98" transform="rotate(6.47 915.28 2052.72)"/><ellipse cx="899.37" cy="2058.32" rx="4.87" ry="1.97" transform="rotate(10.95 899.37 2058.32)"/><ellipse cx="928.02" cy="2066.23" rx="3.48" ry="1.64" transform="rotate(12.01 928.02 2066.23)"/><ellipse cx="946.42" cy="2085.75" rx="4.89" ry="1.24" transform="rotate(-2.27 946.42 2085.75)"/><ellipse cx="934.34" cy="2074.1" rx="3.4" ry="1.52" transform="rotate(-25.48 934.34 2074.1)"/><ellipse cx="937.33" cy="2073.04" rx="4.4" ry="1.58" transform="rotate(8.94 937.33 2073.04)"/><ellipse cx="891.45" cy="2064.28" rx="5.71" ry="1.2" transform="rotate(-7.57 891.45 2064.28)"/><ellipse cx="920.09" cy="2082.1" rx="3.35" ry="2.03" transform="rotate(-10.09 920.09 2082.1)"/><ellipse cx="1004.28" cy="2073.02" rx="3.28" ry="1.75" transform="rotate(-12.85 1004.28 2073.02)"/><ellipse cx="848.82" cy="2060" rx="5.46" ry="1.62" transform="rotate(25.04 848.82 2060)"/><ellipse cx="894.37" cy="2060.04" rx="3.43" ry="1.8" transform="rotate(5.11 894.37 2060.04)"/><ellipse cx="1021.98" cy="2064.22" rx="4.83" ry="1.55" transform="rotate(31.48 1021.98 2064.22)"/><ellipse cx="962.54" cy="2069.54" rx="4.7" ry="1.82" transform="rotate(-28.74 962.54 2069.54)"/><ellipse cx="868.6" cy="2055.81" rx="4.13" ry="1.63" transform="rotate(-21.89 868.6 2055.81)"/><ellipse cx="906.68" cy="2088.56" rx="4.14" ry="2.16" transform="rotate(33.1 906.68 2088.56)"/><ellipse cx="890.62" cy="2063.74" rx="5.94" ry="1.7" transform="rotate(-6.76 890.62 2063.74)"/><ellipse cx="891" cy="2087.51" rx="4.48" ry="1.49" transform="rotate(-1.85 891 2087.51)"/><ellipse cx="985.58" cy="2080.43" rx="4.33" ry="1.49" transform="rotate(22.54 985.58 2080.43)"/><ellipse cx="936.09" cy="2067.46" rx="4.6" ry="1.47" transform="rotate(34.82 936.09 2067.46)"/><ellipse cx="940.36" cy="2059.78" rx="3.8" ry="1.35" transform="rotate(39.11 940.36 2059.78)"/><ellipse cx="911" cy="2084.53" rx="4.42" ry="1.84" transform="rotate(8.31 911 2084.53)"/><ellipse cx="929.57" cy="2062.63" rx="5.28" ry="1.5" transform="rotate(2.68 929.57 2062.63)"/><ellipse cx="904.11" cy="2078.85" rx="4.59" ry="1.66" transform="rotate(-11.12 904.11 2078.85)"/><ellipse cx="928.52" cy="2054.14" rx="3.11" ry="1.45" transform="rotate(-3.55 928.52 2054.14)"/><ellipse cx="1009.18" cy="2060.02" rx="4.64" ry="1.21" transform="rotate(22.27 1009.18 2060.02)"/><ellipse cx="865.59" cy="2076.17" rx="5.12" ry="1.83" transform="rotate(-1.45 865.59 2076.17)"/><ellipse cx="981.57" cy="2062.93" rx="4.18" ry="2.05" transform="rotate(-24.28 981.57 2062.93)"/><ellipse cx="905.91" cy="2086.96" rx="3.2" ry="2.04" transform="rotate(15.57 905.91 2086.96)"/><ellipse cx="884.17" cy="2073.9" rx="5.34" ry="2.11" transform="rotate(-28.59 884.17 2073.9)"/><ellipse cx="860.53" cy="2071.53" rx="4.49" ry="1.53" transform="rotate(-27.72 860.53 2071.53)"/><ellipse cx="856.7" cy="2060.27" rx="3.21" ry="1.43" transform="rotate(25.57 856.7 2060.27)"/><ellipse cx="951.09" cy="2053.75" rx="3.08" ry="1.92" transform="rotate(38.29 951.09 2053.75)"/><ellipse cx="1011.38" cy="2069.27" rx="3.15" ry="2.04" transform="rotate(-22.46 1011.38 2069.27)"/><ellipse cx="873.77" cy="2054.05" rx="5.14" ry="1.33" transform="rotate(-16.6 873.77 2054.05)"/><ellipse cx="963.27" cy="2065.67" rx="4.83" ry="1.61" transform="rotate(-27.11 963.27 2065.67)"/><ellipse cx="916.58" cy="2066.6" rx="3.32" ry="1.58" transform="rotate(-34.24 916.58 2066.6)"/><ellipse cx="999.11" cy="2074.86" rx="5.23" ry="2.08" transform="rotate(-29.25 999.11 2074.86)"/><ellipse cx="882.07" cy="2074.18" rx="4.8" ry="1.69" transform="rotate(35.08 882.07 2074.18)"/><ellipse cx="915.07" cy="2072.86" rx="5.09" ry="1.35" transform="rotate(10.51 915.07 2072.86)"/><ellipse cx="839.46" cy="2068.83" rx="4.66" ry="1.82" transform="rotate(-18.94 839.46 2068.83)"/><ellipse cx="885.1" cy="2066.3" rx="5.25" ry="1.72" transform="rotate(-29.3 885.1 2066.3)"/><ellipse cx="936.76" cy="2081.63" rx="5.21" ry="1.38" transform="rotate(17.06 936.76 2081.63)"/><ellipse cx="915.2" cy="2064.68" rx="5" ry="1.29" transform="rotate(-30.02 915.2 2064.68)"/><ellipse cx="892" cy="2064.08" rx="5.63" ry="1.68" transform="rotate(-14.14 892 2064.08)"/><ellipse cx="935.7" cy="2066.21" rx="5.18" ry="1.25" transform="rotate(-27.94 935.7 2066.21)"/><ellipse cx="1006.59" cy="2064.55" rx="3.67" ry="1.32" transform="rotate(37.82 1006.59 2064.55)"/><ellipse cx="886.6" cy="2053.92" rx="3.42" ry="1.82" transform="rotate(-11.66 886.6 2053.92)"/><ellipse cx="936.25" cy="2080.99" rx="4.84" ry="1.55" transform="rotate(-9.14 936.25 2080.99)"/><ellipse cx="988.32" cy="2083.28" rx="4.94" ry="2" transform="rotate(-5.33 988.32 2083.28)"/><ellipse cx="971.99" cy="2057.92" rx="4.78" ry="1.77" transform="rotate(19.21 971.99 2057.92)"/><ellipse cx="907.34" cy="2073.31" rx="3.1" ry="1.4" transform="rotate(-36.84 907.34 2073.31)"/><ellipse cx="981.98" cy="2060.58" rx="5.28" ry="1.2" transform="rotate(-2.39 981.98 2060.58)"/><ellipse cx="989.01" cy="2059.41" rx="4.29" ry="1.67" transform="rotate(-32.02 989.01 2059.41)"/><ellipse cx="952.6" cy="2076.09" rx="4.12" ry="1.59" transform="rotate(30.43 952.6 2076.09)"/><ellipse cx="958.94" cy="2077.73" rx="3.83" ry="1.36" transform="rotate(-17.04 958.94 2077.73)"/><ellipse cx="937.25" cy="2083.32" rx="3.1" ry="2.12" transform="rotate(-10.48 937.25 2083.32)"/><ellipse cx="1004.54" cy="2063.15" rx="5.02" ry="1.67" transform="rotate(35.63 1004.54 2063.15)"/><ellipse cx="988.94" cy="2080.53" rx="3.87" ry="1.87" transform="rotate(18.34 988.94 2080.53)"/><ellipse cx="953.34" cy="2077.16" rx="3.07" ry="1.43" transform="rotate(-33.74 953.34 2077.16)"/><ellipse cx="854.06" cy="2081.01" rx="4.09" ry="1.51" transform="rotate(-2.56 854.06 2081.01)"/><ellipse cx="914.09" cy="2086.25" rx="5.15" ry="1.36" transform="rotate(-20.76 914.09 2086.25)"/><ellipse cx="887.1" cy="2052.4" rx="4.94" ry="1.63" transform="rotate(38.03 887.1 2052.4)"/><ellipse cx="954.67" cy="2069.69" rx="5.34" ry="1.61" transform="rotate(-36.4 954.67 2069.69)"/><ellipse cx="839.84" cy="2063.57" rx="4.56" ry="1.55" transform="rotate(-32.49 839.84 2063.57)"/><ellipse cx="1013.06" cy="2077.7" rx="4.47" ry="2.14" transform="rotate(-35.7 1013.06 2077.7)"/><ellipse cx="931.9" cy="2073.99" rx="4.19" ry="1.26" transform="rotate(-19.57 931.9 2073.99)"/><ellipse cx="886.66" cy="2075.59" rx="3.15" ry="1.24" transform="rotate(37.73 886.66 2075.59)"/><ellipse cx="960.43" cy="2082.38" rx="4.21" ry="1.73" transform="rotate(-33.25 960.43 2082.38)"/><ellipse cx="918.7" cy="2075.55" rx="4.63" ry="2.12" transform="rotate(7.86 918.7 2075.55)"/><ellipse cx="958.54" cy="2062.23" rx="3.05" ry="1.74" transform="rotate(-1.08 958.54 2062.23)"/><ellipse cx="877.87" cy="2064.2" rx="4.88" ry="1.93" transform="rotate(33.04 877.87 2064.2)"/><ellipse cx="908.28" cy="2082.04" rx="5.48" ry="1.42" transform="rotate(-30.75 908.28 2082.04)"/><ellipse cx="920.28" cy="2074.98" rx="5.32" ry="2.02" transform="rotate(-14.97 920.28 2074.98)"/><ellipse cx="949.85" cy="2073.67" rx="3.73" ry="1.28" transform="rotate(-5.71 949.85 2073.67)"/><ellipse cx="888.86" cy="2064.91" rx="3.18" ry="1.9" transform="rotate(-36.16 888.86 2064.91)"/><ellipse cx="946.94" cy="2079.67" rx="4.12" ry="1.3" transform="rotate(-6.35 946.94 2079.67)"/><ellipse cx="898.52" cy="2085.47" rx="4.67" ry="2.1" transform="rotate(12.33 898.52 2085.47)"/><ellipse cx="935.27" cy="2054.36" rx="4.33" ry="2.02" transform="rotate(12.44 935.27 2054.36)"/><ellipse cx="1009.55" cy="2064.67" rx="5.1" ry="1.47" transform="rotate(24.97 1009.55 2064.67)"/><ellipse cx="905.42" cy="2074.37" rx="3.2" ry="1.37" transform="rotate(-18.99 905.42 2074.37)"/><ellipse cx="907.87" cy="2059.96" rx="3.19" ry="1.96" transform="rotate(4.58 907.87 2059.96)"/><ellipse cx="952.28" cy="2070.27" rx="3.39" ry="1.56" transform="rotate(28.78 952.28 2070.27)"/><ellipse cx="1002.24" cy="2064.55" rx="3.69" ry="1.63" transform="rotate(-11.01 1002.24 2064.55)"/><ellipse cx="925.83" cy="2071.45" rx="4.75" ry="2.03" transform="rotate(18.15 925.83 2071.45)"/><ellipse cx="988.76" cy="2077.71" rx="3.51" ry="1.91" transform="rotate(-4.3 988.76 2077.71)"/><ellipse cx="1010.18" cy="2062.73" rx="3.35" ry="1.52" transform="rotate(33.2 1010.18 2062.73)"/><ellipse cx="869.66" cy="2072.72" rx="4.32" ry="1.97" transform="rotate(34.9 869.66 2072.72)"/><ellipse cx="838.41" cy="2065.53" rx="4.79" ry="1.3" transform="rotate(25.14 838.41 2065.53)"/><ellipse cx="911.81" cy="2071.72" rx="5.93" ry="1.23" transform="rotate(6.16 911.81 2071.72)"/><ellipse cx="841.44" cy="2071.65" rx="4.18" ry="1.42" transform="rotate(-17.84 841.44 2071.65)"/><ellipse cx="952.79" cy="2083.8" rx="4.07" ry="1.95" transform="rotate(-20.68 952.79 2083.8)"/><ellipse cx="902.5" cy="2077.5" rx="5.95" ry="2.04" transform="rotate(27.99 902.5 2077.5)"/><ellipse cx="886.13" cy="2060.96" rx="3.43" ry="2.03" transform="rotate(-0.79 886.13 2060.96)"/><ellipse cx="969.42" cy="2071.43" rx="3.3" ry="1.92" transform="rotate(32.01 969.42 2071.43)"/><ellipse cx="957.89" cy="2086.45" rx="3.97" ry="1.88" transform="rotate(29.05 957.89 2086.45)"/><ellipse cx="869.43" cy="2057.03" rx="4.13" ry="1.21" transform="rotate(0.94 869.43 2057.03)"/><ellipse cx="895.67" cy="2065.06" rx="4.17" ry="1.52" transform="rotate(-37.84 895.67 2065.06)"/><ellipse cx="908.47" cy="2080.95" rx="4.43" ry="1.9" transform="rotate(-8.07 908.47 2080.95)"/><ellipse cx="1017.13" cy="2067.45" rx="5.77" ry="1.89" transform="rotate(13.61 1017.13 2067.45)"/><ellipse cx="847.45" cy="2065.44" rx="4.09" ry="1.79" transform="rotate(14.36 847.45 2065.44)"/><ellipse cx="880.31" cy="2068.03" rx="3.23" ry="1.29" transform="rotate(-11.53 880.31 2068.03)"/><ellipse cx="857.71" cy="2061.09" rx="5.14" ry="1.51" transform="rotate(34.34 857.71 2061.09)"/><ellipse cx="918.56" cy="2086.22" rx="3.22" ry="1.95" transform="rotate(13.6 918.56 2086.22)"/><ellipse cx="1018.54" cy="2064.38" rx="5.06" ry="2.04" transform="rotate(19.09 1018.54 2064.38)"/><ellipse cx="897.32" cy="2063.65" rx="4.55" ry="2.1" transform="rotate(-20.87 897.32 2063.65)"/><ellipse cx="1000.87" cy="2067.12" rx="4.18" ry="1.2" transform="rotate(-8.79 1000.87 2067.12)"/><ellipse cx="964.89" cy="2084.04" rx="5.7" ry="2.11" transform="rotate(9.08 964.89 2084.04)"/><ellipse cx="907.04" cy="2073.82" rx="5.07" ry="1.75" transform="rotate(17.22 907.04 2073.82)"/><ellipse cx="867.55" cy="2082.92" rx="3.64" ry="1.51" transform="rotate(-18.59 867.55 2082.92)"/><ellipse cx="865.44" cy="2056.37" rx="3.5" ry="1.83" transform="rotate(21.32 865.44 2056.37)"/><ellipse cx="934.83" cy="2074.44" rx="4.7" ry="2.03" transform="rotate(30.29 934.83 2074.44)"/><ellipse cx="922.33" cy="2056.71" rx="4.28" ry="1.73" transform="rotate(32.38 922.33 2056.71)"/><ellipse cx="914.62" cy="2079.53" rx="4.82" ry="2.17" transform="rotate(-25.02 914.62 2079.53)"/></g>
<g><path d="M881.93 2084.6C881.93 2085.84 880.06 2086.97 879.66 2088.32C879.27 2089.66 880.23 2091.63 879.56 2092.67C878.89 2093.72 876.7 2093.65 875.64 2094.57C874.58 2095.49 874.33 2097.67 873.2 2098.19C872.08 2098.7 870.27 2097.46 868.88 2097.66C867.49 2097.86 866.1 2099.56 864.87 2099.38C863.65 2099.21 862.79 2097.19 861.52 2096.6C860.24 2096.02 858.16 2096.7 857.22 2095.89C856.28 2095.08 856.66 2092.91 855.9 2091.73C855.14 2090.55 853.02 2090 852.67 2088.81C852.32 2087.62 853.8 2086 853.8 2084.6C853.8 2083.2 852.32 2081.58 852.67 2080.39C853.02 2079.2 855.14 2078.65 855.9 2077.47C856.66 2076.29 856.28 2074.12 857.22 2073.31C858.16 2072.5 860.24 2073.18 861.52 2072.6C862.79 2072.01 863.65 2069.99 864.87 2069.82C866.1 2069.64 867.49 2071.34 868.88 2071.54C870.27 2071.74 872.08 2070.5 873.2 2071.01C874.33 2071.53 874.58 2073.71 875.64 2074.63C876.7 2075.55 878.89 2075.48 879.56 2076.53C880.23 2077.57 879.27 2079.54 879.66 2080.88C880.06 2082.23 881.93 2083.36 881.93 2084.6Z" fill="#d9cbe0"/><g fill="#fbf8fa" opacity="0.55"><circle cx="871.05" cy="2091.44" r="2.48"/><circle cx="863.54" cy="2085.06" r="2.66"/><circle cx="869.22" cy="2078.72" r="2.33"/><circle cx="867.13" cy="2086.07" r="2.17"/><circle cx="865.19" cy="2083.53" r="2.66"/><circle cx="867.41" cy="2088.22" r="1.79"/><circle cx="875.41" cy="2084.44" r="2.76"/><circle cx="865.68" cy="2083.42" r="2.12"/><circle cx="864.46" cy="2084.64" r="2.84"/><circle cx="865.03" cy="2086.74" r="2.69"/><circle cx="874.22" cy="2091.8" r="2.27"/><circle cx="862.56" cy="2083.11" r="2.3"/><circle cx="867.7" cy="2086.26" r="2.74"/><circle cx="867.84" cy="2093.36" r="1.98"/></g></g>
<g><path d="M925.9 2079.15C928.59 2079.01 932.7 2078.72 935.25 2080C937.8 2081.28 940.35 2084.25 941.2 2086.8C942.05 2089.35 940.07 2092.75 940.35 2095.3C940.63 2097.85 943.33 2099.83 942.9 2102.1C942.47 2104.37 939.64 2107.62 937.8 2108.9C935.96 2110.18 933.55 2108.62 931.85 2109.75C930.15 2110.88 929.58 2115.13 927.6 2115.7C925.62 2116.27 921.93 2114.57 919.95 2113.15C917.97 2111.73 917.54 2108.62 915.7 2107.2C913.86 2105.78 909.75 2106.35 908.9 2104.65C908.05 2102.95 909.89 2099.41 910.6 2097C911.31 2094.59 912.87 2092.47 913.15 2090.2C913.43 2087.93 911.31 2084.96 912.3 2083.4C913.29 2081.84 916.83 2081.56 919.1 2080.85C921.37 2080.14 923.21 2079.29 925.9 2079.15Z" fill="url(#gNeu)"/><path d="M916.55 2093.6C917.54 2091.05 918.96 2086.66 920.8 2085.1C922.64 2083.54 925.9 2083.68 927.6 2084.25C929.3 2084.82 931.28 2087.37 931 2088.5C930.72 2089.63 927.03 2089.63 925.9 2091.05C924.77 2092.47 924.77 2094.73 924.2 2097C923.63 2099.27 923.63 2103.23 922.5 2104.65C921.37 2106.07 918.67 2106.21 917.4 2105.5C916.12 2104.79 914.99 2102.38 914.85 2100.4C914.71 2098.42 915.56 2096.15 916.55 2093.6Z" fill="#a86ac6" opacity="0.9"/><path d="M931.85 2091.05C932.84 2090.06 935.96 2091.33 936.95 2092.75C937.94 2094.17 938.22 2097.99 937.8 2099.55C937.38 2101.11 935.53 2102.24 934.4 2102.1C933.27 2101.96 931.42 2100.54 931 2098.7C930.58 2096.86 930.86 2092.04 931.85 2091.05Z" fill="#a86ac6" opacity="0.85"/></g>
<g><path d="M976.34 2097.06Q979.74 2098.81 983.58 2098.07M975.89 2099.06Q980.56 2102 986.18 2102.31M972.74 2104.14Q974.31 2107.58 977.77 2109.35M966.46 2107.36Q965.9 2111.55 967.91 2115.38M960.23 2106.85Q957.76 2110 957.66 2114.09M955.49 2103.77Q951.72 2105.57 949.66 2109.31M953.2 2100.34Q947.88 2101.18 943.58 2104.61M952.17 2094.73Q947.06 2093.05 941.69 2094.14M953.7 2089.46Q951.33 2086.69 947.65 2086.06M957.86 2085.1Q956.6 2080.56 953.01 2077.35M960.93 2083.73Q961.12 2079.81 958.84 2076.5M968.23 2083.9Q970.95 2080.07 971.18 2075.28M973.05 2086.98Q977.52 2084.57 980.18 2080.12M975.87 2091.69Q980.53 2091.59 984.48 2088.93" fill="none" stroke="#3a7d40" stroke-width="0.95" stroke-linecap="round"/><circle cx="964.3" cy="2095.4" r="13.5" fill="url(#gMac)"/><path d="M962.11 2088.93q3.38 -2.7 4.72 1.35M963.82 2104.55q3.38 -2.7 4.72 1.35M961.26 2102.77q3.38 -2.7 4.72 1.35M971.1 2093.38q3.38 -2.7 4.72 1.35M969.49 2101.84q3.38 -2.7 4.72 1.35M962.34 2091.97q3.38 -2.7 4.72 1.35" fill="none" stroke="#a8d8b0" stroke-width="0.68" opacity="0.7" stroke-linecap="round"/></g>
<g><path d="M819.68 2137.63L825.35 2138.61M814.69 2147.28L817.56 2150.16M806.91 2151.85L808.21 2156.4M796.25 2151.59L794.92 2155.53M788.89 2146.85L785.41 2150.1M784.17 2136.6L779.41 2137.13M785.76 2126.99L782.07 2125.26M797.91 2117.13L796.83 2112.54M807.63 2117.57L809.3 2112.5M815.9 2123.25L819 2120.72" fill="none" stroke="#f0c45c" stroke-width="2.15" stroke-linecap="round"/><circle cx="802" cy="2134.6" r="19.5" fill="url(#gM1)"/><ellipse cx="796.15" cy="2129.72" rx="7.41" ry="5.85" fill="#fff6d6" opacity="0.55"/></g>
<g><path d="M868.78 2124.33L873.59 2124.74M866.92 2130.52L871.39 2132.97M859.81 2137.17L861.73 2141.29M850.85 2138.46L850.14 2143.1M841.95 2133.86L838.64 2137.06M837.62 2121.6L832.94 2121.18M840.33 2114.11L836.33 2111.34M851.34 2107.47L850.92 2103.9M858.13 2108.16L859.72 2103.39M866.67 2115.06L870.25 2112.95" fill="none" stroke="#f0c45c" stroke-width="1.87" stroke-linecap="round"/><circle cx="853.2" cy="2123" r="17" fill="url(#gM1)"/><ellipse cx="848.1" cy="2118.75" rx="6.46" ry="5.1" fill="#fff6d6" opacity="0.55"/></g>
<g><path d="M857.46 2176.75L862.28 2176.52M853.24 2188.02L855.88 2190.55M844.8 2192.47L845.52 2196.76M840.32 2192.55L839.68 2197.38M830.95 2187.58L828.1 2190.1M827.13 2177.96L822.86 2178.09M828.82 2170.52L824.89 2168.48M839.56 2162.57L838.82 2158.49M848.65 2163.71L850.47 2159.78M855.63 2170.24L858.79 2168.52" fill="none" stroke="#f0c45c" stroke-width="1.81" stroke-linecap="round"/><circle cx="842.3" cy="2177.5" r="16.5" fill="url(#gM1)"/><ellipse cx="837.35" cy="2173.38" rx="6.27" ry="4.95" fill="#fff6d6" opacity="0.55"/></g>
<g><path d="M1031.06 2155.68L1036.93 2155.97M1030.91 2156.98L1038.04 2158.29M1030.32 2158.96L1037.57 2161.98M1028.26 2162.06L1032.05 2165.79M1026.55 2163.44L1030.27 2169.27M1024.52 2164.43L1027.3 2172.42M1021.53 2164.97L1021.68 2171.56M1019.46 2164.8L1017.97 2172.55M1016.99 2163.97L1014.66 2168.71M1015.06 2162.73L1011.27 2167.3M1014.48 2162.21L1009.44 2167.39M1012.36 2159.15L1004.6 2162.57M1011.88 2157.8L1004.13 2159.93M1011.57 2156.12L1003.09 2156.91M1011.72 2153.25L1004.81 2151.85M1012.33 2151.32L1007.44 2149.21M1013.38 2149.47L1007.51 2145.22M1015.85 2147.09L1011.39 2140.46M1018.48 2145.84L1016.57 2139.49M1020.8 2145.44L1020.5 2139.58M1023.21 2145.61L1024.4 2139.69M1025.56 2146.4L1028.39 2140.55M1026.74 2147.08L1030.61 2141.29M1028.02 2148.1L1031.75 2144.15M1030 2150.74L1036.79 2147.25M1030.54 2152.01L1036.76 2149.86" fill="none" stroke="#846cf4" stroke-width="1.26" stroke-linecap="round"/><circle cx="1021.3" cy="2155.2" r="11.5" fill="url(#gM2)"/><circle cx="1021.3" cy="2155.2" r="9.2" fill="none" stroke="#b6a8fa" stroke-width="0.69" opacity="0.7"/></g>
<g><path d="M1087.07 2182.39L1097.3 2182.7M1086.35 2186.31L1093.81 2188.89M1086.05 2187.09L1096.02 2191.26M1084.05 2190.4L1090.75 2195.96M1080.69 2193.29L1084.72 2200M1077.55 2194.66L1080.11 2203.56M1076.6 2194.89L1078.91 2205.9M1072.12 2195.05L1071.13 2202.33M1068.41 2193.97L1063.99 2203.59M1065.9 2192.47L1059.81 2200.44M1063.23 2189.72L1057.53 2193.85M1061.71 2186.99L1052.48 2190.76M1061.28 2185.78L1051.87 2188.6M1060.73 2182.43L1050.74 2182.75M1061.25 2178.33L1052.21 2175.7M1061.78 2176.83L1053.69 2173.38M1063.7 2173.66L1055.6 2167.04M1067.38 2170.55L1062.14 2161.36M1069.3 2169.65L1066.59 2162.37M1072.86 2168.87L1072.21 2160.68M1076.78 2169.14L1078.48 2161.55M1079.7 2170.17L1082.81 2163.85M1081.98 2171.59L1087.24 2164.81M1083.89 2173.41L1090.64 2167.6M1085.32 2175.43L1093.13 2170.94M1086.87 2179.66L1095.34 2178.13" fill="none" stroke="#846cf4" stroke-width="1.71" stroke-linecap="round"/><circle cx="1073.9" cy="2182" r="15.5" fill="url(#gM2)"/><circle cx="1073.9" cy="2182" r="12.4" fill="none" stroke="#b6a8fa" stroke-width="0.93" opacity="0.7"/></g>
<g><path d="M1027.24 2207.78L1034.8 2207.19M1026.83 2212.2L1034.37 2214.22M1026.18 2214.05L1034.56 2217.69M1024.1 2217.37L1030.15 2222.56M1021.82 2219.48L1028.2 2228.31M1019.67 2220.74L1022.98 2227.85M1016.91 2221.67L1018.64 2229.57M1013.58 2221.96L1013.12 2233.51M1009.89 2221.28L1006.19 2232.25M1007.44 2220.17L1001.79 2229.81M1004.23 2217.52L996.59 2224.27M1002.24 2214.54L994.83 2218.13M1001.49 2212.63L991.8 2215.58M1000.96 2209.77L993.94 2210.29M1001.5 2204.96L992.01 2202.07M1002.15 2203.24L993.64 2199.28M1004.99 2199.29L999.27 2193.31M1005.82 2198.55L1000.22 2191.61M1008.62 2196.82L1005.01 2188.92M1011.3 2195.93L1009.06 2185.64M1016.49 2195.84L1018.06 2187.27M1018.47 2196.37L1021.18 2188.66M1022.54 2198.68L1029.62 2190.19M1024.24 2200.39L1030.23 2195.42M1025.34 2201.93L1034.33 2196.43M1026.67 2204.86L1036.38 2201.82" fill="none" stroke="#846cf4" stroke-width="1.71" stroke-linecap="round"/><circle cx="1014.1" cy="2208.8" r="15.5" fill="url(#gM2)"/><circle cx="1014.1" cy="2208.8" r="12.4" fill="none" stroke="#b6a8fa" stroke-width="0.93" opacity="0.7"/></g>
<path d="M884 2160C905 2170 935 2174 961 2166L961 2158L979 2170.5L963 2184L962.5 2176C935 2183 905 2176 884 2160Z" fill="url(#kCyan)"/>
<path d="M1035.5 2183.8C1046 2170 1051 2155 1051.6 2140" fill="none" stroke="#9a9a9a" stroke-width="1.1"/>
<path d="M1051.6 2134.5L1048.2 2143L1055 2143Z" fill="#9a9a9a"/>
<ellipse cx="1040" cy="2128.6" rx="3.6" ry="1.8" fill="#2f7d3a" transform="rotate(-10 1040 2128.6)"/>
<ellipse cx="1048.2" cy="2122.2" rx="3.6" ry="1.8" fill="#2f7d3a" transform="rotate(10 1048.2 2122.2)"/>
<ellipse cx="1051.8" cy="2128.6" rx="3.6" ry="1.8" fill="#2f7d3a" transform="rotate(-15 1051.8 2128.6)"/>
<ellipse cx="1040.5" cy="2120.5" rx="3.6" ry="1.8" fill="#2f7d3a" transform="rotate(80 1040.5 2120.5)"/>
<text x="887.5" y="2157.9" font-size="16.84" stroke="#000" stroke-width="0.9">Polarization</text>
<text x="765.2" y="2212.3" font-size="17.06" fill="#f01e1e" stroke="#f01e1e" stroke-width="0.9">M1 macrophages</text>
<text x="971.3" y="2244.6" font-size="17.05" fill="#4bc06e" stroke="#4bc06e" stroke-width="0.9">M2 macrophages</text>
<text x="906.3" y="2269.6" font-size="17.09" stroke="#000" stroke-width="0.9">Angiogenesis</text>
<text x="942.7" y="2297.8" font-size="17.1" stroke="#000" stroke-width="0.9">ECM deposition</text>
<text x="1057.9" y="2130.2" font-size="17.3" stroke="#000" stroke-width="0.9">Anti-inflammatory</text>
<text x="1087.3" y="2147.1" font-size="17.04" stroke="#000" stroke-width="0.9">mediators</text>
<path d="M1838.54 2072.14L1871.57 2023.04L1872.46 2075.71L1867.11 2186.43L1859.07 2200.71L1850.14 2257.86L1832.29 2329.29L1823.36 2348.93L1830.5 2293.57L1835.86 2222.14L1837.64 2136.43Z" fill="url(#kSide)"/>
<path d="M1823.36 2348.93L1830.5 2293.57L1836.75 2231.07L1859.07 2200.71L1850.14 2257.86L1832.29 2329.29Z" fill="#f4eddc" opacity="0.9"/>
<path d="M1391.25 2028.39L1476.07 2043.57L1660 2065L1838.54 2072.14L1837.64 2136.43L1835.86 2222.14L1830.5 2293.57L1823.36 2348.93L1796.57 2340L1743 2332.86L1671.57 2323.93L1618 2313.21L1574.29 2298.93L1520.71 2293.57L1485 2282.86L1449.29 2273.93L1427.86 2272.14L1418.93 2220.36L1406.43 2150.71L1395.71 2068.57Z" fill="url(#kDerm)"/>
<clipPath id="cfr303"><path d="M1391.25 2028.39L1476.07 2043.57L1660 2065L1838.54 2072.14L1837.64 2136.43L1835.86 2222.14L1830.5 2293.57L1823.36 2348.93L1796.57 2340L1743 2332.86L1671.57 2323.93L1618 2313.21L1574.29 2298.93L1520.71 2293.57L1485 2282.86L1449.29 2273.93L1427.86 2272.14L1418.93 2220.36L1406.43 2150.71L1395.71 2068.57Z"/></clipPath>
<g clip-path="url(#cfr303)" filter="url(#blur1)"><path d="M1613.52 2116.17C1615.95 2116.21 1623.22 2116.88 1628.07 2116.44C1632.92 2115.99 1637.77 2113.69 1642.62 2113.5C1647.47 2113.32 1652.32 2115.02 1657.17 2115.3C1662.02 2115.59 1666.87 2115.14 1671.72 2115.22C1676.56 2115.3 1681.41 2115.29 1686.26 2115.79C1691.11 2116.28 1698.39 2117.8 1700.81 2118.2" fill="none" stroke="#fde3d4" stroke-width="4.07" opacity="0.5" stroke-linecap="round"/><path d="M1521.91 2125.44C1526.25 2125.2 1539.25 2123.86 1547.92 2123.99C1556.59 2124.12 1565.26 2125.64 1573.93 2126.25C1582.6 2126.86 1591.27 2126.92 1599.93 2127.67C1608.6 2128.42 1617.27 2130.16 1625.94 2130.73C1634.61 2131.31 1643.28 2131.04 1651.95 2131.14C1660.62 2131.23 1673.62 2131.28 1677.96 2131.31" fill="none" stroke="#f0a48e" stroke-width="2.7" opacity="0.28" stroke-linecap="round"/><path d="M1454.06 2139.86C1457.04 2140.32 1465.99 2141.9 1471.95 2142.65C1477.91 2143.39 1483.87 2144 1489.83 2144.3C1495.79 2144.61 1501.75 2144.23 1507.71 2144.46C1513.67 2144.7 1519.63 2145.5 1525.59 2145.71C1531.56 2145.92 1537.52 2145.65 1543.48 2145.72C1549.44 2145.78 1558.38 2146.03 1561.36 2146.1" fill="none" stroke="#fde3d4" stroke-width="2.63" opacity="0.5" stroke-linecap="round"/><path d="M1618.2 2162.28C1622.71 2162.34 1636.26 2162.44 1645.29 2162.66C1654.32 2162.87 1663.36 2163.36 1672.39 2163.57C1681.42 2163.78 1690.45 2163.66 1699.48 2163.92C1708.51 2164.18 1717.55 2164.88 1726.58 2165.14C1735.61 2165.4 1744.64 2165.74 1753.67 2165.49C1762.7 2165.23 1776.25 2163.93 1780.77 2163.62" fill="none" stroke="#f0a48e" stroke-width="4.09" opacity="0.28" stroke-linecap="round"/><path d="M1543.42 2163.46C1548.59 2163.46 1564.08 2163.02 1574.41 2163.43C1584.74 2163.85 1595.06 2165.07 1605.39 2165.93C1615.72 2166.8 1626.05 2168.03 1636.38 2168.63C1646.7 2169.23 1657.03 2169.08 1667.36 2169.54C1677.69 2170 1688.02 2170.97 1698.34 2171.39C1708.67 2171.81 1724.16 2171.93 1729.33 2172.04" fill="none" stroke="#fde3d4" stroke-width="4.01" opacity="0.5" stroke-linecap="round"/><path d="M1444.03 2171.29C1449.33 2172.23 1465.21 2176.07 1475.8 2176.94C1486.38 2177.81 1496.97 2176.74 1507.56 2176.52C1518.15 2176.29 1528.74 2175.64 1539.33 2175.61C1549.91 2175.59 1560.5 2175.6 1571.09 2176.37C1581.68 2177.14 1592.27 2179.95 1602.86 2180.24C1613.44 2180.53 1629.33 2178.48 1634.62 2178.13" fill="none" stroke="#f0a48e" stroke-width="3.08" opacity="0.28" stroke-linecap="round"/><path d="M1433.72 2182.56C1436.37 2182.13 1444.3 2179.64 1449.59 2179.99C1454.88 2180.34 1460.17 2183.99 1465.45 2184.68C1470.74 2185.36 1476.03 2184.43 1481.32 2184.11C1486.61 2183.8 1491.9 2182.56 1497.19 2182.81C1502.48 2183.07 1507.77 2185.62 1513.05 2185.65C1518.34 2185.67 1526.28 2183.4 1528.92 2182.94" fill="none" stroke="#fde3d4" stroke-width="2.63" opacity="0.5" stroke-linecap="round"/><path d="M1588.82 2201.1C1593.11 2202.02 1605.99 2206.2 1614.58 2206.6C1623.16 2207 1631.75 2203.82 1640.33 2203.48C1648.92 2203.13 1657.5 2203.88 1666.09 2204.53C1674.67 2205.18 1683.26 2207.19 1691.84 2207.4C1700.43 2207.6 1709.01 2205.6 1717.6 2205.76C1726.18 2205.92 1739.06 2207.93 1743.35 2208.37" fill="none" stroke="#f0a48e" stroke-width="2.53" opacity="0.28" stroke-linecap="round"/><path d="M1479.97 2210.55C1483.27 2210.78 1493.19 2211.45 1499.79 2211.94C1506.4 2212.44 1513.01 2213.34 1519.61 2213.52C1526.22 2213.7 1532.83 2212.91 1539.43 2213.03C1546.04 2213.15 1552.65 2214.14 1559.26 2214.27C1565.86 2214.4 1572.47 2213.68 1579.08 2213.8C1585.68 2213.92 1595.59 2214.8 1598.9 2215" fill="none" stroke="#fde3d4" stroke-width="2.19" opacity="0.5" stroke-linecap="round"/><path d="M1513.35 2223.95C1515.63 2224.23 1522.49 2225.33 1527.07 2225.63C1531.64 2225.93 1536.22 2225.53 1540.79 2225.76C1545.36 2225.98 1549.94 2226.99 1554.51 2226.96C1559.08 2226.93 1563.66 2225.25 1568.23 2225.57C1572.81 2225.88 1577.38 2228.79 1581.95 2228.87C1586.53 2228.94 1593.39 2226.47 1595.67 2225.99" fill="none" stroke="#f0a48e" stroke-width="4.3" opacity="0.28" stroke-linecap="round"/><path d="M1462.81 2236.45C1465.79 2236.34 1474.7 2235.6 1480.65 2235.81C1486.6 2236.02 1492.54 2237.23 1498.49 2237.68C1504.43 2238.14 1510.38 2238.74 1516.33 2238.54C1522.27 2238.35 1528.22 2236.48 1534.16 2236.54C1540.11 2236.59 1546.06 2239 1552 2238.85C1557.95 2238.71 1566.87 2236.21 1569.84 2235.68" fill="none" stroke="#fde3d4" stroke-width="4.03" opacity="0.5" stroke-linecap="round"/><path d="M1476.69 2246.2C1480.97 2246.38 1493.79 2247.17 1502.34 2247.31C1510.89 2247.45 1519.44 2246.88 1527.98 2247.05C1536.53 2247.22 1545.08 2247.51 1553.63 2248.31C1562.18 2249.11 1570.73 2251.85 1579.28 2251.84C1587.83 2251.84 1596.37 2248.72 1604.92 2248.27C1613.47 2247.82 1626.29 2249 1630.57 2249.14" fill="none" stroke="#f0a48e" stroke-width="3.61" opacity="0.28" stroke-linecap="round"/><path d="M1459.91 2253.77C1462.63 2254.17 1470.8 2255.18 1476.25 2256.16C1481.7 2257.14 1487.14 2259.07 1492.59 2259.65C1498.04 2260.23 1503.49 2260.24 1508.93 2259.65C1514.38 2259.07 1519.83 2255.84 1525.28 2256.13C1530.73 2256.43 1536.17 2260.53 1541.62 2261.44C1547.07 2262.35 1555.24 2261.56 1557.96 2261.58" fill="none" stroke="#fde3d4" stroke-width="4.15" opacity="0.5" stroke-linecap="round"/><path d="M1473.1 2271C1475.4 2271.06 1482.27 2271.6 1486.85 2271.38C1491.43 2271.16 1496.01 2269.29 1500.59 2269.65C1505.17 2270.02 1509.76 2273.01 1514.34 2273.55C1518.92 2274.09 1523.5 2272.91 1528.08 2272.87C1532.66 2272.83 1537.24 2273.38 1541.82 2273.28C1546.41 2273.19 1553.28 2272.48 1555.57 2272.31" fill="none" stroke="#f0a48e" stroke-width="4.14" opacity="0.28" stroke-linecap="round"/><path d="M1572.61 2287.07C1577.84 2287.24 1593.5 2287.55 1603.94 2288.05C1614.39 2288.56 1624.83 2289 1635.27 2290.09C1645.72 2291.19 1656.16 2294.18 1666.61 2294.62C1677.05 2295.06 1687.49 2292.84 1697.94 2292.75C1708.38 2292.66 1718.82 2293.54 1729.27 2294.09C1739.71 2294.64 1755.37 2295.75 1760.6 2296.08" fill="none" stroke="#fde3d4" stroke-width="3.37" opacity="0.5" stroke-linecap="round"/><path d="M1581.15 2302.14C1584.62 2301.74 1595.03 2299.49 1601.97 2299.72C1608.91 2299.95 1615.85 2303 1622.79 2303.52C1629.73 2304.04 1636.67 2302.79 1643.61 2302.83C1650.55 2302.87 1657.49 2303.8 1664.43 2303.77C1671.37 2303.74 1678.31 2302.09 1685.25 2302.63C1692.19 2303.18 1702.6 2306.3 1706.07 2307.04" fill="none" stroke="#f0a48e" stroke-width="2.36" opacity="0.28" stroke-linecap="round"/></g>
<path d="M1395.71 2068.57L1391.61 2041.79L1476.07 2052.5L1538.57 2060.54L1660 2070.36L1707.29 2073.93L1814.43 2087.32L1838.18 2087.86L1837.64 2136.43C1834.07 2140 1831.84 2144.46 1823.36 2150.71C1814.88 2156.96 1814.88 2161.43 1803.71 2161.43C1792.55 2161.43 1793.89 2160.09 1778.71 2150.71C1763.54 2141.34 1757.73 2133.53 1743 2123.93C1728.27 2114.33 1730.95 2110.09 1719.79 2112.32C1708.62 2114.55 1707.29 2125.27 1698.36 2132.86C1689.43 2140.45 1690.32 2141.79 1684.07 2142.68C1677.82 2143.57 1678.71 2143.79 1673.36 2136.43C1668 2129.06 1669.79 2118.57 1662.64 2113.21C1655.5 2107.86 1651.25 2112.32 1644.79 2115C1638.32 2117.68 1644.59 2119.91 1636.79 2123.93C1628.98 2127.95 1626.96 2134.2 1613.57 2131.07C1600.18 2127.95 1598.39 2120.8 1583.21 2111.43C1568.04 2102.05 1562.68 2096.25 1552.86 2093.57C1543.04 2090.89 1548.39 2095.36 1543.93 2100.71C1539.46 2106.07 1543.04 2115.89 1535 2115C1526.96 2114.11 1524.29 2105.18 1511.79 2097.14C1499.29 2089.11 1493.48 2082.86 1485 2082.86C1476.52 2082.86 1482.32 2091.12 1477.86 2097.14C1473.39 2103.17 1474.29 2108.75 1467.14 2106.96C1460 2105.18 1458.21 2099.15 1449.29 2090C1440.36 2080.85 1444.82 2075.71 1431.43 2070.36C1418.04 2065 1404.64 2069.02 1395.71 2068.57Z" fill="url(#kPink3)"/>
<clipPath id="cp3"><path d="M1395.71 2068.57L1391.61 2041.79L1476.07 2052.5L1538.57 2060.54L1660 2070.36L1707.29 2073.93L1814.43 2087.32L1838.18 2087.86L1837.64 2136.43C1834.07 2140 1831.84 2144.46 1823.36 2150.71C1814.88 2156.96 1814.88 2161.43 1803.71 2161.43C1792.55 2161.43 1793.89 2160.09 1778.71 2150.71C1763.54 2141.34 1757.73 2133.53 1743 2123.93C1728.27 2114.33 1730.95 2110.09 1719.79 2112.32C1708.62 2114.55 1707.29 2125.27 1698.36 2132.86C1689.43 2140.45 1690.32 2141.79 1684.07 2142.68C1677.82 2143.57 1678.71 2143.79 1673.36 2136.43C1668 2129.06 1669.79 2118.57 1662.64 2113.21C1655.5 2107.86 1651.25 2112.32 1644.79 2115C1638.32 2117.68 1644.59 2119.91 1636.79 2123.93C1628.98 2127.95 1626.96 2134.2 1613.57 2131.07C1600.18 2127.95 1598.39 2120.8 1583.21 2111.43C1568.04 2102.05 1562.68 2096.25 1552.86 2093.57C1543.04 2090.89 1548.39 2095.36 1543.93 2100.71C1539.46 2106.07 1543.04 2115.89 1535 2115C1526.96 2114.11 1524.29 2105.18 1511.79 2097.14C1499.29 2089.11 1493.48 2082.86 1485 2082.86C1476.52 2082.86 1482.32 2091.12 1477.86 2097.14C1473.39 2103.17 1474.29 2108.75 1467.14 2106.96C1460 2105.18 1458.21 2099.15 1449.29 2090C1440.36 2080.85 1444.82 2075.71 1431.43 2070.36C1418.04 2065 1404.64 2069.02 1395.71 2068.57Z"/></clipPath>
<g clip-path="url(#cp3)"><path d="M1733.27 2108.99L1736.69 2110.99L1742.57 2111.99L1751.8 2111.85L1756.19 2111.24M1672.58 2091.96L1665.7 2093.14L1663.26 2095.23L1658.55 2096.59M1656.9 2110.18L1660.41 2108.48L1667.68 2109.04M1582.35 2089.49L1587.87 2087.14L1592.39 2086.13M1666.76 2084.51L1665.95 2087.08L1664.79 2090.01L1660.22 2091.89M1827.99 2140.62L1830.61 2137.43L1833.39 2133.37L1837.53 2131.7L1842.64 2131.29M1745.91 2133.88L1741.08 2131.39L1738.51 2128.03L1736.4 2123.97M1485.94 2073.05L1491.97 2074.65L1495.42 2077.53L1503.11 2078.79L1509.06 2079.6M1510.27 2109.3L1508.07 2113.52L1507.46 2116.66M1403.7 2050.28L1410.48 2048.66L1413.02 2046.54M1642.95 2116.69L1644.94 2119.18L1648.63 2121.29L1651.91 2125.08L1653.56 2127.87M1792.43 2086.78L1784.88 2087.52L1781.93 2090.56L1781.3 2093.55M1399.08 2093.47L1392.18 2092.31L1390.22 2089.64M1647.58 2101.77L1652.06 2100.04L1658.6 2100.74L1664.49 2102.54L1668.77 2105.05M1753.45 2126.59L1756.74 2129.64L1754.88 2133L1752.3 2136.64L1753.82 2140.39M1434.83 2084.8L1429.89 2087.04L1425.02 2089.42M1703.09 2110.78L1707.48 2109.17L1711.98 2109.05L1717.55 2110.23M1396.08 2088.59L1395.61 2092.51L1393.86 2095.24L1390.24 2097.34M1757.55 2122.49L1753.32 2124.14L1744.1 2123.73M1601.78 2114.08L1594.04 2113.1L1586.15 2115.07M1558.88 2103.9L1558.94 2099.63L1554.1 2096.5L1549.42 2094.33L1542.82 2093.88M1395.98 2077.58L1396.16 2075.17L1399.83 2073.51L1400.01 2069.25M1483.79 2104.69L1480.37 2107.58L1472.13 2107.83L1464.82 2108.59L1461.36 2110.43M1650.52 2097.08L1652.35 2094.68L1651.74 2090.18L1651.24 2085.52L1653.55 2082.94M1761.86 2094.48L1766.91 2093.41L1770.25 2090.71L1773.25 2088.41M1561.32 2100.44L1569.57 2098.56L1578.14 2097.61L1582.67 2097.25M1478.09 2069.83L1482.35 2072.2L1486.3 2075.57L1495.15 2076.2M1775.46 2123.58L1780.69 2124.11L1790.08 2124.33M1478.26 2090.18L1477.37 2086.08L1478.78 2083.55M1492.51 2101.78L1483.33 2101.05L1476.7 2102.11M1546.58 2077.34L1552.92 2075.75L1556.81 2074.86M1454.17 2074.2L1458.35 2074.13L1462.75 2076.2M1666.97 2081.56L1661.45 2081.97L1653.11 2081.57M1613.85 2101.72L1618.43 2099.39L1623.7 2098.43L1630.9 2097.32M1681.05 2119.5L1687.84 2119.7L1696.13 2119.78M1505.71 2062.86L1503 2065.47L1493.61 2065.32L1490.98 2063.53M1466.92 2110.33L1464.73 2112.86L1466.18 2115.92L1465.03 2118.01L1463.86 2120.7M1598.52 2073.26L1605.72 2072.53L1613.36 2072.66L1619.52 2074.39M1686.71 2123.09L1685.14 2125.16L1680.46 2125.99M1770.26 2132.56L1776.32 2134.59L1780.3 2136.46M1488.82 2072.53L1493.25 2068.8L1493.14 2065.4M1431.52 2084.17L1425.13 2083.13L1418.26 2082.41L1414 2078.34M1481.71 2057.38L1485.98 2055.85L1491.88 2056.35L1496.22 2060.15M1438.14 2061.2L1442.33 2063.08L1446.35 2064.9L1447.97 2069.19M1723.43 2120.65L1728 2122.29L1730.33 2125.64L1735.37 2127.4L1735.56 2131.82M1578.35 2085.32L1574.77 2082.32L1573.32 2078.64M1678.43 2112.87L1677.89 2110.08L1673.56 2108.81L1666.05 2109.56M1446.63 2068.4L1447.44 2063.89L1451.03 2061.28L1456.23 2059.28M1542.23 2096.67L1533.83 2096.46L1529.64 2099.32L1525.42 2100.19M1469.3 2093.95L1463.5 2096.21L1461.78 2098.31L1460.76 2101.59L1463.16 2105.03M1624.98 2098.78L1616.63 2100.44L1609.46 2099.17L1608.04 2096.95L1602.2 2095.58M1690.87 2091.88L1693.29 2094.16L1692.87 2098L1696.78 2099.99L1700.02 2103.97M1667.84 2076.27L1671.91 2077.21L1673.96 2080.61L1678.55 2081.68L1683.82 2083.18M1781.2 2087.56L1785.58 2089.14L1785.25 2092.84L1789.76 2094.98L1789.37 2097.47M1576.11 2116.76L1583.79 2116.57L1590.15 2114.73M1755.87 2082.81L1746.93 2082.08L1737.89 2082.7L1730.11 2080.38L1729.28 2077.74M1783.77 2114.51L1783.63 2112.44L1776.25 2110.95L1766.88 2111.09M1805.84 2115.55L1801.62 2118.28L1792.44 2118.68L1787.28 2118.12L1777.95 2118.83M1473.37 2096.11L1467.67 2097.84L1461.65 2097.75M1658.5 2111.23L1655.72 2108.4L1648.09 2106.32L1640.96 2104.47L1637.82 2101.69M1771.85 2109.59L1768.43 2111.43L1763.91 2114.32M1627.74 2095.69L1625.84 2099.41L1624.64 2103.23M1746.66 2124.54L1752.6 2123.75L1755.88 2120.13M1750.75 2095.55L1753.43 2098.48L1756.01 2100.71M1503.54 2096.12L1498.85 2095.32L1491.1 2097.06M1734.1 2112.77L1724.94 2112.81L1717.02 2113.75L1712.57 2114.53L1710.06 2118M1406.41 2104.31L1408.24 2102.31L1405.26 2100.1M1537.64 2095.05L1531.17 2095.31L1527.24 2094.42L1525.9 2090.08L1527.31 2087.48M1572.64 2094.72L1568.83 2097.4L1569.61 2101.41M1726.08 2090.97L1732.72 2090.43L1737.25 2090.83L1743.43 2091.13L1749.55 2090.58M1794.89 2108.38L1800.56 2107.28L1802.26 2105.01L1808.92 2103.1M1719.21 2118.86L1718.51 2116.03L1720.98 2113.54M1650.93 2120.01L1651.73 2116.76L1648.76 2113.39L1642.71 2111.81M1686.12 2088.49L1685.64 2092.12L1689.88 2094.68L1689.39 2097L1693.38 2099.46M1604.99 2107.53L1602.29 2110.05L1601.07 2114.24L1598.06 2117.8L1598.73 2121.9M1504.16 2096.97L1506.54 2099.12L1507.62 2102.21M1559.63 2068.61L1552.67 2067.11L1549.47 2064.78M1505.05 2068.8L1506.34 2070.74L1506.95 2074.17M1538.72 2089.58L1537.66 2091.95L1533.26 2094.12M1756.66 2113.42L1763.19 2113.86L1769.12 2115.11M1565.89 2111.31L1557.58 2110.14L1554.53 2107.1M1734.54 2087.27L1730.51 2088.83L1723.77 2088.49M1801.88 2140.65L1807.3 2140.91L1813.91 2142.82L1814.59 2147.4M1796.92 2114.76L1801.43 2114.05L1806.63 2111.27M1667.97 2111.59L1674.34 2108.61L1678.35 2108.94L1681.92 2111.19M1821.46 2140.85L1817.88 2137.01L1810.29 2136.56M1649.97 2092.94L1644.31 2094.06L1644.14 2096.77M1808.31 2136.77L1814.6 2135.99L1818.09 2133.91L1821.37 2131.71L1824.67 2129.72M1559.4 2116.56L1557.65 2112.28L1561.7 2108.41L1565.12 2106.8M1687.58 2111.29L1683.74 2113.66L1681.56 2116.29L1683.52 2119.89M1674.74 2127.3L1672.71 2131.43L1672.25 2135.64L1674.01 2137.78M1663.23 2098.28L1656.63 2095.83L1654.66 2092.81M1552.51 2087.92L1546.88 2091.01L1542.62 2092.45L1542.92 2095.02M1765.15 2086.96L1759.28 2085.36L1754.21 2085.66M1593.71 2079.61L1598.74 2079.49L1607.38 2078.01M1677.47 2106.46L1683.25 2109.2L1689.39 2110.78M1552.13 2105.29L1552.18 2109.02L1546.32 2111.95L1544.72 2114.1L1540.82 2116.05M1517.15 2078.69L1508.81 2079.39L1504.84 2076.77L1501.5 2074.43M1435.21 2071.13L1441.59 2070.49L1449.49 2069.22M1470.67 2084.63L1463.52 2085.97L1459.47 2088.11L1457.5 2091.56L1457.57 2095.02M1407.3 2074.55L1411.54 2074.46L1415.95 2074.22L1424.04 2074.17M1570.94 2079.54L1574.02 2076.92L1575.88 2074.86M1675.67 2107.6L1673.9 2105.54L1667.46 2103.77L1668.54 2100.62M1757.7 2134.98L1756.79 2139.36L1761.41 2141.17L1768.57 2142.37L1773.16 2145M1762.05 2091.55L1764.89 2089.7L1768.22 2086.92L1777.26 2085.4L1778.49 2081.09M1776.21 2118.05L1774.43 2122.44L1775.77 2125.49L1778.12 2129.01L1781.97 2130.63M1467.72 2106.18L1461.42 2105.71L1454.49 2106.77L1449.97 2109.61L1445.27 2110.94M1536.5 2100.73L1531.81 2102.67L1527.2 2102.51M1695.2 2108.99L1701.82 2110.65L1706.11 2112.26M1740.67 2105.14L1732.57 2106.93L1724.1 2106.45L1716.5 2107.26M1752.49 2113.93L1746.83 2112.68L1744.99 2110.84L1744.44 2107.65L1737.41 2105.53M1562 2084.61L1568.21 2081.58L1576.02 2080.28L1582.38 2078.8M1757.2 2115.12L1761.26 2118.31L1769.35 2118.36L1775 2119.08M1502.61 2077.8L1509.89 2078.93L1510.94 2081.51L1516.17 2083.35M1571.76 2073.9L1576.18 2076.69L1582.16 2079.46L1586.39 2079.08L1592.51 2077.47M1619.04 2124.44L1621.91 2127.65L1621.66 2130.19L1622.85 2133.48L1628.64 2134.99M1618.9 2073.67L1617.86 2076.55L1611.94 2078.47M1761.61 2092.69L1767.98 2094.49L1775.73 2094.82M1586.17 2120.94L1587.03 2116.66L1593.67 2114.16M1538.1 2072.66L1546.52 2072.6L1552.72 2073.26L1556.62 2070.69M1773.94 2126.64L1780.55 2127.83L1783.2 2130.31L1788.31 2131.95M1810.74 2101.74L1802.78 2101.67L1799.4 2104.29M1512.83 2065.9L1515.61 2062.96L1514.29 2060.08L1507.74 2057.73M1404.66 2060.11L1412.31 2059.62L1416.3 2057.59L1423.25 2055.55M1605.6 2083.99L1613.13 2082.46L1617.55 2082.67L1623.3 2080.55M1790.2 2128.74L1795.76 2126.11L1793.81 2123.1M1542.75 2064.44L1540.95 2067.24L1538.04 2071.28L1533.08 2072.78L1525.15 2072.5M1674.11 2101.49L1679.26 2102.05L1685.12 2103.59L1692.94 2101.91M1680.36 2107.13L1674.35 2106.92L1668.58 2104.14M1823.9 2099.49L1818.99 2095.48L1817.76 2092.13M1623.15 2098.01L1624.8 2094.35L1622.74 2090.29L1620.68 2086.52L1623.13 2082.84M1430.6 2087.94L1435.99 2089.5L1441.93 2091.47L1446.65 2091.69L1449.77 2089.54M1525.58 2101.74L1524 2105.3L1522.44 2107.6L1517.4 2110.4M1625.77 2077.96L1619.16 2075.13L1611.84 2075.34M1736.22 2126.98L1741.32 2129.43L1744.11 2133.79L1748.54 2136.99M1776.34 2116.04L1780.11 2118.93L1784.61 2120.45M1705.89 2090.05L1701 2091.41L1696.7 2093.54M1511.43 2077.44L1511.94 2075.15L1508.08 2072.11L1504.6 2070.47M1410.93 2095.66L1416.12 2099.08L1417.26 2103.65L1420.17 2106.6L1421.25 2108.97M1607.62 2083.85L1601.78 2081.22L1602.94 2077.51L1598.73 2073.99M1668.01 2101.68L1668.13 2104.64L1662.73 2107.33L1656.65 2108.71M1605.56 2096.55L1613.83 2095.32L1615.99 2093.32L1615.17 2090.77L1621.47 2089.09M1738.15 2104.56L1729.7 2105.45L1728.68 2109.72M1516.25 2083.26L1521.64 2086.07L1523.43 2090.26L1528.03 2092.47M1443.21 2097.05L1444.21 2093.76L1448.58 2091.92M1397.19 2078.3L1405.75 2077.21L1415.22 2076.88L1418.71 2078.39L1420.74 2080.85M1805.88 2088.23L1802.72 2092.38L1802.08 2096.8L1802.58 2099.54L1810.69 2101.27M1582.04 2089.83L1589.84 2089.66L1595.01 2086.88L1599.61 2084.95L1599.6 2081.59M1809.63 2124.07L1806.88 2120.74L1802.94 2120L1796.94 2118.57L1787.96 2118.8M1485.51 2057.73L1492.95 2057.26L1501.31 2057.01L1508.95 2056.36M1812.75 2139.07L1811.31 2142.87L1806.23 2144.12L1799.84 2141.66M1646.66 2099.53L1654.45 2099.81L1662.56 2100.1L1670.09 2101.06M1789.99 2111.5L1788.85 2114.86L1781.12 2116.1L1780.3 2118.95L1784.77 2120.98M1657.32 2121.51L1657.51 2124.01L1663.62 2125.49L1667.88 2127.49M1746.27 2086.95L1742.78 2090.19L1741.69 2092.98L1737.22 2095.58L1735.83 2098.48M1558.48 2111.12L1555.67 2107.9L1552.72 2105.03L1556.09 2101.12L1551.36 2098.81M1802.68 2087.95L1810.27 2088.77L1817.44 2087.36L1822.73 2086.36L1826 2088.78M1409.32 2052.28L1403.69 2052.16L1395.06 2051.58L1389.51 2050.99M1461.53 2064.73L1466.59 2066.93L1470.56 2068.94L1473.94 2070.26L1480.5 2072.17M1623.87 2092.89L1631.45 2093.74L1639.51 2092.47M1686 2080.34L1678.58 2081.56L1675 2083.29L1669.39 2084.97M1474.82 2085.44L1477.06 2082.01L1479.37 2077.73L1481.09 2073.67L1482.32 2069.42M1574.46 2120.45L1578.88 2122.13L1587.47 2122.2L1595.07 2123.61L1599.23 2121.05M1566.92 2086.59L1561.05 2088.29L1556.77 2091.24L1550.96 2090.86L1542.44 2091.47M1634.05 2095.59L1630.13 2092.64L1626.25 2090.52M1798.85 2139.98L1797.31 2143.88L1799.91 2147.98L1803.03 2150.84M1477.08 2089.25L1471.24 2089.38L1464.82 2088.09M1400.97 2101.34L1405.45 2098L1406.48 2094.28L1401.71 2090.86M1429.32 2103.81L1427.73 2106.89L1431.28 2109.56L1430.14 2111.92M1448.47 2090.37L1442.27 2089.78L1434.26 2091.57L1427.31 2091.75L1418.09 2091.18M1414.02 2060.58L1410.51 2057.95L1404.01 2056.44L1397.98 2054.93M1600.46 2110.05L1605.05 2111.43L1608.87 2113.01L1615.49 2114.28L1619.45 2114.64M1638.48 2077.25L1635.53 2079.55L1629.99 2081.93L1624.01 2082.75M1829.51 2098.39L1825.76 2100.51L1818.13 2099.81M1678.14 2114.88L1674.29 2112.15L1669.82 2109.18L1670.18 2105.48M1679.03 2098.61L1675.64 2101.91L1674 2105.38L1678.23 2107.74M1630.91 2104.75L1636.85 2107.06L1638.81 2110.72M1466.6 2066.81L1462.58 2065.83L1456.96 2066.91L1449.94 2066.37L1443.29 2067.64M1547.36 2093.95L1554.03 2092.14L1554.75 2087.75L1560.03 2086.05M1401.42 2088.28L1396.09 2090.92L1388.27 2092L1381.51 2091.81M1458.54 2089.89L1462.27 2087.6L1462.13 2083.59M1542.06 2103.04L1541.63 2106.83L1539.05 2109.82L1533.84 2111.75M1588.18 2090.62L1582.54 2092.04L1581.05 2095.24M1743.53 2131.84L1741.77 2135.13L1734.82 2136.6L1734.63 2140.52M1563.01 2110.34L1556.75 2107.88L1555.22 2103.47M1774.48 2107.1L1770.53 2109.59L1762.48 2110.96L1756.31 2111.76L1749.12 2109.61M1778 2112.11L1773.66 2110.55L1767.48 2111.15L1761.43 2113.81L1754.53 2116.01M1802.08 2092.97L1796.32 2092.13L1791.84 2088.96M1695.08 2080.24L1699.24 2078.39L1699.55 2074.19L1701.83 2070.97L1709.97 2069.93M1716.93 2086.05L1725.51 2087.11L1730.5 2086.62L1733.37 2083.21M1632.72 2079.84L1623.67 2079.83L1620.04 2081.62L1619.11 2084.65M1656.75 2103.87L1653.21 2106.69L1653.17 2109.15L1659.48 2111.34L1661.77 2113.89M1662.88 2097.05L1658.46 2098.79L1652.02 2099.27M1581.08 2087.54L1578.75 2089.41L1573.87 2090.89L1566.32 2090.67L1563.15 2087.43M1833.06 2105.91L1834.91 2102.32L1839.21 2098.89L1840.45 2094.53M1737.43 2100.45L1734.22 2098.18L1729.57 2097.36L1725.82 2099.05L1720.23 2099.35M1805.23 2093.26L1798.27 2094.58L1793.3 2096.72M1766.05 2084.99L1761.77 2082.96L1756 2081.49L1753.26 2078.87L1749.36 2077.65M1499.3 2064.06L1494.52 2064.53L1485.74 2065.07M1615.57 2078.12L1620.4 2079.69L1619.57 2083.34L1619.51 2087.65M1762.54 2093.48L1753.98 2091.8L1750.72 2089.44L1750.58 2085.55M1418.32 2082.2L1414.18 2081.39L1409.48 2078.83L1408.43 2076.34L1406.79 2071.68M1474.85 2103.79L1470.46 2101.26L1466.29 2100.99L1462.21 2097.64M1534.14 2101.21L1538.36 2100.85L1545.57 2102.25L1549.58 2106.28M1417.81 2061.08L1424.92 2061.1L1431.79 2060.34L1439.53 2061.65L1444.14 2062.07M1625.74 2079.48L1633.29 2081.26L1641 2082.25M1420.57 2094.78L1420.47 2091.71L1422.59 2089.57M1542.35 2063.89L1544.02 2067.15L1542.2 2070.75L1545.02 2073.81L1547.66 2077.99M1588.81 2111.57L1593.53 2113.56L1599.35 2113.5L1607.01 2115.96L1611.6 2115.84M1487.6 2100.66L1485.93 2105.1L1483.88 2108.9L1477.08 2110.47M1471.11 2059.76L1474.49 2061.26L1482.66 2059.92M1518.87 2106.69L1518.22 2110.2L1515.52 2114.49L1517.64 2117.57M1558.37 2098.12L1551.98 2100.49L1547.83 2101.51L1542.36 2100.19L1541.43 2097.72M1780.77 2098.8L1775.36 2097.75L1770 2099.14M1714.3 2081.53L1709.85 2078.87L1705.02 2079.13M1730.4 2087.24L1732.43 2089.87L1735.9 2091.83L1744.34 2091.13M1571.92 2105.45L1573.11 2108.88L1572.24 2112.65L1571.54 2117.22L1571.1 2121.46M1837.51 2117.19L1845.22 2118.14L1848.96 2119.95L1848.53 2124.56L1844.93 2126.42M1585.89 2094.33L1585.1 2090.91L1584.15 2087.66L1585.18 2085.05L1586.89 2082.8M1500.38 2062.64L1504.09 2059.73L1509.22 2057.08M1694.95 2113.15L1694.58 2109.04L1690.52 2107.05L1684.71 2106.5M1459.17 2100.54L1450.35 2100.5L1444.5 2102.26L1438.66 2101.97M1808.22 2126.79L1814.98 2128.38L1823.76 2129.14M1507.12 2075.09L1499.86 2074.05L1494.55 2071.17L1492.79 2068.98L1490.57 2065M1455.86 2089.79L1460.75 2087.72L1468.92 2086.6M1605.72 2120.53L1605.79 2125.15L1600.82 2127.28L1595.36 2129.69M1422.66 2059.86L1430.14 2061.58L1434.06 2062.89M1561.91 2101.92L1567.11 2099.95L1571.11 2098.67L1575.75 2097.19L1581.1 2097.89M1720.62 2132.52L1714.02 2131.16L1711.83 2127.24M1437.37 2087.74L1432.95 2090.48L1428.04 2092.2L1423.52 2092.31M1800.69 2092.05L1806.24 2095.03L1809.5 2097.95L1810.1 2101.07L1814.85 2103.1M1444.12 2089.68L1438.9 2086.63L1435.43 2084.44L1434.24 2080.42L1433.57 2076.19M1407.89 2078.43L1402.69 2077.41L1398.36 2079.91M1448.3 2062.38L1456.3 2062.36L1462.13 2060.66L1469.41 2059.14M1670.87 2097.44L1675.23 2094.7L1679.4 2092.41M1577.32 2097.92L1582.06 2099.32L1590.53 2098.42L1593.49 2094.3L1598.49 2091.7M1571.86 2073.47L1572.86 2070.29L1576.17 2067.36L1576.09 2064.68L1572.08 2063.04M1662.66 2100.95L1662.48 2103.54L1659.13 2104.85L1651.1 2107.26M1679.88 2107.08L1671.85 2105.23L1666.85 2102.85M1740.49 2095.02L1739.59 2097.1L1734.06 2098.35L1732.16 2102.35" fill="none" stroke="#e86464" stroke-width="0.7" opacity="0.65" stroke-linecap="round" stroke-linejoin="round"/></g>
<path d="M1418.93 2220.36C1422.95 2217.68 1426.52 2214.11 1435 2209.64C1443.48 2205.18 1442.59 2199.82 1452.86 2202.5C1463.12 2205.18 1463.57 2207.41 1476.07 2220.36C1488.57 2233.3 1491.7 2243.12 1502.86 2254.29C1514.02 2265.45 1511.79 2266.34 1520.71 2265C1529.64 2263.66 1529.64 2258.75 1538.57 2248.93C1547.5 2239.11 1545.27 2227.95 1556.43 2225.71C1567.59 2223.48 1572.05 2229.29 1583.21 2240C1594.38 2250.71 1592.14 2256.74 1601.07 2268.57C1610 2280.4 1610 2287.32 1618.93 2287.32C1627.86 2287.32 1628.3 2276.83 1636.79 2268.57C1645.27 2260.31 1646.39 2254.29 1652.86 2254.29C1659.32 2254.29 1655.73 2258.75 1662.64 2268.57C1669.55 2278.39 1672.91 2285.98 1680.5 2293.57C1688.09 2301.16 1685.41 2303.39 1693 2298.93C1700.59 2294.46 1701.93 2286.88 1710.86 2275.71C1719.79 2264.55 1718.45 2256.07 1728.71 2254.29C1738.98 2252.5 1739.43 2256.96 1751.93 2268.57C1764.43 2280.18 1767.55 2288.66 1778.71 2300.71C1789.88 2312.77 1787.64 2318.57 1796.57 2316.79C1805.5 2315 1805.5 2306.96 1814.43 2293.57C1823.36 2280.18 1827.82 2270.8 1832.29 2263.21L1830.5 2293.57L1823.36 2353.39C1816.66 2351.16 1816.66 2348.93 1796.57 2344.46C1776.48 2340 1774.25 2340.22 1743 2335.54C1711.75 2330.85 1702.82 2331.07 1671.57 2325.71C1640.32 2320.36 1642.32 2320.58 1618 2314.11C1593.68 2307.63 1598.61 2304.96 1574.29 2299.82C1549.96 2294.69 1543.04 2297.81 1520.71 2293.57C1498.39 2289.33 1502.86 2287.77 1485 2282.86C1467.14 2277.95 1463.57 2276.61 1449.29 2273.93C1435 2271.25 1433.21 2272.59 1427.86 2272.14L1418.93 2220.36Z" fill="url(#kFat)"/>
<clipPath id="cf3"><path d="M1418.93 2220.36C1422.95 2217.68 1426.52 2214.11 1435 2209.64C1443.48 2205.18 1442.59 2199.82 1452.86 2202.5C1463.12 2205.18 1463.57 2207.41 1476.07 2220.36C1488.57 2233.3 1491.7 2243.12 1502.86 2254.29C1514.02 2265.45 1511.79 2266.34 1520.71 2265C1529.64 2263.66 1529.64 2258.75 1538.57 2248.93C1547.5 2239.11 1545.27 2227.95 1556.43 2225.71C1567.59 2223.48 1572.05 2229.29 1583.21 2240C1594.38 2250.71 1592.14 2256.74 1601.07 2268.57C1610 2280.4 1610 2287.32 1618.93 2287.32C1627.86 2287.32 1628.3 2276.83 1636.79 2268.57C1645.27 2260.31 1646.39 2254.29 1652.86 2254.29C1659.32 2254.29 1655.73 2258.75 1662.64 2268.57C1669.55 2278.39 1672.91 2285.98 1680.5 2293.57C1688.09 2301.16 1685.41 2303.39 1693 2298.93C1700.59 2294.46 1701.93 2286.88 1710.86 2275.71C1719.79 2264.55 1718.45 2256.07 1728.71 2254.29C1738.98 2252.5 1739.43 2256.96 1751.93 2268.57C1764.43 2280.18 1767.55 2288.66 1778.71 2300.71C1789.88 2312.77 1787.64 2318.57 1796.57 2316.79C1805.5 2315 1805.5 2306.96 1814.43 2293.57C1823.36 2280.18 1827.82 2270.8 1832.29 2263.21L1830.5 2293.57L1823.36 2353.39C1816.66 2351.16 1816.66 2348.93 1796.57 2344.46C1776.48 2340 1774.25 2340.22 1743 2335.54C1711.75 2330.85 1702.82 2331.07 1671.57 2325.71C1640.32 2320.36 1642.32 2320.58 1618 2314.11C1593.68 2307.63 1598.61 2304.96 1574.29 2299.82C1549.96 2294.69 1543.04 2297.81 1520.71 2293.57C1498.39 2289.33 1502.86 2287.77 1485 2282.86C1467.14 2277.95 1463.57 2276.61 1449.29 2273.93C1435 2271.25 1433.21 2272.59 1427.86 2272.14L1418.93 2220.36Z"/></clipPath>
<g clip-path="url(#cf3)"><path d="M1663.48 2301.08L1658.87 2303.95L1656.74 2306.66L1651.83 2308.69L1647.04 2309.85M1595.49 2294.02L1597.65 2289.89L1594.39 2286.07M1467.37 2250.83L1475.91 2249.23L1482.8 2247.05L1486.06 2243.1L1490.15 2242.58M1606.71 2276.56L1611.09 2277.36L1619.54 2275.57L1624.4 2275.56M1601.78 2283.08L1609.15 2283.63L1613.88 2285.46L1623.3 2285.42M1745.11 2292.86L1738.33 2294.07L1731.44 2294L1727.13 2293.73L1723.16 2291.27M1465.71 2254.39L1457.12 2255.12L1455.51 2257.06M1635.48 2299.29L1637.7 2295.39L1644.45 2294.69M1499.35 2260.06L1500.6 2256.64L1502.58 2252.58L1506.84 2249.16M1452.97 2244.46L1453.05 2248.64L1458.33 2251.45L1463.71 2252.74L1468.36 2254.94M1662.1 2294.83L1654.68 2293.49L1653.24 2289.98L1654 2287.76L1655.37 2285.04M1694.49 2285.61L1690.29 2281.81L1680.98 2281.14L1677.33 2282.55L1670.65 2283.98M1522.85 2274.58L1527.14 2274.13L1532.09 2271.84M1741.51 2296.63L1738.19 2299.63L1735.75 2302.56L1732.58 2306.81L1728.08 2309.86M1638.59 2286.14L1631.29 2286.64L1626.07 2286.25L1621.41 2284.07L1620.64 2279.76M1471.85 2252.72L1477.82 2255.16L1484.12 2257.4L1489.93 2256.5L1495.19 2254.68M1565.98 2278.73L1574.77 2279.11L1580.33 2278.61L1584.83 2281.54M1528.06 2267.57L1526.1 2269.5L1527.09 2271.86M1530.71 2279.51L1528.98 2276.5L1527.85 2271.98M1476.67 2254.09L1474.51 2256.06L1477.67 2258.03L1481.86 2261.8M1610.92 2286.42L1620.01 2285.68L1625.84 2285.2L1633.8 2286.58L1640.84 2285.38M1455.16 2270.45L1453.67 2268.41L1452.28 2264.68M1765.95 2323.34L1773.66 2322.04L1774.72 2318.91L1775.95 2316.68M1777.04 2316.48L1768.17 2315.56L1766.29 2312.02M1513.3 2277.06L1511.26 2274.2L1507.05 2271.05M1731.34 2296.79L1727.07 2295L1721.28 2293.08L1721.84 2289.73L1719.67 2286.9M1799.28 2332.32L1807.65 2331.05L1815.24 2330.2M1536.11 2281.17L1527.36 2280.41L1523.68 2277.91M1816.08 2308.18L1808.78 2305.46L1804.53 2302.41L1795.81 2301.76M1703.47 2285.51L1706.13 2287.6L1704.93 2290.39L1704.42 2293.23L1702.52 2297.76M1683.06 2308.47L1687.61 2308.34L1693.26 2305.98L1700.07 2305.55M1675.04 2298.18L1672.63 2301.72L1667.97 2304.16L1661.92 2306.58L1655.08 2307.22M1583.03 2281.78L1582.92 2285.66L1581.63 2288L1577.68 2291.78L1571.84 2295.12M1710.57 2308.9L1714.67 2310.23L1721.2 2310.36M1489.04 2269.54L1485.14 2271.07L1477.23 2271.2M1708.21 2294.8L1704.57 2296.55L1701.06 2299.32L1701.47 2301.98M1568.8 2271.75L1561.77 2270.66L1554.78 2269.15L1549.93 2268.26L1542.65 2267.56M1668.83 2298.3L1666.81 2300.23L1663.65 2302.48L1658.58 2304.2M1610.53 2286.69L1617.3 2284.97L1620.84 2283.39L1627.22 2282.42L1634.88 2282.24M1449.38 2269.39L1454.84 2272.37L1458.42 2275.09M1475.6 2245.89L1479.42 2244.06L1484.7 2243.04L1486.99 2238.9L1484 2234.9M1804.14 2308.49L1800.66 2306.8L1793.28 2306.67L1787.62 2305.23M1704.93 2298.89L1713.94 2299.68L1721.51 2299.84L1725.97 2300.73L1731.37 2299.91M1697.42 2305.05L1695.34 2307.82L1692.65 2311.12L1690.76 2314.2M1664.47 2278.11L1669.76 2279.38L1671.47 2283.71M1768.77 2327.7L1761.66 2326.79L1759.07 2323.01M1548.64 2261.1L1543.03 2264.47L1544.55 2268.71L1546.25 2272.4M1432.13 2259.02L1434.85 2261.04L1434.84 2264.65L1429.33 2266.39L1426.05 2269.43M1711.31 2305.9L1718.13 2307.31L1723.65 2309.67L1730.31 2311.33L1734.72 2314.23M1463.69 2272.4L1458.78 2275.6L1453.09 2277.75L1447.56 2278.51L1442.52 2279.66M1422.85 2266.41L1418.65 2264.45L1414.33 2262.13L1411.04 2259.82M1764.16 2297.23L1770.56 2295.97L1779.15 2295.38M1548.69 2277.29L1547.94 2279.72L1542.47 2282.66L1538.67 2285.07M1638.85 2294.3L1635.18 2292.07L1631.73 2289.61L1630.02 2286.8M1454.67 2246.46L1448.39 2246.77L1441.04 2248.61M1647.65 2298.74L1654.11 2297.04L1659.69 2297.93L1667.87 2298.04L1672.61 2301.49M1807.1 2318L1810.77 2314.33L1813 2312.19L1811.25 2308.6M1571.3 2264.94L1576.32 2267.07L1580.05 2269.58M1493.37 2271.15L1489.38 2273.57L1482.5 2274.23L1474.69 2275.11M1690.95 2285.43L1685.6 2284.37L1680.38 2285.03L1676.71 2287.12M1662.34 2278.4L1656.74 2280.78L1652.48 2283.16L1647.59 2284.08M1790.87 2329.43L1795.05 2327.66L1795.98 2323.34M1644.23 2277.62L1653.3 2276.62L1659.66 2273.79L1661.98 2269.99L1667 2267.6M1548.83 2286.72L1540.86 2287.05L1537.94 2285.37L1534.01 2284.88L1528.96 2281.69M1801.54 2330.97L1796.83 2330.98L1791.29 2329.3M1466.52 2258.71L1462.01 2256.97L1460.98 2253.73L1463.27 2251.77L1460.75 2249.11M1578.94 2280.68L1580.95 2277.52L1582.65 2275.02L1585.44 2272.25M1528.47 2271.45L1525.36 2269.99L1525.35 2265.86M1604.23 2282.27L1598.17 2283.2L1592.35 2283.61L1584.17 2284.07M1648.31 2303.17L1655.39 2300.59L1656.07 2297.48M1491.52 2267.49L1486.12 2268.33L1480.09 2269.31L1473.87 2268.55M1575.46 2269.5L1570.21 2266.19L1560.94 2265.99M1433.63 2265.33L1432.7 2260.66L1434.72 2257.4M1654.17 2301.27L1647.93 2301.47L1643.99 2299.42M1702.88 2303.43L1696.19 2304.79L1688.18 2305.37L1682.16 2306.68M1606.77 2288.99L1604.1 2286.79L1600.24 2285.31M1613.73 2274.52L1609.65 2273.35L1604.11 2271.06L1598.95 2270.91M1483 2247.38L1489.81 2246.47L1495.85 2244.57L1498 2241.37M1525.75 2275.37L1519.88 2272.11L1511.98 2270.2L1507.46 2271.05M1802.75 2327.43L1799.78 2326.02L1792.11 2325.98M1482.62 2259.42L1476.22 2259.72L1466.79 2259.12L1460.52 2261.09M1472.47 2252.32L1467.07 2250.07L1467.07 2245.9L1463.32 2243.77L1463.99 2240.31M1642.32 2282.79L1647.31 2286L1649.58 2288.86M1699.94 2307.49L1693.18 2305.35L1684.86 2304.9L1676.89 2303.47L1668.09 2303.95M1789.04 2316.31L1785.06 2313.86L1779.35 2311.25L1775.04 2309.48M1802.37 2312.27L1810.51 2313.56L1818.28 2313.16L1821.28 2314.91M1592.67 2271.17L1599.16 2272.6L1603.92 2275.18M1826.1 2311.42L1834.21 2312.08L1842.9 2312.86L1849.45 2315.12L1855.98 2317.67M1763.8 2305.4L1762.05 2309.15L1761.31 2312.95M1713.34 2303.52L1713.81 2307.38L1711.72 2311.87M1427.65 2258.4L1432.89 2260.45L1441.86 2259.97M1598.79 2292.16L1595.74 2294.44L1590.44 2295.89L1584.41 2298.11L1584.66 2302.06M1585.7 2292.1L1592.75 2293.24L1595.1 2296.6L1595.32 2299.74M1522.7 2256.14L1521.28 2252.71L1521.11 2248.05M1608.05 2275.46L1613.43 2277.55L1618.68 2280.87M1430.95 2242.47L1432.04 2246.67L1433.09 2249.73L1432.24 2253.52L1429.2 2256.72M1743.67 2318.56L1739.64 2314.4L1736.14 2311.7L1736.02 2308.93L1734.86 2304.52M1787.99 2318.09L1791.85 2315.42L1795.92 2313.36L1798.93 2311.49L1803.5 2310.19M1573.65 2293.61L1569.07 2293.12L1560.14 2292.47L1555.85 2294.83M1504.77 2259.88L1509.51 2259.57L1517.18 2260.33L1521.73 2262.66M1657.37 2298.45L1661.27 2299.94L1664.63 2301.24M1487.63 2267.01L1489.15 2262.8L1490.79 2258.53L1488.14 2254.04M1453.71 2267.76L1458.29 2265.07L1466.42 2264.78L1474.55 2266.5M1575.37 2285.73L1570.53 2288.58L1564.07 2289.66M1778.65 2300.89L1783.71 2302.81L1786.93 2305.94L1790.53 2307.82L1798.73 2307.26M1453.97 2271.59L1450.82 2273.92L1447.24 2275.93L1444.72 2279.45M1726.36 2313.51L1720.02 2311.84L1715.73 2312.66L1709.93 2311.64M1515.93 2272.37L1520.13 2269.49L1517.52 2265.45M1434.37 2260.63L1436.81 2256.97L1440.86 2256.05L1447.34 2255.13M1778.81 2325.35L1776 2323.45L1778.55 2320.83L1784.27 2319.58L1788.21 2317.01" fill="none" stroke="#e9ae48" stroke-width="0.7" opacity="0.75" stroke-linecap="round" stroke-linejoin="round"/></g>
<path d="M1391.25 2028.39L1431.43 2015L1470.71 2009.64L1502.86 2000.71L1574.29 2003.39L1660 2007.86L1689.43 2011.43L1760.86 2015L1871.57 2022.14L1872.46 2038.21L1838.54 2072.14L1838.18 2087.86L1814.43 2087.32L1707.29 2073.93L1618 2068.57L1538.57 2060.54L1476.07 2052.5L1391.61 2041.79Z" fill="url(#kTop)"/>
<clipPath id="ct3"><path d="M1391.25 2028.39L1431.43 2015L1470.71 2009.64L1502.86 2000.71L1574.29 2003.39L1660 2007.86L1689.43 2011.43L1760.86 2015L1871.57 2022.14L1872.46 2038.21L1838.54 2072.14L1838.18 2087.86L1814.43 2087.32L1707.29 2073.93L1618 2068.57L1538.57 2060.54L1476.07 2052.5L1391.61 2041.79Z"/></clipPath>
<g clip-path="url(#ct3)">
<ellipse cx="1592.14" cy="2016.79" rx="120" ry="12" fill="#f6b898" opacity="0.5" filter="url(#blur4)"/>
<ellipse cx="1725.14" cy="2043.57" rx="100" ry="12" fill="#fbebd0" opacity="0.8" filter="url(#blur4)"/>
<path d="M1581.85 2075.74L1587.7 2076.24L1592.15 2074.57M1604.14 2084.1L1612.89 2083.93L1618.08 2086.33L1624.71 2088.37L1631.19 2091.87M1572.75 2037.19L1564.25 2035.38L1558.5 2034.18M1729.44 2061.58L1734.9 2061.14L1742.38 2060.34M1504.79 2035.24L1496.75 2034.84L1492.28 2034.39L1483.82 2034.12L1477.65 2034.59M1521.03 2072.68L1516.66 2076.26L1513.35 2079.62L1506.96 2081.83L1502.76 2084.17M1453.17 2039.36L1448.2 2036.13L1438.6 2036.14M1751.48 2080.93L1756.7 2083.34L1766.64 2084.62L1771.56 2087.17L1775.93 2090.04M1405.17 2002.76L1400.24 2006.62L1392.84 2008.95L1384.28 2010.11L1375.85 2008.93M1768.42 2044.21L1770.74 2048.51L1773.15 2053.29M1709.4 2012.35L1707.66 2015.07L1701.21 2017.02M1522.69 2004.79L1518 2007.46L1514.04 2009.97L1509.86 2014.35L1505.26 2015.61M1725.08 2070.64L1730.4 2073L1732.51 2075.72L1733.8 2078.56M1528.68 2035.4L1534.37 2031.91L1536.2 2027.33L1537.55 2025.12L1539.18 2021.83M1738.8 2048.77L1733.14 2045.19L1727.24 2043.03L1722.9 2042.19M1499.04 2076.65L1491.36 2073.9L1490.61 2070.94L1487.32 2066.78L1482.73 2063.75M1837.4 2028.53L1841.99 2025.75L1846.4 2022.74M1510.06 2008.12L1508.63 2005.63L1506.48 2003.25L1506.49 2000.59L1503.18 1997.16M1498.35 2063.5L1498.49 2065.96L1498.86 2069.08M1583.82 2030.64L1587.37 2033.28L1595.04 2032.6M1641.5 2022.24L1637.4 2019.79L1636.76 2016.7L1635.27 2011.98M1599.7 2003.97L1607.36 2002.26L1613.02 2000.33L1618.95 1998.4M1409.71 2019.34L1408.55 2023.14L1407.52 2026.86L1413.87 2028.83M1553.32 2048.55L1551.15 2045.31L1549.94 2041.4L1553.6 2039.3L1561.71 2038.84M1739.91 2047.33L1742.84 2044.09L1744.74 2041.37L1748.42 2039.68M1615.95 2082.17L1605.78 2081.47L1598.64 2079.41L1598.56 2075.3M1834.31 2036.31L1834.08 2033.8L1831.03 2029.27M1785.15 2026.62L1774.57 2026.41L1767.88 2027.29L1758.8 2026.56L1750.33 2027.7M1796.53 2052.16L1798.67 2048.41L1803.87 2045.62L1808.48 2042.9M1699.42 2064.55L1693.18 2067.06L1692.99 2070.85L1698.46 2074.01M1817.49 2043.05L1811.47 2039.53L1806.92 2038.22L1805.18 2034.07L1811.94 2030.14M1681.66 2016.58L1678.23 2013.85L1668.47 2014.11M1687.59 2051.76L1683.42 2055.5L1678.53 2057.17M1822.45 2080.3L1825.55 2077.1L1832.24 2075.32M1871 2054.13L1868 2050.54L1863.44 2049.26L1857.15 2048.82L1850.77 2051.98M1781.13 2060.04L1775.43 2062.31L1775.49 2065.93M1765.21 2057.96L1770.24 2057.03L1772.98 2053.5L1779.24 2052.19L1782.3 2047.61M1816.31 2015.67L1812.41 2017.11L1805.45 2017.78L1799.39 2018.52L1794.33 2021.11M1840.6 2071.17L1838.75 2066.77L1833.21 2065.68M1428.59 2059.3L1435.47 2055.61L1445.15 2055.16L1449.53 2053.58L1455.97 2051.79M1438.55 2005.81L1438.73 2003.25L1435.17 1999.59L1430.64 1996.91L1422.92 1995.3M1633.71 2081.24L1626 2082.46L1618.26 2081.54M1663.02 2063.78L1665.59 2061.49L1670.31 2058.73L1670.28 2055.6M1744.17 2075.27L1749.56 2073.76L1757.64 2074.96L1758.81 2079.85L1767.94 2081.64M1614.84 2003.23L1611.38 2000.63L1612.08 1995.59M1817.01 2062.11L1807.49 2062.6L1802.03 2062.51M1633.09 2086.33L1626.25 2084.52L1617.71 2083.34L1615.12 2080.46L1611.32 2076.82M1726.94 2028.7L1731.99 2030.36L1741.79 2031.36L1750.21 2030.73M1582.56 2045.67L1574.37 2043.34L1569.68 2042.35L1565.26 2040.81L1556.88 2039.23M1449.14 2041.99L1447.32 2044.64L1442.33 2045.56M1803.48 2033.63L1809.45 2037.28L1818.99 2038.87M1551.7 2033.38L1556.26 2032.55L1562.9 2034.79L1570.12 2035.33M1676.98 2005.13L1672.03 2006.28L1666.99 2006.26L1657.07 2004.71L1648.68 2006.16M1623.84 2014.07L1627.75 2010.89L1637.78 2011.35M1598.74 2002.67L1593.72 2005.77L1587.13 2008.45L1586.44 2013.21M1810.71 2084.95L1800.84 2085.65L1795.3 2084.34M1429.13 2004.35L1435.21 2001.26L1435.54 1997.08M1465.12 2012.52L1456.45 2012.79L1448.31 2012.94L1443.5 2015.57M1840.76 2011.26L1847.77 2008.89L1853.85 2009.32L1863.21 2009.89L1870.89 2010.95M1466.85 2021.55L1463.36 2016.92L1460.64 2014.29L1463.4 2011.53L1458.92 2008.6M1827.82 2017.61L1832.53 2018.58L1839.36 2017.78M1765.53 2014.53L1759.84 2012.61L1754.56 2011.01L1746.1 2012.18M1435.48 2009.06L1439.34 2012.73L1436.59 2014.86L1438.36 2018.61M1574.94 2069.1L1580.46 2068.88L1586.41 2067.72L1592.53 2064.57M1484.01 2057.45L1479.65 2058.57L1473.15 2060.73L1472.05 2064.69L1475.43 2068.55M1406.48 2059L1401.93 2058.53L1396.23 2056.62M1500.31 2040.26L1507.3 2038.97L1509.08 2036.68L1514.95 2034.12L1523.76 2032.66M1483.62 2015.81L1484.71 2018.38L1480.12 2022.61M1494.14 2012L1491.65 2014.26L1494.3 2016.73L1494.82 2020.04M1453.63 2055.56L1453.45 2051.84L1451.88 2048.56L1445.75 2046.5L1441.94 2044.46M1800.76 2054.38L1805.88 2051.65L1813.1 2049.9L1818.33 2051.81L1827.46 2052.84M1511.41 2039.5L1512.27 2036.9L1509.09 2032.84L1512.75 2028.05L1520.31 2027.22M1462.8 2080.52L1467.66 2081.31L1472.51 2079.85L1475.75 2077.63M1463.87 2017.56L1454.55 2017.14L1448.95 2020.52L1442.23 2023.06L1437.38 2026.15M1441.9 2063.71L1448.29 2064.61L1451.61 2068.39L1461.38 2069.44M1698.91 2016.56L1705.85 2019.3L1707.73 2021.44M1706.33 2066.43L1710.74 2069.19L1708.49 2073.01L1712.94 2075.04M1528.61 2051.97L1523.9 2049.42L1513.83 2049L1509.23 2045.77M1468.98 2006.76L1472.16 2009.6L1468.3 2014.25M1861 2040.73L1854.41 2040.97L1846.69 2042.6L1841.35 2045.48L1836.49 2045.93M1787.42 2005.03L1791.02 2009.73L1787.18 2013.99L1788.29 2017.46M1460.71 2040.12L1457.91 2037.42L1449.88 2035.47L1444.28 2034.73M1652.08 2012.29L1642.07 2012.6L1637.59 2014.84L1634.07 2019.16L1627.61 2019.66M1652.49 2035.09L1650.71 2038.56L1650.04 2042.03L1644.41 2043.35L1642.81 2045.74M1517.81 2018.23L1522.6 2015.6L1527.02 2013.13L1527.86 2009.07L1522.91 2006.4M1853.41 2066.81L1845.37 2069.46L1839.07 2067.38L1837.26 2063.7L1830.89 2061.83M1796.58 2024.48L1800.96 2028.88L1802.35 2032.57L1809.61 2034.17L1816.69 2036.54M1708.75 2054.07L1714.22 2054.04L1721.39 2051.85L1722.02 2049.37M1473.05 2055.27L1467.11 2054.82L1462.26 2054.92M1443.58 2010.84L1449.21 2009.37L1455.11 2008.57L1459.87 2004M1683.73 2057.22L1689.18 2060.62L1698.17 2061.24L1703.42 2064.96M1753.17 2038.18L1747.99 2038.74L1741.59 2039.1L1733.84 2037.44L1725.86 2037.05M1649.32 2073.89L1654.27 2076.58L1664.12 2077.26L1672.36 2075.29M1453.88 2051.08L1449.37 2046.78L1450.55 2042.14L1452.01 2037.35M1870.67 2039.43L1874.97 2040.28L1882.47 2042L1885.99 2043.97L1889.02 2046.33M1814.17 2040.1L1824.11 2038.41L1830.28 2035.6M1601.78 2047.37L1600.6 2051.6L1603.21 2056.07L1606.25 2060.19L1615.46 2061.63M1710.01 2016.7L1702.72 2016.79L1694.95 2019.71M1628.55 2072.11L1627.3 2067.89L1618.75 2066.21L1610.3 2066.75L1604.71 2066.77M1752.12 2038.21L1745.24 2038.54L1740.84 2041.32L1737.92 2044.85L1732.01 2045.55M1714.94 2049.82L1722.26 2050.61L1727.5 2049.84M1602.29 2044.64L1596.71 2045.3L1589.64 2046.48M1824.4 2083.99L1822.41 2086.41L1816.11 2088.11L1808.21 2087.21M1478.99 2052.77L1480.11 2048.71L1484.46 2046.99L1491.59 2044.8M1551.49 2075.89L1546.66 2077.75L1539.19 2080.84L1532.01 2082.35L1524.59 2084.03M1491.18 2010.56L1496.06 2014.29L1505.53 2015.55M1494.66 2035.32L1499.43 2030.78L1505.93 2030.29L1514.69 2032.06M1756.6 2043.7L1766.39 2045.27L1772.18 2044.63M1654.01 2015.93L1661.63 2018.64L1661.85 2023.11L1656.39 2027.15L1657.22 2031.65M1589.41 2080.89L1592.89 2077.44L1594.15 2072.36M1698.79 2067.24L1690.35 2066.57L1684.84 2064.17M1754.4 2002.75L1755.49 2000.28L1753.78 1995.26L1755.75 1993.04L1751.72 1990.68M1695.31 2070.91L1696.41 2075.55L1693.41 2078.53L1685.73 2081.58L1680.64 2083.4M1569.24 2071.89L1574.99 2069.81L1581.23 2068.5L1587.36 2068.28M1574.25 2032.4L1565.24 2032.99L1560.47 2037.09L1556.44 2039.58M1510.8 2026.35L1510.64 2023.9L1504.33 2020.81L1496.36 2019.14L1489.97 2015.07M1591.97 2039.73L1599.93 2038.01L1604.77 2034.28M1430.48 2069.1L1434.83 2070.96L1437.58 2074.98M1556.47 2070.27L1562.62 2067.13L1565.37 2062.51M1420.29 2050.06L1424.7 2053.92L1433.28 2055.44L1438.16 2057.15M1728.82 2043.02L1719.32 2042.76L1709.33 2043.14L1705.94 2046.68M1496.22 2024.89L1491.29 2026.98L1484.37 2029.36L1481.58 2033.73L1473.07 2035.6M1445.43 2066.88L1454.37 2068.05L1460.52 2066.56L1463.67 2062.38M1449.59 2020.65L1456.79 2019.14L1462.11 2020.3L1469.46 2018.59L1471.64 2013.9M1447.35 2040.27L1438.28 2042.11L1435.91 2046.72L1437.35 2051.4L1440.72 2054.15M1436.25 2045.37L1444.49 2043.97L1445.05 2040.31L1439.71 2036.85M1779.67 2003.35L1774.71 2005.3L1766.3 2006.21M1425.5 2026.41L1417.53 2028.29L1411.74 2029.35M1708.5 2058.46L1711.76 2056.25L1717.74 2055.09M1538.49 2076.35L1535.07 2072.88L1524.84 2071.63L1517.79 2073.22L1517.81 2077.73M1652.88 2011.43L1647.04 2009.17L1642.14 2006.87M1785.31 2025.27L1780.62 2022.32L1779.27 2017.3L1776.98 2013.34M1813.28 2031.45L1819 2034.98L1824.01 2036.74M1694.21 2042.21L1688.43 2043.98L1687.67 2048.03L1681.38 2051.19M1502.96 2014.54L1496.96 2015.94L1494.42 2020.75M1701.39 2043.78L1710.9 2044.37L1716.94 2044.44L1724.01 2042.57L1731.53 2040.27M1495.37 2018.25L1503.56 2018.38L1507.67 2020.25M1558.11 2005.43L1555.36 2001.78L1549.05 2001.05L1542.26 2001.63M1541.73 2029.57L1541.11 2034.9L1543.27 2039.37L1542.09 2042.47L1544.74 2045.36M1703.06 2003.5L1710.78 2002.15L1716.15 1999.41L1724.01 1997.03L1730.54 1997.01M1832.33 2061.07L1826.78 2056.7L1816.39 2056.28L1808.01 2055.09L1805.29 2052.03M1557.59 2077.74L1565.53 2079.09L1568.62 2081.23L1566 2086.19L1561.94 2088.53M1760.06 2062.37L1766.72 2059.24L1771.3 2059.4M1863.07 2051L1855.42 2053.15L1846.26 2052.19L1841.52 2052.31M1699.76 2061.12L1709.68 2060.04L1719.46 2058.83L1728.37 2059.31L1737.16 2058.93M1767.07 2027.18L1773.18 2027.69L1776.51 2031.18L1781.42 2033.25L1783.58 2036.36M1601.17 2015.3L1606.05 2015.31L1613.6 2015.56M1470.35 2037.53L1469.85 2033.42L1473.28 2031.48L1477.63 2027.4L1483.35 2024.98M1503.36 2040.94L1503.7 2044.57L1508.75 2046.55L1517.97 2045L1525.65 2043.1M1846.18 2062.97L1846.89 2067.09L1851.86 2069.23L1850.36 2074.29M1871 2010.59L1877.3 2011.14L1884.59 2009.12M1554.32 2004.5L1553.25 2000.03L1553.69 1995.72L1556.01 1991.5L1554.35 1988.92M1628.39 2022.07L1634.23 2025.28L1641.38 2027.86M1466.07 2058.52L1467.69 2061.59L1471 2063.82M1433.44 2059.28L1439.12 2057.92L1447.06 2056.59L1454.67 2058.36M1424.09 2002.59L1429.8 2005.42L1434.18 2008.02L1434.77 2012.46L1435.8 2017.68M1494.1 2051.73L1491.11 2054.26L1482.79 2056.22L1475.73 2056.73L1467.26 2058.54M1430.23 2010.07L1423.52 2011.32L1417.48 2013.16L1409.13 2012.21M1577.42 2081.97L1581.38 2085.35L1590.94 2086.65L1600.03 2085.61L1604.46 2084.38M1645.92 2017.69L1656.27 2017.01L1664.07 2017.1L1667.95 2013.68L1669.62 2010.12M1549.2 2026.33L1542.65 2024.35L1541.31 2020.43M1616.72 2023.8L1624.67 2023.47L1628.88 2022.25L1637.58 2020.09L1643.81 2018.02M1612.04 2081.51L1606.6 2083.71L1602.93 2085.85M1559.27 2033.19L1554.63 2035.44L1549.36 2039M1430.37 2065.7L1436.42 2062.94L1442.7 2060.12L1449.25 2057.26L1455.72 2055.96M1465.04 2034.48L1468.84 2032.72L1474.23 2032.81M1751.31 2034.78L1751.99 2038.7L1745.97 2042.37M1549.57 2030.82L1558.58 2030.82L1563.77 2032.87L1569 2033.52L1573.5 2038M1674.91 2033.81L1684.55 2034.7L1692.53 2037.25L1699.68 2037.2M1604.77 2040.74L1600.95 2043.88L1601.78 2046.37L1604.78 2050.18M1853.24 2051.6L1860.35 2054.39L1865.27 2055.08L1872.3 2053.25M1397.33 2037.81L1390.02 2035.41L1387.61 2031.61L1389.12 2027.55M1809.99 2015.76L1815.35 2016.44L1822.79 2016.61L1828.2 2019.29M1725.73 2022.99L1719.32 2022.69L1711.63 2025.74M1800.33 2059.63L1800.31 2064.51L1799.71 2067.04M1557.92 2020.09L1551.72 2022.68L1544.58 2022.94M1630.95 2021.46L1626.25 2017.98L1616.79 2017.27L1607.73 2019.13L1602.73 2023.75M1393.97 2057.64L1397.39 2060.75L1401.76 2063.15M1579.6 2083.16L1570.51 2084.37L1562.01 2083.8M1555 2056.98L1552.55 2052.37L1551.28 2048.32M1826.79 2063.24L1829.09 2061.19L1831.16 2057.01L1833.29 2053.7M1428.09 2004.71L1437.27 2005.75L1440.65 2008.6M1828.35 2077.71L1822.45 2075.75L1817.15 2073.45L1815.83 2068.27L1813.4 2064.68M1624.13 2026.17L1618.84 2024.82L1614.57 2020.59L1611.05 2017.56M1406.57 2057.62L1404.13 2060.54L1397.69 2063.46L1398.96 2068.44L1401.7 2072.43M1500.35 2006.8L1495.62 2010.56L1491.1 2011.69L1482.54 2010.76M1736.7 2016.33L1742.6 2013.92L1746.89 2012.47L1754.84 2011.1M1593.28 2008.3L1584.07 2007.68L1574.08 2006.5L1568.44 2005.29L1560.41 2003.2M1809.94 2020.61L1816.48 2019.56L1817.35 2014.61L1826.01 2012.46L1831.81 2009.47M1840.29 2073.01L1836.71 2074.73L1831.23 2075.38L1826.52 2079.08L1826.55 2081.87M1556.28 2082.76L1547.6 2081.48L1542.88 2082.86L1535.96 2086.19M1392.14 2044.26L1389.03 2042.04L1380.39 2040.32L1371.37 2039.01M1735.81 2016.47L1731.11 2012.69L1726.52 2009.9L1727.02 2007.18M1510.13 2085.59L1510.62 2082.46L1504.39 2079.55L1501.26 2076.66M1509.11 2015.1L1511.5 2019.68L1519.45 2020.51M1710.78 2038.01L1701.85 2038.24L1692.33 2036.79M1418.07 2054.4L1426.15 2053.1L1433.77 2052.36M1484.66 2019.28L1480.08 2021.91L1477.85 2026.74L1471.49 2027.92M1479.14 2041.59L1484.52 2042.64L1490.65 2039.99M1600.99 2024.3L1607.06 2023.99L1614.59 2026.07L1623.53 2025.63M1655.6 2026.42L1663.41 2026.84L1673.57 2027.41L1680.66 2025.4M1709.38 2023.76L1717.58 2025.38L1718.75 2030.41M1409.18 2035.35L1412.09 2032.19L1413.32 2027.66M1795.36 2060.38L1792.11 2063.56L1783.97 2063.99L1780.67 2060.15M1751.13 2084.77L1757.39 2087.16L1761.5 2089.83L1765.97 2091.03M1482.1 2061.96L1474.82 2059.66L1468.66 2057.83M1451.54 2011.38L1453.02 2014.04L1447.93 2017.17M1545.83 2052.28L1540.62 2054.8L1534.01 2056.95M1409.12 2003.86L1403.88 2000.63L1397.48 1998.03L1396.38 1994.63L1400.12 1990.46M1806.16 2026.45L1805.01 2024.22L1810.76 2021.49L1819.01 2021.1L1826.56 2020.57M1657.75 2071.48L1653.27 2069.48L1643.64 2068.87L1639.22 2070.26M1799.61 2043.98L1803.37 2046.47L1808.37 2048.24L1816.58 2046.66L1821.68 2045.13M1436.43 2076.28L1441.25 2074.47L1448.11 2073.48L1455.84 2073.65M1470.37 2056.6L1461.74 2054.02L1458.6 2050.86M1805.68 2037.7L1797.82 2036.45L1789.93 2037.26M1706.85 2072.6L1703.78 2077.64L1697.91 2081.76M1829.7 2024.24L1820.24 2022.31L1813 2023.15L1803.77 2021.45M1696.03 2029.89L1694.95 2034.58L1694.76 2038.62M1858.41 2073.46L1852.04 2074.96L1848.76 2077.93L1844.13 2081.57M1827.14 2084.48L1826.91 2087.3L1825.75 2089.52L1828.86 2092.33M1693.99 2004.96L1702.25 2005.41L1707.68 2005.83L1715.68 2003.36L1723.25 2002.64M1682.23 2030.9L1691.36 2032.2L1695.28 2033.65L1701.3 2036.14M1400.14 2004.05L1401.29 1998.98L1397.5 1996.22L1396.45 1991.83M1690.41 2024.37L1684.29 2022.07L1677.16 2020.57L1669.84 2018.86L1671.03 2015.07M1819.79 2016.5L1816.2 2019.9L1813.6 2023.99L1812.37 2026.42L1805.4 2029.13M1424.2 2054.08L1414.38 2053.78L1404 2054.05M1556.66 2023.92L1561.59 2023.27L1568 2026.16M1473.23 2044.51L1476.96 2049.07L1487.22 2049.84L1496.13 2049.38M1673.49 2044.98L1675.35 2042.58L1680.29 2040.21L1685.56 2036.46M1616.95 2058.33L1610.28 2056.92L1608.2 2054.07M1785.63 2074.53L1793.4 2074.35L1800.76 2076.43L1806.69 2075.14L1811.32 2073.69M1502.23 2027.94L1496.67 2024.73L1490.73 2023.08M1689.96 2027.66L1693.49 2024.43L1692.9 2021.93L1690.85 2019.44L1689.32 2015.33M1760.37 2022.29L1752.65 2023.87L1746.44 2027.37M1434.55 2051.38L1430.41 2049.91L1426.54 2047.4L1422.87 2045.89M1413.6 2080.95L1406.71 2079.58L1398.94 2080.72L1389.94 2079.78M1606.14 2073.15L1599.21 2072.43L1595.89 2067.97M1672.03 2014.7L1671.78 2016.97L1668.57 2021.93L1665.55 2023.97M1738.82 2019.96L1742.61 2016.27L1740.87 2013.22L1731.29 2011.89L1725.96 2011.15M1666.13 2041.42L1655.47 2041.14L1647.51 2040.44L1642.78 2037.47L1639.7 2034.14M1511.41 2069.34L1518.43 2070.58L1522.42 2073.05L1527.03 2075.61M1583.14 2044.14L1574.5 2044.14L1568.73 2043.78L1563.79 2041.59L1563.13 2039.03M1536.07 2044.52L1539.84 2046.49L1540.06 2049.43M1660.47 2015.4L1656.74 2011.95L1653.8 2007.56M1531.73 2056.94L1523.05 2056.5L1516.83 2054.94M1728.82 2031.24L1720.44 2032.87L1712.82 2031.53L1707 2032.41L1701.82 2031.4M1403.65 2016.78L1397.69 2018.47L1396.43 2021.84L1400.14 2024.64M1846.9 2034.81L1849.41 2039.24L1848.04 2044.19L1840.66 2045.17M1845.77 2043.18L1839.11 2046.14L1832.43 2048.18M1656.15 2059.05L1654.86 2055.92L1652.39 2051.74M1461.08 2025.92L1457.15 2028.68L1458.4 2031.29L1463.08 2033.68L1469.54 2033.89M1851.17 2065.33L1843.06 2064.78L1837.07 2062L1834.77 2059.65M1759.94 2029.8L1749.77 2030.18L1741.62 2030.45L1735.64 2029.59L1727.49 2031.62M1722.63 2038.8L1725.74 2043.09L1730.2 2047.72M1608.15 2053.78L1606.27 2049.43L1609.83 2047.04L1610.01 2042.91M1559.63 2072.81L1555.78 2075.48L1548.35 2075.35M1703.44 2052.2L1701.71 2054.6L1705.77 2057.01L1704.12 2062.03M1659.84 2006.68L1652.9 2008.62L1644.75 2008.72L1638.89 2011.31L1628.52 2011.77M1705.51 2003.06L1704.74 2005.73L1702.01 2009.95L1700.84 2014.22L1704.24 2017.1M1721.67 2016.83L1728.52 2014.65L1726.79 2010.72L1729.83 2006.56M1627.13 2071.44L1629.81 2074.31L1633.68 2077.15M1392.96 2034.79L1385.28 2036.26L1385.31 2041.08L1378.26 2044.8M1453.23 2084.2L1450.04 2080.16L1445.32 2075.58L1439.88 2074.31M1771.76 2008.63L1780.07 2008.03L1785.15 2008.84L1788.32 2012.55M1614.23 2037.36L1610.56 2033.05L1604.7 2028.93L1599.79 2028.43L1597.22 2025.47M1448.8 2065.84L1453.98 2062.73L1459.85 2062.12L1466.74 2063.61M1593.88 2052.5L1602.24 2050.85L1604.49 2048.72L1603.8 2045.42M1619.4 2064.82L1614.67 2068.43L1610.13 2070.21M1671.74 2079.24L1668.02 2077.36L1662.26 2076.9L1659.04 2074.8L1657.04 2070.38M1810.2 2035.4L1803.75 2036.96L1797.43 2038.15M1801.73 2017.01L1807.47 2016.56L1811.84 2018.38L1816.33 2020.32L1821.24 2023.04M1541.27 2009.64L1535.17 2008.02L1533.21 2003.02M1774.96 2074.54L1768.12 2075.17L1762.2 2074.4L1753.61 2076.58L1748.66 2078.77M1811.8 2011.25L1804.05 2013.42L1799.25 2017.12L1800.04 2020.15M1536.75 2011.85L1536.54 2008.73L1538.01 2004.84M1602.75 2052.07L1600.4 2047.84L1592.75 2046.19L1584.02 2045.2M1576.21 2071.3L1578.43 2073.97L1584.91 2075.9L1587 2078.78M1839.54 2042.7L1829.61 2043.17L1825.04 2044.39M1776.74 2015.12L1770.37 2013.54L1764.43 2010.91M1560.11 2050.25L1555.05 2052.52L1554.08 2055.17" fill="none" stroke="#f1e47a" stroke-width="0.7" opacity="0.75" stroke-linecap="round" stroke-linejoin="round"/>
</g>
<path d="M1391.61 2042.14C1405.68 2043.93 1451.58 2049.73 1476.07 2052.86C1500.57 2055.98 1507.92 2057.92 1538.57 2060.89C1569.23 2063.87 1631.88 2068.48 1660 2070.71C1688.12 2072.95 1681.55 2071.46 1707.29 2074.29C1733.02 2077.11 1792.61 2085.36 1814.43 2087.68C1836.24 2090 1834.22 2088.12 1838.18 2088.21" fill="none" stroke="#e0866e" stroke-width="1" opacity="0.6"/>
<path d="M1838.54 2072.14L1872.46 2038.21L1872.46 2075.71L1838 2132.86Z" fill="#f08f8c" opacity="0.9"/>
<path d="M1447.5 2234.5L1447.1 2230.6L1446.6 2224.9L1446 2218.7L1445.2 2213L1444.3 2208.3L1443.3 2204.1L1442.3 2199.9L1441.3 2195.2L1440.4 2189.8L1439.6 2184.2L1438.8 2178.2L1438.3 2172.1L1438.2 2165.1L1438.4 2157.3L1438.7 2150.3L1438.8 2145.4L1437.9 2145.3L1437.6 2150.2L1437.1 2157.3L1436.7 2165.1L1436.6 2172.2L1436.9 2178.4L1437.5 2184.4L1438.2 2190.2L1438.9 2195.6L1439.7 2200.4L1440.6 2204.7L1441.5 2208.9L1442.2 2213.4L1442.7 2219L1443.1 2225.2L1443.3 2230.8L1443.5 2234.8Z" fill="#58bfe2"/>
<path d="M1441.6 2194.6L1439.8 2191.6L1437.2 2187.3L1434.5 2182.6L1432 2178.8L1430 2176L1428.2 2173.7L1426.4 2171.8L1424.5 2169.9L1422.3 2168L1419.9 2166.3L1417.8 2164.8L1416.3 2163.8L1415.8 2164.4L1417.3 2165.5L1419.3 2167.1L1421.6 2168.9L1423.6 2170.8L1425.4 2172.7L1427 2174.7L1428.6 2177L1430.4 2179.8L1432.6 2183.7L1435 2188.5L1437.2 2193L1438.7 2196.1Z" fill="#58bfe2"/>
<path d="M1439.2 2171.8L1440.4 2170.8L1442.1 2169.6L1444.1 2168.2L1446.1 2166.6L1448 2164.9L1449.9 2163L1451.7 2161.2L1452.9 2159.9L1452.4 2159.4L1451 2160.5L1449.1 2162L1446.9 2163.7L1444.9 2165.1L1442.9 2166.3L1440.8 2167.4L1438.9 2168.3L1437.5 2169Z" fill="#58bfe2"/>
<path d="M1447 2204.5L1447.2 2201.1L1447.6 2196.3L1448.2 2191.1L1448.9 2186.6L1449.9 2182.8L1451.1 2179.2L1452.2 2176.2L1453 2174.1L1452.3 2173.8L1451.4 2175.9L1450.1 2178.9L1448.7 2182.4L1447.4 2186.3L1446.4 2190.8L1445.5 2196L1444.7 2200.8L1444 2204.1Z" fill="#58bfe2"/>
<path d="M1574.7 2285L1575.2 2280.2L1576.1 2273.2L1577 2265.4L1577.8 2258.1L1578.3 2251.8L1578.8 2245.7L1579.1 2239.1L1579.2 2231.1L1578.8 2221L1578 2209.5L1577.3 2197.6L1576.9 2186.4L1577 2175.3L1577.4 2164L1577.9 2154.1L1578.2 2147.2L1577.1 2147.1L1576.6 2154L1575.9 2164L1575.2 2175.3L1574.8 2186.4L1575 2197.7L1575.5 2209.6L1575.9 2221.1L1576.1 2231.1L1575.8 2239L1575.3 2245.4L1574.7 2251.4L1573.9 2257.6L1573 2264.9L1571.8 2272.6L1570.7 2279.5L1569.9 2284.3Z" fill="#58bfe2"/>
<path d="M1577.8 2235.7L1576 2231.5L1573.6 2225.3L1570.8 2218.6L1568.3 2212.7L1566.1 2207.7L1564 2203.1L1561.7 2198.7L1558.8 2194.7L1555.2 2191L1551 2187.7L1546.6 2184.8L1542.3 2182.2L1537.8 2179.9L1533.1 2178L1528.9 2176.4L1526 2175.3L1525.7 2176.2L1528.6 2177.4L1532.7 2179.1L1537.2 2181.1L1541.6 2183.5L1545.7 2186.2L1549.9 2189.2L1553.8 2192.5L1557.2 2196L1559.7 2199.9L1561.8 2204.1L1563.6 2208.8L1565.6 2213.8L1567.9 2219.8L1570.3 2226.5L1572.5 2232.8L1574 2237.1Z" fill="#58bfe2"/>
<path d="M1579.4 2230L1580.9 2226L1583 2220.2L1585.5 2213.9L1587.8 2208.4L1589.8 2203.9L1591.8 2199.7L1593.9 2195.9L1596.3 2192.4L1599 2189.3L1601.9 2186.5L1605.1 2183.9L1608.4 2181.7L1612.2 2179.6L1616.6 2177.8L1620.6 2176.3L1623.3 2175.2L1623 2174.4L1620.2 2175.4L1616.2 2176.8L1611.7 2178.5L1607.6 2180.5L1604.2 2182.7L1600.8 2185.2L1597.7 2188L1594.7 2191.2L1592.1 2194.7L1589.8 2198.6L1587.6 2202.8L1585.4 2207.3L1582.8 2212.8L1580.1 2219L1577.6 2224.7L1575.9 2228.6Z" fill="#58bfe2"/>
<path d="M1675.9 2306.4L1676.5 2302.5L1677.3 2296.9L1678.3 2290.6L1679.1 2284.9L1679.9 2280L1680.7 2275.3L1681.3 2270.4L1681.5 2265L1680.9 2259.2L1679.8 2253.1L1678.8 2246.8L1678.5 2240L1679.3 2231.8L1680.8 2222.5L1682.4 2213.9L1683.4 2207.9L1682.6 2207.8L1681.3 2213.7L1679.5 2222.3L1677.8 2231.6L1676.8 2240L1676.9 2247L1677.8 2253.4L1678.8 2259.4L1679.1 2265L1678.8 2270.1L1678.1 2274.8L1677.1 2279.5L1676.2 2284.4L1675.2 2290.1L1674 2296.3L1673 2301.9L1672.2 2305.8Z" fill="#58bfe2"/>
<path d="M1680.7 2267.6L1679.2 2265.7L1677 2262.9L1674.3 2259.8L1671.3 2257L1668 2254.6L1664.4 2252.2L1660.5 2250.1L1656.5 2248.2L1652 2246.6L1647 2245.2L1642.5 2244L1639.4 2243.2L1639.1 2243.9L1642.2 2244.9L1646.7 2246.2L1651.5 2247.8L1655.9 2249.6L1659.7 2251.6L1663.3 2253.9L1666.7 2256.3L1669.7 2258.7L1672.4 2261.5L1674.8 2264.6L1676.7 2267.5L1678.1 2269.5Z" fill="#58bfe2"/>
<path d="M1681.7 2276.5L1683 2274L1684.7 2270.5L1686.8 2266.8L1689.1 2264L1691.6 2262.1L1694.6 2260.7L1697.9 2259.5L1701 2258.5L1704.4 2257.7L1707.9 2257.1L1711.2 2256.7L1713.4 2256.5L1713.3 2255.7L1711.1 2255.9L1707.8 2256.1L1704.2 2256.5L1700.7 2257.2L1697.4 2258L1694 2259L1690.7 2260.4L1687.6 2262.4L1684.9 2265.4L1682.4 2269.1L1680.4 2272.6L1678.9 2274.9Z" fill="#58bfe2"/>
<path d="M1678.1 2253.8L1679 2253.3L1680.2 2252.8L1681.6 2252.1L1683.2 2251.5L1685.2 2250.9L1687.5 2250.2L1689.6 2249.7L1691.1 2249.2L1691 2248.6L1689.4 2248.8L1687.2 2249.2L1684.9 2249.5L1682.8 2249.9L1681.1 2250.3L1679.5 2250.7L1678.1 2251L1677.2 2251.2Z" fill="#58bfe2"/>
<path d="M1765.5 2312.2L1767.2 2307.4L1769.6 2300.4L1772.1 2292.5L1774 2285L1774.9 2278.1L1775.3 2271.3L1775.3 2264.6L1775.5 2257.9L1775.6 2251.2L1775.6 2244.5L1775.6 2237.8L1776 2231.2L1776.8 2224.3L1777.9 2217.2L1779.1 2210.4L1780.2 2204.4L1781.1 2199.1L1782.1 2194.3L1782.9 2190.3L1783.5 2187.4L1782.5 2187.2L1781.8 2190L1780.9 2194L1779.8 2198.8L1778.7 2204.1L1777.5 2210.1L1776.2 2216.9L1774.9 2224L1773.9 2231L1773.4 2237.7L1773.1 2244.4L1773 2251.1L1772.7 2257.8L1772.4 2264.5L1772.1 2271.2L1771.6 2277.8L1770.6 2284.3L1768.5 2291.4L1765.8 2299L1763.1 2305.9L1761.2 2310.6Z" fill="#58bfe2"/>
<path d="M1773.8 2260.3L1772.3 2258.3L1770.1 2255.3L1767.4 2251.8L1764.5 2248L1761.2 2243.9L1757.4 2239.2L1753.5 2234.6L1749.8 2230.4L1746.5 2226.8L1743.2 2223.6L1740.1 2220.7L1737 2218L1733.7 2215.6L1730.3 2213.3L1727.3 2211.5L1725.2 2210.2L1724.7 2210.9L1726.8 2212.3L1729.7 2214.2L1733 2216.6L1736.1 2219.1L1739.1 2221.8L1742.1 2224.8L1745.1 2228.1L1748.3 2231.7L1751.8 2236L1755.5 2240.8L1759.1 2245.5L1762.2 2249.8L1764.9 2253.6L1767.3 2257.3L1769.3 2260.3L1770.7 2262.5Z" fill="#58bfe2"/>
<path d="M1775.7 2238.2L1777.7 2237.2L1780.7 2235.7L1784.1 2234L1787.2 2232.1L1790.1 2229.9L1792.9 2227.5L1795.5 2225L1797.8 2222.7L1799.8 2220.5L1801.5 2218.4L1802.9 2216.6L1803.9 2215.3L1803.2 2214.7L1802.1 2215.9L1800.6 2217.6L1798.8 2219.6L1796.8 2221.6L1794.4 2223.7L1791.6 2226L1788.7 2228.2L1785.9 2230L1782.8 2231.5L1779.5 2232.9L1776.4 2233.9L1774.2 2234.7Z" fill="#58bfe2"/>
<path d="M1775.9 2276.3L1776.9 2272.9L1778.5 2268L1780.3 2262.8L1782.4 2258.5L1784.5 2255.4L1786.9 2252.6L1789.6 2250.2L1792.5 2248L1795.7 2246L1799.2 2244.4L1802.9 2242.9L1806.4 2241.6L1810.1 2240.3L1813.9 2239.3L1817.3 2238.4L1819.7 2237.8L1819.5 2236.9L1817.1 2237.4L1813.7 2238.2L1809.8 2239.1L1806 2240.2L1802.4 2241.4L1798.6 2242.8L1794.8 2244.4L1791.4 2246.3L1788.2 2248.5L1785.3 2250.9L1782.6 2253.8L1780.1 2257.2L1777.7 2261.7L1775.5 2266.9L1773.6 2271.8L1772.3 2275.1Z" fill="#58bfe2"/>
<path d="M1871.6 2240.2L1872.3 2230.5L1873.4 2216.7L1874.6 2201.2L1875.4 2186.5L1875.8 2172.8L1875.9 2158.8L1875.9 2145.3L1875.8 2132.9L1875.5 2120.9L1875 2109.4L1874.5 2099.6L1874.2 2092.7L1873.2 2092.7L1873.5 2099.6L1873.8 2109.4L1874.1 2120.9L1874.1 2132.9L1874 2145.3L1873.8 2158.8L1873.4 2172.7L1872.7 2186.4L1871.6 2201L1870.1 2216.4L1868.7 2230.2L1867.6 2239.8Z" fill="#58bfe2"/>
<path d="M1873.3 2154.8L1871.8 2155.9L1869.7 2157.4L1867.3 2158.8L1865 2159.7L1862.4 2159.8L1859.3 2159.4L1856.5 2158.8L1854.5 2158.4L1854.3 2159.1L1856.3 2159.6L1859.1 2160.5L1862.3 2161.2L1865.3 2161.4L1868.1 2160.7L1870.8 2159.4L1873.2 2158.1L1874.8 2157.3Z" fill="#58bfe2"/>
<path d="M1875.3 2132.3L1874.2 2130.3L1872.6 2127.5L1870.9 2124.4L1869.3 2121.8L1867.7 2119.8L1866 2118L1864.6 2116.7L1863.6 2115.7L1863.1 2116.1L1864 2117.2L1865.4 2118.7L1866.8 2120.5L1868.1 2122.5L1869.5 2125.1L1870.8 2128.3L1872 2131.3L1872.9 2133.4Z" fill="#58bfe2"/>
<path d="M1850.8 2279.2L1850.5 2272.1L1850 2261.8L1849.6 2250.5L1849.3 2240L1849.3 2230.7L1849.5 2221.6L1849.7 2212.8L1849.8 2204.3L1849.8 2195.6L1849.9 2186.9L1849.8 2179.3L1849.8 2173.9L1849 2173.9L1848.9 2179.3L1848.8 2186.9L1848.6 2195.6L1848.3 2204.3L1848 2212.7L1847.6 2221.6L1847.3 2230.7L1847 2240L1847 2250.5L1847.1 2261.9L1847.3 2272.2L1847.3 2279.3Z" fill="#58bfe2"/>
<path d="M1850.3 2235.9L1849.4 2234.5L1848.3 2232.6L1847 2230.5L1846 2229L1845 2228.1L1844.1 2227.6L1843.4 2227.4L1842.9 2227.2L1842.7 2227.8L1843.1 2228L1843.8 2228.3L1844.4 2228.8L1845 2229.6L1845.8 2231.2L1846.6 2233.4L1847.4 2235.5L1847.8 2237Z" fill="#58bfe2"/>
<path d="M1866.8 2199.6L1868.9 2199.3L1871.8 2199.1L1874.9 2199L1877.3 2199.2L1879.2 2199.7L1881 2200.6L1882.5 2201.5L1883.6 2202.1L1884.2 2201.1L1883.3 2200.3L1881.9 2199.2L1880.1 2197.9L1877.9 2196.9L1875.2 2196.2L1872 2195.6L1869.1 2195.1L1867 2194.7Z" fill="#58bfe2"/>
<path d="M1379.5 2251.4L1382.8 2249.5L1387.6 2247L1392.9 2244.1L1398 2241.1L1402.8 2237.7L1407.9 2233.9L1412.4 2230.4L1415.5 2227.9L1414.8 2227.1L1411.6 2229.3L1406.9 2232.5L1401.6 2235.9L1396.6 2238.9L1391.5 2241.4L1386 2243.8L1381.1 2245.8L1377.6 2247.2Z" fill="#f0523c"/>
<path d="M1444 2243.5L1443.8 2240.7L1443.6 2236.6L1443.3 2231.9L1442.7 2227.3L1441.8 2222.8L1440.7 2218.3L1439.4 2213.7L1437.9 2209.2L1436.1 2204.7L1434.1 2200.3L1432.1 2195.9L1430.6 2191.5L1429.7 2186.9L1429.1 2182.1L1428.8 2177.2L1428.6 2172.2L1428.9 2167.1L1429.6 2161.9L1430.2 2156.4L1430.2 2150.7L1429.1 2144L1427.4 2136.7L1425.7 2130.2L1424.5 2125.6L1423.6 2125.8L1424.7 2130.4L1426.3 2137L1427.8 2144.3L1428.7 2150.8L1428.6 2156.3L1427.9 2161.7L1427.1 2166.9L1426.7 2172.1L1426.7 2177.3L1426.9 2182.3L1427.4 2187.2L1428.3 2192.1L1429.7 2196.8L1431.6 2201.4L1433.6 2205.8L1435.2 2210.1L1436.5 2214.6L1437.7 2219.1L1438.6 2223.5L1439.3 2227.7L1439.7 2232.2L1439.9 2236.7L1439.9 2240.8L1439.9 2243.6Z" fill="#f0523c"/>
<path d="M1438 2210.7L1439.5 2208.4L1441.9 2205.2L1444.4 2201.5L1446.7 2197.9L1448.7 2194.5L1450.6 2190.9L1452.4 2187.2L1453.7 2183.2L1454.6 2178.7L1455.2 2174L1455.4 2169.3L1455.3 2165L1454.8 2161L1454 2157.3L1452.8 2153.9L1451.4 2150.5L1449.5 2146.9L1447 2143.3L1444.7 2140.2L1443.2 2138L1442.5 2138.5L1444 2140.7L1446.2 2143.9L1448.5 2147.5L1450.3 2151L1451.6 2154.3L1452.6 2157.7L1453.2 2161.3L1453.6 2165L1453.6 2169.3L1453.2 2173.8L1452.6 2178.4L1451.6 2182.6L1450.2 2186.3L1448.4 2189.7L1446.4 2193.1L1444.3 2196.4L1442 2199.9L1439.3 2203.4L1436.9 2206.4L1435.2 2208.6Z" fill="#f0523c"/>
<path d="M1430.4 2181.1L1429 2180.6L1427.2 2179.8L1425 2178.9L1422.7 2178.2L1420.3 2177.5L1417.6 2177L1415.2 2176.5L1413.5 2176.1L1413.2 2177.1L1414.8 2177.6L1417.2 2178.5L1419.7 2179.4L1421.9 2180.4L1423.8 2181.5L1425.7 2182.7L1427.3 2183.8L1428.5 2184.6Z" fill="#f0523c"/>
<path d="M1450.3 2189.3L1452 2187.2L1454.3 2184.4L1457.2 2181.2L1460.5 2178.5L1464.3 2175.9L1468.7 2173.4L1473.3 2171.2L1477.9 2169.3L1482.7 2167.8L1487.8 2166.8L1492.4 2166L1495.6 2165.4L1495.4 2164.6L1492.2 2165.1L1487.6 2165.7L1482.4 2166.6L1477.4 2167.9L1472.7 2169.6L1467.8 2171.7L1463.2 2174.1L1459.1 2176.5L1455.5 2179.4L1452.3 2182.5L1449.7 2185.2L1447.9 2187.1Z" fill="#f0523c"/>
<path d="M1577 2263L1576.5 2259.4L1575.9 2254.2L1575 2248.4L1573.8 2243.1L1572.1 2238.6L1570 2234.5L1567.9 2230.7L1566.4 2227.1L1565.5 2223.8L1564.8 2220.9L1564.5 2217.6L1564.5 2213.3L1565.1 2207.5L1566.2 2200.6L1567.2 2193.4L1567.7 2186.4L1567.3 2179.4L1566.4 2172.2L1565.4 2165.8L1564.7 2161.4L1563.8 2161.5L1564.3 2166L1565.2 2172.3L1565.9 2179.5L1566.1 2186.4L1565.5 2193.2L1564.2 2200.3L1563 2207.2L1562.2 2213.1L1562.1 2217.7L1562.3 2221.2L1562.9 2224.4L1563.9 2227.9L1565.4 2231.9L1567.3 2235.9L1569.3 2239.9L1570.7 2244L1571.7 2249L1572.3 2254.6L1572.7 2259.8L1573 2263.4Z" fill="#f0523c"/>
<path d="M1565.3 2209.7L1562.6 2208.2L1558.7 2206L1554.2 2203.5L1549.7 2201.2L1545.2 2199.4L1540.5 2197.8L1535.9 2196.2L1531.6 2194.5L1527.2 2192.5L1522.8 2190.3L1519 2188.3L1516.3 2186.9L1515.8 2187.7L1518.4 2189.3L1522.2 2191.5L1526.5 2193.9L1530.8 2196.2L1535.2 2198.1L1539.7 2199.9L1544.3 2201.8L1548.5 2203.8L1552.7 2206.2L1556.9 2208.9L1560.6 2211.4L1563.2 2213.2Z" fill="#f0523c"/>
<path d="M1573.6 2243.2L1575.9 2240.9L1579.2 2237.8L1582.9 2234L1586 2230.2L1588.3 2226.5L1590.4 2222.7L1592.1 2218.4L1593.1 2213.4L1593.3 2207.2L1592.8 2200.1L1592 2193L1590.9 2186.3L1589.4 2179.8L1587.5 2173.4L1585.6 2167.9L1584.3 2164L1583.5 2164.2L1584.6 2168.2L1586.3 2173.8L1588.1 2180.2L1589.4 2186.6L1590.3 2193.2L1590.9 2200.3L1591.1 2207.2L1590.8 2213.1L1589.7 2217.7L1588.1 2221.6L1586 2225L1583.6 2228.4L1580.6 2231.9L1576.9 2235.3L1573.5 2238.3L1571 2240.4Z" fill="#f0523c"/>
<path d="M1592.3 2216.2L1594.3 2213.7L1597.1 2210.3L1600.3 2206.5L1603.4 2203.3L1606.4 2200.7L1609.4 2198.2L1612.5 2196L1615.4 2194.2L1618.6 2193L1621.8 2192.2L1624.8 2191.7L1626.8 2191.3L1626.7 2190.5L1624.6 2190.8L1621.6 2191.1L1618.2 2191.8L1614.8 2192.9L1611.6 2194.6L1608.4 2196.7L1605.1 2199.1L1601.9 2201.7L1598.5 2204.8L1595 2208.4L1591.9 2211.6L1589.7 2213.8Z" fill="#f0523c"/>
<path d="M1658.1 2307.8L1657.8 2303.5L1657.4 2297.4L1656.8 2290.6L1655.8 2284.3L1654 2279.1L1651.6 2274.4L1649.5 2269.9L1648.3 2264.9L1648.5 2259.1L1649.5 2252.6L1650.8 2246.1L1651.6 2240.1L1651.6 2234.4L1651.2 2229L1650.7 2224.4L1650.4 2221.2L1649.5 2221.3L1649.7 2224.5L1650.1 2229.1L1650.3 2234.4L1650.2 2239.9L1649.3 2245.8L1647.8 2252.3L1646.6 2258.9L1646.2 2265.1L1647.4 2270.6L1649.4 2275.4L1651.6 2280.1L1653.1 2285L1653.8 2290.9L1654.1 2297.6L1654.3 2303.7L1654.3 2307.9Z" fill="#f0523c"/>
<path d="M1649.3 2263.7L1646.8 2261.8L1643.2 2259.1L1639.2 2256.1L1635.3 2253.5L1631.3 2251.4L1627.1 2249.5L1623.3 2247.9L1620.7 2246.8L1620.3 2247.5L1622.9 2248.8L1626.5 2250.6L1630.6 2252.8L1634.3 2255.1L1637.8 2257.9L1641.5 2261.1L1644.8 2264.2L1647 2266.3Z" fill="#f0523c"/>
<path d="M1655.5 2280.7L1657.8 2278.7L1661.2 2276L1664.8 2272.8L1667.9 2269.4L1670.3 2266L1672.4 2262.4L1674 2258.5L1675 2254.4L1675.3 2250L1674.8 2245.2L1674 2240.5L1672.9 2236.2L1671.4 2232.2L1669.5 2228.4L1667.7 2225.1L1666.4 2222.8L1665.7 2223.2L1666.9 2225.6L1668.6 2228.9L1670.3 2232.7L1671.6 2236.6L1672.5 2240.8L1673.2 2245.4L1673.4 2250L1673.1 2254.1L1672 2257.8L1670.4 2261.3L1668.3 2264.7L1665.9 2267.7L1662.9 2270.7L1659.3 2273.6L1655.8 2276.1L1653.4 2277.9Z" fill="#f0523c"/>
<path d="M1674.8 2255.6L1677 2254.1L1680.1 2252L1683.6 2249.8L1686.9 2247.9L1690.2 2246.4L1693.8 2245L1697 2243.8L1699.2 2243L1699 2242.3L1696.7 2243L1693.4 2243.9L1689.7 2245.1L1686.2 2246.4L1682.7 2248.1L1679 2250L1675.6 2251.8L1673.3 2253Z" fill="#f0523c"/>
<path d="M1760 2325.8L1760.1 2319.8L1760.3 2311L1760.4 2301.6L1760.3 2293.5L1759.7 2287.4L1758.9 2282.1L1758 2277.2L1757.3 2272L1756.8 2266.3L1756.4 2260.4L1756.1 2254.5L1756.1 2248.9L1756.3 2243.4L1756.7 2237.7L1757.2 2232.8L1757.6 2229.3L1756.6 2229.2L1756.2 2232.7L1755.6 2237.6L1755 2243.3L1754.6 2248.9L1754.5 2254.5L1754.6 2260.5L1754.8 2266.4L1755.2 2272.2L1755.7 2277.5L1756.5 2282.5L1757.2 2287.6L1757.5 2293.6L1757.4 2301.6L1756.9 2310.9L1756.4 2319.6L1756 2325.6Z" fill="#f0523c"/>
<path d="M1757.1 2274.2L1755.1 2273.1L1752.2 2271.6L1749.1 2269.7L1746.3 2267.7L1743.8 2265.4L1741.4 2262.7L1739.2 2259.9L1737.1 2257.4L1735.4 2255.1L1733.8 2252.9L1732.5 2251L1731.6 2249.6L1730.9 2250L1731.7 2251.5L1732.9 2253.5L1734.3 2255.8L1736 2258.3L1737.9 2260.9L1740 2263.9L1742.3 2266.8L1744.7 2269.4L1747.5 2271.8L1750.6 2274L1753.4 2275.9L1755.3 2277.2Z" fill="#f0523c"/>
<path d="M1761.3 2294.2L1762.5 2290.8L1764.3 2286L1766.3 2280.8L1767.9 2276.1L1769.1 2272.2L1770.1 2268.6L1770.8 2265.1L1771.2 2261.5L1771 2257.5L1770.3 2253.3L1769.6 2249.6L1769.1 2247.1L1768.3 2247.2L1768.7 2249.8L1769.3 2253.5L1769.8 2257.6L1769.8 2261.4L1769.3 2264.8L1768.5 2268.1L1767.3 2271.6L1766 2275.4L1764.1 2279.9L1761.9 2285L1759.8 2289.7L1758.3 2293Z" fill="#f0523c"/>
<path d="M1756.5 2250.5L1758.1 2250.1L1760.4 2249.5L1763.1 2248.8L1765.4 2248L1767.5 2247L1769.5 2245.8L1771.3 2244.7L1772.5 2243.9L1772.1 2243.2L1770.8 2243.8L1769 2244.7L1766.9 2245.6L1764.9 2246.3L1762.6 2246.7L1760 2247.1L1757.6 2247.2L1755.9 2247.3Z" fill="#f0523c"/>
<path d="M1881.8 2209.5L1881.1 2202L1880.1 2191.3L1879.2 2179.4L1878.6 2168.6L1878.5 2159.1L1878.8 2149.9L1879.1 2141.1L1879.1 2132.9L1878.8 2124.9L1878.1 2117.2L1877.5 2110.6L1877.1 2106L1876.4 2106.1L1876.7 2110.7L1877.2 2117.3L1877.7 2124.9L1877.9 2132.9L1877.7 2141L1877.3 2149.8L1876.8 2159L1876.7 2168.6L1877.1 2179.5L1877.7 2191.4L1878.4 2202.2L1878.8 2209.8Z" fill="#f0523c"/>
<path d="M1845.5 2293.5L1845.1 2287L1844.6 2277.6L1844.2 2267.2L1843.9 2257.9L1844 2249.7L1844.2 2241.8L1844.4 2234.3L1844.4 2227.5L1844 2221.2L1843.4 2215.3L1842.8 2210.4L1842.3 2206.9L1841.5 2207L1841.9 2210.5L1842.4 2215.4L1842.8 2221.2L1843 2227.5L1842.9 2234.3L1842.5 2241.7L1842 2249.6L1841.7 2257.9L1841.7 2267.3L1841.8 2277.7L1841.9 2287.1L1842 2293.6Z" fill="#f0523c"/>
<path d="M1842.5 2247.9L1841 2249.4L1838.8 2251.6L1836.4 2253.8L1834.4 2255.6L1832.8 2256.7L1831.4 2257.5L1830.2 2258L1829.3 2258.5L1829.6 2259L1830.5 2258.7L1831.7 2258.3L1833.3 2257.6L1835.1 2256.6L1837.4 2255L1840 2253.1L1842.5 2251.2L1844.2 2250Z" fill="#f0523c"/>
<path d="M1868.6 2193.4L1870 2193.3L1871.9 2193.2L1873.9 2193.2L1875.5 2193.5L1876.8 2194.2L1878.1 2195.4L1879.2 2196.6L1880 2197.4L1880.6 2196.9L1879.9 2196L1879 2194.6L1877.7 2193.1L1876.2 2191.9L1874.3 2191.2L1872.1 2190.7L1870.1 2190.4L1868.8 2190.2Z" fill="#f0523c"/>
<path d="M1379.43 2260.54C1382.4 2258.01 1391.33 2249.52 1397.29 2245.36C1403.24 2241.19 1407.7 2237.47 1415.14 2235.54C1422.58 2233.6 1433.89 2231.82 1441.93 2233.75C1449.96 2235.68 1455.92 2242.23 1463.36 2247.14C1470.8 2252.05 1478.24 2257.86 1486.57 2263.21C1494.9 2268.57 1502.94 2275.27 1513.36 2279.29C1523.77 2283.3 1537.17 2285.54 1549.07 2287.32C1560.98 2289.11 1572.88 2288.81 1584.79 2290C1596.69 2291.19 1606.21 2291.64 1620.5 2294.46C1634.79 2297.29 1661.57 2304.43 1670.5 2306.96C1679.43 2309.49 1664.55 2308.9 1674.07 2309.64C1683.6 2310.39 1712.76 2310.24 1727.64 2311.43C1742.52 2312.62 1752.94 2314.4 1763.36 2316.79C1773.77 2319.17 1781.21 2322.29 1790.14 2325.71C1799.07 2329.14 1809.49 2334.79 1816.93 2337.32C1824.37 2339.85 1830.47 2341.64 1834.79 2340.89C1839.1 2340.15 1841.63 2337.77 1842.82 2332.86C1844.01 2327.95 1840.29 2318.57 1841.93 2311.43C1843.57 2304.29 1848.48 2296.55 1852.64 2290C1856.81 2283.45 1864.1 2280.48 1866.93 2272.14C1869.76 2263.81 1868.71 2251.31 1869.61 2240C1870.5 2228.69 1871.84 2210.24 1872.29 2204.29" fill="none" stroke="#58bfe2" stroke-width="5.2" stroke-linecap="round" stroke-linejoin="round" />
<path d="M1378.54 2249.29C1381.66 2248.48 1389.7 2245.42 1397.29 2244.46C1404.88 2243.51 1415.14 2242.98 1424.07 2243.57C1433 2244.17 1441.93 2245.21 1450.86 2248.04C1459.79 2250.86 1468.71 2256.82 1477.64 2260.54C1486.57 2264.26 1492.52 2268.12 1504.43 2270.36C1516.33 2272.59 1537.17 2272.74 1549.07 2273.93C1560.98 2275.12 1566.93 2275.42 1575.86 2277.5C1584.79 2279.58 1592.23 2283.01 1602.64 2286.43C1613.06 2289.85 1627.05 2294.46 1638.36 2298.04C1649.67 2301.61 1661.57 2304.73 1670.5 2307.86C1679.43 2310.98 1682.4 2313.96 1691.93 2316.79C1701.45 2319.61 1712.76 2322.98 1727.64 2324.82C1742.52 2326.67 1764.85 2327.17 1781.21 2327.86C1797.58 2328.54 1815.44 2329.29 1825.86 2328.93C1836.27 2328.57 1840.14 2328.04 1843.71 2325.71C1847.29 2323.39 1847.29 2320.36 1847.29 2315C1847.29 2309.64 1843.12 2298.93 1843.71 2293.57C1844.31 2288.21 1846.39 2286.73 1850.86 2282.86C1855.32 2278.99 1866.04 2277.5 1870.5 2270.36C1874.96 2263.21 1876.01 2250.12 1877.64 2240C1879.28 2229.88 1879.88 2214.7 1880.32 2209.64" fill="none" stroke="#f0523c" stroke-width="4.2" stroke-linecap="round" stroke-linejoin="round" />
<path d="M1426.4 2178.1L1422.4 2177.1L1416.8 2175.6L1410.6 2173.7L1405 2171.4L1400.3 2168.5L1395.8 2165L1391.5 2161.2L1387.2 2157.4L1382.6 2153.4L1377.9 2149.1L1373.8 2145.2L1370.9 2142.5L1370.5 2142.9L1373.3 2145.7L1377.4 2149.7L1381.9 2154.1L1386.4 2158.3L1390.6 2162.1L1394.9 2166L1399.4 2169.7L1404.3 2172.9L1409.9 2175.5L1416.2 2177.6L1421.8 2179.2L1425.7 2180.5Z" fill="#f0523c"/>
<g><path d="M342.29 2437.28L349.75 2435.81M337.4 2462L345.46 2467.34M324.46 2473.4L327.83 2480.22M303 2476.11L300.96 2485.83M286.01 2466.74L278.92 2473.6M276.75 2441.55L269.07 2441.05M283.29 2423.85L276.23 2418.57M298.47 2412.58L294.78 2402.44M314.8 2410.96L315.89 2403.77M339.59 2429.22L347.37 2425.44" fill="none" stroke="#f0c45c" stroke-width="3.96" stroke-linecap="round"/><circle cx="309.8" cy="2443.7" r="36" fill="url(#gM1)"/><ellipse cx="299" cy="2434.7" rx="13.68" ry="10.8" fill="#fff6d6" opacity="0.55"/></g>
<g><path d="M491.49 2442.58L506.6 2441.3M491.06 2449.74L511.87 2454.01M488.71 2456.34L506.12 2465.45M486.54 2459.78L500.74 2470.46M479.3 2466.26L488.43 2481.66M473.27 2468.84L478.97 2489.14M470.16 2469.51L472.1 2482.64M462.21 2469.41L459.75 2483.59M459.95 2468.9L454.79 2487.96M450.88 2464.31L437.99 2480.49M446.3 2459.56L434.17 2468.48M445.35 2458.17L433.25 2465.87M441.69 2448.35L427.58 2450.43M441.48 2446.41L428.06 2447.32M441.71 2440.91L428.25 2438.86M443.96 2433.7L430.74 2427.25M447.11 2428.8L430.49 2415.17M450.92 2425.06L438.19 2409.01M458.74 2420.86L453.07 2403.45M463.85 2419.76L461.74 2399.79M469.96 2419.86L472.06 2404.71M474.59 2420.96L479.56 2406.36M480.33 2423.78L492.47 2405.42M485.02 2427.8L495.29 2418.44M488.65 2432.94L506.73 2423.35M490.78 2438.43L509.65 2433.56" fill="none" stroke="#846cf4" stroke-width="3.25" stroke-linecap="round"/><circle cx="466.5" cy="2444.7" r="29.5" fill="url(#gM2)"/><circle cx="466.5" cy="2444.7" r="23.6" fill="none" stroke="#b6a8fa" stroke-width="1.77" opacity="0.7"/></g>
<g><circle cx="634.8" cy="2442.5" r="43" fill="url(#gMono)"/><circle cx="632.65" cy="2442.5" r="33.11" fill="#7b5084"/><path d="M648.13 2404.8A39.99 39.99 0 0 1 648.13 2480.2A60.03 60.03 0 0 1 648.13 2404.8Z" fill="url(#gMonoIn)"/><path d="M648.13 2480.2A60.03 60.03 0 0 1 648.13 2404.8" fill="none" stroke="#5a2c48" stroke-width="2.58" opacity="0.5"/><circle cx="634.8" cy="2442.5" r="40.85" fill="none" stroke="#7a3238" stroke-width="4.3" opacity="0.85"/></g>
<g><path d="M891.29 2442.25Q902.81 2445.87 914.74 2442.74M886.88 2457.43Q893.58 2465.27 903.85 2467.7M878.67 2466.37Q883.42 2478.86 893.99 2487.48M863.81 2472.04Q861.57 2481.64 865.73 2490.85M852.54 2471.09Q846.22 2481.29 846.33 2493.54M841.6 2465.5Q830.55 2473.69 824.83 2486.48M833.02 2454.64Q821.99 2456.19 813.53 2463.82M830.37 2437.54Q819.32 2432.65 807.09 2434.42M832.39 2429.99Q824.42 2423.21 813.74 2422.34M841.59 2417.7Q838.65 2408.98 830.64 2404M854.86 2411.56Q855.91 2399.02 850.18 2387.51M866.85 2411.62Q872.79 2399.9 872 2386.51M882.69 2420.32Q893.06 2414.93 898.97 2404.55M888.95 2429.84Q898.45 2429.32 905.75 2422.85" fill="none" stroke="#3a7d40" stroke-width="2.38" stroke-linecap="round"/><circle cx="860.7" cy="2441.6" r="34" fill="url(#gMac)"/><path d="M882.72 2449.68q8.5 -6.8 11.9 3.4M858.47 2451.79q8.5 -6.8 11.9 3.4M876.24 2429.74q8.5 -6.8 11.9 3.4M869.48 2450.17q8.5 -6.8 11.9 3.4M861.23 2453.02q8.5 -6.8 11.9 3.4M876.41 2442.23q8.5 -6.8 11.9 3.4" fill="none" stroke="#a8d8b0" stroke-width="1.7" opacity="0.7" stroke-linecap="round"/></g>
<g><path d="M1113.8 2394.2C1121.08 2393.82 1132.2 2393.05 1139.1 2396.5C1146 2399.95 1152.9 2408 1155.2 2414.9C1157.5 2421.8 1152.13 2431 1152.9 2437.9C1153.67 2444.8 1160.95 2450.17 1159.8 2456.3C1158.65 2462.43 1150.98 2471.25 1146 2474.7C1141.02 2478.15 1134.5 2473.93 1129.9 2477C1125.3 2480.07 1123.77 2491.57 1118.4 2493.1C1113.03 2494.63 1103.07 2490.03 1097.7 2486.2C1092.33 2482.37 1091.18 2473.93 1086.2 2470.1C1081.22 2466.27 1070.1 2467.8 1067.8 2463.2C1065.5 2458.6 1070.48 2449.02 1072.4 2442.5C1074.32 2435.98 1078.53 2430.23 1079.3 2424.1C1080.07 2417.97 1074.32 2409.92 1077 2405.7C1079.68 2401.48 1089.27 2400.72 1095.4 2398.8C1101.53 2396.88 1106.52 2394.58 1113.8 2394.2Z" fill="url(#gNeu)"/><path d="M1088.5 2433.3C1091.18 2426.4 1095.02 2414.52 1100 2410.3C1104.98 2406.08 1113.8 2406.47 1118.4 2408C1123 2409.53 1128.37 2416.43 1127.6 2419.5C1126.83 2422.57 1116.87 2422.57 1113.8 2426.4C1110.73 2430.23 1110.73 2436.37 1109.2 2442.5C1107.67 2448.63 1107.67 2459.37 1104.6 2463.2C1101.53 2467.03 1094.25 2467.42 1090.8 2465.5C1087.35 2463.58 1084.28 2457.07 1083.9 2451.7C1083.52 2446.33 1085.82 2440.2 1088.5 2433.3Z" fill="#a86ac6" opacity="0.9"/><path d="M1129.9 2426.4C1132.58 2423.72 1141.02 2427.17 1143.7 2431C1146.38 2434.83 1147.15 2445.18 1146 2449.4C1144.85 2453.62 1139.87 2456.68 1136.8 2456.3C1133.73 2455.92 1128.75 2452.08 1127.6 2447.1C1126.45 2442.12 1127.22 2429.08 1129.9 2426.4Z" fill="#a86ac6" opacity="0.85"/></g>
<g><path d="M1393.9 2440.3C1393.9 2443.72 1388.72 2446.84 1387.63 2450.56C1386.54 2454.27 1389.21 2459.7 1387.36 2462.57C1385.51 2465.45 1379.46 2465.28 1376.54 2467.81C1373.61 2470.34 1372.92 2476.36 1369.82 2477.78C1366.71 2479.2 1361.71 2475.78 1357.88 2476.33C1354.05 2476.88 1350.22 2481.57 1346.84 2481.08C1343.45 2480.59 1341.1 2475.02 1337.58 2473.41C1334.06 2471.8 1328.3 2473.68 1325.72 2471.44C1323.14 2469.2 1324.17 2463.23 1322.08 2459.98C1319.99 2456.72 1314.13 2455.19 1313.17 2451.91C1312.21 2448.63 1316.3 2444.17 1316.3 2440.3C1316.3 2436.43 1312.21 2431.97 1313.17 2428.69C1314.13 2425.41 1319.99 2423.88 1322.08 2420.62C1324.17 2417.37 1323.14 2411.4 1325.72 2409.16C1328.3 2406.92 1334.06 2408.8 1337.58 2407.19C1341.1 2405.58 1343.45 2400.01 1346.84 2399.52C1350.22 2399.03 1354.05 2403.72 1357.88 2404.27C1361.71 2404.82 1366.71 2401.4 1369.82 2402.82C1372.92 2404.24 1373.61 2410.26 1376.54 2412.79C1379.46 2415.32 1385.51 2415.15 1387.36 2418.03C1389.21 2420.9 1386.54 2426.33 1387.63 2430.04C1388.72 2433.76 1393.9 2436.88 1393.9 2440.3Z" fill="url(#gLeu)"/><g fill="#fbf8fa" opacity="0.55"><circle cx="1333.78" cy="2436.86" r="7.5"/><circle cx="1374.31" cy="2424.22" r="5.97"/><circle cx="1366.94" cy="2435.51" r="5.78"/><circle cx="1367.04" cy="2449.98" r="5.3"/><circle cx="1349.7" cy="2459.95" r="7.28"/><circle cx="1352.79" cy="2434.05" r="5"/><circle cx="1352.11" cy="2458.64" r="7.48"/><circle cx="1361.45" cy="2413.41" r="6.68"/><circle cx="1345.11" cy="2431.54" r="5.8"/><circle cx="1357.6" cy="2457.53" r="6.74"/><circle cx="1339.97" cy="2434.02" r="6.16"/><circle cx="1352.97" cy="2465.49" r="6.66"/><circle cx="1352.43" cy="2415.2" r="5.7"/><circle cx="1361.12" cy="2447.91" r="7.7"/></g></g>
<ellipse cx="1575.9" cy="2442.5" rx="44" ry="9.5" fill="#eceeec"/>
<g fill="#b9bdb8"><circle cx="1550.94" cy="2443.7" r="0.8"/><circle cx="1601.11" cy="2448.55" r="0.8"/><circle cx="1605.66" cy="2442.74" r="0.8"/><circle cx="1585.46" cy="2441.05" r="0.8"/><circle cx="1544.8" cy="2440.28" r="0.8"/><circle cx="1600.91" cy="2443.83" r="0.8"/><circle cx="1567.7" cy="2437.03" r="0.8"/><circle cx="1573.26" cy="2439.17" r="0.8"/><circle cx="1576.96" cy="2445.32" r="0.8"/><circle cx="1535.56" cy="2442.19" r="0.8"/><circle cx="1544.71" cy="2438.49" r="0.8"/><circle cx="1548.92" cy="2447.41" r="0.8"/><circle cx="1594.1" cy="2445.23" r="0.8"/><circle cx="1559.44" cy="2436.07" r="0.8"/><circle cx="1564.94" cy="2443.69" r="0.8"/><circle cx="1573.9" cy="2446.37" r="0.8"/><circle cx="1568.58" cy="2450" r="0.8"/><circle cx="1588.27" cy="2450.1" r="0.8"/><circle cx="1583.02" cy="2441.13" r="0.8"/><circle cx="1554.61" cy="2446.62" r="0.8"/><circle cx="1602.97" cy="2443.31" r="0.8"/><circle cx="1587.57" cy="2440.91" r="0.8"/><circle cx="1563.89" cy="2440.81" r="0.8"/><circle cx="1540.89" cy="2438.7" r="0.8"/><circle cx="1577.01" cy="2443.24" r="0.8"/><circle cx="1602.61" cy="2445.63" r="0.8"/><circle cx="1588.06" cy="2442.77" r="0.8"/><circle cx="1535.6" cy="2442.68" r="0.8"/><circle cx="1552.69" cy="2445.09" r="0.8"/><circle cx="1567.62" cy="2440.52" r="0.8"/><circle cx="1560.59" cy="2440.81" r="0.8"/><circle cx="1543.99" cy="2437.25" r="0.8"/><circle cx="1605.4" cy="2444.61" r="0.8"/><circle cx="1563.14" cy="2440.47" r="0.8"/><circle cx="1571.13" cy="2450.92" r="0.8"/><circle cx="1590.53" cy="2442.45" r="0.8"/><circle cx="1564.5" cy="2434.54" r="0.8"/><circle cx="1578.65" cy="2449.12" r="0.8"/><circle cx="1600.39" cy="2443.87" r="0.8"/><circle cx="1561.03" cy="2436.7" r="0.8"/><circle cx="1577.78" cy="2440.03" r="0.8"/><circle cx="1553.55" cy="2448.98" r="0.8"/><circle cx="1551.51" cy="2439.63" r="0.8"/><circle cx="1541.86" cy="2447.38" r="0.8"/><circle cx="1570.81" cy="2441.98" r="0.8"/><circle cx="1583.19" cy="2437.86" r="0.8"/><circle cx="1558.17" cy="2444.1" r="0.8"/><circle cx="1553.44" cy="2444.18" r="0.8"/><circle cx="1604.17" cy="2446.07" r="0.8"/><circle cx="1605.57" cy="2447.04" r="0.8"/><circle cx="1612.54" cy="2443.69" r="0.8"/><circle cx="1586.31" cy="2436.89" r="0.8"/><circle cx="1570.58" cy="2438.4" r="0.8"/><circle cx="1573.71" cy="2436.98" r="0.8"/><circle cx="1580.85" cy="2450.79" r="0.8"/><circle cx="1555.08" cy="2445.53" r="0.8"/><circle cx="1592.1" cy="2438.51" r="0.8"/><circle cx="1567.26" cy="2439.45" r="0.8"/><circle cx="1587.67" cy="2438.89" r="0.8"/><circle cx="1615.31" cy="2445.12" r="0.8"/></g>
<text x="361.6" y="2452.4" font-size="21.4" stroke="#000" stroke-width="1">M1</text>
<text x="527.7" y="2452.4" font-size="21.4" stroke="#000" stroke-width="1">M2</text>
<text x="692" y="2452.4" font-size="21.4" stroke="#000" stroke-width="1">Monocyte</text>
<text x="919.6" y="2452.4" font-size="21.4" stroke="#000" stroke-width="1">Macrophage</text>
<text x="1170.5" y="2452.4" font-size="21.4" stroke="#000" stroke-width="1">Neutrophil</text>
<text x="1402.7" y="2452.4" font-size="21.4" stroke="#000" stroke-width="1">Leukocyte</text>
<text x="1630.4" y="2452.4" font-size="21.4" stroke="#000" stroke-width="1">EDPP</text>
</g>
</svg>
</body></html>
